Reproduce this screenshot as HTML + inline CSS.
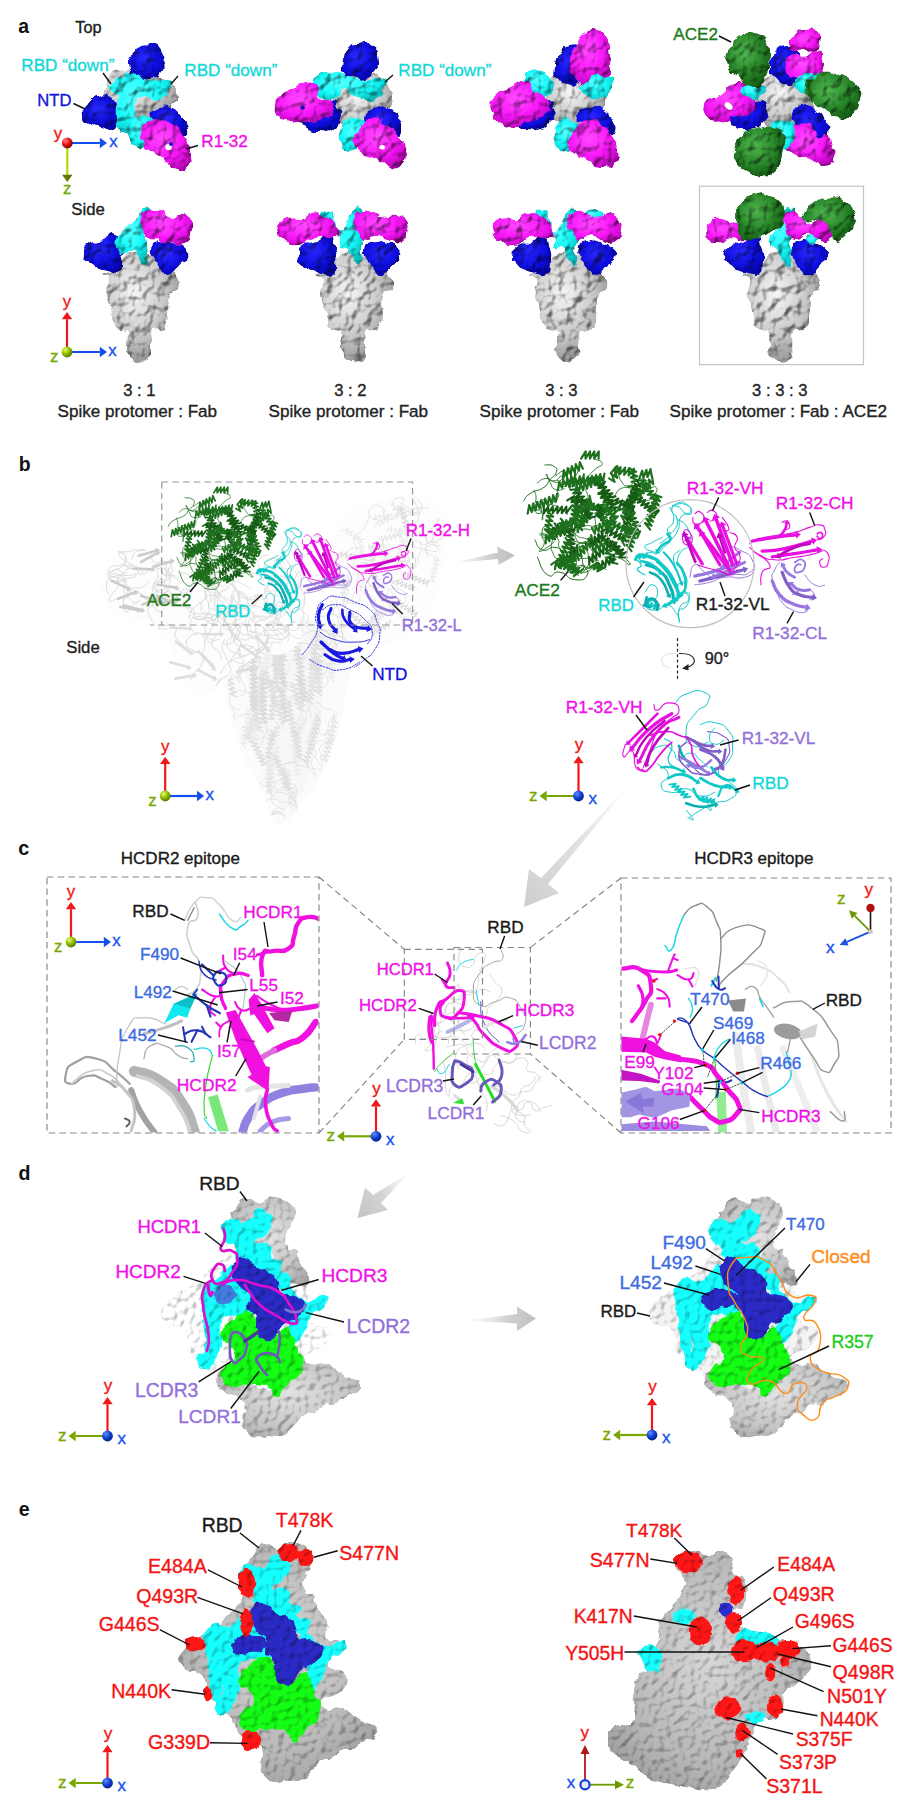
<!DOCTYPE html>
<html><head><meta charset="utf-8"><title>Figure</title>
<style>html,body{margin:0;padding:0;background:#fff}svg{display:block}text{font-family:"Liberation Sans",Arial,sans-serif}</style>
</head><body>
<svg width="922" height="1811" viewBox="0 0 922 1811">
<defs><radialGradient id="gB" cx="0.42" cy="0.38" r="0.75"><stop offset="0" stop-color="#2626f0"/><stop offset="0.55" stop-color="#0c0cd0"/><stop offset="1" stop-color="#02028a"/></radialGradient><radialGradient id="gC" cx="0.42" cy="0.38" r="0.75"><stop offset="0" stop-color="#4dffff"/><stop offset="0.55" stop-color="#12e6e6"/><stop offset="1" stop-color="#08a6a6"/></radialGradient><radialGradient id="gM" cx="0.42" cy="0.38" r="0.75"><stop offset="0" stop-color="#ff44ff"/><stop offset="0.55" stop-color="#e614e6"/><stop offset="1" stop-color="#a004a0"/></radialGradient><radialGradient id="gG" cx="0.42" cy="0.38" r="0.75"><stop offset="0" stop-color="#4aac4a"/><stop offset="0.55" stop-color="#237a23"/><stop offset="1" stop-color="#0e480e"/></radialGradient><radialGradient id="gS" cx="0.42" cy="0.38" r="0.75"><stop offset="0" stop-color="#e6e6e6"/><stop offset="0.5" stop-color="#bebebe"/><stop offset="1" stop-color="#767676"/></radialGradient><radialGradient id="sp_g" cx="0.35" cy="0.3" r="0.8"><stop offset="0" stop-color="#e8ff60"/><stop offset="0.5" stop-color="#8cb800"/><stop offset="1" stop-color="#4a6a00"/></radialGradient><radialGradient id="sp_b" cx="0.35" cy="0.3" r="0.8"><stop offset="0" stop-color="#6090ff"/><stop offset="0.5" stop-color="#1040d0"/><stop offset="1" stop-color="#001878"/></radialGradient><radialGradient id="sp_r" cx="0.35" cy="0.3" r="0.8"><stop offset="0" stop-color="#ff8080"/><stop offset="0.5" stop-color="#e01010"/><stop offset="1" stop-color="#600000"/></radialGradient><filter id="bump" x="-2%" y="-3%" width="104%" height="106%" color-interpolation-filters="sRGB">
<feTurbulence type="fractalNoise" baseFrequency="0.1" numOctaves="2" seed="7" result="n"/>
<feDisplacementMap in="SourceGraphic" in2="n" scale="7" xChannelSelector="R" yChannelSelector="G" result="d"/>
<feDiffuseLighting in="n" surfaceScale="4" diffuseConstant="1.2" lighting-color="#ffffff" result="l"><feDistantLight azimuth="225" elevation="55"/></feDiffuseLighting>
<feComposite in="l" in2="d" operator="arithmetic" k1="0.85" k2="0" k3="0.22" k4="0" result="m"/>
<feComposite in="m" in2="d" operator="in"/>
</filter><radialGradient id="gS2" cx="0.5" cy="0.45" r="0.7"><stop offset="0" stop-color="#cecece"/><stop offset="0.6" stop-color="#b4b4b4"/><stop offset="1" stop-color="#909090"/></radialGradient><radialGradient id="gS3" cx="0.5" cy="0.45" r="0.7"><stop offset="0" stop-color="#c4c4c4"/><stop offset="0.6" stop-color="#a8a8a8"/><stop offset="1" stop-color="#888888"/></radialGradient><filter id="bump2" x="-5%" y="-5%" width="110%" height="110%" color-interpolation-filters="sRGB">
<feTurbulence type="fractalNoise" baseFrequency="0.16" numOctaves="1" seed="11" result="n"/>
<feDisplacementMap in="SourceGraphic" in2="n" scale="6" xChannelSelector="R" yChannelSelector="G" result="d"/>
<feDiffuseLighting in="n" surfaceScale="3" diffuseConstant="1.2" lighting-color="#ffffff" result="l"><feDistantLight azimuth="225" elevation="58"/></feDiffuseLighting>
<feComposite in="l" in2="d" operator="arithmetic" k1="0.66" k2="0" k3="0.44" k4="0" result="m"/>
<feComposite in="m" in2="d" operator="in"/>
</filter><linearGradient id="arA" x1="0" x2="1" y1="0" y2="0"><stop offset="0" stop-color="#d8d8d8" stop-opacity="0"/><stop offset="0.6" stop-color="#cfcfcf"/><stop offset="1" stop-color="#bdbdbd"/></linearGradient><linearGradient id="arB" gradientUnits="userSpaceOnUse" x1="632" y1="782" x2="524" y2="907"><stop offset="0" stop-color="#e4e4e4" stop-opacity="0"/><stop offset="0.45" stop-color="#e2e2e2"/><stop offset="1" stop-color="#cecece"/></linearGradient><linearGradient id="arC" gradientUnits="userSpaceOnUse" x1="410" y1="1172" x2="358" y2="1219"><stop offset="0" stop-color="#e0e0e0" stop-opacity="0"/><stop offset="0.5" stop-color="#d4d4d4"/><stop offset="1" stop-color="#c4c4c4"/></linearGradient><linearGradient id="arD" gradientUnits="userSpaceOnUse" x1="466" y1="0" x2="536" y2="0"><stop offset="0" stop-color="#e0e0e0" stop-opacity="0"/><stop offset="0.6" stop-color="#d0d0d0"/><stop offset="1" stop-color="#c0c0c0"/></linearGradient></defs>
<rect width="922" height="1811" fill="#fff"/>
<g filter="url(#bump)">
<path d="M177.6,95 C178.4,102.7 179.1,100.4 173,106.9 C167,113.3 168.7,109.8 159.5,114.3 C150.3,118.8 155.7,118.4 145.4,120.3 C135.1,122.2 139.6,121.6 128.6,120.1 C117.7,118.6 121.9,120.3 112.6,115.9 C103.3,111.6 104.3,113.9 100.8,106.9 C97.3,100 100.4,102.4 102.1,95 C103.8,87.6 102.8,92 106,84.8 C109.2,77.6 104.2,78.2 111.7,73.3 C119.3,68.4 117.3,71.7 128.7,70 C140.1,68.3 136,66.1 145.9,68.3 C155.8,70.6 150,71.5 158.3,76.7 C166.7,81.9 164.4,77.7 170.9,83.8 C177.3,89.9 176.9,87.3 177.6,95Z" fill="url(#gS)" />
<path d="M134.8,51.7 C141.7,44.1 140.9,44.4 150,44 C159.1,43.6 157.4,44.4 162,50.6 C166.6,56.8 164.1,54.9 163.7,62.5 C163.3,70.1 165.1,68 160.9,73.4 C156.7,78.8 158.6,77.7 151,78.8 C143.4,79.9 145.2,80.6 138,76.6 C130.8,72.6 130.5,75.2 129.4,66.9 C128.3,58.6 127.9,59.3 134.8,51.7Z" fill="url(#gB)" />
<path d="M82.8,114.6 C82.4,108.1 81.7,109.9 87.1,103.8 C92.5,97.7 90.7,97.7 99,96.2 C107.3,94.7 105.7,94.7 112.1,99.4 C118.5,104.1 116.3,102.3 118.1,110.3 C119.9,118.3 119.5,116.8 117.5,123.3 C115.5,129.8 118.3,128.7 112.1,129.8 C105.9,130.9 107,128.7 99,126.5 C91,124.3 93.6,127.3 88.2,123.3 C82.8,119.3 83.2,121.1 82.8,114.6Z" fill="url(#gB)" />
<path d="M151.1,116.8 C149.6,111.4 151.1,112.1 157.6,109.2 C164.1,106.3 162.6,105.6 170.6,108.1 C178.6,110.6 176.1,110.3 181.5,116.8 C186.9,123.3 186.2,121.1 186.9,127.6 C187.6,134.1 188.3,134.1 183.6,136.3 C178.9,138.5 180,137.7 172.8,134.1 C165.6,130.5 169.2,131.2 162,125.4 C154.8,119.6 152.6,122.2 151.1,116.8Z" fill="url(#gB)" />
<path d="M106.6,83.8 C106.2,81.3 106.9,88 112,85.3 C117.1,82.6 115.3,79.9 121.8,75.6 C128.3,71.3 124.7,71.2 131.6,72.3 C138.5,73.4 134.5,76.1 142.4,78.8 C150.3,81.5 146.7,79.8 155.4,80.3 C164.1,80.8 162.6,79.7 168.5,80.3 C174.4,80.9 172.9,79.2 173.2,82 C173.5,84.8 172.6,83.5 169.5,88.6 C166.4,93.7 168.7,93.6 164,97.2 C159.3,100.8 161.9,99.4 155.4,99.4 C148.9,99.4 151.1,96.5 144.6,97.2 C138.1,97.9 139.2,95.1 135.9,101.6 C132.6,108.1 136.2,108.1 134.8,116.8 C133.4,125.5 134.9,122.2 131.6,127.6 C128.3,133 129.3,133 125,133 C120.7,133 121.3,134.5 118.6,127.6 C115.9,120.7 117,121.8 116.8,112.4 C116.6,103 119.3,105.9 118.1,99.4 C116.9,92.9 116.9,98.1 113.1,92.9 C109.3,87.7 107,86.3 106.6,83.8Z" fill="url(#gC)" />
<path d="M129.4,125.4 C131.6,118.5 130.1,120.8 135.9,117.9 C141.7,115 140.3,115 146.8,116.8 C153.3,118.6 153.2,117.5 155.4,123.3 C157.6,129.1 156.2,129 153.3,134.1 C150.4,139.2 150.4,134.2 146.8,138.5 C143.2,142.8 146.4,144.2 142.4,147.1 C138.4,150 139.1,150 134.8,147.1 C130.5,144.2 131.2,145.7 129.4,138.5 C127.6,131.3 127.2,132.3 129.4,125.4Z" fill="url(#gC)" />
<path d="M141.3,136.3 C143.1,128.7 142,126.5 148.9,121.1 C155.8,115.7 153.3,118.6 162,120 C170.7,121.4 167.1,119.2 175,125.4 C182.9,131.6 180.4,128.4 185.8,138.5 C191.2,148.6 190.5,146.4 191.2,155.8 C191.9,165.2 192.7,162 188,166.7 C183.3,171.4 185.1,172.1 177.1,169.9 C169.1,167.7 172.8,166.3 164.1,160.2 C155.4,154.1 158,156.9 151.1,151.5 C144.2,146.1 146.8,149 143.5,143.9 C140.2,138.8 139.5,143.9 141.3,136.3Z" fill="url(#gM)" />
<path d="M392.6,101 C391.4,109.8 389.8,105.8 384.8,113.3 C379.8,120.7 383.2,116.6 377.6,123.2 C371.9,129.9 375.7,130.1 367.9,133.3 C360.1,136.4 362.8,135 354.2,132.6 C345.7,130.3 348.4,132.3 342.3,126.1 C336.2,119.8 339.5,122.3 335.9,113.9 C332.2,105.6 331.9,109.9 331.4,101 C330.9,92.1 330.6,95.5 334.3,87.3 C338.1,79.1 335.7,81.2 342.6,76.4 C349.5,71.6 346.7,74.6 355,72.8 C363.2,71.1 359.5,69.7 367.4,71.2 C375.3,72.7 371.7,72 378.7,77.3 C385.7,82.5 383.7,79 388.3,86.9 C392.9,94.9 393.8,92.2 392.6,101Z" fill="url(#gS)" />
<path d="M341.1,66.1 C341.9,58.2 341.1,57.4 347.3,49.9 C353.5,42.4 351.1,44.9 359.8,43.7 C368.5,42.5 367.3,41.6 373.5,46.2 C379.7,50.8 377.7,49.5 378.5,57.4 C379.3,65.3 379.7,62.8 376,69.9 C372.3,77 374.4,76.1 367.3,78.6 C360.2,81.1 362.3,79.1 354.8,77.4 C347.3,75.7 349.4,77.4 344.8,73.6 C340.2,69.8 340.3,74 341.1,66.1Z" fill="url(#gB)" />
<path d="M301.2,122.3 C302.9,117.7 300.4,121.5 309.9,114.8 C319.4,108.1 320.2,104.8 329.8,102.3 C339.4,99.8 335.3,101.5 338.6,107.3 C341.9,113.1 341.9,112.3 339.8,119.8 C337.7,127.3 339.8,126.1 332.3,129.8 C324.8,133.5 326.5,131.4 317.4,131 C308.3,130.6 310.3,131.4 304.9,128.5 C299.5,125.6 299.5,126.9 301.2,122.3Z" fill="url(#gB)" />
<path d="M364.8,116 C366.4,110.6 366.4,111.1 374.7,108.6 C383,106.1 381.4,104.9 389.7,108.6 C398,112.3 396,111.9 399.7,119.8 C403.4,127.7 402.6,127.2 400.9,132.2 C399.2,137.2 400.9,136.3 394.7,134.7 C388.5,133.1 390.5,130.6 382.2,127.3 C373.9,124 375.6,128.6 369.8,124.8 C364,121 363.2,121.4 364.8,116Z" fill="url(#gB)" />
<path d="M313.6,79.9 C315.3,74.1 313.7,74.5 319.9,72.4 C326.1,70.3 324.8,73.2 332.3,73.6 C339.8,74 334.8,71.9 342.3,73.6 C349.8,75.3 345.6,76.5 354.8,78.6 C364,80.7 360.7,79.9 369.8,79.9 C378.9,79.9 376.2,78.2 382.2,78.6 C388.2,79 387.3,77.8 387.7,81.1 C388.1,84.4 387,83.2 383.5,88.6 C380,94 382.6,93.1 377.2,97.3 C371.8,101.5 374.4,101.5 367.3,101.1 C360.2,100.7 363.5,99.9 356,96.1 C348.5,92.3 350.6,90.2 344.8,89.8 C339,89.4 342.8,91.5 338.6,94.8 C334.4,98.1 338.5,99 332.3,99.8 C326.1,100.6 325.7,100.6 319.9,97.3 C314.1,94 317,95.6 314.9,89.8 C312.8,84 311.9,85.7 313.6,79.9Z" fill="url(#gC)" />
<path d="M275,104.8 C275.8,97.7 274.6,100.6 281.2,94.8 C287.8,89 285.3,91.4 294.9,87.3 C304.5,83.2 302,82.4 309.9,82.4 C317.8,82.4 316.1,82.3 318.6,87.3 C321.1,92.3 312.8,92.3 317.4,97.3 C322,102.3 327.7,96.9 332.3,102.3 C336.9,107.7 335.2,107.7 331.1,113.5 C327,119.3 328.6,116.5 319.9,119.8 C311.2,123.1 314.9,123.1 304.9,123.5 C294.9,123.9 298.6,123.5 289.9,121 C281.2,118.5 283.7,121.4 278.7,116 C273.7,110.6 274.2,111.9 275,104.8Z" fill="url(#gM)" />
<path d="M339.8,132.2 C341.7,125.1 339.9,125.6 346.1,121 C352.3,116.4 351.4,117.2 358.5,118.5 C365.6,119.8 364.8,118.5 367.3,124.8 C369.8,131.1 368.9,131.1 366,137.3 C363.1,143.5 362.2,138.9 358.5,143.5 C354.8,148.1 358.9,148.9 354.8,151 C350.7,153.1 350.9,152.6 346.1,149.7 C341.3,146.8 342.4,148 340.3,142.2 C338.2,136.4 337.9,139.3 339.8,132.2Z" fill="url(#gC)" />
<path d="M353.5,142.2 C353.5,133.5 356.1,133.9 362.3,126 C368.5,118.1 363.9,118.9 372.2,118.5 C380.5,118.1 378.5,118.5 387.2,124.8 C395.9,131.1 392.2,129 398.4,137.3 C404.6,145.6 404.2,141.4 405.9,149.7 C407.6,158 408,156.4 403.4,162.2 C398.8,168 400.9,168 392.2,167.2 C383.5,166.4 387.2,164.7 377.2,159.7 C367.2,154.7 370.2,158 362.3,152.2 C354.4,146.4 353.5,150.9 353.5,142.2Z" fill="url(#gM)" />
<path d="M605.3,100 C604.8,108.7 605.1,104.7 601.3,112.7 C597.6,120.7 600.6,118.2 594.1,123.9 C587.6,129.7 590.2,129.1 581.8,130 C573.4,130.9 576.8,129.6 568.9,126.7 C561,123.8 565.7,125.4 558.1,121.2 C550.5,116.9 550,121 546.1,113.9 C542.3,106.8 545.4,108.7 546.4,100 C547.5,91.3 546.7,96.3 549.4,87.7 C552.1,79.1 548.1,79.8 554.4,74.2 C560.8,68.6 559.1,72.7 568.4,70.9 C577.6,69.1 573.7,66.9 582.1,68.8 C590.5,70.7 586.7,70.7 593.6,76.7 C600.5,82.6 598.9,78.8 602.8,86.6 C606.7,94.4 605.8,91.3 605.3,100Z" fill="url(#gS)" />
<path d="M554.8,67.4 C555.6,59.5 554.8,61.2 559.8,53.7 C564.8,46.2 563.1,46.2 569.8,44.9 C576.5,43.6 575.7,43.2 579.8,49.9 C583.9,56.6 583,54.1 582.2,64.9 C581.4,75.7 582.3,75.7 577.3,82.3 C572.3,88.9 574,86.5 567.3,84.8 C560.6,83.1 561.5,83.1 557.3,77.3 C553.1,71.5 554,75.3 554.8,67.4Z" fill="url(#gB)" />
<path d="M516.1,123.5 C519,120.2 517.8,124.8 527.4,117.3 C537,109.8 536.1,103.9 544.8,101 C553.5,98.1 551.5,102.2 553.6,108.5 C555.7,114.8 554.9,113.1 551.1,119.8 C547.3,126.5 550.2,125.4 542.3,128.5 C534.4,131.6 535.3,129.6 527.4,129.2 C519.5,128.8 522.4,129.1 518.6,127.2 C514.8,125.3 513.2,126.8 516.1,123.5Z" fill="url(#gB)" />
<path d="M577.3,114.8 C579,109.6 578.9,109.9 587.2,107.8 C595.5,105.7 593.9,104.5 602.2,108.5 C610.5,112.5 608,111.9 612.2,119.8 C616.4,127.7 616.4,127.2 614.7,132.2 C613,137.2 613.9,136.8 607.2,134.7 C600.5,132.6 603,129.7 594.7,126 C586.4,122.3 588,127.2 582.2,123.5 C576.4,119.8 575.6,120 577.3,114.8Z" fill="url(#gB)" />
<path d="M579.8,84.8 C581.5,80.2 581,81 586,77.3 C591,73.6 587.6,74 594.7,73.6 C601.8,73.2 601.2,73.2 607.2,76.1 C613.2,79 611.9,76.9 612.7,82.3 C613.5,87.7 614,87.3 609.7,92.3 C605.4,97.3 607.2,96 599.7,97.3 C592.2,98.6 593.4,98.2 587.2,96.1 C581,94 583.5,94.9 581,91.1 C578.5,87.3 578.1,89.4 579.8,84.8Z" fill="url(#gC)" />
<path d="M569.8,64.9 C570.2,54.1 570.2,55.7 576,44.9 C581.8,34.1 580.1,37.4 587.2,32.4 C594.3,27.4 591,28.3 597.2,30 C603.4,31.7 601.7,29.9 605.9,37.4 C610.1,44.9 608,42.4 609.7,52.4 C611.4,62.4 612.2,59.1 610.9,67.4 C609.6,75.7 611.3,74.8 605.9,77.3 C600.5,79.8 601.8,72.8 594.7,74.9 C587.6,77 591.3,82.8 584.7,83.6 C578.1,84.4 579.8,83.5 574.8,77.3 C569.8,71.1 569.4,75.7 569.8,64.9Z" fill="url(#gM)" />
<path d="M523.6,78.6 C524,72.4 524.1,73.6 529.9,71.1 C535.7,68.6 534,68.6 541.1,71.1 C548.2,73.6 546.9,73.2 551.1,78.6 C555.3,84 554.9,81.5 553.6,87.3 C552.3,93.1 552.7,92.8 547.3,96.1 C541.9,99.4 543.5,99.4 537.3,97.3 C531.1,95.2 533.2,96 528.6,89.8 C524,83.6 523.2,84.8 523.6,78.6Z" fill="url(#gC)" />
<path d="M491.2,104.8 C492.2,99.4 488.7,101.9 494.9,96.1 C501.1,90.3 499.5,92.3 509.9,87.3 C520.3,82.3 518.6,80.3 526.1,81.1 C533.6,81.9 527,84.8 532.4,89.8 C537.8,94.8 536.5,91.1 542.3,96.1 C548.1,101.1 549,98.6 549.8,104.8 C550.6,111 551.4,109.4 544.8,114.8 C538.2,120.2 540.7,116.9 529.9,121 C519.1,125.1 523.2,127.2 512.4,127.2 C501.6,127.2 504.2,126 497.4,121 C490.6,116 494.1,117.7 492,112.3 C489.9,106.9 490.2,110.2 491.2,104.8Z" fill="url(#gM)" />
<path d="M553.6,134.7 C554,126.4 553.2,127.3 558.6,122.3 C564,117.3 562.7,118.6 569.8,119.8 C576.9,121 576.1,120.2 579.8,126 C583.5,131.8 582.7,130.5 581,137.2 C579.3,143.9 579.4,141 574.8,146 C570.2,151 573.1,151.8 567.3,152.2 C561.5,152.6 561.9,153 557.3,147.2 C552.7,141.4 553.2,143 553.6,134.7Z" fill="url(#gC)" />
<path d="M568.5,144.7 C568.5,136.8 568.6,137.6 574.8,129.7 C581,121.8 578.1,122.6 587.2,121 C596.3,119.4 593.9,119.4 602.2,124.8 C610.5,130.2 606.8,128.1 612.2,137.2 C617.6,146.3 617.6,143.5 618.4,152.2 C619.2,160.9 620.1,158.4 614.7,163.4 C609.3,168.4 611.4,168.4 602.2,167.2 C593,166 596.3,164.3 587.2,159.7 C578.1,155.1 581,158.4 574.8,153.4 C568.6,148.4 568.5,152.6 568.5,144.7Z" fill="url(#gM)" />
<path d="M812.7,100 C813,108.3 814.9,105.5 811.6,112.7 C808.3,120 809.4,117.2 802.8,121.8 C796.3,126.5 799.6,124.4 791.9,126.7 C784.2,129 788.2,129.1 779.7,128.7 C771.2,128.2 773.5,130.4 766.4,125.4 C759.3,120.5 762,122.3 758.3,113.8 C754.7,105.3 754.5,108.7 755.5,100 C756.5,91.3 757.2,95.6 761.3,87.7 C765.4,79.8 761.6,81.6 767.8,76.4 C774,71.2 771.8,73.3 779.8,72.1 C787.9,70.8 784.4,70.6 792,72.7 C799.6,74.8 796.5,73.4 802.7,78.4 C808.9,83.4 807.3,80.5 810.6,87.7 C814,94.9 812.4,91.7 812.7,100Z" fill="url(#gS)" />
<path d="M769.8,67.4 C769.8,59.1 769.8,59.5 774.8,52.4 C779.8,45.3 777.2,46.6 784.7,46.2 C792.2,45.8 792.2,44.1 797.2,51.2 C802.2,58.3 800.5,57 799.7,67.4 C798.9,77.8 799.7,76.5 794.7,82.3 C789.7,88.1 791.3,86.5 784.7,84.8 C778.1,83.1 779.8,83.1 774.8,77.3 C769.8,71.5 769.8,75.7 769.8,67.4Z" fill="url(#gB)" />
<path d="M726.1,109.8 C728.2,104.4 725.3,106.8 734.9,103.5 C744.5,100.2 744.4,98.1 754.8,99.8 C765.2,101.5 763.1,101 766,108.5 C768.9,116 768.1,115.4 763.5,122.3 C758.9,129.2 761,127.6 752.3,129.2 C743.6,130.8 745.2,130.3 737.3,127.2 C729.4,124.1 732.3,125.6 728.6,119.8 C724.9,114 724,115.2 726.1,109.8Z" fill="url(#gB)" />
<path d="M792.2,114.8 C793.9,107.7 794.3,107.7 802.2,106 C810.1,104.3 808,104.4 815.9,109.8 C823.8,115.2 821.7,113.2 825.9,122.3 C830.1,131.4 830.5,129.3 828.4,137.2 C826.3,145.1 825.9,145.2 819.7,146 C813.5,146.8 817.2,146 809.7,139.7 C802.2,133.4 803,135.5 797.2,127.2 C791.4,118.9 790.5,121.9 792.2,114.8Z" fill="url(#gB)" />
<path d="M789.7,44.9 C790.1,39.1 789.3,39.1 794.7,33.7 C800.1,28.3 798.4,29.1 805.9,28.7 C813.4,28.3 812.6,27 817.2,32.4 C821.8,37.8 821,38.2 819.7,44.9 C818.4,51.6 819.2,50.7 813.4,52.4 C807.6,54.1 808.8,50.3 802.2,49.9 C795.6,49.5 797.7,52.9 793.5,51.2 C789.3,49.5 789.3,50.7 789.7,44.9Z" fill="url(#gM)" />
<path d="M786,63.6 C787.2,57.4 786,57 792.2,54.9 C798.4,52.8 796.4,58.6 804.7,57.4 C813,56.2 811.2,50.8 817.2,51.2 C823.2,51.6 821,51.5 822.7,58.6 C824.4,65.7 824.9,64.5 822.2,72.4 C819.5,80.3 820.5,78.6 814.7,82.3 C808.9,86 810.5,85.3 804.7,83.6 C798.9,81.9 802.6,80.6 797.2,77.3 C791.8,74 792.2,78.2 788.5,73.6 C784.8,69 784.8,69.8 786,63.6Z" fill="url(#gM)" />
<path d="M703.7,107.3 C704.5,101.5 703.3,102.7 708.7,98.5 C714.1,94.3 712,99.4 719.9,94.8 C727.8,90.2 724.1,89 732.4,84.8 C740.7,80.6 738.2,79.8 744.8,82.3 C751.4,84.8 748.5,85.6 752.3,92.3 C756.1,99 756.1,95.6 756.1,102.3 C756.1,109 756.9,107.3 752.3,112.3 C747.7,117.3 748.9,116.5 742.3,117.3 C735.7,118.1 737,113.1 732.4,114.8 C727.8,116.5 734,120.2 728.6,122.3 C723.2,124.4 723.6,123.1 716.1,121 C708.6,118.9 710.3,120.6 706.2,116 C702.1,111.4 702.9,113.1 703.7,107.3Z" fill="url(#gM)" />
<path d="M783.5,142.2 C783.9,134.7 783.5,135.9 789.7,129.7 C795.9,123.5 794.3,123.9 802.2,123.5 C810.1,123.1 808.4,123.9 813.4,128.5 C818.4,133.1 813,135.1 817.2,137.2 C821.4,139.3 820.9,132.2 825.9,134.7 C830.9,137.2 829.6,137.2 832.1,144.7 C834.6,152.2 835.9,150.1 833.4,157.2 C830.9,164.3 831.8,165.1 824.7,165.9 C817.6,166.7 820.5,162.6 812.2,159.7 C803.9,156.8 807.6,159.7 799.7,157.2 C791.8,154.7 793.9,157.2 788.5,152.2 C783.1,147.2 783.1,149.7 783.5,142.2Z" fill="url(#gM)" />
<path d="M794.7,82.3 C795.5,76.5 795.5,76.5 802.2,73.6 C808.9,70.7 807.2,71.9 814.7,73.6 C822.2,75.3 823,73.2 824.7,78.6 C826.4,84 824.7,84.8 819.7,89.8 C814.7,94.8 816.4,93.2 809.7,93.6 C803,94 804.7,94.9 799.7,91.1 C794.7,87.3 793.9,88.1 794.7,82.3Z" fill="url(#gC)" />
<path d="M741.1,89.8 C741.1,85.2 741.9,86.1 747.3,83.6 C752.7,81.1 751.5,80.2 757.3,82.3 C763.1,84.4 764,84.8 764.8,89.8 C765.6,94.8 765.6,94.8 759.8,97.3 C754,99.8 753.5,99.8 747.3,97.3 C741.1,94.8 741.1,94.4 741.1,89.8Z" fill="url(#gC)" />
<path d="M771,127.2 C772.7,120.1 772.7,122.2 779.8,121 C786.9,119.8 787.2,118.9 792.2,123.5 C797.2,128.1 795.5,127.2 794.7,134.7 C793.9,142.2 793.9,141 789.7,146 C785.5,151 787.2,151 782.2,149.7 C777.2,148.4 778.5,149.7 774.8,142.2 C771.1,134.7 769.3,134.3 771,127.2Z" fill="url(#gC)" />
<path d="M727.4,67.4 C724.9,57.8 724.9,58.2 729.9,47.4 C734.9,36.6 733.2,39.5 742.3,34.9 C751.4,30.3 749,31.2 757.3,33.7 C765.6,36.2 763.1,33.7 767.3,42.4 C771.5,51.1 770.2,49.1 769.8,59.9 C769.4,70.7 768.5,66.6 766,74.9 C763.5,83.2 767.7,81.5 762.3,84.8 C756.9,88.1 758.1,87.7 749.8,84.8 C741.5,81.9 744.8,81.9 737.3,76.1 C729.8,70.3 729.9,77 727.4,67.4Z" fill="url(#gG)" />
<path d="M804.7,87.3 C805.5,79.4 806.4,82.3 814.7,77.3 C823,72.3 819.6,72.4 829.6,72.4 C839.6,72.4 835,72.3 844.6,77.3 C854.2,82.3 853.3,79 858.3,87.3 C863.3,95.6 861.7,93.1 859.6,102.3 C857.5,111.5 858.8,109.4 852.1,114.8 C845.4,120.2 848.7,120.2 839.6,118.5 C830.5,116.8 833.8,115.6 824.7,109.8 C815.6,104 818.9,108.5 812.2,101 C805.5,93.5 803.9,95.2 804.7,87.3Z" fill="url(#gG)" />
<path d="M734.9,149.7 C736.6,140.5 734.8,141.8 742.3,134.7 C749.8,127.6 746.5,131 757.3,128.5 C768.1,126 766.1,124.3 774.8,127.2 C783.5,130.1 781,128 783.5,137.2 C786,146.4 784.3,143.9 782.2,154.7 C780.1,165.5 783.9,162.5 777.3,169.6 C770.7,176.7 772.3,175.1 762.3,175.9 C752.3,176.7 755.6,176.7 747.3,172.1 C739,167.5 741.4,169.7 737.3,162.2 C733.2,154.7 733.2,158.9 734.9,149.7Z" fill="url(#gG)" />
<path d="M122.4,259.9 C127.4,254.8 125.7,253.2 132.3,251.9 C138.9,250.6 138.6,253.4 147.3,254.9 C156,256.4 157.5,252.8 164.8,257.4 C172.1,262 171,264.3 174.7,272.3 C178.4,280.3 179.8,281.3 178.5,287.3 C177.2,293.3 172.5,288.2 169.8,294.8 C167.1,301.4 169.4,303.8 168.3,312.2 C167.2,320.6 168.2,321.3 165.5,326.2 C162.8,331.1 161.7,329.1 158,330.5 C154.3,331.9 153.4,327.7 151.5,331.5 C149.6,335.3 151.5,337.7 151,344.7 C150.5,351.7 152.5,353.1 149.5,357.6 C146.5,362.1 145.4,362 139.8,361.5 C134.2,361 131.9,360.9 128.6,355.6 C125.3,350.3 127.2,348.1 127.3,341.7 C127.4,335.3 130.2,334.5 128.8,331.5 C127.4,328.5 125.8,332.2 122,330.5 C118.2,328.8 117.4,331.2 114.4,325 C111.4,318.8 112.8,315.4 110.6,307.3 C108.4,299.2 106.6,302.1 106.1,294.8 C105.6,287.5 109.9,285.1 108.6,279.8 C107.3,274.5 99.9,277.1 101.2,274.8 C102.5,272.5 107.9,275.1 113.6,271.1 C119.3,267.1 117.4,265 122.4,259.9Z" fill="url(#gS)" />
<path d="M83.7,254.9 C84.5,249.1 82.5,248.6 88.7,243.6 C94.9,238.6 93.7,243.6 102.4,239.9 C111.1,236.2 108.7,230.7 114.9,232.4 C121.1,234.1 118.6,235.7 121.1,244.9 C123.6,254.1 123.2,250.8 122.4,259.9 C121.6,269 123.6,268.6 118.6,272.3 C113.6,276 115.3,272.8 107.4,271.1 C99.5,269.4 102,270.6 94.9,267.3 C87.8,264 89.9,265.2 86.2,261.1 C82.5,257 82.9,260.7 83.7,254.9Z" fill="url(#gB)" />
<path d="M151,248.6 C152.2,242.3 151.4,243.2 158.5,241.1 C165.6,239 163.5,239.9 172.2,242.4 C180.9,244.9 179.7,243.6 184.7,248.6 C189.7,253.6 188.9,252 187.2,257.4 C185.5,262.8 185.5,259.2 179.7,264.8 C173.9,270.4 176,272.6 169.8,274.3 C163.6,276 166,274.6 161,269.8 C156,265 158.1,267 154.8,259.9 C151.5,252.8 149.8,254.9 151,248.6Z" fill="url(#gB)" />
<path d="M336.4,259.9 C341.4,254.8 339.7,253.2 346.3,251.9 C352.9,250.6 352.6,253.4 361.3,254.9 C370,256.4 371.5,252.8 378.8,257.4 C386.1,262 385,264.3 388.7,272.3 C392.4,280.3 393.8,281.3 392.5,287.3 C391.2,293.3 386.5,288.2 383.8,294.8 C381.1,301.4 383.4,303.8 382.3,312.2 C381.2,320.6 382.2,321.3 379.5,326.2 C376.8,331.1 375.7,329.1 372,330.5 C368.3,331.9 367.4,327.7 365.5,331.5 C363.6,335.3 365.5,337.7 365,344.7 C364.5,351.7 366.5,353.1 363.5,357.6 C360.5,362.1 359.4,362 353.8,361.5 C348.2,361 345.9,360.9 342.6,355.6 C339.3,350.3 341.2,348.1 341.3,341.7 C341.4,335.3 344.2,334.5 342.8,331.5 C341.4,328.5 339.8,332.2 336,330.5 C332.2,328.8 331.4,331.2 328.4,325 C325.4,318.8 326.8,315.4 324.6,307.3 C322.4,299.2 320.6,302.1 320.1,294.8 C319.6,287.5 323.9,285.1 322.6,279.8 C321.3,274.5 313.9,277.1 315.2,274.8 C316.5,272.5 321.9,275.1 327.6,271.1 C333.3,267.1 331.4,265 336.4,259.9Z" fill="url(#gS)" />
<path d="M297.7,256.9 C298.5,251.1 296.5,250.6 302.7,245.6 C308.9,240.6 307.7,245.6 316.4,241.9 C325.1,238.2 322.7,232.7 328.9,234.4 C335.1,236.1 332.6,237.7 335.1,246.9 C337.6,256.1 337.2,252.8 336.4,261.9 C335.6,271 337.6,270.6 332.6,274.3 C327.6,278 329.3,274.8 321.4,273.1 C313.5,271.4 316,272.6 308.9,269.3 C301.8,266 303.9,267.2 300.2,263.1 C296.5,259 296.9,262.7 297.7,256.9Z" fill="url(#gB)" />
<path d="M364,248.6 C365.2,242.3 364.4,243.2 371.5,241.1 C378.6,239 376.5,239.9 385.2,242.4 C393.9,244.9 392.7,243.6 397.7,248.6 C402.7,253.6 401.9,252 400.2,257.4 C398.5,262.8 398.5,259.2 392.7,264.8 C386.9,270.4 389,272.6 382.8,274.3 C376.6,276 379,274.6 374,269.8 C369,265 371.1,267 367.8,259.9 C364.5,252.8 362.8,254.9 364,248.6Z" fill="url(#gB)" />
<path d="M550.9,259.9 C555.9,254.8 554.2,253.2 560.8,251.9 C567.4,250.6 567.1,253.4 575.8,254.9 C584.5,256.4 586,252.8 593.3,257.4 C600.6,262 599.5,264.3 603.2,272.3 C606.9,280.3 608.3,281.3 607,287.3 C605.7,293.3 601,288.2 598.3,294.8 C595.6,301.4 597.9,303.8 596.8,312.2 C595.7,320.6 596.7,321.3 594,326.2 C591.3,331.1 590.2,329.1 586.5,330.5 C582.8,331.9 581.9,327.7 580,331.5 C578.1,335.3 580,337.7 579.5,344.7 C579,351.7 581,353.1 578,357.6 C575,362.1 573.9,362 568.3,361.5 C562.7,361 560.4,360.9 557.1,355.6 C553.8,350.3 555.7,348.1 555.8,341.7 C555.9,335.3 558.7,334.5 557.3,331.5 C555.9,328.5 554.3,332.2 550.5,330.5 C546.7,328.8 545.9,331.2 542.9,325 C539.9,318.8 541.3,315.4 539.1,307.3 C536.9,299.2 535.1,302.1 534.6,294.8 C534.1,287.5 538.4,285.1 537.1,279.8 C535.8,274.5 528.4,277.1 529.7,274.8 C531,272.5 536.4,275.1 542.1,271.1 C547.8,267.1 545.9,265 550.9,259.9Z" fill="url(#gS)" />
<path d="M512.2,256.9 C513,251.1 511,250.6 517.2,245.6 C523.4,240.6 522.2,245.6 530.9,241.9 C539.6,238.2 537.2,232.7 543.4,234.4 C549.6,236.1 547.1,237.7 549.6,246.9 C552.1,256.1 551.7,252.8 550.9,261.9 C550.1,271 552.1,270.6 547.1,274.3 C542.1,278 543.8,274.8 535.9,273.1 C528,271.4 530.5,272.6 523.4,269.3 C516.3,266 518.4,267.2 514.7,263.1 C511,259 511.4,262.7 512.2,256.9Z" fill="url(#gB)" />
<path d="M578.5,248.6 C579.7,242.3 578.9,243.2 586,241.1 C593.1,239 591,239.9 599.7,242.4 C608.4,244.9 607.2,243.6 612.2,248.6 C617.2,253.6 616.4,252 614.7,257.4 C613,262.8 613,259.2 607.2,264.8 C601.4,270.4 603.5,272.6 597.3,274.3 C591.1,276 593.5,274.6 588.5,269.8 C583.5,265 585.6,267 582.3,259.9 C579,252.8 577.3,254.9 578.5,248.6Z" fill="url(#gB)" />
<path d="M763.9,259.9 C768.9,254.8 767.2,253.2 773.8,251.9 C780.4,250.6 780.1,253.4 788.8,254.9 C797.5,256.4 799,252.8 806.3,257.4 C813.6,262 812.5,264.3 816.2,272.3 C819.9,280.3 821.3,281.3 820,287.3 C818.7,293.3 814,288.2 811.3,294.8 C808.6,301.4 810.9,303.8 809.8,312.2 C808.7,320.6 809.7,321.3 807,326.2 C804.3,331.1 803.2,329.1 799.5,330.5 C795.8,331.9 794.9,327.7 793,331.5 C791.1,335.3 793,337.7 792.5,344.7 C792,351.7 794,353.1 791,357.6 C788,362.1 786.9,362 781.3,361.5 C775.7,361 773.4,360.9 770.1,355.6 C766.8,350.3 768.7,348.1 768.8,341.7 C768.9,335.3 771.7,334.5 770.3,331.5 C768.9,328.5 767.3,332.2 763.5,330.5 C759.7,328.8 758.9,331.2 755.9,325 C752.9,318.8 754.3,315.4 752.1,307.3 C749.9,299.2 748.1,302.1 747.6,294.8 C747.1,287.5 751.4,285.1 750.1,279.8 C748.8,274.5 741.4,277.1 742.7,274.8 C744,272.5 749.4,275.1 755.1,271.1 C760.8,267.1 758.9,265 763.9,259.9Z" fill="url(#gS)" />
<path d="M724.2,256.9 C725,251.1 723,250.6 729.2,245.6 C735.4,240.6 734.2,245.6 742.9,241.9 C751.6,238.2 749.2,232.7 755.4,234.4 C761.6,236.1 759.1,237.7 761.6,246.9 C764.1,256.1 763.7,252.8 762.9,261.9 C762.1,271 764.1,270.6 759.1,274.3 C754.1,278 755.8,274.8 747.9,273.1 C740,271.4 742.5,272.6 735.4,269.3 C728.3,266 730.4,267.2 726.7,263.1 C723,259 723.4,262.7 724.2,256.9Z" fill="url(#gB)" />
<path d="M791.5,248.6 C792.7,242.3 791.9,243.2 799,241.1 C806.1,239 804,239.9 812.7,242.4 C821.4,244.9 820.2,243.6 825.2,248.6 C830.2,253.6 829.4,252 827.7,257.4 C826,262.8 826,259.2 820.2,264.8 C814.4,270.4 816.5,272.6 810.3,274.3 C804.1,276 806.5,274.6 801.5,269.8 C796.5,265 798.6,267 795.3,259.9 C792,252.8 790.3,254.9 791.5,248.6Z" fill="url(#gB)" />
<path d="M144.8,208 C148.1,207.2 149.8,204.4 149.8,210 C149.8,215.6 146,213.3 144.8,224.9 C143.6,236.5 145.3,232.8 146.1,244.9 C146.9,257 148.6,255.3 147.3,261.1 C146,266.9 145.2,263.5 142.3,262.3 C139.4,261.1 141.1,262 138.6,257.4 C136.1,252.8 139.4,249.4 134.8,248.6 C130.2,247.8 130.3,254.5 124.9,254.9 C119.5,255.3 121.3,254.9 118.6,249.9 C115.9,244.9 115.6,246.6 116.9,239.9 C118.2,233.2 117.3,235.7 122.4,229.9 C127.5,224.1 126.5,228.2 132.3,222.4 C138.1,216.6 135.6,217.3 139.8,212.5 C144,207.7 141.5,208.8 144.8,208Z" fill="url(#gC)" />
<path d="M141.1,217.4 C142.8,211.8 141.1,212.6 147.3,210.5 C153.5,208.4 152.3,208.9 159.8,211.2 C167.3,213.5 162.3,216.1 169.8,217.4 C177.3,218.7 175.1,214.2 182.2,215 C189.3,215.8 187.8,214.1 191,219.9 C194.2,225.7 193.8,224.5 191.7,232.4 C189.6,240.3 191.2,240.3 184.7,243.6 C178.2,246.9 180.5,243.6 172.2,242.4 C163.9,241.2 168.1,241.6 159.8,239.9 C151.5,238.2 153.1,241.6 147.3,237.4 C141.5,233.2 144.4,234.1 142.3,227.4 C140.2,220.7 139.4,223 141.1,217.4Z" fill="url(#gM)" />
<path d="M321.9,212 C323.2,208.3 326.8,208.6 331.1,211.2 C335.4,213.8 331.7,213.7 334.8,219.9 C337.9,226.1 336.5,229.1 340.3,229.9 C344.1,230.7 341.7,228.6 346.1,222.4 C350.5,216.2 348.5,215.8 353.5,211.2 C358.5,206.6 358.1,206.6 361,208.7 C363.9,210.8 363.1,211.2 362.3,217.4 C361.5,223.6 358.5,220.7 358.5,227.4 C358.5,234.1 361.5,230.3 362.3,237.4 C363.1,244.5 361.4,240.7 361,248.6 C360.6,256.5 362.7,256.7 361,261.1 C359.3,265.5 359.3,263.9 356,261.8 C352.7,259.7 353.9,259.3 351,254.9 C348.1,250.5 350.6,251.1 347.3,248.6 C344,246.1 343.8,251.1 341.1,247.4 C338.4,243.7 341.4,243.2 339.3,237.4 C337.2,231.6 338.8,234.9 334.8,229.9 C330.8,224.9 331.6,228.4 327.3,222.4 C323,216.4 320.6,215.7 321.9,212Z" fill="url(#gC)" />
<path d="M277.5,232.4 C275,225.3 275.4,226.2 280,221.2 C284.6,216.2 284.1,217.8 291.2,217.4 C298.3,217 294.1,221.1 301.2,219.9 C308.3,218.7 304.1,214.9 312.4,213.7 C320.7,212.5 318.6,212.5 326.1,216.2 C333.6,219.9 330.4,218.7 334.8,224.9 C339.2,231.1 340.1,230.7 339.3,234.9 C338.5,239.1 338.8,237 332.3,237.4 C325.8,237.8 327.4,235.4 319.9,236.2 C312.4,237 316.6,237 309.9,239.9 C303.2,242.8 307.4,244.1 299.9,244.9 C292.4,245.7 294.9,246.6 287.4,242.4 C279.9,238.2 280,239.5 277.5,232.4Z" fill="url(#gM)" />
<path d="M353.5,219.9 C354.3,212 355.6,213.3 362.3,211.2 C369,209.1 366,211.6 373.5,213.7 C381,215.8 377.2,217.4 384.7,217.4 C392.2,217.4 389.2,212.9 395.9,213.7 C402.6,214.5 401.1,214.1 404.7,219.9 C408.3,225.7 408.4,223.7 406.7,231.2 C405,238.7 405.4,239.1 399.7,242.4 C394,245.7 397.2,243.2 389.7,241.1 C382.2,239 384.7,236.6 377.2,236.2 C369.7,235.8 373.1,240.3 367.3,239.9 C361.5,239.5 364.4,241.6 359.8,234.9 C355.2,228.2 352.7,227.8 353.5,219.9Z" fill="url(#gM)" />
<path d="M536.4,212 C537.7,208.3 541.3,208.6 545.6,211.2 C549.9,213.8 546.2,213.7 549.3,219.9 C552.4,226.1 551,229.1 554.8,229.9 C558.6,230.7 556.2,228.6 560.6,222.4 C565,216.2 563,215.8 568,211.2 C573,206.6 572.6,206.6 575.5,208.7 C578.4,210.8 577.6,211.2 576.8,217.4 C576,223.6 573,220.7 573,227.4 C573,234.1 576,230.3 576.8,237.4 C577.6,244.5 575.9,240.7 575.5,248.6 C575.1,256.5 577.2,256.7 575.5,261.1 C573.8,265.5 573.8,263.9 570.5,261.8 C567.2,259.7 568.4,259.3 565.5,254.9 C562.6,250.5 565.1,251.1 561.8,248.6 C558.5,246.1 558.3,251.1 555.6,247.4 C552.9,243.7 555.9,243.2 553.8,237.4 C551.7,231.6 553.3,234.9 549.3,229.9 C545.3,224.9 546.1,228.4 541.8,222.4 C537.5,216.4 535.1,215.7 536.4,212Z" fill="url(#gC)" />
<path d="M586,212 C588.7,208.3 593,208.7 598,211 C603,213.3 603.7,215.3 601,219 C598.3,222.7 595,224.3 590,222 C585,219.7 583.3,215.7 586,212Z" fill="url(#gC)" />
<path d="M492.5,232.4 C490,225.3 490.4,226.2 495,221.2 C499.6,216.2 499.1,217.8 506.2,217.4 C513.3,217 509.1,221.1 516.2,219.9 C523.3,218.7 519.1,214.9 527.4,213.7 C535.7,212.5 533.6,212.5 541.1,216.2 C548.6,219.9 545.4,218.7 549.8,224.9 C554.2,231.1 555.1,230.7 554.3,234.9 C553.5,239.1 553.8,237 547.3,237.4 C540.8,237.8 542.4,235.4 534.9,236.2 C527.4,237 531.6,237 524.9,239.9 C518.2,242.8 522.4,244.1 514.9,244.9 C507.4,245.7 509.9,246.6 502.4,242.4 C494.9,238.2 495,239.5 492.5,232.4Z" fill="url(#gM)" />
<path d="M567.5,219.9 C568.3,212 569.6,213.3 576.3,211.2 C583,209.1 580,211.6 587.5,213.7 C595,215.8 591.2,217.4 598.7,217.4 C606.2,217.4 603.2,212.9 609.9,213.7 C616.6,214.5 615.1,214.1 618.7,219.9 C622.3,225.7 622.4,223.7 620.7,231.2 C619,238.7 619.4,239.1 613.7,242.4 C608,245.7 611.2,243.2 603.7,241.1 C596.2,239 598.7,236.6 591.2,236.2 C583.7,235.8 587.1,240.3 581.3,239.9 C575.5,239.5 578.4,241.6 573.8,234.9 C569.2,228.2 566.7,227.8 567.5,219.9Z" fill="url(#gM)" />
<path d="M769.3,236.1 C771.4,231.9 771.6,238.2 776.1,229.9 C780.6,221.6 777.8,218 782.8,211.2 C787.8,204.4 786.6,208.6 791,209.4 C795.4,210.2 796.4,207.7 796,213.7 C795.6,219.7 791.5,217.8 789.8,227.4 C788.1,237 791,230.8 791,242.4 C791,254 792,255.2 789.8,262.3 C787.6,269.4 787.6,266.5 784.3,263.6 C781,260.7 783.4,259 779.8,253.6 C776.2,248.2 776.9,251.1 773.6,247.4 C770.3,243.7 771.2,246.2 769.8,242.4 C768.4,238.6 767.2,240.3 769.3,236.1Z" fill="url(#gC)" />
<path d="M808,236 C810.7,233 813.3,231.7 816,234 C818.7,236.3 818.7,240 816,243 C813.3,246 810.7,245.3 808,243 C805.3,240.7 805.3,239 808,236Z" fill="url(#gC)" />
<path d="M706.2,233.6 C706.2,227.4 705.4,227.4 710,222.4 C714.6,217.4 713.3,218.7 719.9,218.7 C726.5,218.7 723.2,219.9 729.9,222.4 C736.6,224.9 734.9,221.5 739.9,226.1 C744.9,230.7 744.9,231.1 744.9,236.1 C744.9,241.1 744.9,240.3 739.9,241.1 C734.9,241.9 736.6,237.8 729.9,238.6 C723.2,239.4 726.5,242.8 719.9,243.6 C713.3,244.4 714.6,244.4 710,241.1 C705.4,237.8 706.2,239.8 706.2,233.6Z" fill="url(#gM)" />
<path d="M782.3,217.4 C784.8,212.2 785.7,211.9 792.3,211.9 C798.9,211.9 796.4,213.9 802.2,217.4 C808,220.9 803.9,222.4 809.7,222.4 C815.5,222.4 813,218.2 819.7,217.4 C826.4,216.6 825.1,215.7 829.7,219.9 C834.3,224.1 833.8,223.2 833.4,229.9 C833,236.6 833.8,237 828.4,239.9 C823,242.8 824.3,240.3 817.2,238.6 C810.1,236.9 813.8,234.5 807.2,234.9 C800.6,235.3 803.5,239.5 797.3,239.9 C791.1,240.3 792.7,240.3 788.5,236.1 C784.3,231.9 786.9,233.6 784.8,227.4 C782.7,221.2 779.8,222.6 782.3,217.4Z" fill="url(#gM)" />
<path d="M803.5,213.7 C806,207.4 806,207.8 814.7,202.4 C823.4,197 819.7,197.9 829.7,197.5 C839.7,197.1 836.4,196.2 844.7,201.2 C853,206.2 851.7,204.1 854.6,212.4 C857.5,220.7 856.7,218.2 853.4,226.1 C850.1,234 850.9,231.1 844.7,236.1 C838.5,241.1 839.7,243.2 834.7,241.1 C829.7,239 834.7,237 829.7,229.9 C824.7,222.8 827.2,222.8 819.7,219.9 C812.2,217 812.6,223.3 807.2,221.2 C801.8,219.1 801,220 803.5,213.7Z" fill="url(#gG)" />
<path d="M736.1,217.4 C736.5,208.7 733.6,211.6 739.9,203.7 C746.2,195.8 744.9,196.6 754.9,193.7 C764.9,190.8 762.3,192.9 769.8,195 C777.3,197.1 772.7,195 777.3,200 C781.9,205 781.8,202.4 783.5,209.9 C785.2,217.4 785.2,215.7 782.3,222.4 C779.4,229.1 781.5,225.3 774.8,229.9 C768.1,234.5 771.4,232.8 762.3,236.1 C753.2,239.4 755.3,242 747.4,239.9 C739.5,237.8 742.4,237.4 738.6,229.9 C734.8,222.4 735.7,226.1 736.1,217.4Z" fill="url(#gG)" />
</g>
<circle cx="168.5" cy="147.1" r="3.2" fill="#fff"/><circle cx="171" cy="144" r="2" fill="#1010c0"/>
<circle cx="302.9" cy="107.8" r="2" fill="#1010c0"/>
<ellipse cx="382.2" cy="147.2" rx="2.8" ry="2.2" fill="#fff"/>
<ellipse cx="728.6" cy="106" rx="4.5" ry="3" fill="#fff" transform="rotate(40 728.6 106)"/>
<rect x="699.5" y="186.2" width="164" height="178.4" fill="none" stroke="#c4c4c4" stroke-width="1.2"/>
<text x="18.3" y="32.7" fill="#111" font-size="19.4" text-anchor="start" font-weight="bold" >a</text>
<text x="75.3" y="33.2" fill="#222" font-size="16.3" text-anchor="start" font-weight="normal"  stroke="#222" stroke-width="0.35">Top</text>
<text x="71.3" y="214.7" fill="#222" font-size="16.8" text-anchor="start" font-weight="normal"  stroke="#222" stroke-width="0.35">Side</text>
<text x="21.3" y="71.2" fill="#12d8d8" font-size="17.1" text-anchor="start" font-weight="normal"  stroke="#12d8d8" stroke-width="0.35">RBD “down”</text>
<text x="184.3" y="76.2" fill="#12d8d8" font-size="17.1" text-anchor="start" font-weight="normal"  stroke="#12d8d8" stroke-width="0.35">RBD “down”</text>
<text x="398.3" y="76.2" fill="#12d8d8" font-size="17.1" text-anchor="start" font-weight="normal"  stroke="#12d8d8" stroke-width="0.35">RBD “down”</text>
<text x="37.3" y="106.2" fill="#1414d8" font-size="16.6" text-anchor="start" font-weight="normal"  stroke="#1414d8" stroke-width="0.35">NTD</text>
<text x="201.3" y="147.2" fill="#f010e8" font-size="17.1" text-anchor="start" font-weight="normal"  stroke="#f010e8" stroke-width="0.35">R1-32</text>
<text x="673.3" y="40.2" fill="#1c7c1c" font-size="17.1" text-anchor="start" font-weight="normal"  stroke="#1c7c1c" stroke-width="0.35">ACE2</text>
<line x1="103" y1="73" x2="111" y2="84" stroke="#111" stroke-width="1.4" />
<line x1="171" y1="84" x2="178" y2="76" stroke="#111" stroke-width="1.4" />
<line x1="73.5" y1="103.5" x2="85" y2="109" stroke="#111" stroke-width="1.4" />
<line x1="186" y1="149" x2="198" y2="145.5" stroke="#111" stroke-width="1.4" />
<line x1="385" y1="82" x2="393" y2="75" stroke="#111" stroke-width="1.4" />
<line x1="719" y1="36" x2="731" y2="42" stroke="#111" stroke-width="1.4" />
<line x1="67.3" y1="143" x2="99.8" y2="143" stroke="#1450f0" stroke-width="2.2" />
<polygon points="107,143 99.8,148.2 99.8,137.8" fill="#1450f0" />
<line x1="67.3" y1="143" x2="67.3" y2="175" stroke="#b4dc00" stroke-width="2.2" />
<polygon points="67.3,182 62.1,174.8 72.5,174.8" fill="#5c7800" />
<circle cx="67.3" cy="143" r="5.4" fill="url(#sp_r)"/>
<text x="57.9" y="138.9" fill="#f01818" font-size="16.8" text-anchor="middle" font-weight="normal"  stroke="#f01818" stroke-width="0.35">y</text>
<text x="109.3" y="147" fill="#1450f0" font-size="16.8" text-anchor="start" font-weight="normal"  stroke="#1450f0" stroke-width="0.35">x</text>
<text x="67.3" y="194.2" fill="#78a800" font-size="16.8" text-anchor="middle" font-weight="normal"  stroke="#78a800" stroke-width="0.35">z</text>
<line x1="67" y1="352" x2="67" y2="319.2" stroke="#f01818" stroke-width="2.2" />
<polygon points="67,312 72.2,319.2 61.8,319.2" fill="#f01818" />
<line x1="67" y1="352" x2="99.8" y2="352" stroke="#1450f0" stroke-width="2.2" />
<polygon points="107,352 99.8,357.2 99.8,346.8" fill="#1450f0" />
<circle cx="67" cy="352" r="5.4" fill="url(#sp_g)"/>
<text x="67" y="307.2" fill="#f01818" font-size="16.8" text-anchor="middle" font-weight="normal"  stroke="#f01818" stroke-width="0.35">y</text>
<text x="108.3" y="355.9" fill="#1450f0" font-size="16.8" text-anchor="start" font-weight="normal"  stroke="#1450f0" stroke-width="0.35">x</text>
<text x="50.1" y="361.7" fill="#78a800" font-size="16.8" text-anchor="start" font-weight="normal"  stroke="#78a800" stroke-width="0.35">z</text>
<text x="139.3" y="396.2" fill="#222" font-size="16.6" text-anchor="middle" font-weight="normal"  stroke="#222" stroke-width="0.35">3 : 1</text>
<text x="137.3" y="416.7" fill="#222" font-size="17.1" text-anchor="middle" font-weight="normal"  stroke="#222" stroke-width="0.35">Spike protomer : Fab</text>
<text x="350.3" y="396.2" fill="#222" font-size="16.6" text-anchor="middle" font-weight="normal"  stroke="#222" stroke-width="0.35">3 : 2</text>
<text x="348.3" y="416.7" fill="#222" font-size="17.1" text-anchor="middle" font-weight="normal"  stroke="#222" stroke-width="0.35">Spike protomer : Fab</text>
<text x="561.3" y="396.2" fill="#222" font-size="16.6" text-anchor="middle" font-weight="normal"  stroke="#222" stroke-width="0.35">3 : 3</text>
<text x="559.3" y="416.7" fill="#222" font-size="17.1" text-anchor="middle" font-weight="normal"  stroke="#222" stroke-width="0.35">Spike protomer : Fab</text>
<text x="779.8" y="396.2" fill="#222" font-size="16.6" text-anchor="middle" font-weight="normal"  stroke="#222" stroke-width="0.35">3 : 3 : 3</text>
<text x="778.3" y="416.7" fill="#222" font-size="17.1" text-anchor="middle" font-weight="normal"  stroke="#222" stroke-width="0.35">Spike protomer : Fab : ACE2</text>
<path d="M228,628 C240.7,618.7 236,624.7 260,622 C284,619.3 271.7,618 300,620 C328.3,622 328.3,614.7 345,628 C361.7,641.3 350,636 350,660 C350,684 350,673.3 345,700 C340,726.7 342.7,715 335,740 C327.3,765 333.7,753.3 322,775 C310.3,796.7 312.3,789.3 300,805 C287.7,820.7 294.3,817.7 285,822 C275.7,826.3 279.7,828.7 272,818 C264.3,807.3 271,809.3 262,790 C253,770.7 255,783.3 245,760 C235,736.7 239,746.7 232,720 C225,693.3 227.3,703.3 224,680 C220.7,656.7 220.7,667.3 222,650 C223.3,632.7 215.3,637.3 228,628Z" fill="#fbfbfb" />
<path d="M252,630 C275.3,606.7 296.7,606.7 320,630 C343.3,653.3 324.7,656.7 322,700 C319.3,743.3 321,726.7 312,760 C303,793.3 307.3,786.7 295,800 C282.7,813.3 286.7,813.3 275,800 C263.3,786.7 268.3,793.3 260,760 C251.7,726.7 252.7,743.3 250,700 C247.3,656.7 228.7,653.3 252,630Z" fill="#f7f7f7" />
<path d="M300.6,714.9 L305.5,720.8 L299.6,719.2 L304.5,725.1 L298.7,723.5 L303.5,729.3 L297.7,727.8 L302.5,733.6 L296.7,732.1 L301.6,737.9 L295.8,736.4 L300.6,742.2 L294.8,740.7 L299.6,746.5 L293.8,745" fill="none" stroke="#ededed" stroke-width="1.6" stroke-linejoin="round" stroke-linecap="round" />
<path d="M242.3,726.8 L249.7,728.2 L244.2,730.7 L251.6,732.1 L246.1,734.6 L253.5,736 L248,738.4 L255.4,739.8 L250,742.3 L257.4,743.7 L251.9,746.2 L259.3,747.6 L253.8,750 L261.2,751.4 L255.7,753.9 L263.1,755.3 L257.6,757.8 L265,759.2 L259.6,761.6 L267,763 L261.5,765.5" fill="none" stroke="#e0e0e0" stroke-width="1.6" stroke-linejoin="round" stroke-linecap="round" />
<path d="M248.6,666.3 L255.2,669.8 L249.3,670.5 L255.9,674 L250,674.7 L256.6,678.2 L250.7,679 L257.3,682.5 L251.4,683.2 L258,686.7 L252.1,687.4 L258.7,690.9 L252.8,691.6 L259.4,695.1 L253.5,695.8 L260.1,699.3 L254.2,700 L260.9,703.5 L254.9,704.3 L261.6,707.7 L255.6,708.5 L262.3,712" fill="none" stroke="#e0e0e0" stroke-width="1.6" stroke-linejoin="round" stroke-linecap="round" />
<path d="M298.1,625.2 L303.3,630.7 L297.4,629.5 L302.6,634.9 L296.7,633.8 L301.9,639.2 L296,638 L301.2,643.5 L295.4,642.3 L300.6,647.7 L294.7,646.6 L299.9,652 L294,650.8 L299.2,656.3 L293.3,655.1 L298.5,660.6 L292.6,659.4 L297.9,664.8" fill="none" stroke="#ededed" stroke-width="1.6" stroke-linejoin="round" stroke-linecap="round" />
<path d="M270.1,650.3 L277.3,652.8 L271.5,654.5 L278.7,656.9 L272.9,658.6 L280.1,661 L274.3,662.7 L281.5,665.1 L275.7,666.9 L282.9,669.3 L277.1,671 L284.2,673.4 L278.5,675.1 L285.6,677.5 L279.9,679.2 L287,681.7 L281.3,683.4 L288.4,685.8 L282.7,687.5 L289.8,689.9" fill="none" stroke="#e6e6e6" stroke-width="1.6" stroke-linejoin="round" stroke-linecap="round" />
<path d="M290.6,732 L297,736 L291,736.2 L297.3,740.3 L291.3,740.5 L297.6,744.6 L291.6,744.8 L298,748.8 L292,749.1 L298.3,753.1 L292.3,753.3 L298.7,757.4 L292.7,757.6 L299,761.7 L293,761.9 L299.4,766 L293.4,766.2 L299.7,770.2 L293.7,770.5 L300,774.5 L294,774.7" fill="none" stroke="#ededed" stroke-width="1.6" stroke-linejoin="round" stroke-linecap="round" />
<path d="M271.6,692.2 L277,697.6 L271,696.6 L276.4,701.9 L270.5,701 L275.8,706.3 L269.9,705.4 L275.2,710.7 L269.3,709.8 L274.7,715.1 L268.7,714.2 L274.1,719.5 L268.2,718.6" fill="none" stroke="#e0e0e0" stroke-width="1.6" stroke-linejoin="round" stroke-linecap="round" />
<path d="M268.3,625.4 L275.5,627.5 L269.8,629.5 L277,631.7 L271.3,633.6 L278.6,635.8 L272.9,637.7 L280.1,639.9 L274.4,641.8 L281.7,644 L276,645.9 L283.2,648.1 L277.5,650 L284.8,652.2 L279.1,654.1 L286.3,656.3 L280.6,658.2 L287.8,660.4" fill="none" stroke="#e0e0e0" stroke-width="1.6" stroke-linejoin="round" stroke-linecap="round" />
<path d="M295.8,724.1 L301.5,729.1 L295.5,728.4 L301.1,733.5 L295.2,732.8 L300.8,737.9 L294.8,737.2 L300.5,742.3 L294.5,741.6 L300.1,746.7 L294.2,746 L299.8,751.1 L293.8,750.4 L299.5,755.4 L293.5,754.8 L299.1,759.8" fill="none" stroke="#ededed" stroke-width="1.6" stroke-linejoin="round" stroke-linecap="round" />
<path d="M258.5,639.2 L263.6,644.8 L257.7,643.6 L262.8,649.3 L256.9,648.1 L262,653.7 L256.1,652.6 L261.2,658.2 L255.3,657 L260.4,662.7 L254.5,661.5" fill="none" stroke="#e0e0e0" stroke-width="1.6" stroke-linejoin="round" stroke-linecap="round" />
<path d="M267,756.8 L272.9,761.4 L266.9,761 L272.9,765.6 L266.9,765.2 L272.8,769.8 L266.8,769.4 L272.8,774 L266.8,773.6 L272.7,778.2 L266.7,777.8 L272.7,782.4 L266.7,782 L272.6,786.6 L266.6,786.2 L272.6,790.8 L266.6,790.5 L272.5,795" fill="none" stroke="#e6e6e6" stroke-width="1.6" stroke-linejoin="round" stroke-linecap="round" />
<path d="M332.4,717.3 L337.1,723.2 L331.4,721.5 L336.1,727.4 L330.3,725.7 L335,731.6 L329.3,729.9 L334,735.8 L328.2,734.1 L332.9,739.9 L327.2,738.3 L331.9,744.1 L326.1,742.5 L330.8,748.3 L325,746.7 L329.8,752.5 L324,750.9 L328.7,756.7 L322.9,755 L327.6,760.9 L321.9,759.2" fill="none" stroke="#e6e6e6" stroke-width="1.6" stroke-linejoin="round" stroke-linecap="round" />
<path d="M240.3,631.9 L244.5,638.2 L238.9,636.1 L243.1,642.4 L237.5,640.3 L241.7,646.6 L236.1,644.5 L240.3,650.8 L234.7,648.8 L238.9,655 L233.3,653 L237.5,659.2 L231.9,657.2 L236.1,663.4 L230.5,661.4" fill="none" stroke="#e0e0e0" stroke-width="1.6" stroke-linejoin="round" stroke-linecap="round" />
<path d="M225.5,671.5 L232.3,674.9 L226.4,675.9 L233.2,679.3 L227.3,680.3 L234,683.7 L228.1,684.7 L234.9,688.1 L229,689.1 L235.8,692.5 L229.9,693.6 L236.7,696.9" fill="none" stroke="#e0e0e0" stroke-width="1.6" stroke-linejoin="round" stroke-linecap="round" />
<path d="M280.3,669.7 L286.2,674.4 L280.3,674.1 L286.2,678.8 L280.2,678.6 L286.1,683.3 L280.1,683 L286,687.7 L280,687.4 L285.9,692.1 L279.9,691.9 L285.9,696.6 L279.9,696.3 L285.8,701 L279.8,700.7 L285.7,705.4 L279.7,705.1 L285.6,709.9" fill="none" stroke="#e6e6e6" stroke-width="1.6" stroke-linejoin="round" stroke-linecap="round" />
<path d="M266.1,649.3 L271.1,654.9 L265.3,653.4 L270.3,659 L264.4,657.6 L269.4,663.2 L263.6,661.7 L268.6,667.3 L262.8,665.8 L267.7,671.4 L261.9,670 L266.9,675.6 L261.1,674.1 L266.1,679.7 L260.2,678.2" fill="none" stroke="#ededed" stroke-width="1.6" stroke-linejoin="round" stroke-linecap="round" />
<path d="M236.6,648 L243.2,651.7 L237.3,652.6 L244,656.3 L238,657.2 L244.7,660.9 L238.7,661.8 L245.4,665.6 L239.5,666.4" fill="none" stroke="#e0e0e0" stroke-width="1.6" stroke-linejoin="round" stroke-linecap="round" />
<path d="M319.6,633.4 L325.7,637.8 L319.7,637.6 L325.7,642.1 L319.7,641.9 L325.8,646.4 L319.8,646.2 L325.8,650.7 L319.8,650.5 L325.9,655 L319.9,654.8" fill="none" stroke="#ededed" stroke-width="1.6" stroke-linejoin="round" stroke-linecap="round" />
<path d="M328.8,659.4 L334.6,664.2 L328.7,663.7 L334.5,668.4 L328.5,668 L334.4,672.7 L328.4,672.2 L334.2,677 L328.2,676.5 L334.1,681.3" fill="none" stroke="#ededed" stroke-width="1.6" stroke-linejoin="round" stroke-linecap="round" />
<path d="M283.7,769.2 L289.3,774.3 L283.4,773.7 L289,778.9 L283,778.2 L288.6,783.4 L282.6,782.8 L288.2,787.9 L282.2,787.3" fill="none" stroke="#e0e0e0" stroke-width="1.6" stroke-linejoin="round" stroke-linecap="round" />
<path d="M283.9,767.6 L290.5,771.3 L284.5,771.9 L291.1,775.6 L285.1,776.2 L291.6,779.9 L285.7,780.5 L292.2,784.2 L286.2,784.8 L292.8,788.5 L286.8,789.1 L293.4,792.8 L287.4,793.4 L293.9,797.1 L288,797.7 L294.5,801.4 L288.5,802 L295.1,805.7" fill="none" stroke="#ededed" stroke-width="1.6" stroke-linejoin="round" stroke-linecap="round" />
<path d="M316.3,656.5 L321.2,662.2 L315.4,660.6 L320.3,666.3 L314.5,664.7 L319.4,670.4 L313.6,668.8 L318.4,674.6 L312.7,673 L317.5,678.7 L311.7,677.1 L316.6,682.8 L310.8,681.2 L315.7,686.9 L309.9,685.3 L314.8,691 L309,689.5 L313.8,695.2 L308.1,693.6 L312.9,699.3 L307.1,697.7 L312,703.4" fill="none" stroke="#e0e0e0" stroke-width="1.6" stroke-linejoin="round" stroke-linecap="round" />
<path d="M316.8,708.4 L321.1,714.6 L315.5,712.5 L319.8,718.7 L314.2,716.6 L318.5,722.7 L312.8,720.7 L317.2,726.8 L311.5,724.7 L315.8,730.9 L310.2,728.8 L314.5,735 L308.9,732.9 L313.2,739 L307.6,736.9 L311.9,743.1 L306.3,741 L310.6,747.2" fill="none" stroke="#ededed" stroke-width="1.6" stroke-linejoin="round" stroke-linecap="round" />
<path d="M276.3,722.3 L280.1,728.8 L274.7,726.4 L278.4,732.9 L273,730.4 L276.7,737 L271.3,734.5 L275.1,741.1 L269.6,738.6 L273.4,745.2" fill="none" stroke="#e6e6e6" stroke-width="1.6" stroke-linejoin="round" stroke-linecap="round" />
<path d="M249.2,696.8 L255.5,701 L249.5,701.1 L255.7,705.3 L249.7,705.4 L256,709.5 L250,709.6 L256.2,713.8 L250.2,713.9 L256.5,718 L250.5,718.1 L256.8,722.3 L250.8,722.4 L257,726.6 L251,726.7 L257.3,730.8 L251.3,730.9 L257.6,735.1 L251.6,735.2 L257.8,739.4 L251.8,739.5" fill="none" stroke="#ededed" stroke-width="1.6" stroke-linejoin="round" stroke-linecap="round" />
<path d="M246.9,709.1 L252,714.7 L246.1,713.3 L251.2,718.8 L245.4,717.5 L250.5,723 L244.6,721.6 L249.7,727.2 L243.9,725.8 L249,731.3 L243.1,730 L248.2,735.5 L242.3,734.2 L247.4,739.7 L241.6,738.3 L246.7,743.8 L240.8,742.5 L245.9,748" fill="none" stroke="#ededed" stroke-width="1.6" stroke-linejoin="round" stroke-linecap="round" />
<path d="M258.7,695 L262.9,701.2 L257.3,699.1 L261.6,705.3 L256,703.1 L260.2,709.3 L254.6,707.2 L258.9,713.4 L253.3,711.2 L257.5,717.4 L251.9,715.2 L256.2,721.4 L250.6,719.3 L254.8,725.5 L249.2,723.3 L253.5,729.5 L247.9,727.3 L252.1,733.5 L246.5,731.4 L250.8,737.6 L245.2,735.4 L249.4,741.6" fill="none" stroke="#e6e6e6" stroke-width="1.6" stroke-linejoin="round" stroke-linecap="round" />
<path d="M240.2,658.8 L244.6,665 L238.9,663.2 L243.4,669.3 L237.7,667.6 L242.1,673.7 L236.4,671.9 L240.9,678.1 L235.1,676.3 L239.6,682.4" fill="none" stroke="#e6e6e6" stroke-width="1.6" stroke-linejoin="round" stroke-linecap="round" />
<path d="M309.2,660.3 L315,665 L309,664.5 L314.8,669.2 L308.8,668.7 L314.6,673.4 L308.7,672.9 L314.5,677.6 L308.5,677.1 L314.3,681.8 L308.3,681.3 L314.1,686 L308.2,685.5 L314,690.3 L308,689.7 L313.8,694.5 L307.8,693.9" fill="none" stroke="#e6e6e6" stroke-width="1.6" stroke-linejoin="round" stroke-linecap="round" />
<path d="M260.5,669.7 L265.7,675.1 L259.8,673.9 L265,679.3 L259.1,678 L264.3,683.4 L258.5,682.2 L263.7,687.6 L257.8,686.4 L263,691.8 L257.1,690.6 L262.3,696 L256.4,694.7 L261.7,700.1 L255.8,698.9 L261,704.3" fill="none" stroke="#e6e6e6" stroke-width="1.6" stroke-linejoin="round" stroke-linecap="round" />
<path d="M295.4,675.2 L301.9,679.1 L295.9,679.5 L302.4,683.5 L296.4,683.9 L302.9,687.8 L296.9,688.3 L303.4,692.2 L297.4,692.7 L303.8,696.6 L297.9,697 L304.3,701 L298.3,701.4 L304.8,705.3" fill="none" stroke="#e0e0e0" stroke-width="1.6" stroke-linejoin="round" stroke-linecap="round" />
<path d="M275.3,742.8 L280,748.6 L274.3,746.9 L279,752.7 L273.2,751 L277.9,756.8 L272.2,755.1 L276.9,760.9 L271.1,759.2 L275.9,765 L270.1,763.3 L274.8,769.2 L269.1,767.4 L273.8,773.3 L268,771.5 L272.7,777.4 L267,775.6 L271.7,781.5" fill="none" stroke="#ededed" stroke-width="1.6" stroke-linejoin="round" stroke-linecap="round" />
<path d="M253.6,658.3 L261,659.9 L255.6,662.3 L263,663.8 L257.5,666.3 L264.9,667.8 L259.4,670.3 L266.8,671.8 L261.3,674.3 L268.7,675.8 L263.2,678.3 L270.6,679.8 L265.1,682.3 L272.5,683.8 L267,686.3 L274.4,687.8 L269,690.3 L276.4,691.8 L270.9,694.2" fill="none" stroke="#ededed" stroke-width="1.6" stroke-linejoin="round" stroke-linecap="round" />
<path d="M265.8,634.9 L273,637.3 L267.2,639 L274.3,641.4 L268.6,643.1 L275.7,645.5 L269.9,647.2 L277.1,649.6 L271.3,651.3 L278.4,653.7 L272.7,655.3 L279.8,657.7 L274,659.4 L281.2,661.8 L275.4,663.5 L282.5,665.9 L276.8,667.6" fill="none" stroke="#ededed" stroke-width="1.6" stroke-linejoin="round" stroke-linecap="round" />
<path d="M316,652.6 L322,657.2 L316,656.9 L321.9,661.5 L315.9,661.2 L321.9,665.8 L315.9,665.5 L321.9,670.1 L315.9,669.8 L321.8,674.3 L315.8,674 L321.8,678.6 L315.8,678.3 L321.7,682.9 L315.8,682.6 L321.7,687.2 L315.7,686.9 L321.7,691.5 L315.7,691.1 L321.6,695.7" fill="none" stroke="#e0e0e0" stroke-width="1.6" stroke-linejoin="round" stroke-linecap="round" />
<path d="M270.3,730.4 L275.3,736.1 L269.4,734.8 L274.4,740.5 L268.6,739.2 L273.6,744.9 L267.7,743.5 L272.7,749.2 L266.8,747.9 L271.8,753.6 L266,752.3 L271,758 L265.1,756.6" fill="none" stroke="#e0e0e0" stroke-width="1.6" stroke-linejoin="round" stroke-linecap="round" />
<path d="M289.2,682.5 L296.3,685.2 L290.5,686.8 L297.6,689.5 L291.8,691 L298.9,693.7 L293.1,695.3 L300.2,698 L294.4,699.6 L301.5,702.2 L295.7,703.8 L302.8,706.5 L297,708.1 L304.1,710.8" fill="none" stroke="#e0e0e0" stroke-width="1.6" stroke-linejoin="round" stroke-linecap="round" />
<path d="M316.3,715.6 L320.8,721.6 L315.1,719.7 L319.7,725.6 L314,723.7 L318.5,729.7 L312.8,727.8 L317.4,733.7 L311.7,731.8 L316.2,737.8 L310.5,735.9 L315.1,741.8 L309.4,739.9 L313.9,745.9 L308.2,743.9 L312.8,749.9 L307.1,748 L311.6,754 L305.9,752 L310.5,758 L304.8,756.1 L309.3,762 L303.6,760.1 L308.2,766.1" fill="none" stroke="#e0e0e0" stroke-width="1.6" stroke-linejoin="round" stroke-linecap="round" />
<path d="M278,687.4 L284.5,691.1 L278.5,691.6 L285,695.3 L279,695.8 L285.6,699.5 L279.6,700 L286.1,703.7 L280.1,704.2 L286.6,707.9 L280.7,708.4 L287.2,712.1 L281.2,712.6 L287.7,716.3 L281.7,716.7 L288.2,720.5 L282.3,720.9" fill="none" stroke="#dadada" stroke-width="1.6" stroke-linejoin="round" stroke-linecap="round" />
<path d="M284.1,699 L290.9,702.2 L284.9,703.2 L291.7,706.4 L285.8,707.3 L292.6,710.5 L286.7,711.5 L293.5,714.7 L287.5,715.6 L294.3,718.8 L288.4,719.8 L295.2,722.9 L289.2,723.9 L296,727.1 L290.1,728 L296.9,731.2 L291,732.2 L297.8,735.4 L291.8,736.3" fill="none" stroke="#e0e0e0" stroke-width="1.6" stroke-linejoin="round" stroke-linecap="round" />
<path d="M277.7,644.4 L283.9,648.5 L277.9,648.6 L284.2,652.8 L278.1,652.8 L284.4,657 L278.4,657 L284.6,661.2 L278.6,661.2 L284.8,665.4 L278.8,665.4 L285,669.6 L279,669.7 L285.2,673.8 L279.2,673.9 L285.5,678.1 L279.5,678.1 L285.7,682.3 L279.7,682.3 L285.9,686.5" fill="none" stroke="#dadada" stroke-width="1.6" stroke-linejoin="round" stroke-linecap="round" />
<path d="M261,670.5 L268.2,672.7 L262.4,674.6 L269.7,676.8 L263.9,678.6 L271.2,680.8 L265.4,682.7 L272.7,684.9 L266.9,686.8 L274.2,689 L268.4,690.8 L275.7,693 L269.9,694.9 L277.2,697.1 L271.4,699 L278.7,701.2 L272.9,703 L280.2,705.2 L274.4,707.1 L281.7,709.3 L275.9,711.2 L283.2,713.4 L277.4,715.2 L284.7,717.4 L278.9,719.3 L286.1,721.5 L280.4,723.4" fill="none" stroke="#e0e0e0" stroke-width="1.6" stroke-linejoin="round" stroke-linecap="round" />
<path d="M249,693.4 L255.8,696.7 L249.8,697.7 L256.6,701.1 L250.7,702 L257.4,705.4 L251.5,706.4 L258.3,709.7 L252.3,710.7 L259.1,714.1 L253.2,715 L260,718.4 L254,719.3 L260.8,722.7 L254.9,723.7 L261.6,727.1 L255.7,728 L262.5,731.4" fill="none" stroke="#e0e0e0" stroke-width="1.6" stroke-linejoin="round" stroke-linecap="round" />
<path d="M279.1,639.1 L284.5,644.4 L278.5,643.4 L283.9,648.7 L278,647.7 L283.3,653 L277.4,652 L282.7,657.3 L276.8,656.2 L282.1,661.6 L276.2,660.5 L281.5,665.9 L275.6,664.8 L280.9,670.2 L275,669.1 L280.3,674.5 L274.4,673.4 L279.7,678.8 L273.8,677.7 L279.2,683 L273.2,682 L278.6,687.3 L272.7,686.3" fill="none" stroke="#e0e0e0" stroke-width="1.6" stroke-linejoin="round" stroke-linecap="round" />
<path d="M294.1,646.4 L300.6,650.1 L294.6,650.7 L301.2,654.4 L295.2,654.9 L301.8,658.7 L295.8,659.2 L302.3,662.9 L296.4,663.5 L302.9,667.2 L296.9,667.8 L303.5,671.5 L297.5,672.1 L304.1,675.8 L298.1,676.3 L304.6,680.1 L298.7,680.6 L305.2,684.3 L299.2,684.9 L305.8,688.6 L299.8,689.2 L306.4,692.9 L300.4,693.5 L306.9,697.2 L301,697.7 L307.5,701.5" fill="none" stroke="#dadada" stroke-width="1.6" stroke-linejoin="round" stroke-linecap="round" />
<path d="M250.1,649.2 L256.2,653.7 L250.1,653.5 L256.2,658 L250.2,657.8 L256.2,662.2 L250.2,662 L256.3,666.5 L250.3,666.3 L256.3,670.8 L250.3,670.6 L256.4,675 L250.4,674.8 L256.4,679.3 L250.4,679.1 L256.5,683.6 L250.5,683.4 L256.5,687.8 L250.5,687.6 L256.6,692.1 L250.6,691.9 L256.6,696.3 L250.6,696.1 L256.7,700.6 L250.7,700.4 L256.7,704.9 L250.7,704.7 L256.8,709.1 L250.8,708.9" fill="none" stroke="#dadada" stroke-width="1.6" stroke-linejoin="round" stroke-linecap="round" />
<path d="M281.9,639 L285.9,645.5 L280.3,643.1 L284.3,649.6 L278.7,647.3 L282.7,653.8 L277.1,651.4 L281.1,657.9 L275.5,655.6 L279.5,662.1 L273.9,659.7 L277.9,666.2 L272.3,663.9 L276.3,670.3" fill="none" stroke="#dadada" stroke-width="1.6" stroke-linejoin="round" stroke-linecap="round" />
<path d="M315.1,631.5 L320.4,636.9 L314.5,635.8 L319.7,641.2 L313.8,640.1 L319.1,645.5 L313.2,644.4 L318.5,649.8 L312.6,648.7 L317.9,654.1 L312,653 L317.3,658.4 L311.4,657.3 L316.6,662.7 L310.7,661.6 L316,667 L310.1,665.9 L315.4,671.2" fill="none" stroke="#e0e0e0" stroke-width="1.6" stroke-linejoin="round" stroke-linecap="round" />
<path d="M292.1,730.8 L298.8,734.2 L292.9,735 L299.6,738.4 L293.6,739.2 L300.3,742.6 L294.4,743.4 L301.1,746.8 L295.1,747.6 L301.8,751 L295.9,751.8 L302.6,755.2 L296.6,756 L303.3,759.4" fill="none" stroke="#e0e0e0" stroke-width="1.6" stroke-linejoin="round" stroke-linecap="round" />
<path d="M272.3,649 L278.5,653.2 L272.5,653.2 L278.7,657.4 L272.7,657.4 L278.9,661.6 L272.9,661.6 L279.1,665.8 L273.1,665.8 L279.3,670 L273.3,670 L279.5,674.2 L273.5,674.2 L279.7,678.4 L273.7,678.4 L279.9,682.6 L273.9,682.6 L280.1,686.8 L274.1,686.8 L280.3,691 L274.3,691" fill="none" stroke="#e0e0e0" stroke-width="1.6" stroke-linejoin="round" stroke-linecap="round" />
<path d="M260,675.8 L266.1,680.3 L260.1,680.1 L266.1,684.5 L260.1,684.3 L266.2,688.7 L260.2,688.5 L266.2,693 L260.2,692.8 L266.3,697.2 L260.3,697 L266.4,701.5 L260.4,701.3 L266.4,705.7 L260.4,705.5 L266.5,709.9 L260.5,709.7 L266.5,714.2 L260.5,714 L266.6,718.4 L260.6,718.2 L266.7,722.7 L260.7,722.5" fill="none" stroke="#dadada" stroke-width="1.6" stroke-linejoin="round" stroke-linecap="round" />
<path d="M271.5,755 L278.8,756.9 L273.2,758.9 L280.5,760.8 L274.8,762.8 L282.1,764.7 L276.4,766.7 L283.7,768.6 L278.1,770.7 L285.3,772.5 L279.7,774.6 L287,776.5 L281.3,778.5 L288.6,780.4 L283,782.4 L290.2,784.3 L284.6,786.3 L291.9,788.2 L286.2,790.3" fill="none" stroke="#e0e0e0" stroke-width="1.6" stroke-linejoin="round" stroke-linecap="round" />
<path d="M336.2,636.9 C333.8,635.9 333.7,636.1 328.8,633.9 C323.9,631.8 326.3,630.3 321.6,630.4 C316.9,630.5 317.6,630.4 314.6,634.3 C311.6,638.1 313.5,636.8 312.5,642 C311.5,647.2 310.4,645.1 311.6,649.9 C312.7,654.8 312.8,652.3 316.1,656.5 C319.4,660.7 319.6,660.5 321.4,662.5" fill="none" stroke="#e0e0e0" stroke-width="0.8" stroke-linecap="round" stroke-linejoin="round" />
<path d="M312.9,705.1 C310.8,703.4 311.3,702.5 306.7,700 C302.1,697.5 303.4,696.4 299.1,697.5 C294.8,698.6 298.2,701.2 293.7,703.4 C289.2,705.6 291,704.3 285.7,704.2 C280.4,704 282.7,704.8 277.8,703.1 C272.9,701.3 275,702.3 271,698.9 C267,695.5 267.5,694.8 265.8,692.8" fill="none" stroke="#e0e0e0" stroke-width="0.8" stroke-linecap="round" stroke-linejoin="round" />
<path d="M319.3,694.5 C317.5,692.4 318.3,691.4 314.1,688.4 C309.9,685.3 311.2,684.7 306.7,685.4 C302.1,686.1 304.5,686.9 300.5,690.5 C296.5,694 299.3,693.6 294.7,696 C290.2,698.3 292.1,697.1 286.9,697.5 C281.6,697.9 284.2,697 278.9,697.1 C273.5,697.3 273.5,697.6 270.9,697.9" fill="none" stroke="#e0e0e0" stroke-width="0.8" stroke-linecap="round" stroke-linejoin="round" />
<path d="M304.2,656.8 C306.3,658.4 308.2,657.4 310.5,661.7 C312.9,666 308.9,665.3 311.2,669.7 C313.5,674 312.8,673.9 317.4,674.8 C322,675.6 321.9,675.7 325,672.3 C328.1,668.9 328.4,668.6 326.7,664.5 C325.1,660.4 325,661.6 320.1,660.1 C315.2,658.6 314.7,660 312.1,660" fill="none" stroke="#e0e0e0" stroke-width="0.8" stroke-linecap="round" stroke-linejoin="round" />
<path d="M295.3,785.8 C294.9,788.4 293.4,788.6 294,793.7 C294.5,798.8 298,800.3 297,801.1 C295.9,801.9 293.3,800.4 290.8,796 C288.2,791.7 290,793.5 289.4,788.2 C288.9,782.9 290.9,784.9 289.1,780.2 C287.3,775.4 288.4,775.7 284.1,773.9 C279.8,772.1 278.8,774.5 276.2,774.8" fill="none" stroke="#e0e0e0" stroke-width="0.8" stroke-linecap="round" stroke-linejoin="round" />
<path d="M322.3,762.8 C321.8,760.2 321.5,760.3 320.8,755 C320.1,749.7 318.2,751.1 320.2,747 C322.3,742.9 322.2,745 327,742.8 C331.8,740.6 333.9,743.2 334.7,740.3 C335.4,737.5 333.8,736.3 329.3,734.4 C324.9,732.4 324.9,737 321.3,734.5 C317.8,732.1 319.5,729.5 318.6,727" fill="none" stroke="#e0e0e0" stroke-width="0.8" stroke-linecap="round" stroke-linejoin="round" />
<path d="M229.2,704.1 C230.7,706.2 231.9,705.8 233.8,710.6 C235.7,715.4 232.1,717.1 234.9,718.5 C237.6,720 237.1,715.3 242,714.9 C246.9,714.5 246.8,713.9 249.6,717.4 C252.3,720.9 250.1,720.1 250.2,725.4 C250.4,730.7 252.7,730 250.1,733.4 C247.5,736.8 245,734.9 242.4,735.6" fill="none" stroke="#e0e0e0" stroke-width="0.8" stroke-linecap="round" stroke-linejoin="round" />
<path d="M317.9,689.9 C320.2,688.7 321.8,690 325,686.2 C328.1,682.4 328.4,682.9 327.2,678.5 C326.1,674.1 325.5,676.5 321.4,673 C317.4,669.5 319.9,669.4 315.2,668.1 C310.4,666.7 311.3,671 307.2,669 C303.1,667.1 302.8,666.7 302.9,662.3 C303,657.8 306,657.9 307.5,655.7" fill="none" stroke="#e0e0e0" stroke-width="0.8" stroke-linecap="round" stroke-linejoin="round" />
<path d="M249.6,640.9 C247.6,642.6 247.7,642.8 243.4,645.9 C239.1,649 241.5,649.4 236.7,650.2 C231.8,651 229,649.9 228.9,648.2 C228.8,646.6 231.6,647.7 236.3,645.2 C241,642.7 238.3,641 242.9,640.7 C247.5,640.3 245.2,642.2 250.1,644.1 C255.1,646.1 255.2,645.7 257.8,646.5" fill="none" stroke="#e0e0e0" stroke-width="0.8" stroke-linecap="round" stroke-linejoin="round" />
<path d="M265.9,800.3 C268.5,799.9 268.6,798.6 273.8,799.1 C278.9,799.6 276.2,800.6 281.3,801.8 C286.5,803 284.4,800.9 289.3,802.7 C294.1,804.6 293.9,808.4 295.8,807.3 C297.7,806.2 294.6,804.6 295,799.4 C295.5,794.1 297.5,796.7 297.1,791.7 C296.8,786.6 295,786.8 293.9,784.3" fill="none" stroke="#e0e0e0" stroke-width="0.8" stroke-linecap="round" stroke-linejoin="round" />
<path d="M259.8,702.7 C260.5,700.2 260.2,700.1 262,695.1 C263.8,690.1 261.6,691 265.2,687.7 C268.8,684.5 269.7,688.7 272.8,685.3 C276,681.9 272.7,682.3 274.8,677.5 C276.9,672.7 277.3,675.7 279.2,670.9 C281,666 279.2,668.1 280.4,662.9 C281.6,657.8 282,657.8 282.7,655.3" fill="none" stroke="#e0e0e0" stroke-width="0.8" stroke-linecap="round" stroke-linejoin="round" />
<path d="M328.9,670.2 C329.4,667.5 329,667.4 330.3,662.3 C331.6,657.1 330.9,659.6 332.8,654.7 C334.8,649.8 335.8,652.5 336.2,647.5 C336.7,642.5 335.2,644.9 334.2,639.7 C333.3,634.5 333.3,631.8 333.5,631.7 C333.7,631.7 333.6,634.5 334.8,639.6 C336.1,644.8 336.4,644.7 337.2,647.3" fill="none" stroke="#e0e0e0" stroke-width="0.8" stroke-linecap="round" stroke-linejoin="round" />
<path d="M270.3,778.7 C269.6,781.3 267.6,781.5 268.1,786.4 C268.6,791.3 270.6,788.4 271.9,793.4 C273.2,798.4 270,797 272.1,801.4 C274.2,805.8 273.9,803.4 278.2,806.6 C282.5,809.7 285.2,810.4 285,810.8 C284.8,811.3 282,807.2 277.5,808 C273,808.8 273.5,811.5 271.5,813.3" fill="none" stroke="#e0e0e0" stroke-width="0.8" stroke-linecap="round" stroke-linejoin="round" />
<path d="M311.5,717 C310.8,714.4 310.4,714.5 309.3,709.3 C308.2,704.1 308.8,706.7 308.2,701.4 C307.7,696.1 309.3,698.3 307.6,693.4 C306,688.5 303.5,691.4 303.2,686.8 C302.8,682.2 307,684.1 306.6,679.6 C306.1,675 302.5,677.8 301.8,673.1 C301.1,668.5 303.6,668.1 304.5,665.6" fill="none" stroke="#e0e0e0" stroke-width="0.8" stroke-linecap="round" stroke-linejoin="round" />
<path d="M332.5,720.6 C334.1,718.4 337.7,714.5 337.2,714 C336.6,713.5 333.9,714.9 330.9,719.1 C328,723.2 328.8,721.4 328.2,726.6 C327.6,731.7 327.5,729.6 329.2,734.5 C330.8,739.5 334,740.6 333.1,741.5 C332.1,742.4 328.1,741.4 326.2,737.4 C324.4,733.3 327.1,732.1 327.6,729.5" fill="none" stroke="#e0e0e0" stroke-width="0.8" stroke-linecap="round" stroke-linejoin="round" />
<path d="M265.7,698.3 C263.1,697.5 263.2,697.3 258.1,695.8 C253,694.3 255.4,695.5 250.3,693.8 C245.3,692 248,691.1 243,690.7 C237.9,690.2 239.6,690 235.2,692.5 C230.8,695.1 230.7,693.9 229.7,698.4 C228.7,702.8 229,702.1 232.2,706 C235.3,709.8 236.8,708.6 239.1,710" fill="none" stroke="#e0e0e0" stroke-width="0.8" stroke-linecap="round" stroke-linejoin="round" />
<path d="M286.3,642.3 C285.4,644.8 285.8,645 283.6,649.8 C281.3,654.6 281.9,652 279.6,656.8 C277.3,661.6 280.2,661 276.7,664.2 C273.2,667.4 273.2,663.5 269,666.3 C264.7,669.1 268.3,670.5 264,672.6 C259.6,674.6 260.8,670.9 256,672.4 C251.2,674 251.7,675.6 249.6,677.2" fill="none" stroke="#e0e0e0" stroke-width="0.8" stroke-linecap="round" stroke-linejoin="round" />
<path d="M257.3,693.2 C256.7,695.8 254.1,696.6 255.5,701 C256.9,705.4 258.9,701.9 261.4,706.3 C264,710.7 261.3,709.2 263.2,714.1 C265,719.1 265.6,716.2 266.9,721.2 C268.2,726.2 265.6,724.3 267.1,729.2 C268.6,734.1 267.3,733.9 271.4,736 C275.4,738 276.7,735.5 279.3,735.3" fill="none" stroke="#e0e0e0" stroke-width="0.8" stroke-linecap="round" stroke-linejoin="round" />
<path d="M338.7,656.9 C341.2,657.9 345.9,657.7 346.1,660.1 C346.2,662.5 344.1,663 339.2,664.1 C334.2,665.3 336.5,663.7 331.2,663.5 C325.8,663.3 328.1,664.9 323.2,663.6 C318.2,662.2 320.6,662.6 316.3,659.5 C312,656.4 312.7,658.6 310.3,654.2 C307.9,649.8 309.5,649 309.1,646.3" fill="none" stroke="#e0e0e0" stroke-width="0.8" stroke-linecap="round" stroke-linejoin="round" />
<path d="M327.2,741.8 C324.5,741.5 323.7,739.2 319.2,740.8 C314.8,742.5 314.8,742.2 313.8,746.7 C312.9,751.2 317,749.6 316.3,754.3 C315.6,759 312.9,756 311.7,760.9 C310.6,765.7 311.7,763.6 313,768.8 C314.3,773.9 316.7,775.6 315.7,776.3 C314.6,777 311.8,772.7 309.8,770.9" fill="none" stroke="#e0e0e0" stroke-width="0.8" stroke-linecap="round" stroke-linejoin="round" />
<path d="M301.3,727.7 C302.6,725.4 303.5,725.7 305.3,720.8 C307,715.8 304.7,717.8 306.5,712.9 C308.3,708 306.8,709.3 310.7,706.1 C314.6,702.8 313.6,702.3 318.1,703.1 C322.6,703.8 319.5,706 324.1,708.3 C328.7,710.7 328.4,707.1 331.9,710.2 C335.4,713.3 333.6,715.2 334.5,717.8" fill="none" stroke="#e0e0e0" stroke-width="0.8" stroke-linecap="round" stroke-linejoin="round" />
<path d="M238.5,696.8 C240.8,695.4 243.5,696.6 245.3,692.5 C247.1,688.5 245.5,689.7 243.8,684.7 C242.1,679.7 241.1,682.5 240.2,677.5 C239.4,672.5 239,674.1 241.2,669.6 C243.4,665 243,667.5 246.9,663.9 C250.9,660.4 250.7,663.2 253.1,658.9 C255.5,654.5 253.8,653.6 254.2,650.9" fill="none" stroke="#e0e0e0" stroke-width="0.8" stroke-linecap="round" stroke-linejoin="round" />
<path d="M274.1,631.8 C273.5,634.4 275.2,635.7 272.3,639.6 C269.4,643.5 270.2,641.5 265.3,643.5 C260.4,645.5 262.5,643.7 257.6,645.7 C252.7,647.7 254,645.8 250.6,649.5 C247.2,653.2 248.3,651.8 247.4,656.9 C246.5,662 248.7,659.7 247.9,664.8 C247.1,670 246,669.8 245,672.3" fill="none" stroke="#e0e0e0" stroke-width="0.8" stroke-linecap="round" stroke-linejoin="round" />
<path d="M279,655 C280.6,652.8 279.7,649.9 283.8,648.6 C288,647.2 286.5,649.1 291.5,650.9 C296.5,652.6 294.4,651.1 298.9,653.9 C303.4,656.6 300.7,656 305,659 C309.4,662.1 307.8,659.8 312,663 C316.1,666.2 316.5,664.3 317.6,668.7 C318.6,673.2 315.9,673.8 315.1,676.3" fill="none" stroke="#e0e0e0" stroke-width="0.8" stroke-linecap="round" stroke-linejoin="round" />
<path d="M277.1,632.7 C277.8,630.1 278.5,624.9 279.3,625 C280.1,625.1 277,629.3 279.5,633 C282,636.7 282.6,637 286.9,636.1 C291.2,635.1 289.3,634.5 292.4,630.2 C295.4,625.9 292.1,625.1 296,623.1 C299.8,621.1 299.3,622 303.9,624.2 C308.5,626.4 307.8,627.8 309.7,629.7" fill="none" stroke="#e0e0e0" stroke-width="0.8" stroke-linecap="round" stroke-linejoin="round" />
<path d="M312.7,755 C314.5,757 315.1,756.6 318,761 C320.9,765.5 323,765.8 321.5,768.2 C320,770.7 318.8,768.9 313.5,768.4 C308.2,767.9 310.9,767.9 305.7,766.7 C300.5,765.5 303,766.3 297.9,764.7 C292.8,763.1 295.1,761.3 290.4,761.9 C285.8,762.5 286.1,765 283.9,766.6" fill="none" stroke="#e0e0e0" stroke-width="0.8" stroke-linecap="round" stroke-linejoin="round" />
<path d="M261.6,745.4 C262.3,742.8 262.1,742.7 263.8,737.7 C265.5,732.6 266.8,735.1 266.6,730.2 C266.4,725.3 266.3,727.1 263.3,722.9 C260.2,718.7 258.3,721.7 257.4,717.5 C256.5,713.2 260,715.2 260.6,710.2 C261.2,705.1 261.4,706.9 259.1,702.3 C256.8,697.7 255.5,698.4 253.7,696.4" fill="none" stroke="#e0e0e0" stroke-width="0.8" stroke-linecap="round" stroke-linejoin="round" />
<path d="M285.1,730.3 C284.4,727.7 281.5,726.8 282.9,722.6 C284.3,718.4 288,721.9 289.3,717.8 C290.6,713.6 286.5,715.1 286.8,710.2 C287.1,705.2 287.5,707.5 290.2,702.9 C292.9,698.3 290.6,698.3 294.9,696.4 C299.1,694.5 298.3,698.8 302.8,697.1 C307.3,695.4 306.5,693.3 308.3,691.3" fill="none" stroke="#e0e0e0" stroke-width="0.8" stroke-linecap="round" stroke-linejoin="round" />
<path d="M307.4,642.7 C309.4,644.5 308.8,647 313.4,648 C317.9,649 316.2,645 321.1,645.7 C325.9,646.3 323.3,649.9 327.8,649.9 C332.4,650 332.6,649.9 334.7,645.9 C336.9,641.9 332.7,642.6 334.3,637.9 C335.9,633.2 340.4,633.1 339.6,631.9 C338.8,630.6 334.4,633.3 331.9,634.1" fill="none" stroke="#e0e0e0" stroke-width="0.8" stroke-linecap="round" stroke-linejoin="round" />
<path d="M287.5,675 C287.9,672.3 287,672 288.8,667.1 C290.6,662.2 288.9,662.6 293,660.2 C297,657.8 296.5,662 301,659.9 C305.4,657.8 301.9,656.5 306.3,653.9 C310.7,651.4 309.1,651.8 314.1,652.2 C319.2,652.6 317.1,655.9 321.6,655.1 C326,654.3 325.5,651.5 327.5,649.7" fill="none" stroke="#e0e0e0" stroke-width="0.8" stroke-linecap="round" stroke-linejoin="round" />
<path d="M327,655.6 C329.6,656.2 330.1,655.1 334.8,657.3 C339.5,659.5 336.5,661.3 341.2,662.2 C345.9,663 347.8,662.9 348.9,659.9 C349.9,657 348.3,654.7 344.2,653.4 C340.2,652.1 341.6,656.4 336.7,656.1 C331.8,655.8 333,656.2 329.5,652.6 C326,649 327.3,647.8 326.1,645.3" fill="none" stroke="#e0e0e0" stroke-width="0.8" stroke-linecap="round" stroke-linejoin="round" />
<path d="M294.9,735.5 C296.5,733.4 298.9,733.9 299.7,729.2 C300.6,724.5 297,726.4 297.5,721.5 C298,716.6 299.7,719.4 301.2,714.4 C302.8,709.4 301,711.7 302.1,706.5 C303.2,701.3 302.9,703.9 304.7,698.9 C306.4,693.9 303.9,694.3 307.5,691.4 C311,688.5 312.7,690.6 315.4,690.1" fill="none" stroke="#e0e0e0" stroke-width="0.8" stroke-linecap="round" stroke-linejoin="round" />
<path d="M275,792.4 C277.7,792.6 278,791.4 283,792.9 C288,794.3 285.8,793.6 290,796.8 C294.2,800 294,797.9 295.6,802.5 C297.2,807 296.8,809.9 294.9,810.4 C293,811 291.3,808.9 289.9,804.2 C288.6,799.4 288.5,800.6 290.9,796.2 C293.3,791.9 295,792.9 297.1,791.2" fill="none" stroke="#e0e0e0" stroke-width="0.8" stroke-linecap="round" stroke-linejoin="round" />
<path d="M240.3,648.2 C240.8,645.6 240,645.4 241.8,640.4 C243.5,635.4 243.5,638.2 245.5,633.3 C247.5,628.4 247.9,625.7 247.8,625.6 C247.8,625.6 248.6,629.6 245.4,633.3 C242.1,637 243,634.6 238.2,636.8 C233.3,638.9 230.7,639.6 230.8,639.8 C230.9,640.1 235.9,638.3 238.4,637.5" fill="none" stroke="#e0e0e0" stroke-width="0.8" stroke-linecap="round" stroke-linejoin="round" />
<path d="M256.1,741.2 C258.4,739.8 258.5,736.9 262.9,737.1 C267.3,737.2 267.6,737.6 269.4,741.8 C271.2,746 266.7,745.3 268.3,749.7 C269.9,754.1 270.3,751.4 274.2,755.1 C278.1,758.7 275.6,757.7 280,760.6 C284.4,763.4 282.5,763.6 287.4,763.6 C292.3,763.7 292.4,761.7 294.8,760.7" fill="none" stroke="#e0e0e0" stroke-width="0.8" stroke-linecap="round" stroke-linejoin="round" />
<path d="M286.1,818.7 C284,817.1 284.5,815.5 279.7,813.9 C274.9,812.3 271.9,814.9 271.7,814 C271.5,813.1 274.6,810.6 279.2,811.3 C283.8,811.9 285.7,815.8 285.6,816.1 C285.4,816.3 283.5,812.4 278.7,811.9 C273.9,811.5 271.1,814.3 271.2,814.6 C271.3,815 276.4,813.5 279,813" fill="none" stroke="#e0e0e0" stroke-width="0.8" stroke-linecap="round" stroke-linejoin="round" />
<path d="M253.6,627.7 C252.9,630.3 254.4,631.4 251.4,635.4 C248.4,639.4 249.6,638.4 244.6,639.7 C239.7,641 241.1,637.5 236.7,639.3 C232.2,641.2 235.2,641.7 231.4,645.4 C227.6,649.1 224.8,649.7 225.3,650.5 C225.7,651.3 227.8,647.9 232.8,647.9 C237.8,647.8 237.9,649.6 240.4,650.5" fill="none" stroke="#e0e0e0" stroke-width="0.8" stroke-linecap="round" stroke-linejoin="round" />
<path d="M279.2,630.8 C280.5,628.4 284.2,624.9 283,623.8 C281.9,622.6 280.5,624.7 275.8,627.2 C271.1,629.7 273.9,630.5 269,631.3 C264.1,632.2 266.3,629.7 261.1,629.9 C255.9,630 256.6,628.5 253.3,631.7 C250,634.9 252.1,634.2 251.2,639.4 C250.2,644.6 250.7,644.7 250.4,647.4" fill="none" stroke="#e0e0e0" stroke-width="0.8" stroke-linecap="round" stroke-linejoin="round" />
<path d="M283.4,780.1 C280.8,780.6 280.5,779.8 275.6,781.5 C270.6,783.2 273.5,784.3 268.5,785.3 C263.5,786.3 261.2,786.5 260.6,784.4 C259.9,782.3 261.9,780.2 266.5,779 C271.1,777.9 271.2,777.7 274.2,781 C277.3,784.3 272.5,785.8 275.6,788.9 C278.6,792 280.8,789.8 283.4,790.2" fill="none" stroke="#e0e0e0" stroke-width="0.8" stroke-linecap="round" stroke-linejoin="round" />
<path d="M310.7,641.4 C312.2,639.2 311.6,638.6 315.2,634.8 C318.8,631 317.2,630.1 321.6,630 C326,629.8 326.5,630.1 328.4,634.2 C330.2,638.3 328.8,637.1 327.2,642.1 C325.5,647.1 327.3,646.9 323.3,649.1 C319.4,651.4 319.7,646.9 315.3,648.9 C311,650.9 312,653 310.3,655.1" fill="none" stroke="#e0e0e0" stroke-width="0.8" stroke-linecap="round" stroke-linejoin="round" />
<path d="M104,575 C107.3,559 103,561 115,552 C127,543 123.3,545.3 140,548 C156.7,550.7 145,551 165,560 C185,569 175,565 200,575 C225,585 213.3,581.7 240,590 C266.7,598.3 260,588.3 280,600 C300,611.7 296.7,608.3 300,625 C303.3,641.7 306.7,638.3 290,650 C273.3,661.7 275,646.7 250,660 C225,673.3 235,680 215,690 C195,700 203.3,698.3 190,690 C176.7,681.7 183.3,683.3 175,665 C166.7,646.7 173.3,649.3 165,635 C156.7,620.7 165,628.7 150,622 C135,615.3 135,622.3 120,615 C105,607.7 110.3,613.3 105,600 C99.7,586.7 100.7,591 104,575Z" fill="#fdfdfd" />
<path d="M246,656.8 C243.5,655.1 240.2,656.4 238.5,651.8 C236.8,647.3 242.1,648.3 240.9,643.2 C239.8,638 238.9,641 235,636.4 C231.2,631.8 229.8,634.3 229.4,629.4 C229,624.4 229.6,625.4 233.8,621.6 C238,617.7 236.7,620.7 242,617.8 C247.2,614.9 247,614.5 249.5,612.8" fill="none" stroke="#d6d6d6" stroke-width="0.9" stroke-linecap="round" stroke-linejoin="round" />
<path d="M168.1,591.4 C165.1,591.6 163.9,594.3 159.1,592.1 C154.3,589.9 154.2,589.9 153.8,584.8 C153.4,579.7 156.5,582.5 157.9,576.8 C159.3,571.2 155.3,572.4 157.9,567.8 C160.4,563.3 162.7,561.7 165.5,563.1 C168.4,564.6 163.4,567.9 166.4,572.1 C169.4,576.3 171.9,574.6 174.6,575.8" fill="none" stroke="#d6d6d6" stroke-width="0.9" stroke-linecap="round" stroke-linejoin="round" />
<path d="M234.4,661.5 C237.3,661.9 241.7,664.9 243.3,662.7 C244.8,660.5 243.1,658.8 239,654.8 C234.9,650.8 235,654.8 231,650.7 C226.9,646.7 226.5,647.8 226.9,642.7 C227.3,637.6 231.7,640.6 232.2,635.5 C232.7,630.3 231,632.7 228.5,627.3 C226,621.8 226,621.8 224.7,619.1" fill="none" stroke="#d6d6d6" stroke-width="0.9" stroke-linecap="round" stroke-linejoin="round" />
<path d="M134.2,568.3 C131.4,567.4 128.6,569.5 125.7,565.5 C122.7,561.6 128,561.2 125.4,556.6 C122.9,551.9 118,551.5 117.9,551.6 C117.9,551.6 123.8,552.1 125.4,556.7 C126.9,561.2 126,560.8 122.5,565.2 C119,569.6 120.1,567 114.9,570 C109.7,572.9 109.6,572.7 106.9,574.1" fill="none" stroke="#d6d6d6" stroke-width="0.9" stroke-linecap="round" stroke-linejoin="round" />
<path d="M231.1,603.6 C231.2,600.6 231.2,594.6 231.4,594.6 C231.6,594.6 233.9,598.5 231.9,603.6 C229.9,608.6 228,604.7 225.4,609.8 C222.7,614.8 222.6,613.3 223.9,618.6 C225.3,624 226.2,620.7 229.4,625.8 C232.6,630.8 230.3,628.7 233.4,633.8 C236.6,638.9 237,638.7 238.8,641.1" fill="none" stroke="#d6d6d6" stroke-width="0.9" stroke-linecap="round" stroke-linejoin="round" />
<path d="M192.4,592.4 C189.6,591.3 188.8,588 184,589.2 C179.1,590.4 182.7,594.9 177.9,595.9 C173.2,596.9 174.2,595.9 169.8,592.1 C165.4,588.4 165.8,590.1 164.8,584.6 C163.8,579.2 165.1,581.6 166.7,575.9 C168.4,570.1 170.1,567.6 169.6,567.3 C169,567.1 166.6,572.5 165.1,575.1" fill="none" stroke="#d6d6d6" stroke-width="0.9" stroke-linecap="round" stroke-linejoin="round" />
<path d="M184.3,604.3 C186.2,606.6 185.3,607.9 190,611.2 C194.8,614.5 192.7,613.4 198.5,614.1 C204.4,614.9 202.8,611.1 207.5,613.4 C212.2,615.6 211.4,615.4 212.6,620.8 C213.8,626.2 213.1,624.1 211,629.6 C208.9,635.2 205.9,632.5 206.4,637.4 C206.8,642.2 210.3,641.9 212.2,644.2" fill="none" stroke="#d6d6d6" stroke-width="0.9" stroke-linecap="round" stroke-linejoin="round" />
<path d="M155.4,625.1 C153.8,622.6 152.8,623 150.5,617.6 C148.2,612.2 146.9,613.8 148.5,608.8 C150,603.9 152.2,607.7 155.1,602.7 C157.9,597.7 156.6,599.8 157,593.9 C157.4,588 154.8,590.4 156.2,585 C157.6,579.5 159.2,582.9 161.2,577.5 C163.2,572 161.9,571.5 162.2,568.5" fill="none" stroke="#d6d6d6" stroke-width="0.9" stroke-linecap="round" stroke-linejoin="round" />
<path d="M245.4,604.4 C248.4,604.5 250,607.2 254.4,604.6 C258.7,602 259.9,598.2 258.5,596.6 C257,595 255.4,600.2 250,599.8 C244.7,599.3 247.3,598.4 242.3,595.1 C237.3,591.9 237.7,588.7 235,589.9 C232.3,591.2 232.6,593.6 234.2,598.9 C235.8,604.3 237.9,603.6 239.8,606" fill="none" stroke="#d6d6d6" stroke-width="0.9" stroke-linecap="round" stroke-linejoin="round" />
<path d="M191.4,572.9 C192.6,575.7 190.8,578.5 195,581.2 C199.3,583.8 199.7,578.4 204,581 C208.4,583.7 205.8,583.5 208,589.1 C210.2,594.6 210.5,591.9 210.7,597.7 C211,603.5 207,601.8 208.8,606.5 C210.7,611.1 214,606.9 216.2,611.6 C218.4,616.4 215.6,617.6 215.3,620.6" fill="none" stroke="#d6d6d6" stroke-width="0.9" stroke-linecap="round" stroke-linejoin="round" />
<path d="M139.8,568 C138.4,570.6 139.8,572.4 135.5,575.9 C131.2,579.4 132.6,576.7 126.9,578.5 C121.2,580.3 124.1,581 118.3,581.2 C112.5,581.4 109.7,581.1 109.6,579.2 C109.4,577.3 112.1,576.8 117.8,575.6 C123.6,574.4 120.8,575.9 126.8,575.5 C132.8,575.1 132.8,574.7 135.7,574.3" fill="none" stroke="#d6d6d6" stroke-width="0.9" stroke-linecap="round" stroke-linejoin="round" />
<path d="M231.1,606.3 C233.1,608.5 235.5,607.8 237.1,613 C238.8,618.2 235.5,616.1 236,621.9 C236.5,627.8 235,626.3 238.5,630.5 C242,634.8 241.1,634.5 246.5,634.7 C251.9,634.9 251.4,635.2 254.7,631.1 C258,626.9 252.9,625.6 256.5,622.2 C260,618.8 262.4,621.3 265.3,620.8" fill="none" stroke="#d6d6d6" stroke-width="0.9" stroke-linecap="round" stroke-linejoin="round" />
<path d="M152.8,591.6 C153.6,588.7 151.4,586.3 155.2,582.9 C158.9,579.6 159.1,584.3 164.1,581.6 C169.1,579 167.7,580.1 170.2,575 C172.6,569.8 173.5,570.7 171.5,566.1 C169.4,561.5 169.4,562.3 163.9,561.1 C158.5,560 159.4,564.8 155,562.6 C150.7,560.5 152.2,557.3 150.8,554.7" fill="none" stroke="#d6d6d6" stroke-width="0.9" stroke-linecap="round" stroke-linejoin="round" />
<path d="M214.5,615.5 C211.7,616.5 211.8,617.9 206,618.4 C200.2,618.9 202.3,615.4 197.1,616.9 C191.9,618.4 191.6,618.1 190.4,622.9 C189.2,627.7 189.6,627.5 193.4,631.4 C197.2,635.4 197.9,630.8 201.7,634.8 C205.6,638.7 204.6,637.5 204.9,643.2 C205.3,648.9 203.5,649 202.8,651.9" fill="none" stroke="#d6d6d6" stroke-width="0.9" stroke-linecap="round" stroke-linejoin="round" />
<path d="M148.4,581.3 C146.2,583.3 147,585 141.8,587.4 C136.6,589.7 137.9,585.9 132.8,588.3 C127.7,590.7 129.6,589.7 126.4,594.6 C123.3,599.5 123.4,597.4 123.4,603.1 C123.3,608.7 123.2,610.8 126.3,611.6 C129.5,612.3 128.3,609.2 132.9,605.4 C137.6,601.6 137.8,602 140.3,600.2" fill="none" stroke="#d6d6d6" stroke-width="0.9" stroke-linecap="round" stroke-linejoin="round" />
<path d="M228,628.8 C230.1,626.7 232,627.5 234.4,622.4 C236.7,617.3 232.5,618.3 235.1,613.5 C237.7,608.6 237.2,608.3 242.2,607.9 C247.2,607.6 244.9,609.3 250,612.4 C255.2,615.4 252.2,615.1 257.8,617 C263.3,618.8 262.1,620.1 266.7,617.9 C271.4,615.7 270.1,612.9 271.8,610.4" fill="none" stroke="#d6d6d6" stroke-width="0.9" stroke-linecap="round" stroke-linejoin="round" />
<path d="M191.1,679.4 C192.6,676.8 192.2,676.5 195.7,671.6 C199.2,666.8 199.5,670.1 201.5,664.8 C203.6,659.5 204.2,660.4 201.8,655.8 C199.3,651.2 199.2,654.3 194.2,650.9 C189.3,647.5 188.6,650.3 186.9,645.6 C185.3,641 185.7,640.8 189.4,636.9 C193,633.1 195,635 197.9,634" fill="none" stroke="#d6d6d6" stroke-width="0.9" stroke-linecap="round" stroke-linejoin="round" />
<path d="M267.1,630.8 C267.4,633.8 268.9,634.1 268,639.8 C267.1,645.5 267.9,643.4 264.3,648 C260.7,652.5 259,654.6 257.2,653.5 C255.3,652.4 260.2,649.7 258.7,644.6 C257.1,639.5 257.4,639.7 252.4,638.1 C247.4,636.6 248.9,641.1 243.6,639.9 C238.3,638.7 238.8,636.3 236.4,634.4" fill="none" stroke="#d6d6d6" stroke-width="0.9" stroke-linecap="round" stroke-linejoin="round" />
<path d="M277.6,621.4 C276.6,618.6 278.4,616.7 274.6,612.9 C270.8,609.1 271.7,612 266.1,609.9 C260.5,607.7 263.5,608.3 257.8,606.4 C252.1,604.5 253,607.7 249.1,604.1 C245.2,600.6 249.8,599.5 246,595.7 C242.1,591.9 239.4,590.8 237.5,592.6 C235.6,594.5 239.4,598.3 240.4,601.2" fill="none" stroke="#d6d6d6" stroke-width="0.9" stroke-linecap="round" stroke-linejoin="round" />
<path d="M203.8,617 C206.7,616.1 207.4,613.1 212.4,614.4 C217.4,615.6 216.1,615.6 218.9,620.7 C221.6,625.7 222,624.2 220.7,629.5 C219.4,634.7 217.7,631.2 215,636.4 C212.2,641.6 211.2,640 212.3,645 C213.5,650.1 215.3,646.6 218.5,651.6 C221.7,656.5 220.8,657.1 222,659.9" fill="none" stroke="#d6d6d6" stroke-width="0.9" stroke-linecap="round" stroke-linejoin="round" />
<path d="M143.4,572.8 C141.2,570.8 142,569.1 136.8,566.8 C131.5,564.5 133.8,566.3 127.8,565.9 C121.8,565.5 124.7,564.9 118.8,565.6 C112.9,566.4 113.5,564.3 110.1,568.1 C106.8,571.9 110,571.1 108.8,577 C107.5,582.9 106.5,579.9 106.5,585.7 C106.4,591.5 107.9,591.5 108.6,594.4" fill="none" stroke="#d6d6d6" stroke-width="0.9" stroke-linecap="round" stroke-linejoin="round" />
<path d="M196.1,653 C193.4,651.9 192.7,652.8 187.8,649.6 C182.9,646.4 185.4,647.7 181.3,643.3 C177.2,639 177.5,641.8 175.5,636.5 C173.5,631.2 178.3,631.3 175.3,627.5 C172.4,623.7 172.4,625 166.6,625.2 C160.9,625.3 157.9,626.6 158,627.9 C158.2,629.2 164,628.7 167,629.2" fill="none" stroke="#d6d6d6" stroke-width="0.9" stroke-linecap="round" stroke-linejoin="round" />
<path d="M213.2,619.6 C210.6,618.2 209.3,619.5 205.3,615.4 C201.3,611.3 201.4,612.8 201.2,607.4 C201,601.9 200.9,603.2 204.7,599.1 C208.6,595 207.7,594.8 212.8,595.2 C218,595.6 215.7,596.5 220.2,600.4 C224.8,604.3 221.4,604.8 226.4,606.9 C231.5,608.9 232.4,606.6 235.4,606.4" fill="none" stroke="#d6d6d6" stroke-width="0.9" stroke-linecap="round" stroke-linejoin="round" />
<path d="M255.3,636 C258.3,635.8 258.5,634.6 264.3,635.3 C270.1,636 267,636.8 272.8,638.1 C278.7,639.4 276.5,640.8 281.8,639.2 C287.1,637.7 289,636.9 288.7,633.5 C288.4,630.1 286.5,629.9 281,628.9 C275.4,627.9 276.8,632.3 272.1,630.4 C267.4,628.5 268.6,625.5 266.8,623.1" fill="none" stroke="#d6d6d6" stroke-width="0.9" stroke-linecap="round" stroke-linejoin="round" />
<path d="M189.1,619.5 C189.8,616.6 188.4,615.7 191.3,610.8 C194.2,605.8 193.4,608.6 197.9,604.6 C202.4,600.7 201.6,603.7 204.8,598.9 C208,594.1 204.2,595.1 207.4,590.2 C210.5,585.4 211.6,583.4 214.2,584.4 C216.8,585.5 216.2,587.7 215.2,593.4 C214.1,599 212.4,598.7 211,601.4" fill="none" stroke="#d6d6d6" stroke-width="0.9" stroke-linecap="round" stroke-linejoin="round" />
<path d="M160.8,567.5 C163.4,568.9 165.6,567.4 168.7,571.9 C171.8,576.3 171.2,575.2 170.1,580.8 C169,586.3 169.9,585 165.4,588.5 C161,591.9 160.8,587.4 156.8,591 C152.9,594.7 154.4,593.7 153.6,599.5 C152.9,605.3 151.5,604.2 154.5,608.4 C157.5,612.7 160,610.9 162.7,612.2" fill="none" stroke="#d6d6d6" stroke-width="0.9" stroke-linecap="round" stroke-linejoin="round" />
<path d="M224.2,618.7 C226.8,617.2 226.5,616.4 232.1,614.4 C237.7,612.4 236.4,610.7 240.9,612.7 C245.5,614.7 246,615.5 245.7,620.4 C245.3,625.2 243.2,622.3 239.9,627.3 C236.6,632.2 238.7,630 235.8,635.3 C232.8,640.5 235.7,640.3 231.2,643 C226.6,645.7 225.2,643.2 222.2,643.4" fill="none" stroke="#d6d6d6" stroke-width="0.9" stroke-linecap="round" stroke-linejoin="round" />
<path d="M221.6,609.6 C221.6,612.6 219.2,613.8 221.7,618.6 C224.1,623.4 223.5,621.9 228.9,624 C234.3,626.1 234.3,621.7 237.9,625 C241.4,628.3 240.8,628.5 239.5,633.8 C238.3,639.2 234.2,636.2 234.2,641 C234.1,645.9 237.8,642.9 239.5,648.3 C241.2,653.7 239.3,654.3 239.2,657.3" fill="none" stroke="#d6d6d6" stroke-width="0.9" stroke-linecap="round" stroke-linejoin="round" />
<path d="M220.8,677.5 C219.3,680.2 215.9,685.1 216.4,685.4 C216.9,685.7 217.9,682.6 222.3,678.6 C226.6,674.5 227.2,678.1 229.6,673.3 C231.9,668.6 230.5,670.1 229.2,664.3 C227.9,658.6 227.9,661.6 225.6,656.1 C223.3,650.5 222.6,653.4 222.3,647.7 C222.1,642 224,641.9 224.8,639.1" fill="none" stroke="#d6d6d6" stroke-width="0.9" stroke-linecap="round" stroke-linejoin="round" />
<path d="M237.3,639 C235.5,636.6 236.4,635.7 232,631.8 C227.6,627.9 226.2,631.8 224.1,627.4 C222,623 223.4,623.9 225.7,618.5 C228,613.2 227.1,615.8 231,611.3 C234.9,606.7 232.5,605.8 237.3,604.9 C242.2,604 242.2,604.4 245.6,608.5 C248.9,612.7 246.7,614.4 247.3,617.4" fill="none" stroke="#d6d6d6" stroke-width="0.9" stroke-linecap="round" stroke-linejoin="round" />
<path d="M217.1,608.5 C217.7,611.4 220.5,612.2 219,617.3 C217.5,622.3 217.5,622.8 212.6,623.6 C207.8,624.4 210.2,621.4 204.5,619.7 C198.8,618 199.4,621.8 195.6,618.5 C191.8,615.3 196.8,613.8 193.1,609.9 C189.5,606 190.4,608.6 184.6,606.9 C178.9,605.3 178.8,605.6 175.9,604.9" fill="none" stroke="#d6d6d6" stroke-width="0.9" stroke-linecap="round" stroke-linejoin="round" />
<path d="M219.1,639.5 C216.1,639.4 214.7,641.8 210.2,639.1 C205.7,636.3 206.7,636.8 205.6,631.3 C204.6,625.7 203.8,626.5 207.1,622.4 C210.3,618.3 211.2,622.8 215.4,619 C219.6,615.2 218.9,616.6 219.6,611 C220.3,605.4 217.2,608 217.6,602.2 C218,596.5 219.7,596.6 220.7,593.8" fill="none" stroke="#d6d6d6" stroke-width="0.9" stroke-linecap="round" stroke-linejoin="round" />
<path d="M284.8,628.8 C285.3,631.7 288.2,636.6 286.5,637.6 C284.8,638.6 284.3,635.6 279.6,631.8 C275,628.1 274,631 272.5,626.3 C271,621.6 272.1,622.8 275,617.7 C277.8,612.6 279.1,616.3 281.1,611.1 C283,605.8 283.5,603.6 280.8,602.1 C278.1,600.5 275.6,605 273,606.5" fill="none" stroke="#d6d6d6" stroke-width="0.9" stroke-linecap="round" stroke-linejoin="round" />
<path d="M275.9,605.3 C278.6,606.6 284.3,607.8 284.1,609.1 C283.8,610.4 279.7,606.7 275.1,609.3 C270.4,611.8 274.7,614.5 270.1,616.8 C265.4,619 267.1,615.8 261.1,616.1 C255.2,616.4 256.7,614.5 252.3,617.7 C247.8,620.8 249.2,619.9 247.8,625.5 C246.5,631.1 248.1,631.5 248.2,634.5" fill="none" stroke="#d6d6d6" stroke-width="0.9" stroke-linecap="round" stroke-linejoin="round" />
<path d="M196.5,583.7 C199.2,582.4 201.8,578.1 204.6,579.8 C207.4,581.5 204.3,582.9 204.8,588.8 C205.3,594.8 204.7,591.9 206,597.8 C207.4,603.6 208.5,600.5 208.8,606.3 C209.1,612.1 210.2,610.8 206.9,615.1 C203.6,619.4 204.3,619.3 199,619.3 C193.7,619.4 193.7,616.6 191,615.2" fill="none" stroke="#d6d6d6" stroke-width="0.9" stroke-linecap="round" stroke-linejoin="round" />
<path d="M132,590.1 C130.4,592.6 131.7,594.8 127.1,597.6 C122.5,600.4 124,597.3 118.1,598.5 C112.3,599.6 111.2,603 109.5,601.1 C107.8,599.2 110,597.9 113,592.8 C115.9,587.6 116.5,591 118.4,585.6 C120.4,580.3 116,581 118.7,576.6 C121.5,572.2 124,573.8 126.7,572.4" fill="none" stroke="#d6d6d6" stroke-width="0.9" stroke-linecap="round" stroke-linejoin="round" />
<path d="M125.2,570 C128.1,569.7 128.7,567.6 134.1,569 C139.5,570.4 136.3,573.8 141.4,574.2 C146.6,574.5 143.8,572 149.4,570.1 C155.1,568.1 153.3,566.7 158.3,568.3 C163.2,570 159.3,572.4 164.3,575 C169.3,577.7 168.1,573.8 173.2,576.3 C178.3,578.8 177.5,580.5 179.6,582.6" fill="none" stroke="#d6d6d6" stroke-width="0.9" stroke-linecap="round" stroke-linejoin="round" />
<path d="M271,637.3 C269,639.4 266.2,638.7 264.8,643.8 C263.4,648.9 269.1,650.2 266.8,652.6 C264.6,654.9 263.5,653.1 258,650.9 C252.5,648.8 255.9,647.7 250.4,646.2 C244.8,644.6 246.2,643.8 241.4,646.2 C236.5,648.6 239.4,648.4 235.8,653.2 C232.2,658 232.3,658.1 230.6,660.6" fill="none" stroke="#d6d6d6" stroke-width="0.9" stroke-linecap="round" stroke-linejoin="round" />
<path d="M110.5,571.7 C113.4,571.2 114.7,568.2 119.3,570.2 C123.9,572.2 121.7,572.4 124.3,577.7 C126.8,583.1 124.5,580.9 127,586.3 C129.5,591.7 127.3,591.5 131.9,593.9 C136.5,596.2 135.9,591.3 140.9,593.4 C145.9,595.4 142.2,599 147,600 C151.8,601 152.5,597.5 155.2,596.3" fill="none" stroke="#d6d6d6" stroke-width="0.9" stroke-linecap="round" stroke-linejoin="round" />
<path d="M258.2,631.8 C255.2,631.5 254.3,633.4 249.3,630.9 C244.2,628.4 248,625.4 243.2,624.3 C238.4,623.2 238.5,623.7 234.8,627.7 C231.2,631.7 230.6,631.7 232.3,636.3 C233.9,640.8 235.4,637.2 239.8,641.3 C244.1,645.3 240.5,646.7 245.2,648.4 C250,650.2 251.1,647.2 254,646.5" fill="none" stroke="#d6d6d6" stroke-width="0.9" stroke-linecap="round" stroke-linejoin="round" />
<path d="M165.7,599.7 C166.2,596.7 164.1,595.2 167.2,590.8 C170.3,586.3 170.2,585.8 175,586.3 C179.8,586.9 176.5,591.2 181.5,592.5 C186.6,593.8 185.6,593.4 190.2,590.1 C194.9,586.9 195.5,587.6 195.4,582.8 C195.4,578 194.7,578.9 190,575.6 C185.3,572.4 184.2,573.8 181.4,572.9" fill="none" stroke="#d6d6d6" stroke-width="0.9" stroke-linecap="round" stroke-linejoin="round" />
<path d="M259.9,650.3 C258.5,653 256.3,658.5 255.9,658.3 C255.4,658.1 255,654.2 258.4,649.7 C261.8,645.2 262.8,649.4 266,644.9 C269.2,640.3 264.3,639.4 267.9,636.1 C271.5,632.8 271.1,636.5 276.8,634.9 C282.5,633.3 280.6,634.9 285,631.3 C289.5,627.6 288.5,626.3 290.2,623.9" fill="none" stroke="#d6d6d6" stroke-width="0.9" stroke-linecap="round" stroke-linejoin="round" />
<path d="M273.1,642.6 C270.9,644.6 271.7,646.3 266.5,648.7 C261.3,651.2 263.3,648.2 257.6,649.9 C251.9,651.6 255,651.4 249.5,653.8 C243.9,656.1 246.6,654.8 241.1,657 C235.5,659.2 237.9,657.4 232.7,660.3 C227.5,663.2 229.4,661.3 225.5,665.7 C221.5,670.1 222.4,670.8 220.8,673.4" fill="none" stroke="#d6d6d6" stroke-width="0.9" stroke-linecap="round" stroke-linejoin="round" />
<path d="M136.6,603.8 C134.1,602.1 133.3,602.9 129.2,598.7 C125,594.5 126,596.7 124.2,591.2 C122.4,585.7 125.5,587.7 123.6,582.2 C121.8,576.7 123.2,576.8 118.6,574.7 C114,572.7 109.8,574.9 109.7,576.1 C109.6,577.3 112.7,576.6 118.4,578.4 C124.1,580.3 124,580.6 126.8,581.6" fill="none" stroke="#d6d6d6" stroke-width="0.9" stroke-linecap="round" stroke-linejoin="round" />
<path d="M132.4,564.5 C129.8,563.1 129,564 124.5,560.2 C120.1,556.4 117.9,555.9 119,553.1 C120.1,550.3 121.9,552.7 127.8,551.7 C133.7,550.6 130.7,550.2 136.7,549.9 C142.6,549.6 145.6,550.2 145.6,550.7 C145.6,551.3 141.3,548.7 136.6,551.4 C132,554.2 133.4,556.5 131.8,559" fill="none" stroke="#d6d6d6" stroke-width="0.9" stroke-linecap="round" stroke-linejoin="round" />
<path d="M141.1,595.8 L158.4,601" fill="none" stroke="#cccccc" stroke-width="2.6" stroke-linecap="round" stroke-linejoin="round"  stroke-linecap="butt"/>
<polygon points="162.2,602.2 157.5,603.9 159.2,598.2" fill="#cccccc" />
<path d="M157.1,595.7 L173.5,603.1" fill="none" stroke="#cccccc" stroke-width="2.6" stroke-linecap="round" stroke-linejoin="round"  stroke-linecap="butt"/>
<polygon points="177.2,604.7 172.3,605.8 174.8,600.3" fill="#cccccc" />
<path d="M111.5,580.6 L127.7,588.3" fill="none" stroke="#cccccc" stroke-width="2.6" stroke-linecap="round" stroke-linejoin="round"  stroke-linecap="butt"/>
<polygon points="131.3,590 126.4,591 129,585.6" fill="#cccccc" />
<path d="M142.4,604.5 L159.1,597.8" fill="none" stroke="#cccccc" stroke-width="2.6" stroke-linecap="round" stroke-linejoin="round"  stroke-linecap="butt"/>
<polygon points="162.8,596.3 160.3,600.5 158,595" fill="#cccccc" />
<path d="M133.5,568.6 L151.4,569.3" fill="none" stroke="#cccccc" stroke-width="2.6" stroke-linecap="round" stroke-linejoin="round"  stroke-linecap="butt"/>
<polygon points="155.4,569.5 151.3,572.3 151.6,566.4" fill="#cccccc" />
<path d="M138.7,555.7 L156,550.7" fill="none" stroke="#cccccc" stroke-width="2.6" stroke-linecap="round" stroke-linejoin="round"  stroke-linecap="butt"/>
<polygon points="159.8,549.6 156.8,553.6 155.1,547.8" fill="#cccccc" />
<path d="M124,605.4 L141.3,610.1" fill="none" stroke="#cccccc" stroke-width="2.6" stroke-linecap="round" stroke-linejoin="round"  stroke-linecap="butt"/>
<polygon points="145.2,611.2 140.6,613 142.1,607.2" fill="#cccccc" />
<path d="M118,598.8 L134.8,592.5" fill="none" stroke="#cccccc" stroke-width="2.6" stroke-linecap="round" stroke-linejoin="round"  stroke-linecap="butt"/>
<polygon points="138.6,591.1 135.9,595.3 133.8,589.7" fill="#cccccc" />
<path d="M140.9,562 L156.7,553.4" fill="none" stroke="#cccccc" stroke-width="2.6" stroke-linecap="round" stroke-linejoin="round"  stroke-linecap="butt"/>
<polygon points="160.2,551.5 158.1,556 155.3,550.7" fill="#cccccc" />
<path d="M153.6,566.5 L170.8,561.5" fill="none" stroke="#cccccc" stroke-width="2.6" stroke-linecap="round" stroke-linejoin="round"  stroke-linecap="butt"/>
<polygon points="174.7,560.3 171.7,564.3 170,558.6" fill="#cccccc" />
<path d="M159.1,603 L176.7,599.2" fill="none" stroke="#cccccc" stroke-width="2.6" stroke-linecap="round" stroke-linejoin="round"  stroke-linecap="butt"/>
<polygon points="180.6,598.4 177.4,602.2 176.1,596.3" fill="#cccccc" />
<path d="M158.1,584.7 L175.8,587.8" fill="none" stroke="#cccccc" stroke-width="2.6" stroke-linecap="round" stroke-linejoin="round"  stroke-linecap="butt"/>
<polygon points="179.7,588.5 175.3,590.8 176.3,584.9" fill="#cccccc" />
<path d="M120.2,606.8 L137.9,610.2" fill="none" stroke="#cccccc" stroke-width="2.6" stroke-linecap="round" stroke-linejoin="round"  stroke-linecap="butt"/>
<polygon points="141.8,610.9 137.3,613.1 138.5,607.2" fill="#cccccc" />
<path d="M158.3,604.2 L176,600.6" fill="none" stroke="#cccccc" stroke-width="2.6" stroke-linecap="round" stroke-linejoin="round"  stroke-linecap="butt"/>
<polygon points="179.9,599.8 176.6,603.5 175.4,597.6" fill="#cccccc" />
<path d="M202.5,634.1 L220.5,634.2" fill="none" stroke="#dedede" stroke-width="2.6" stroke-linecap="round" stroke-linejoin="round"  stroke-linecap="butt"/>
<polygon points="224.5,634.2 220.5,637.2 220.5,631.2" fill="#dedede" />
<path d="M175.9,641.6 L190.3,652.4" fill="none" stroke="#dedede" stroke-width="2.6" stroke-linecap="round" stroke-linejoin="round"  stroke-linecap="butt"/>
<polygon points="193.5,654.8 188.5,654.8 192.1,650" fill="#dedede" />
<path d="M170.3,662.3 L187.6,667.1" fill="none" stroke="#dedede" stroke-width="2.6" stroke-linecap="round" stroke-linejoin="round"  stroke-linecap="butt"/>
<polygon points="191.5,668.2 186.8,670 188.4,664.3" fill="#dedede" />
<path d="M197.9,670 L213.9,678.2" fill="none" stroke="#dedede" stroke-width="2.6" stroke-linecap="round" stroke-linejoin="round"  stroke-linecap="butt"/>
<polygon points="217.5,680 212.6,680.9 215.3,675.5" fill="#dedede" />
<path d="M198.4,651.5 L211.1,664.2" fill="none" stroke="#dedede" stroke-width="2.6" stroke-linecap="round" stroke-linejoin="round"  stroke-linecap="butt"/>
<polygon points="214,667 209,666.3 213.3,662.1" fill="#dedede" />
<path d="M175.1,678.6 L192.9,675.6" fill="none" stroke="#dedede" stroke-width="2.6" stroke-linecap="round" stroke-linejoin="round"  stroke-linecap="butt"/>
<polygon points="196.8,675 193.4,678.6 192.4,672.7" fill="#dedede" />
<path d="M237.5,671.5 L255.2,668.3" fill="none" stroke="#dedede" stroke-width="2.6" stroke-linecap="round" stroke-linejoin="round"  stroke-linecap="butt"/>
<polygon points="259.1,667.6 255.7,671.3 254.7,665.4" fill="#dedede" />
<path d="M240.9,645.1 L255.7,655.5" fill="none" stroke="#dedede" stroke-width="2.6" stroke-linecap="round" stroke-linejoin="round"  stroke-linecap="butt"/>
<polygon points="258.9,657.7 253.9,657.9 257.4,653" fill="#dedede" />
<path d="M170.8,627.6 L188.8,628.5" fill="none" stroke="#dedede" stroke-width="2.6" stroke-linecap="round" stroke-linejoin="round"  stroke-linecap="butt"/>
<polygon points="192.8,628.7 188.6,631.5 189,625.5" fill="#dedede" />
<path d="M256,635.8 L267.7,649.4" fill="none" stroke="#dedede" stroke-width="2.6" stroke-linecap="round" stroke-linejoin="round"  stroke-linecap="butt"/>
<polygon points="270.4,652.5 265.5,651.4 270,647.5" fill="#dedede" />
<path d="M253.7,676.8 L271,681.8" fill="none" stroke="#dedede" stroke-width="2.6" stroke-linecap="round" stroke-linejoin="round"  stroke-linecap="butt"/>
<polygon points="274.8,682.9 270.1,684.7 271.8,678.9" fill="#dedede" />
<path d="M201.9,653.9 L213.3,667.8" fill="none" stroke="#dedede" stroke-width="2.6" stroke-linecap="round" stroke-linejoin="round"  stroke-linecap="butt"/>
<polygon points="215.8,670.9 211,669.7 215.6,665.9" fill="#dedede" />
<path d="M330,560 C333.3,533.3 328.3,540 345,520 C361.7,500 358.3,508.3 380,500 C401.7,491.7 391.7,493.3 410,495 C428.3,496.7 423.3,490 435,505 C446.7,520 443.3,515 445,540 C446.7,565 446.7,555 440,580 C433.3,605 438.3,595 425,615 C411.7,635 418.3,631.7 400,640 C381.7,648.3 386.7,646.7 370,640 C353.3,633.3 361.7,633.3 350,620 C338.3,606.7 341.7,620 335,600 C328.3,580 326.7,586.7 330,560Z" fill="#fdfdfd" />
<path d="M356.6,538.8 L362.7,542.1 L357.7,543.2 L363.8,546.5 L358.7,547.5 L364.9,550.8 L359.8,551.9 L365.9,555.2 L360.8,556.3 L367,559.6" fill="none" stroke="#ededed" stroke-width="1.4" stroke-linejoin="round" stroke-linecap="round" />
<path d="M393.7,602.1 L400.4,600.5 L397.2,604.6 L403.9,603 L400.7,607.1 L407.4,605.4 L404.1,609.5 L410.8,607.9 L407.6,612 L414.3,610.4 L411,614.5 L417.7,612.8 L414.5,616.9" fill="none" stroke="#dedede" stroke-width="1.4" stroke-linejoin="round" stroke-linecap="round" />
<path d="M390.1,620.2 L388.7,627 L386.4,622.4 L385,629.2 L382.6,624.5 L381.3,631.3 L378.9,626.7 L377.6,633.4 L375.2,628.8 L373.8,635.6 L371.5,631" fill="none" stroke="#dedede" stroke-width="1.4" stroke-linejoin="round" stroke-linecap="round" />
<path d="M394.6,556.6 L401.4,554.9 L398.5,559.2 L405.4,557.6 L402.4,561.9 L409.3,560.3 L406.4,564.6" fill="none" stroke="#e6e6e6" stroke-width="1.4" stroke-linejoin="round" stroke-linecap="round" />
<path d="M336.6,555.8 L342.3,551.7 L341.1,556.8 L346.9,552.7 L345.7,557.8 L351.4,553.7 L350.2,558.8 L355.9,554.7 L354.7,559.8 L360.5,555.7" fill="none" stroke="#dedede" stroke-width="1.4" stroke-linejoin="round" stroke-linecap="round" />
<path d="M347.2,614.7 L354.1,613.7 L350.7,617.6 L357.5,616.6 L354.1,620.5 L361,619.4 L357.5,623.3 L364.4,622.3 L361,626.2" fill="none" stroke="#dedede" stroke-width="1.4" stroke-linejoin="round" stroke-linecap="round" />
<path d="M379.4,609.7 L382.7,615.7 L377.9,613.6 L381.3,619.7 L376.5,617.6 L379.8,623.6 L375,621.6 L378.4,627.6 L373.6,625.6 L376.9,631.6 L372.1,629.5" fill="none" stroke="#e6e6e6" stroke-width="1.4" stroke-linejoin="round" stroke-linecap="round" />
<path d="M375,611 L378,617.3 L373.2,615.2 L376.2,621.6 L371.4,619.4 L374.3,625.8 L369.6,623.7 L372.5,630 L367.8,627.9" fill="none" stroke="#e6e6e6" stroke-width="1.4" stroke-linejoin="round" stroke-linecap="round" />
<path d="M435.6,555.5 L439.6,561.1 L434.6,559.5 L438.6,565.2 L433.6,563.6 L437.6,569.2 L432.6,567.7 L436.6,573.3 L431.6,571.8 L435.6,577.4 L430.6,575.9 L434.6,581.5 L429.6,580" fill="none" stroke="#ededed" stroke-width="1.4" stroke-linejoin="round" stroke-linecap="round" />
<path d="M341.9,530.4 L348.7,528.7 L345.8,533 L352.6,531.3 L349.6,535.6 L356.4,533.9 L353.5,538.2 L360.3,536.5 L357.4,540.7 L364.2,539" fill="none" stroke="#ededed" stroke-width="1.4" stroke-linejoin="round" stroke-linecap="round" />
<path d="M347.2,575.8 L350.4,581.9 L345.7,579.8 L348.8,586 L344.1,583.9 L347.3,590 L342.5,587.9 L345.7,594.1 L340.9,592 L344.1,598.1" fill="none" stroke="#e6e6e6" stroke-width="1.4" stroke-linejoin="round" stroke-linecap="round" />
<path d="M369.9,546.4 L375.1,551.1 L369.9,551.1 L375.2,555.7 L370,555.7 L375.2,560.3 L370,560.3 L375.3,565 L370.1,565" fill="none" stroke="#e6e6e6" stroke-width="1.4" stroke-linejoin="round" stroke-linecap="round" />
<path d="M382.6,543.8 L378.2,549.2 L378.1,544 L373.7,549.4 L373.6,544.2 L369.2,549.6 L369.1,544.4" fill="none" stroke="#e6e6e6" stroke-width="1.4" stroke-linejoin="round" stroke-linecap="round" />
<path d="M376.7,609.2 L378,616.1 L374,612.8 L375.3,619.6 L371.3,616.3 L372.6,623.1 L368.6,619.8 L369.9,626.6 L365.9,623.3 L367.2,630.1" fill="none" stroke="#dedede" stroke-width="1.4" stroke-linejoin="round" stroke-linecap="round" />
<path d="M386.6,603.4 L393.6,603.3 L389.7,606.8 L396.7,606.6 L392.9,610.1 L399.9,610 L396,613.5 L403,613.4 L399.2,616.9 L406.2,616.7 L402.3,620.2" fill="none" stroke="#ededed" stroke-width="1.4" stroke-linejoin="round" stroke-linecap="round" />
<path d="M389.8,515.9 L387.7,522.5 L385.7,517.7 L383.5,524.4 L381.5,519.6 L379.4,526.2 L377.4,521.4 L375.3,528.1" fill="none" stroke="#ededed" stroke-width="1.4" stroke-linejoin="round" stroke-linecap="round" />
<path d="M397.6,505.9 L403.9,508.8 L398.8,510 L405.1,512.9 L400,514.1 L406.3,517 L401.2,518.2 L407.5,521.1 L402.4,522.3 L408.7,525.1 L403.6,526.4 L409.9,529.2 L404.8,530.4" fill="none" stroke="#dedede" stroke-width="1.4" stroke-linejoin="round" stroke-linecap="round" />
<path d="M402.9,575.8 L409.1,572.7 L406.9,577.4 L413,574.4 L410.8,579.1 L417,576 L414.7,580.7 L420.9,577.7 L418.6,582.4 L424.8,579.3 L422.5,584 L428.7,581 L426.4,585.7" fill="none" stroke="#dedede" stroke-width="1.4" stroke-linejoin="round" stroke-linecap="round" />
<path d="M386.2,530.6 L391.9,526.6 L390.5,531.7 L396.2,527.7 L394.8,532.7 L400.5,528.7 L399.1,533.7" fill="none" stroke="#ededed" stroke-width="1.4" stroke-linejoin="round" stroke-linecap="round" />
<path d="M360.9,562.5 L367.7,562.9 L363.5,565.8 L370.3,566.2 L366.1,569.2 L372.9,569.6 L368.7,572.5 L375.5,572.9 L371.3,575.9 L378.1,576.2 L373.9,579.2 L380.8,579.6" fill="none" stroke="#e6e6e6" stroke-width="1.4" stroke-linejoin="round" stroke-linecap="round" />
<path d="M400.3,513.1 L396.1,518.6 L396.1,513.4 L391.9,518.8 L391.9,513.6 L387.7,519.1 L387.7,513.9 L383.5,519.3 L383.5,514.1 L379.3,519.6 L379.3,514.4 L375.1,519.8 L375.1,514.6" fill="none" stroke="#ededed" stroke-width="1.4" stroke-linejoin="round" stroke-linecap="round" />
<path d="M383.5,545.9 L388.7,550.7 L383.5,550.6 L388.7,555.3 L383.5,555.2 L388.6,559.9 L383.4,559.8 L388.6,564.6" fill="none" stroke="#e6e6e6" stroke-width="1.4" stroke-linejoin="round" stroke-linecap="round" />
<path d="M400,535.7 L404.5,540.9 L399.4,540 L403.9,545.3 L398.8,544.4 L403.3,549.6 L398.2,548.7 L402.8,553.9 L397.6,553 L402.2,558.2 L397.1,557.3 L401.6,562.6" fill="none" stroke="#ededed" stroke-width="1.4" stroke-linejoin="round" stroke-linecap="round" />
<path d="M392.6,583.4 L398.7,580.2 L396.6,584.9 L402.7,581.7 L400.7,586.5 L406.8,583.2 L404.7,588 L410.8,584.7 L408.7,589.5 L414.8,586.3 L412.7,591" fill="none" stroke="#dedede" stroke-width="1.4" stroke-linejoin="round" stroke-linecap="round" />
<path d="M387,608.7 L386.3,615.5 L383.5,611.1 L382.8,617.9 L380,613.5 L379.3,620.4 L376.6,616 L375.9,622.8 L373.1,618.4 L372.4,625.2 L369.7,620.8 L369,627.7" fill="none" stroke="#ededed" stroke-width="1.4" stroke-linejoin="round" stroke-linecap="round" />
<path d="M402.2,531.1 L399.2,537.3 L398,532.2 L395,538.4 L393.9,533.4 L390.9,539.6 L389.8,534.5 L386.8,540.7 L385.6,535.6 L382.6,541.9 L381.5,536.8" fill="none" stroke="#e6e6e6" stroke-width="1.4" stroke-linejoin="round" stroke-linecap="round" />
<path d="M415.9,524.4 C416,527.1 413.6,528.7 416.1,532.4 C418.6,536.1 419.8,532.1 423.5,535.5 C427.1,538.9 426.4,537.7 427,542.7 C427.5,547.7 423.6,546.3 425.1,550.5 C426.7,554.6 428.3,551.2 431.7,555.1 C435.1,559 434.2,559.8 435.4,562.2" fill="none" stroke="#dcdcdc" stroke-width="0.8" stroke-linecap="round" stroke-linejoin="round" />
<path d="M387.8,587.1 C389.3,589.3 388.8,589.8 392.3,593.7 C395.8,597.7 396.4,594.7 398.3,599.1 C400.1,603.6 399.9,602.6 397.8,607.1 C395.7,611.6 396.3,612 392,612.7 C387.7,613.3 389.2,608.4 384.9,609.1 C380.5,609.8 381,612.8 379.1,614.6" fill="none" stroke="#dcdcdc" stroke-width="0.8" stroke-linecap="round" stroke-linejoin="round" />
<path d="M437.9,527.2 C439.1,529.6 441.4,529.4 441.7,534.2 C442,539 442.4,539.2 438.8,541.7 C435.1,544.2 435.9,540.8 430.8,541.7 C425.6,542.7 428.1,544.9 423.3,544.5 C418.5,544.2 420.6,540.3 416.2,540.8 C411.9,541.3 412.3,544.3 410.3,546.1" fill="none" stroke="#dcdcdc" stroke-width="0.8" stroke-linecap="round" stroke-linejoin="round" />
<path d="M441.4,537.6 C439.3,539.3 436.5,538.5 435.3,542.7 C434.1,547 439.6,547.7 437.8,550.3 C436,552.9 435.1,551.1 429.8,550.6 C424.5,550 427.1,550.4 422,548.7 C417,547.1 418,549.2 414.6,545.7 C411.2,542.2 412.7,540.7 411.8,538.2" fill="none" stroke="#dcdcdc" stroke-width="0.8" stroke-linecap="round" stroke-linejoin="round" />
<path d="M427.9,556.4 C427.4,553.8 425,553 426.5,548.5 C428,544.1 430,547.5 432.4,543.1 C434.8,538.6 430.7,538.5 433.8,535.2 C436.8,531.9 441.2,532.4 441.5,533.2 C441.8,533.9 438.9,534.2 434.7,537.4 C430.5,540.6 430.8,541 428.8,542.8" fill="none" stroke="#dcdcdc" stroke-width="0.8" stroke-linecap="round" stroke-linejoin="round" />
<path d="M389.6,503.5 C391.8,505 392.9,504.1 396.3,508 C399.6,511.9 395.8,512.9 399.6,515.3 C403.3,517.6 402.3,515.8 407.6,514.9 C412.8,514.1 410.5,515 415.3,512.7 C420,510.4 416.9,509.3 421.8,508.1 C426.6,506.8 427.1,508.6 429.7,508.9" fill="none" stroke="#dcdcdc" stroke-width="0.8" stroke-linecap="round" stroke-linejoin="round" />
<path d="M392.5,510.1 C395.1,509.5 395.2,508.1 400.3,508.4 C405.5,508.7 403.1,508.8 407.9,511 C412.7,513.2 410.4,515.3 414.8,515.1 C419.2,514.8 419.4,514.5 421.1,510.2 C422.9,505.9 422.3,506.7 420,502.3 C417.7,497.8 416.2,498.6 414.2,496.8" fill="none" stroke="#dcdcdc" stroke-width="0.8" stroke-linecap="round" stroke-linejoin="round" />
<path d="M440.3,545.4 C437.7,545.2 436.9,546.9 432.4,544.7 C427.9,542.6 427.9,543.4 426.8,539 C425.8,534.5 426.5,535.7 429.2,531.3 C432,527 432.1,530.1 435.1,525.9 C438.2,521.7 438.2,518.5 438.4,518.6 C438.6,518.7 436.6,523.6 435.7,526.1" fill="none" stroke="#dcdcdc" stroke-width="0.8" stroke-linecap="round" stroke-linejoin="round" />
<path d="M335.1,577.3 C334.5,574.7 333.7,574.7 333.5,569.5 C333.2,564.2 331.9,565.7 334.4,561.5 C336.8,557.3 336.6,560.1 340.8,556.8 C345,553.5 342.6,554.6 347,551.7 C351.4,548.8 349.2,548.4 354.1,548 C359,547.7 359.1,549.8 361.6,550.7" fill="none" stroke="#dcdcdc" stroke-width="0.8" stroke-linecap="round" stroke-linejoin="round" />
<path d="M379.4,537.4 C379.4,540 377.4,541 379.5,545.4 C381.6,549.7 381.1,549.7 385.7,550.5 C390.2,551.3 388,548.8 393.2,547.7 C398.4,546.6 397.8,549.9 401.2,547.2 C404.6,544.5 404.9,543.6 403.5,539.5 C402,535.4 399.1,536.5 396.9,534.9" fill="none" stroke="#dcdcdc" stroke-width="0.8" stroke-linecap="round" stroke-linejoin="round" />
<path d="M408.3,556.4 C409,558.9 409,559 410.5,564.1 C412.1,569.2 414.1,567.3 412.9,571.7 C411.8,576 411.5,574.4 407,577.1 C402.6,579.8 404.6,578.3 399.5,579.9 C394.4,581.4 396.7,579.8 391.7,581.7 C386.8,583.6 387.1,584.3 384.8,585.6" fill="none" stroke="#dcdcdc" stroke-width="0.8" stroke-linecap="round" stroke-linejoin="round" />
<path d="M380.6,539.4 C381.6,541.8 384.7,542.5 383.7,546.7 C382.8,550.9 381.2,548 377.7,552 C374.2,556 377.4,556 373.3,558.7 C369.1,561.3 370.5,560.5 365.4,560.1 C360.3,559.7 362.8,559.3 357.8,557.4 C352.9,555.5 352.9,555.4 350.4,554.4" fill="none" stroke="#dcdcdc" stroke-width="0.8" stroke-linecap="round" stroke-linejoin="round" />
<path d="M405.1,601.2 C405,598.5 407,597.3 404.6,593.2 C402.2,589.1 402.8,590.1 397.9,588.8 C393,587.6 393.5,586.8 389.9,589.6 C386.3,592.3 387.5,592 387.2,597.1 C386.8,602.2 387.3,599.8 388.9,604.9 C390.4,610 390.9,609.9 391.9,612.3" fill="none" stroke="#dcdcdc" stroke-width="0.8" stroke-linecap="round" stroke-linejoin="round" />
<path d="M355.1,567.4 C356.3,569.8 357.7,569.6 358.6,574.6 C359.5,579.7 355.9,578.3 357.8,582.6 C359.6,586.8 359.4,586 364.2,587.4 C368.9,588.7 367.2,585.4 372.1,586.6 C377,587.8 374.1,590.4 378.9,590.9 C383.6,591.4 383.8,589 386.3,588.1" fill="none" stroke="#dcdcdc" stroke-width="0.8" stroke-linecap="round" stroke-linejoin="round" />
<path d="M414.4,500.5 C415.3,503 415.6,502.9 417.1,508 C418.6,513.1 419.7,510.9 418.9,515.8 C418.1,520.7 418.8,520.7 414.8,522.7 C410.8,524.7 410,524.7 406.9,521.8 C403.7,518.9 408.4,517.2 405.3,514 C402.1,510.8 400,512.9 397.4,512.3" fill="none" stroke="#dcdcdc" stroke-width="0.8" stroke-linecap="round" stroke-linejoin="round" />
<path d="M385.7,511.8 C383.8,510 384.5,507.9 380,506.3 C375.4,504.7 375.5,504.3 372,507 C368.5,509.8 368.1,510.5 369.4,514.6 C370.7,518.7 371,517.8 375.8,519.4 C380.6,521 379.3,521.4 383.8,519.5 C388.4,517.7 387.7,515.8 389.6,514" fill="none" stroke="#dcdcdc" stroke-width="0.8" stroke-linecap="round" stroke-linejoin="round" />
<path d="M390.2,613.8 C388.6,611.7 389.6,610.3 385.4,607.4 C381.3,604.5 381.7,608.1 377.8,605.1 C373.8,602 377.4,601.7 373.6,598.3 C369.8,594.9 370.6,598 366.4,594.9 C362.1,591.8 361.5,593.4 360.9,589 C360.3,584.7 363.3,584.3 364.6,581.9" fill="none" stroke="#dcdcdc" stroke-width="0.8" stroke-linecap="round" stroke-linejoin="round" />
<path d="M396.7,563.6 C399.3,562.7 400.1,559.9 404.4,561.1 C408.6,562.3 405.3,565.9 409.6,567.2 C413.9,568.4 414.4,568.3 417.2,564.8 C420.1,561.4 416.9,562 418.2,556.9 C419.5,551.8 420.5,554.6 421.2,549.5 C421.9,544.3 420.5,544.2 420.2,541.5" fill="none" stroke="#dcdcdc" stroke-width="0.8" stroke-linecap="round" stroke-linejoin="round" />
<path d="M398.9,528.7 C400.8,530.5 402.1,529.7 404.8,534.1 C407.5,538.4 406.9,536.6 407,541.8 C407.1,546.9 403.5,545.5 405.2,549.6 C406.8,553.6 408.5,550 411.9,553.9 C415.4,557.7 414.9,556.1 415.5,561 C416,566 414.3,566.2 413.7,568.8" fill="none" stroke="#dcdcdc" stroke-width="0.8" stroke-linecap="round" stroke-linejoin="round" />
<path d="M383.8,508.7 C384.5,511.3 382.5,513.1 385.7,516.5 C388.9,519.8 389.4,520.3 393.4,518.8 C397.4,517.3 397.7,516.5 397.7,512 C397.6,507.5 393.5,509.9 393.3,505.3 C393,500.7 393.1,500 397,498.2 C400.8,496.4 402.2,499.3 404.8,499.9" fill="none" stroke="#dcdcdc" stroke-width="0.8" stroke-linecap="round" stroke-linejoin="round" />
<path d="M423,505.5 C420.6,506.5 420.8,507.8 415.7,508.5 C410.5,509.3 412.2,509.9 407.7,507.8 C403.1,505.7 403.1,501.5 402,502.2 C400.9,502.8 401,506.5 404.3,509.8 C407.6,513.1 406.7,511.3 412,512.1 C417.2,512.9 417.3,512.2 420,512.2" fill="none" stroke="#dcdcdc" stroke-width="0.8" stroke-linecap="round" stroke-linejoin="round" />
<path d="M351.9,555.5 C353.5,553.4 356.1,553.8 356.8,549.3 C357.5,544.7 353.7,546.7 353.9,541.8 C354.1,536.9 354.2,538.8 357.3,534.6 C360.4,530.3 360,533.3 363.2,529.1 C366.4,525 364.6,526.9 366.9,522.1 C369.2,517.3 369,517.2 370,514.7" fill="none" stroke="#dcdcdc" stroke-width="0.8" stroke-linecap="round" stroke-linejoin="round" />
<path d="M360.6,595.2 C359.5,597.6 361,599.9 357.1,602.4 C353.3,604.8 354.3,603.5 349.1,602.5 C344,601.6 341.5,600.5 341.7,599.5 C341.9,598.5 345.5,601.7 349.7,599.5 C354,597.4 351.3,597.4 354.4,593 C357.6,588.7 357.5,588.7 359.1,586.5" fill="none" stroke="#dcdcdc" stroke-width="0.8" stroke-linecap="round" stroke-linejoin="round" />
<path d="M383.7,559.8 C381.8,561.6 381.5,561.4 377.9,565.2 C374.2,569.1 375.9,567.1 372.8,571.5 C369.8,575.8 369.5,573.5 368.8,578.4 C368,583.2 367.4,582.9 370.6,586.1 C373.8,589.4 374,589.4 378.4,588.1 C382.7,586.7 381.9,584 383.6,582" fill="none" stroke="#dcdcdc" stroke-width="0.8" stroke-linecap="round" stroke-linejoin="round" />
<path d="M356.8,602.2 C354.2,601.6 353,598.8 349,600.4 C344.9,602.1 346.1,607.6 344.6,607.1 C343.1,606.7 343.3,604.2 344.4,599.1 C345.6,594.1 347.3,597 348,591.9 C348.6,586.9 347.7,589.3 346.4,584.1 C345,579 344.7,579 343.9,576.5" fill="none" stroke="#dcdcdc" stroke-width="0.8" stroke-linecap="round" stroke-linejoin="round" />
<path d="M303.8,625.7 C305.2,623 308.4,622.9 308.1,617.8 C307.9,612.7 304,615.8 302.9,610.5 C301.8,605.1 304.9,607.6 304.9,601.7 C304.9,595.8 305.2,598.4 303,592.9 C300.8,587.4 299.1,590.7 298.3,585.2 C297.6,579.7 301.5,582 300.8,576.5 C300,571.1 297.6,571.4 296.1,568.9" fill="none" stroke="#dadada" stroke-width="0.8" stroke-linecap="round" stroke-linejoin="round" />
<path d="M334.2,634.1 C335.2,631.3 333.2,628.3 337.2,625.6 C341.2,623 342.2,628.8 346.2,626.1 C350.3,623.5 351.3,620.6 349.4,617.7 C347.4,614.8 346.1,618.7 340.4,617.5 C334.6,616.3 337.7,614.5 332,614.1 C326.4,613.7 329.2,615.7 323.3,616.3 C317.4,616.9 317.3,616.1 314.3,615.9" fill="none" stroke="#dadada" stroke-width="0.8" stroke-linecap="round" stroke-linejoin="round" />
<path d="M254.1,619.8 C253.4,616.9 255.6,614.8 252,611 C248.5,607.2 249.3,609.3 243.4,608.3 C237.6,607.4 240.1,606.8 234.4,608.2 C228.8,609.5 232.1,611.5 226.5,612.4 C220.9,613.4 221.5,614.4 217.6,611.1 C213.8,607.7 214.6,608.1 215,602.5 C215.3,596.9 217.4,597 218.7,594.2" fill="none" stroke="#dadada" stroke-width="0.8" stroke-linecap="round" stroke-linejoin="round" />
<path d="M284.9,564.6 C282.6,562.7 281.5,558 277.9,558.8 C274.4,559.7 274.3,561.6 274.3,567.1 C274.4,572.5 279,570.4 278.1,575.2 C277.3,580.1 272.5,576.8 271.8,581.6 C271.1,586.4 275.3,584 276,589.6 C276.6,595.2 274.1,592.5 273.8,598.3 C273.5,604.2 274.7,604.3 275.1,607.2" fill="none" stroke="#dadada" stroke-width="0.8" stroke-linecap="round" stroke-linejoin="round" />
<path d="M291.9,592.8 C291.3,595.8 293.2,597.1 290.1,601.6 C286.9,606.1 286.7,602.4 282.4,606.3 C278,610.3 279.6,608.3 277,613.6 C274.4,618.8 277.9,617.7 274.5,622.2 C271.2,626.7 270,622.5 266.9,627 C263.9,631.6 266.5,635.9 265.4,635.9 C264.3,635.9 264.2,630 263.6,627.1" fill="none" stroke="#dadada" stroke-width="0.8" stroke-linecap="round" stroke-linejoin="round" />
<path d="M282.6,604.5 C282.1,607.4 282,607.4 281,613.3 C280,619.3 277.7,617.4 279.6,622.2 C281.5,627 281.4,625.2 286.7,627.8 C291.9,630.4 290.6,631.6 295.4,630 C300.2,628.3 298.3,628.1 301,622.9 C303.6,617.6 304.5,619.3 303.2,614.2 C302,609.1 299.2,609.8 297.1,607.6" fill="none" stroke="#dadada" stroke-width="0.8" stroke-linecap="round" stroke-linejoin="round" />
<path d="M240.7,608.9 C238.3,607.1 238.5,606.8 233.6,603.4 C228.8,599.9 231.1,601.8 226.1,598.5 C221.1,595.1 223.2,597.3 218.7,593.3 C214.2,589.4 213.7,591.8 212.6,586.7 C211.5,581.6 215.7,583.7 215.4,578.1 C215.1,572.5 212.1,575.5 211.8,569.9 C211.4,564.3 213.5,564.2 214.4,561.3" fill="none" stroke="#dadada" stroke-width="0.8" stroke-linecap="round" stroke-linejoin="round" />
<path d="M247.4,615.6 C249.5,617.7 249.1,618.3 253.8,621.9 C258.6,625.5 256.3,623.7 261.6,626.5 C266.9,629.3 265,631.3 269.7,630.3 C274.4,629.3 270.7,625.3 275.6,623.5 C280.6,621.8 280.1,622 284.5,625.1 C288.9,628.3 287.8,627.4 288.8,633 C289.9,638.6 288.1,638.9 287.7,641.9" fill="none" stroke="#dadada" stroke-width="0.8" stroke-linecap="round" stroke-linejoin="round" />
<path d="M299.4,571.1 C297.9,573.7 296.6,573.3 294.9,578.9 C293.3,584.5 293.8,582 294.3,587.9 C294.8,593.8 297.8,591.6 296.4,596.7 C295.1,601.8 293.3,598.2 290.2,603.2 C287.2,608.2 291.2,609 287.2,611.7 C283.1,614.3 283.3,609.2 278.2,611.1 C273,613 273.8,615.3 271.7,617.3" fill="none" stroke="#dadada" stroke-width="0.8" stroke-linecap="round" stroke-linejoin="round" />
<path d="M222,598.2 C220.3,595.6 219.7,596 217.1,590.6 C214.5,585.2 213.5,587.4 214.3,582 C215,576.7 219.4,579.6 219.4,574.6 C219.3,569.7 217.7,572.2 214.2,567.3 C210.6,562.5 207.9,561.2 208.8,560.1 C209.7,559 211.4,561.6 216.9,563.9 C222.4,566.3 222.5,566 225.3,567.1" fill="none" stroke="#dadada" stroke-width="0.8" stroke-linecap="round" stroke-linejoin="round" />
<path d="M333,595.3 C334.2,598 336.6,597.9 336.8,603.4 C336.9,608.9 333,606.4 333.3,611.8 C333.7,617.1 336.4,614 337.8,619.6 C339.1,625.2 340.5,624.9 337.4,628.6 C334.4,632.3 334.5,630.8 328.7,630.7 C322.9,630.7 323.7,632.1 320,628.4 C316.3,624.8 318.4,622.6 317.6,619.7" fill="none" stroke="#dadada" stroke-width="0.8" stroke-linecap="round" stroke-linejoin="round" />
<path d="M220,614.9 C222.7,613.7 223,614.2 228.2,611.3 C233.5,608.4 231.8,610.6 235.7,606.3 C239.6,602 239.9,603.6 239.8,598.3 C239.8,593 239.1,595.2 235.6,590.4 C232.1,585.5 234.4,585.2 229.4,583.8 C224.5,582.4 225.6,587.5 220.7,586.1 C215.8,584.6 216.7,581.6 214.7,579.4" fill="none" stroke="#dadada" stroke-width="0.8" stroke-linecap="round" stroke-linejoin="round" />
<path d="M226.5,607.8 C223.6,607.6 221.6,610.2 217.6,607.2 C213.5,604.1 213.5,603.8 214.4,598.7 C215.4,593.7 216,596 220.5,592 C224.9,588.1 222.8,590.2 227.8,586.8 C232.7,583.4 230,582.5 235.3,581.9 C240.7,581.3 238.5,582.2 243.8,584.9 C249.1,587.6 248.8,588.3 251.2,590" fill="none" stroke="#dadada" stroke-width="0.8" stroke-linecap="round" stroke-linejoin="round" />
<path d="M232.4,609.2 C230.8,606.7 231.5,606 227.4,601.7 C223.3,597.5 224.2,600.7 220.2,596.4 C216.1,592.2 219.8,592.1 215.2,588.9 C210.6,585.8 207.1,585.6 206.4,586.9 C205.7,588.3 207.9,591.4 213.1,593 C218.3,594.5 216.4,593.6 222,591.7 C227.5,589.7 227.1,588.6 229.7,587.1" fill="none" stroke="#dadada" stroke-width="0.8" stroke-linecap="round" stroke-linejoin="round" />
<path d="M283.4,628.5 C285.8,630.3 285.7,630.5 290.7,633.8 C295.7,637.1 293.3,638.6 298.4,638.5 C303.4,638.4 300.5,636.2 305.9,633.6 C311.2,630.9 308.6,632 314.4,630.6 C320.2,629.3 317.7,628.5 323.3,629.6 C329,630.6 326.3,634.3 331.3,633.8 C336.3,633.3 335.9,630 338.2,628.1" fill="none" stroke="#dadada" stroke-width="0.8" stroke-linecap="round" stroke-linejoin="round" />
<path d="M287.1,596.5 C284.1,596.4 283.8,597.5 278.1,596.1 C272.4,594.6 273.4,596.4 270,592.1 C266.7,587.9 266.4,588.1 268.2,583.3 C270,578.6 270,580.1 275.4,577.9 C280.8,575.7 278.6,575.9 284.3,576.8 C290,577.7 290,576.4 292.4,580.7 C294.9,585 292,586.7 291.7,589.6" fill="none" stroke="#dadada" stroke-width="0.8" stroke-linecap="round" stroke-linejoin="round" />
<path d="M261.2,583.6 C262.3,580.9 263.5,581.1 264.5,575.3 C265.6,569.5 262.7,571.7 264.3,566.3 C266,560.8 264.8,560.8 269.5,558.9 C274.1,557 273.7,557.6 278.3,560.6 C283,563.7 278.8,565.1 283.4,568 C288.1,570.9 287.6,566.5 292.3,569.4 C297.1,572.3 295.9,574.2 297.7,576.6" fill="none" stroke="#dadada" stroke-width="0.8" stroke-linecap="round" stroke-linejoin="round" />
<path d="M235.4,605.8 C236.6,603 238.7,603.1 238.9,597.5 C239.2,591.9 239,594 236.1,588.9 C233.2,583.8 235,585.4 230.2,582.1 C225.5,578.8 227.6,579.5 221.8,578.9 C216,578.4 217.4,577.3 212.9,580.4 C208.5,583.6 209.1,588.5 208.4,588.2 C207.7,587.9 210,582.4 210.9,579.6" fill="none" stroke="#dadada" stroke-width="0.8" stroke-linecap="round" stroke-linejoin="round" />
<path d="M242.6,575.1 C241.2,572.5 241.5,572.3 238.3,567.2 C235.2,562.1 237.9,561.6 233.3,559.8 C228.7,557.9 228,558.1 224.5,561.7 C221,565.3 226,566.2 222.7,570.5 C219.4,574.8 220.2,574 214.7,574.6 C209.1,575.1 209.4,575.9 206,572.1 C202.6,568.4 204.9,566.2 204.4,563.3" fill="none" stroke="#dadada" stroke-width="0.8" stroke-linecap="round" stroke-linejoin="round" />
<path d="M247.7,635.8 C250.6,636.5 250.9,635.6 256.4,637.9 C261.9,640.2 258.5,641.3 264.1,642.7 C269.6,644 267,642.2 273,642 C279,641.8 280.9,644.4 282,642.1 C283.2,639.8 279.2,640.3 276.5,635.1 C273.8,629.8 273.7,632.1 273.9,626.4 C274.1,620.8 276.1,620.8 277.2,618" fill="none" stroke="#dadada" stroke-width="0.8" stroke-linecap="round" stroke-linejoin="round" />
<path d="M286.4,583.7 C283.4,584.1 283,586.1 277.5,585 C271.9,583.9 273.5,584.8 269.7,580.5 C265.9,576.3 270.2,574.8 266,572.3 C261.8,569.8 263,572.8 257,573 C251.1,573.3 254,573 248,573 C242,573.1 244.5,574.8 239,573.2 C233.6,571.6 234.1,569.8 231.6,568.2" fill="none" stroke="#dadada" stroke-width="0.8" stroke-linecap="round" stroke-linejoin="round" />
<path d="M268.1,554.8 C265.4,556 262.9,554.3 259.9,558.5 C256.9,562.8 257.3,562.3 259.1,567.5 C260.9,572.7 261.9,569.2 265.2,574.1 C268.6,579 269.4,576.9 269.2,582.2 C268.9,587.5 265.2,584.5 264.5,589.9 C263.8,595.3 265.8,592.7 267.1,598.5 C268.4,604.3 268,604.4 268.4,607.4" fill="none" stroke="#dadada" stroke-width="0.8" stroke-linecap="round" stroke-linejoin="round" />
<path d="M277.8,619.2 C280.3,617.5 280,616.9 285.3,614.2 C290.6,611.4 288.1,613.1 293.7,610.9 C299.2,608.7 298.4,611.5 302,607.5 C305.6,603.4 303.1,604.6 304.4,598.8 C305.8,593 302.5,593.4 306,589.9 C309.5,586.5 309.2,587.6 314.9,588.4 C320.6,589.2 320.3,591 323,592.3" fill="none" stroke="#dadada" stroke-width="0.8" stroke-linecap="round" stroke-linejoin="round" />
<path d="M232,583.3 C233.7,585.8 233.5,586 237.1,590.8 C240.7,595.6 237.9,595.6 242.8,597.7 C247.7,599.8 245.9,598 251.8,597.1 C257.7,596.1 256,593 260.5,594.8 C265,596.6 261.5,597.9 265.3,602.4 C269.1,607 268.4,603.8 272,608.4 C275.7,613.1 274.8,613.8 276.2,616.4" fill="none" stroke="#dadada" stroke-width="0.8" stroke-linecap="round" stroke-linejoin="round" />
<path d="M254.6,595.1 C257.6,594.8 259,597 263.5,594.1 C268,591.2 264,590.5 268,586.3 C272,582.1 270.1,582.6 275.6,581.5 C281.1,580.4 279.6,580.2 284.5,583 C289.4,585.8 285.3,587.8 290.3,589.9 C295.2,592 293.8,591.3 299.3,589.4 C304.7,587.5 304.1,585.9 306.6,584.2" fill="none" stroke="#dadada" stroke-width="0.8" stroke-linecap="round" stroke-linejoin="round" />
<path d="M345.6,628 C342.6,628.2 342,626.5 336.6,628.5 C331.3,630.5 331.4,629.2 329.5,634 C327.6,638.8 332.8,638.1 330.8,642.9 C328.9,647.7 329,647.4 323.7,648.4 C318.4,649.4 320.8,647.6 315.1,645.9 C309.3,644.3 312.3,644.5 306.4,643.5 C300.5,642.5 300.4,643.2 297.4,643" fill="none" stroke="#dadada" stroke-width="0.8" stroke-linecap="round" stroke-linejoin="round" />
<path d="M346.4,609.1 C346.1,612.1 347.2,612.4 345.5,618 C343.8,623.7 342.3,620.4 341.3,626 C340.4,631.6 343.4,629.2 342.7,634.9 C342,640.6 343.4,640.2 339.2,643.2 C335,646.2 334,640.7 330.2,643.9 C326.5,647 326.8,652 328,652.6 C329.2,653.2 331.8,648 333.8,645.7" fill="none" stroke="#dadada" stroke-width="0.8" stroke-linecap="round" stroke-linejoin="round" />
<path d="M330.5,600.6 C332.6,602.7 333.9,601.9 337,606.8 C340.1,611.7 338.2,609.6 339.7,615.4 C341.2,621.2 340.8,618.3 341.6,624.2 C342.3,630.1 340.4,627.6 341.9,633.2 C343.5,638.8 347.2,640.2 346.2,641.1 C345.2,642 344.3,637.5 338.9,635.9 C333.5,634.2 332.9,636.1 329.9,636.3" fill="none" stroke="#dadada" stroke-width="0.8" stroke-linecap="round" stroke-linejoin="round" />
<path d="M295.5,621.4 C292.9,622.9 293.3,625 287.8,625.9 C282.2,626.9 284.8,625.4 278.9,624.2 C273,623.1 274.8,620.6 270.1,622.5 C265.4,624.3 269.4,626.2 264.9,629.8 C260.4,633.3 261.3,634.3 256.5,633.1 C251.8,632 251,631.2 250.6,626.4 C250.1,621.5 253.6,621.2 255.1,618.6" fill="none" stroke="#dadada" stroke-width="0.8" stroke-linecap="round" stroke-linejoin="round" />
<path d="M289.9,566.6 C288.5,564 285.6,558.7 285.6,558.7 C285.6,558.7 290,561.4 289.9,566.6 C289.8,571.8 286.1,568.9 285.3,574.4 C284.6,579.9 288.1,577.4 287.7,583.1 C287.3,588.7 288.4,588.8 284.2,591.3 C280,593.9 281.2,590.7 275.2,590.7 C269.2,590.8 269.2,591.3 266.3,591.6" fill="none" stroke="#dadada" stroke-width="0.8" stroke-linecap="round" stroke-linejoin="round" />
<g id="cplx">
<path d="M583.8,523.1 C586.4,521.5 586.3,521.5 591.4,518.3 C596.5,515.1 593.7,516.1 599.1,513.6 C604.5,511.1 603.5,514.4 607.6,510.8 C611.7,507.1 608.8,508 611.4,502.6 C614,497.2 611.9,499.3 615.4,494.5 C618.9,489.7 616.7,490.4 621.8,488.2 C627,486.1 627.8,488.2 630.8,488.1" fill="none" stroke="#1e701e" stroke-width="0.9" stroke-linecap="round" stroke-linejoin="round" />
<path d="M534.2,490.2 C534.8,493.1 536.3,493.2 536,499 C535.7,504.8 531.9,502.8 533.3,507.6 C534.7,512.4 536.8,514.2 540.2,513.3 C543.6,512.4 539.4,507.7 543.5,504.9 C547.6,502.1 546.7,503.8 552.5,505 C558.2,506.2 555.7,505.4 560.7,508.5 C565.8,511.7 565.3,512.4 567.6,514.4" fill="none" stroke="#1e701e" stroke-width="0.9" stroke-linecap="round" stroke-linejoin="round" />
<path d="M594.4,458.9 C596.9,460.4 601.8,459.9 602.1,463.4 C602.4,466.8 599.7,465.1 595.3,469.2 C590.8,473.2 592.8,471 588.9,475.6 C585.1,480.1 588.4,480.3 583.7,482.9 C578.9,485.5 580.7,483.2 574.7,483.4 C568.7,483.6 571.5,484.5 565.7,483.4 C559.9,482.4 560.1,481.3 557.3,480.3" fill="none" stroke="#1e701e" stroke-width="0.9" stroke-linecap="round" stroke-linejoin="round" />
<path d="M590.4,536.3 C588.4,538.6 589.1,542.1 584.4,543.1 C579.7,544 578.5,543.4 576.3,539.2 C574.1,534.9 574.7,534.7 577.8,530.3 C580.9,525.8 580,527.2 585.6,525.8 C591.2,524.4 588.9,527.3 594.6,526 C600.3,524.7 598.8,526.1 602.7,522 C606.5,517.9 605,516.5 606.2,513.7" fill="none" stroke="#1e701e" stroke-width="0.9" stroke-linecap="round" stroke-linejoin="round" />
<path d="M627.3,502.7 C628.2,499.8 626.1,497.2 630,494.1 C633.9,491 634,491.4 639,493.5 C644,495.5 640.4,499.2 645.1,500.1 C649.8,501 649.4,500.2 653.1,496.1 C656.8,491.9 658.1,490 656.2,487.6 C654.2,485.2 653.2,487.8 647.3,489 C641.4,490.1 641.5,490.4 638.5,491.1" fill="none" stroke="#1e701e" stroke-width="0.9" stroke-linecap="round" stroke-linejoin="round" />
<path d="M656.9,502.3 C654.8,500.1 652.9,501 650.6,495.9 C648.4,490.7 652.1,492.2 650.2,486.9 C648.2,481.5 649.5,481.6 644.7,479.7 C639.9,477.8 641.3,478.9 635.8,481.1 C630.4,483.2 633.3,486.1 628.3,486.1 C623.4,486 624.3,485.5 621,480.8 C617.7,476.2 619.3,475.1 618.5,472.2" fill="none" stroke="#1e701e" stroke-width="0.9" stroke-linecap="round" stroke-linejoin="round" />
<path d="M537.5,482.9 C540.2,481.4 539.9,479.2 545.4,478.5 C550.9,477.8 548.7,481.7 554.1,480.8 C559.5,480 556.4,478.8 561.6,475.9 C566.9,473.1 564.6,475.1 569.8,472.2 C575.1,469.4 575.6,466.1 577.5,467.5 C579.4,468.8 578.4,471.3 575.6,476.3 C572.8,481.3 571.3,480.4 569.1,482.5" fill="none" stroke="#1e701e" stroke-width="0.9" stroke-linecap="round" stroke-linejoin="round" />
<path d="M539.3,533.9 C541.9,535.4 541.6,537.6 547.1,538.4 C552.6,539.3 550.9,539.3 555.9,536.5 C560.9,533.6 557.2,530.9 562,529.9 C566.8,528.9 566.5,529.5 570.3,533.4 C574.2,537.4 570.2,537.1 573.6,541.8 C577.1,546.5 578.6,542.6 580.6,547.5 C582.6,552.4 579.9,553.4 579.6,556.4" fill="none" stroke="#1e701e" stroke-width="0.9" stroke-linecap="round" stroke-linejoin="round" />
<path d="M550.4,501.9 C552.9,500.3 555.5,501.7 558.1,497.2 C560.6,492.6 555.1,492.1 557.9,488.2 C560.7,484.2 562.1,488.9 566.4,485.4 C570.8,481.8 569.7,483.1 570.8,477.5 C571.9,471.9 571.8,469.1 569.8,468.6 C567.7,468.1 566.9,470.6 564.8,476.1 C562.7,481.5 563.9,482 563.5,485" fill="none" stroke="#1e701e" stroke-width="0.9" stroke-linecap="round" stroke-linejoin="round" />
<path d="M554.8,528.5 C553,530.9 554.1,534.1 549.5,535.7 C544.8,537.3 540.7,533.4 540.8,533.3 C540.8,533.2 543.9,533.4 549.5,535.3 C555.2,537.2 554.4,534.8 557.8,538.9 C561.1,543.1 556.4,543.3 559.6,547.8 C562.7,552.3 561.9,551.9 567.3,552.4 C572.7,552.9 572.9,550.3 575.7,549.3" fill="none" stroke="#1e701e" stroke-width="0.9" stroke-linecap="round" stroke-linejoin="round" />
<path d="M555.7,475.6 C558.4,474.2 561.9,469.9 563.7,471.3 C565.5,472.8 564.9,476.8 561.1,480 C557.3,483.2 557.1,483 552.2,481 C547.3,479 547.1,473.6 546.4,474 C545.8,474.5 547.1,477.1 550.1,482.3 C553.1,487.4 550.6,487.4 555.4,489.6 C560.1,491.7 561.4,489 564.4,488.8" fill="none" stroke="#1e701e" stroke-width="0.9" stroke-linecap="round" stroke-linejoin="round" />
<path d="M554.2,541.7 C551.9,543.6 552.3,544.3 547.2,547.4 C542.2,550.6 540.1,552.4 539.1,551.2 C538.1,550 543.2,549.2 544.2,543.8 C545.1,538.4 541.7,540.8 542,535.1 C542.2,529.3 541.8,527.3 544.9,526.5 C548,525.8 546.1,530.5 551.3,532.9 C556.4,535.2 557.3,533.3 560.3,533.5" fill="none" stroke="#1e701e" stroke-width="0.9" stroke-linecap="round" stroke-linejoin="round" />
<path d="M598.6,560.7 C595.7,560.3 593.7,562.7 589.7,559.4 C585.8,556.2 590.4,555.1 586.7,550.9 C583,546.8 583.4,546.1 578.7,546.9 C573.9,547.8 575,548.3 572.4,553.4 C569.8,558.5 571.4,556.3 570.8,562.2 C570.2,568.2 567.9,566.9 570.5,571.2 C573.1,575.6 575.9,573.9 578.6,575.2" fill="none" stroke="#1e701e" stroke-width="0.9" stroke-linecap="round" stroke-linejoin="round" />
<path d="M545.6,498.6 C543,500.1 542.3,499.2 537.7,503 C533.2,506.7 530.9,507.1 531.9,509.8 C532.9,512.5 537.3,507.8 540.8,511.2 C544.3,514.6 541.1,520 542.3,520 C543.5,520.1 541.7,516.4 544.4,511.3 C547.2,506.2 546,508.6 550.5,504.6 C554.9,500.7 555.4,501.2 557.8,499.4" fill="none" stroke="#1e701e" stroke-width="0.9" stroke-linecap="round" stroke-linejoin="round" />
<path d="M588,545.1 C585,544.6 583.8,541.7 579.1,543.6 C574.4,545.6 577.6,546.3 573.8,550.9 C570,555.6 572.7,554.7 567.7,557.5 C562.7,560.4 563.8,561 558.9,559.4 C553.9,557.8 555.2,557.9 552.8,552.8 C550.4,547.6 550.9,549.6 551.7,543.8 C552.5,538.1 554.1,538.3 555.3,535.6" fill="none" stroke="#1e701e" stroke-width="0.9" stroke-linecap="round" stroke-linejoin="round" />
<path d="M569.9,539.2 C572.7,540.2 572.6,540.9 578.4,542.2 C584.2,543.6 582.4,540.7 587.3,543.3 C592.2,546 591.9,545.1 593.1,550.3 C594.2,555.5 592.9,553.4 590.8,559 C588.8,564.6 590.3,562.2 587,567.1 C583.6,572 581.5,574.1 580.7,573.6 C580,573.1 583.4,568.2 584.7,565.5" fill="none" stroke="#1e701e" stroke-width="0.9" stroke-linecap="round" stroke-linejoin="round" />
<path d="M601.9,529.4 C603.8,531.7 607.4,531.5 607.7,536.3 C608,541.1 607.4,541.3 602.8,543.8 C598.1,546.4 599.3,545.5 593.8,543.9 C588.3,542.2 591.7,541.4 586.3,538.9 C580.9,536.3 582.4,539.5 577.7,536.2 C573,533 575.3,534.2 572.2,529.1 C569,524.1 569.5,523.8 568.2,521.1" fill="none" stroke="#1e701e" stroke-width="0.9" stroke-linecap="round" stroke-linejoin="round" />
<path d="M582.2,558.9 C583.3,561.7 581.5,564.6 585.6,567.2 C589.8,569.9 588.7,566.3 594.6,566.8 C600.6,567.3 603.5,568.6 603.4,568.8 C603.4,568.9 600.1,566.2 594.5,567.3 C589,568.3 592.4,570.3 586.8,571.8 C581.2,573.4 583.8,571.9 577.8,572 C571.8,572.1 571.8,572.1 568.8,572.2" fill="none" stroke="#1e701e" stroke-width="0.9" stroke-linecap="round" stroke-linejoin="round" />
<path d="M606.3,569.5 C603.4,568.5 603.6,566.9 597.8,566.5 C592,566.1 594.8,568.4 588.9,568.1 C583.1,567.8 585.8,565 580.3,565.6 C574.8,566.2 574.3,571.4 572.3,569.9 C570.4,568.4 570.8,564.9 574.3,561.1 C577.8,557.3 577.1,559 582.9,558.5 C588.8,557.9 588.9,559.2 591.9,559.5" fill="none" stroke="#1e701e" stroke-width="0.9" stroke-linecap="round" stroke-linejoin="round" />
<path d="M582.4,565.8 C580,567.6 577.2,572.4 575.3,571.3 C573.3,570.1 576.2,568.3 576.4,562.3 C576.7,556.4 574.1,558.6 576,553.4 C577.9,548.2 577.1,548.2 582.1,546.7 C587,545.3 586.9,545.4 590.8,549 C594.7,552.6 591,552.2 593.7,557.5 C596.5,562.8 597.3,562.4 599,564.8" fill="none" stroke="#1e701e" stroke-width="0.9" stroke-linecap="round" stroke-linejoin="round" />
<path d="M601.9,491.9 C603.9,494.1 606.4,493.4 607.9,498.6 C609.4,503.8 609.6,503.1 606.5,507.5 C603.5,512 604.3,510.6 598.7,511.9 C593.1,513.3 593.8,514.5 589.7,511.6 C585.6,508.7 590,507.8 586.5,503.2 C583,498.6 584.5,499 579.2,497.9 C573.9,496.8 573.4,499.3 570.4,500" fill="none" stroke="#1e701e" stroke-width="0.9" stroke-linecap="round" stroke-linejoin="round" />
<path d="M583.6,486.6 C584.9,489.3 585.8,489 587.5,494.7 C589.2,500.4 587.8,497.7 588.6,503.6 C589.4,509.6 587.7,507.1 589.9,512.5 C592,517.9 594.1,514.5 595.1,519.9 C596,525.2 596.5,525.5 592.7,528.5 C589,531.6 589.7,528.3 583.8,529 C577.8,529.7 577.9,530.1 574.9,530.6" fill="none" stroke="#1e701e" stroke-width="0.9" stroke-linecap="round" stroke-linejoin="round" />
<path d="M610.3,540.7 L610.6,548.8 L606.8,543.4 L607,551.5 L603.2,546.1 L603.5,554.1 L599.7,548.7 L599.9,556.8 L596.1,551.4 L596.4,559.5 L592.5,554.1 L592.8,562.1 L589,556.8 L589.3,564.8" fill="none" stroke="#155a15" stroke-width="2.1" stroke-linejoin="round" stroke-linecap="round" />
<path d="M614.5,515.5 L613.7,523.5 L610.8,517.6 L609.9,525.6 L607,519.7 L606.2,527.6 L603.2,521.7 L602.4,529.7 L599.5,523.8 L598.7,531.8 L595.7,525.9 L594.9,533.8 L591.9,527.9" fill="none" stroke="#1e701e" stroke-width="2.1" stroke-linejoin="round" stroke-linecap="round" />
<path d="M560.7,518.7 L566.1,524.8 L559.7,523.1 L565.1,529.1 L558.7,527.5 L564,533.5" fill="none" stroke="#1e701e" stroke-width="2.1" stroke-linejoin="round" stroke-linecap="round" />
<path d="M583.9,474.3 L582.3,482.2 L579.7,476.1 L578.1,484.1 L575.5,478 L573.9,485.9 L571.3,479.9 L569.7,487.8 L567.1,481.7" fill="none" stroke="#1e701e" stroke-width="2.1" stroke-linejoin="round" stroke-linecap="round" />
<path d="M547.6,531.9 L554.4,527.6 L551.7,533.7 L558.5,529.4 L555.8,535.4 L562.6,531.1" fill="none" stroke="#1e701e" stroke-width="2.1" stroke-linejoin="round" stroke-linecap="round" />
<path d="M597.8,538.4 L605.5,535.9 L601.4,541.1 L609,538.6 L604.9,543.8 L612.6,541.3 L608.5,546.4 L616.1,543.9 L612,549.1 L619.7,546.6 L615.6,551.8 L623.2,549.3 L619.1,554.4 L626.8,551.9" fill="none" stroke="#155a15" stroke-width="2.1" stroke-linejoin="round" stroke-linecap="round" />
<path d="M633.2,523.5 L638.1,529.9 L631.9,527.8 L636.8,534.2 L630.6,532 L635.5,538.4 L629.2,536.3 L634.2,542.6 L627.9,540.5 L632.9,546.9 L626.6,544.8 L631.5,551.1" fill="none" stroke="#1e701e" stroke-width="2.1" stroke-linejoin="round" stroke-linecap="round" />
<path d="M568.3,552.2 L575.2,556.3 L568.6,556.4 L575.5,560.6 L568.9,560.7 L575.7,564.8 L569.1,564.9 L576,569 L569.4,569.2" fill="none" stroke="#1e701e" stroke-width="2.1" stroke-linejoin="round" stroke-linecap="round" />
<path d="M589.1,478.5 L597.1,477.3 L592.2,481.7 L600.1,480.5 L595.2,484.9 L603.2,483.7 L598.3,488.1 L606.3,486.9 L601.4,491.3 L609.4,490 L604.5,494.5 L612.4,493.2 L607.6,497.7 L615.5,496.4" fill="none" stroke="#155a15" stroke-width="2.1" stroke-linejoin="round" stroke-linecap="round" />
<path d="M574.7,502.4 L580.5,507.9 L574,506.6 L579.9,512.1 L573.4,510.7 L579.2,516.2 L572.7,514.9 L578.6,520.4 L572.1,519.1 L577.9,524.5" fill="none" stroke="#1e701e" stroke-width="2.1" stroke-linejoin="round" stroke-linecap="round" />
<path d="M652,476.3 L653.3,484.2 L648.9,479.4 L650.1,487.3 L645.7,482.4 L647,490.4 L642.5,485.5 L643.8,493.4 L639.3,488.5 L640.6,496.5 L636.2,491.6 L637.4,499.5 L633,494.7 L634.3,502.6" fill="none" stroke="#1e701e" stroke-width="2.1" stroke-linejoin="round" stroke-linecap="round" />
<path d="M572.9,496.8 L579.1,501.8 L572.5,501.1 L578.8,506.1 L572.2,505.4 L578.4,510.4 L571.9,509.6 L578.1,514.7 L571.5,513.9 L577.8,518.9 L571.2,518.2 L577.4,523.2 L570.9,522.5" fill="none" stroke="#1e701e" stroke-width="2.1" stroke-linejoin="round" stroke-linecap="round" />
<path d="M603.7,549 L611.6,550.7 L605.6,553.3 L613.5,555 L607.5,557.7 L615.5,559.4 L609.4,562 L617.4,563.7" fill="none" stroke="#1e701e" stroke-width="2.1" stroke-linejoin="round" stroke-linecap="round" />
<path d="M575.9,525.1 L573.2,532.6 L571.7,526.2 L569,533.7 L567.5,527.3 L564.7,534.9 L563.3,528.4 L560.5,536 L559,529.5" fill="none" stroke="#155a15" stroke-width="2.1" stroke-linejoin="round" stroke-linecap="round" />
<path d="M598.1,494 L606.2,494.5 L600.7,498 L608.8,498.5 L603.3,502.1 L611.4,502.5 L605.9,506.1" fill="none" stroke="#1e701e" stroke-width="2.1" stroke-linejoin="round" stroke-linecap="round" />
<path d="M608.5,542.5 L616.5,542.6 L611,546.2 L619.1,546.3 L613.5,549.9 L621.6,550.1 L616,553.6 L624.1,553.8 L618.6,557.3 L626.6,557.5" fill="none" stroke="#155a15" stroke-width="2.1" stroke-linejoin="round" stroke-linecap="round" />
<path d="M596.9,505.9 L604.8,504.2 L600.2,508.9 L608.1,507.2 L603.5,512 L611.3,510.3 L606.7,515 L614.6,513.3 L610,518 L617.9,516.3 L613.3,521" fill="none" stroke="#1e701e" stroke-width="2.1" stroke-linejoin="round" stroke-linecap="round" />
<path d="M588.4,509.2 L594.1,503.5 L592.7,510 L598.4,504.3 L597,510.7 L602.7,505 L601.3,511.5 L607,505.8 L605.6,512.3 L611.3,506.6 L609.9,513 L615.6,507.3 L614.2,513.8 L619.9,508.1" fill="none" stroke="#1e701e" stroke-width="2.1" stroke-linejoin="round" stroke-linecap="round" />
<path d="M631.1,497.7 L638.6,495.2 L634.4,500.3 L642,497.8 L637.8,502.8 L645.4,500.3 L641.2,505.4 L648.8,502.9 L644.5,508 L652.1,505.5 L647.9,510.5 L655.5,508 L651.3,513.1 L658.9,510.6 L654.6,515.7" fill="none" stroke="#155a15" stroke-width="2.1" stroke-linejoin="round" stroke-linecap="round" />
<path d="M628.8,468.3 L636.2,471.6 L629.7,472.9 L637.2,476.1 L630.7,477.4 L638.1,480.6 L631.6,481.9" fill="none" stroke="#1e701e" stroke-width="2.1" stroke-linejoin="round" stroke-linecap="round" />
<path d="M571,506.6 L566.3,513.2 L566.4,506.6 L561.8,513.2 L561.9,506.6 L557.3,513.2 L557.4,506.6 L552.7,513.2 L552.8,506.6 L548.2,513.3 L548.3,506.7 L543.7,513.3 L543.8,506.7" fill="none" stroke="#155a15" stroke-width="2.1" stroke-linejoin="round" stroke-linecap="round" />
<path d="M588.2,511 L590.1,518.8 L585.3,514.3 L587.2,522.2 L582.3,517.7 L584.2,525.5 L579.4,521 L581.3,528.9 L576.4,524.4 L578.3,532.2" fill="none" stroke="#1e701e" stroke-width="2.1" stroke-linejoin="round" stroke-linecap="round" />
<path d="M600.3,474 L597.2,481.4 L596.2,474.8 L593.1,482.2 L592,475.7 L588.9,483 L587.9,476.5 L584.8,483.8 L583.8,477.3 L580.6,484.7 L579.6,478.1 L576.5,485.5 L575.5,479 L572.3,486.3" fill="none" stroke="#1e701e" stroke-width="2.1" stroke-linejoin="round" stroke-linecap="round" />
<path d="M577,546.1 L577.8,554.1 L573.6,548.9 L574.4,556.9 L570.3,551.8 L571.1,559.8 L566.9,554.6 L567.7,562.6 L563.6,557.5 L564.4,565.5 L560.3,560.3 L561,568.4" fill="none" stroke="#155a15" stroke-width="2.1" stroke-linejoin="round" stroke-linecap="round" />
<path d="M602.7,531.9 L601.9,540 L598.7,534.2 L597.9,542.3 L594.7,536.5 L593.9,544.5 L590.8,538.7 L590,546.8" fill="none" stroke="#155a15" stroke-width="2.1" stroke-linejoin="round" stroke-linecap="round" />
<path d="M575.1,473.9 L573.9,481.9 L571.1,475.9 L570,483.9 L567.2,477.9 L566,485.9 L563.2,479.9 L562,487.9 L559.2,481.9 L558,489.9" fill="none" stroke="#1e701e" stroke-width="2.1" stroke-linejoin="round" stroke-linecap="round" />
<path d="M570.4,489.7 L578.5,489.3 L573.2,493.3 L581.3,492.9 L576,496.9 L584.1,496.5 L578.8,500.5 L586.9,500.1 L581.6,504.1 L589.7,503.7" fill="none" stroke="#155a15" stroke-width="2.1" stroke-linejoin="round" stroke-linecap="round" />
<path d="M631.1,494.9 L634.9,502 L629.1,499 L633,506.1 L627.1,503.1 L631,510.2 L625.1,507.2 L629,514.3 L623.1,511.3 L627,518.4 L621.1,515.4 L625,522.5" fill="none" stroke="#1e701e" stroke-width="2.1" stroke-linejoin="round" stroke-linecap="round" />
<path d="M576.6,552.6 L575,560.5 L572.6,554.3 L571,562.2 L568.5,556.1 L566.9,563.9 L564.5,557.8 L562.9,565.7 L560.5,559.5 L558.9,567.4 L556.5,561.3 L554.9,569.2" fill="none" stroke="#1e701e" stroke-width="2.1" stroke-linejoin="round" stroke-linecap="round" />
<path d="M591.1,535.1 L593.2,542.9 L588.2,538.6 L590.4,546.4 L585.4,542.1 L587.5,549.9 L582.5,545.6 L584.6,553.4 L579.6,549.1 L581.7,556.9 L576.7,552.5 L578.8,560.3" fill="none" stroke="#1e701e" stroke-width="2.1" stroke-linejoin="round" stroke-linecap="round" />
<path d="M570.5,518.3 L568.9,526.2 L566.3,520.1 L564.7,528.1 L562.1,522 L560.5,529.9 L557.9,523.9 L556.3,531.8" fill="none" stroke="#1e701e" stroke-width="2.1" stroke-linejoin="round" stroke-linecap="round" />
<path d="M554.6,523.3 L558.9,530.3 L552.8,527.8 L557.1,534.7 L551,532.2 L555.2,539.2 L549.1,536.7" fill="none" stroke="#155a15" stroke-width="2.1" stroke-linejoin="round" stroke-linecap="round" />
<path d="M551.2,564.6 L557.8,560 L555.4,566.1 L562.1,561.5 L559.7,567.7 L566.3,563 L563.9,569.2 L570.6,564.6 L568.2,570.7 L574.8,566.1 L572.4,572.3 L579.1,567.7 L576.7,573.8 L583.3,569.2" fill="none" stroke="#1e701e" stroke-width="2.1" stroke-linejoin="round" stroke-linecap="round" />
<path d="M588.7,499 L593.3,505.6 L587.2,503.2 L591.8,509.8 L585.6,507.4 L590.3,514 L584.1,511.5 L588.7,518.1 L582.6,515.7 L587.2,522.3 L581.1,519.9" fill="none" stroke="#1e701e" stroke-width="2.1" stroke-linejoin="round" stroke-linecap="round" />
<path d="M619.9,501 L627.9,502.1 L621.9,504.9 L629.9,506.1 L624,508.9 L632,510.1 L626,512.9 L634,514.1 L628,516.9 L636,518.1 L630.1,520.9 L638,522.1 L632.1,524.9 L640.1,526" fill="none" stroke="#1e701e" stroke-width="2.1" stroke-linejoin="round" stroke-linecap="round" />
<path d="M598.8,492.9 L606.9,492.7 L601.5,496.6 L609.6,496.4 L604.3,500.3 L612.4,500.1 L607,504 L615.1,503.8 L609.8,507.7 L617.9,507.5" fill="none" stroke="#155a15" stroke-width="2.1" stroke-linejoin="round" stroke-linecap="round" />
<path d="M567.2,500.4 L574.1,496.2 L571.5,502.3 L578.5,498.1 L575.8,504.1 L582.8,499.9 L580.1,506 L587.1,501.8 L584.4,507.8" fill="none" stroke="#155a15" stroke-width="2.1" stroke-linejoin="round" stroke-linecap="round" />
<path d="M611.3,502.4 L618.3,498.5 L615.3,504.4 L622.4,500.4 L619.4,506.3 L626.4,502.3 L623.4,508.2 L630.4,504.3 L627.4,510.2 L634.4,506.2 L631.4,512.1" fill="none" stroke="#155a15" stroke-width="2.1" stroke-linejoin="round" stroke-linecap="round" />
<path d="M590.4,482.3 L597.2,478.1 L594.3,484.1 L601.1,479.9 L598.2,485.8 L605,481.6 L602.1,487.5" fill="none" stroke="#155a15" stroke-width="2.1" stroke-linejoin="round" stroke-linecap="round" />
<path d="M601.6,531.6 L608.7,527.6 L605.8,533.5 L612.8,529.6 L609.9,535.5 L617,531.5 L614.1,537.5 L621.1,533.5 L618.2,539.4 L625.3,535.5 L622.4,541.4" fill="none" stroke="#155a15" stroke-width="2.1" stroke-linejoin="round" stroke-linecap="round" />
<path d="M577,509.1 L584.9,507.2 L580.6,512.2 L588.5,510.3 L584.2,515.2 L592.1,513.4 L587.7,518.3 L595.6,516.4" fill="none" stroke="#155a15" stroke-width="2.1" stroke-linejoin="round" stroke-linecap="round" />
<path d="M591.9,506.2 L599.9,506.5 L594.2,509.8 L602.2,510 L596.5,513.4 L604.5,513.6 L598.7,516.9 L606.7,517.2 L601,520.5 L609,520.8 L603.3,524.1 L611.3,524.3 L605.6,527.7 L613.6,527.9 L607.9,531.2" fill="none" stroke="#1e701e" stroke-width="2.1" stroke-linejoin="round" stroke-linecap="round" />
<path d="M579.1,511.3 L584.7,517.1 L578.3,515.7 L583.9,521.5 L577.5,520.1 L583.1,525.9 L576.6,524.5 L582.2,530.3" fill="none" stroke="#1e701e" stroke-width="2.1" stroke-linejoin="round" stroke-linecap="round" />
<path d="M628.2,486.6 L636.3,485.7 L631.3,490.1 L639.4,489.2 L634.4,493.6 L642.5,492.7 L637.5,497" fill="none" stroke="#1e701e" stroke-width="2.1" stroke-linejoin="round" stroke-linecap="round" />
<path d="M566.2,527.3 L573.1,531.3 L566.5,531.5 L573.5,535.5 L566.9,535.8 L573.8,539.7 L567.2,540 L574.1,543.9 L567.5,544.2 L574.5,548.2 L567.9,548.4 L574.8,552.4" fill="none" stroke="#155a15" stroke-width="2.1" stroke-linejoin="round" stroke-linecap="round" />
<path d="M565.5,537.8 L570.1,544.5 L564,542.1 L568.5,548.7 L562.4,546.3 L566.9,553 L560.8,550.5 L565.3,557.2 L559.2,554.8 L563.8,561.5 L557.6,559 L562.2,565.7" fill="none" stroke="#1e701e" stroke-width="2.1" stroke-linejoin="round" stroke-linecap="round" />
<path d="M589.7,495.8 L591.3,503.7 L586.6,499 L588.2,506.9 L583.5,502.2 L585.1,510.1 L580.5,505.4 L582,513.3 L577.4,508.6 L578.9,516.5 L574.3,511.8" fill="none" stroke="#1e701e" stroke-width="2.1" stroke-linejoin="round" stroke-linecap="round" />
<path d="M617.2,466.1 L620,473.8 L614.5,470.2 L617.3,477.9 L611.8,474.2 L614.6,481.9 L609.1,478.3" fill="none" stroke="#1e701e" stroke-width="2.1" stroke-linejoin="round" stroke-linecap="round" />
<path d="M628.1,504.9 L633.5,511 L627.1,509.3 L632.4,515.3 L626,513.6 L631.4,519.6 L625,517.9 L630.3,524 L623.9,522.2 L629.3,528.3 L622.9,526.6 L628.2,532.6" fill="none" stroke="#155a15" stroke-width="2.1" stroke-linejoin="round" stroke-linecap="round" />
<path d="M614.1,554.5 L613.2,562.5 L610.2,556.6 L609.3,564.6 L606.3,558.7 L605.4,566.8 L602.4,560.9 L601.5,568.9 L598.5,563 L597.6,571" fill="none" stroke="#155a15" stroke-width="2.1" stroke-linejoin="round" stroke-linecap="round" />
<path d="M637,480.5 L645.1,480.3 L639.7,484.1 L647.7,483.9 L642.3,487.7 L650.4,487.4 L645,491.2 L653.1,491 L647.7,494.8 L655.7,494.6 L650.3,498.4 L658.4,498.2 L653,502" fill="none" stroke="#1e701e" stroke-width="2.1" stroke-linejoin="round" stroke-linecap="round" />
<path d="M628.7,522.6 L632.5,529.7 L626.7,526.6 L630.6,533.7 L624.7,530.6 L628.6,537.7 L622.7,534.5 L626.6,541.6 L620.7,538.5 L624.6,545.6" fill="none" stroke="#1e701e" stroke-width="2.1" stroke-linejoin="round" stroke-linecap="round" />
<path d="M547.4,511.2 L553.2,516.8 L546.7,515.7 L552.5,521.3 L546,520.2 L551.8,525.8 L545.3,524.7 L551.1,530.3 L544.6,529.2 L550.4,534.8" fill="none" stroke="#1e701e" stroke-width="2.1" stroke-linejoin="round" stroke-linecap="round" />
<path d="M597.5,505 L603.4,510.6 L596.9,509.7 L602.8,515.3 L596.2,514.5 L602.2,520.1" fill="none" stroke="#155a15" stroke-width="2.1" stroke-linejoin="round" stroke-linecap="round" />
<path d="M636.7,479.7 L640.6,486.7 L634.7,483.7 L638.6,490.7 L632.7,487.7 L636.6,494.8 L630.8,491.7 L634.6,498.8 L628.8,495.7 L632.7,502.8 L626.8,499.7 L630.7,506.8 L624.8,503.7 L628.7,510.8" fill="none" stroke="#155a15" stroke-width="2.1" stroke-linejoin="round" stroke-linecap="round" />
<path d="M619.1,510.2 L626.7,507.3 L623.1,512.9 L630.8,509.9 L627.2,515.5 L634.8,512.6 L631.2,518.1" fill="none" stroke="#1e701e" stroke-width="2.1" stroke-linejoin="round" stroke-linecap="round" />
<path d="M601.3,531.3 L602.7,539.3 L598,534.6 L599.5,542.6 L594.8,538 L596.2,546 L591.5,541.3 L593,549.3" fill="none" stroke="#155a15" stroke-width="2.1" stroke-linejoin="round" stroke-linecap="round" />
<path d="M605.2,540.7 L603.3,548.5 L601,542.3 L599.1,550.2 L596.8,544 L595,551.9 L592.6,545.7" fill="none" stroke="#1e701e" stroke-width="2.1" stroke-linejoin="round" stroke-linecap="round" />
<path d="M527.7,513.6 L529.2,505.2 L531.7,512 L533.1,503.6 L535.7,510.3 L537.1,501.9 L539.7,508.6 L541.1,500.2 L543.7,507 L545.1,498.6 L547.7,505.3 L549.1,496.9 L551.7,503.6 L553.1,495.2 L555.7,502 L557.1,493.6" fill="none" stroke="#1e701e" stroke-width="2.2" stroke-linejoin="round" stroke-linecap="round" />
<path d="M545.7,543.5 L546,535 L549.4,541.3 L549.7,532.8 L553.2,539.1 L553.5,530.6 L556.9,536.9 L557.2,528.4 L560.6,534.8 L561,526.2 L564.4,532.6 L564.7,524.1 L568.1,530.4 L568.4,521.9 L571.9,528.2 L572.2,519.7 L575.6,526" fill="none" stroke="#1e701e" stroke-width="2.2" stroke-linejoin="round" stroke-linecap="round" />
<path d="M575.1,493.7 L576.6,485.3 L579.1,492 L580.5,483.6 L583.1,490.3 L584.5,481.9 L587.1,488.7 L588.5,480.3 L591.1,487 L592.5,478.6 L595.1,485.4 L596.5,477 L599.1,483.7 L600.5,475.3 L603,482 L604.5,473.6" fill="none" stroke="#1e701e" stroke-width="2.2" stroke-linejoin="round" stroke-linecap="round" />
<path d="M604.8,525.2 L611.7,520.2 L608.9,526.8 L615.8,521.7 L613,528.4 L619.8,523.3 L617,529.9 L623.9,524.8 L621.1,531.5 L627.9,526.4 L625.1,533 L632,528 L629.2,534.6 L636,529.5 L633.2,536.2 L640.1,531.1 L637.3,537.7" fill="none" stroke="#1e701e" stroke-width="2.2" stroke-linejoin="round" stroke-linecap="round" />
<path d="M650.2,529.6 L644.9,523 L651.6,525.6 L646.3,518.9 L653,521.5 L647.7,514.9 L654.4,517.5 L649.1,510.8 L655.8,513.4 L650.5,506.8 L657.2,509.3 L651.9,502.7 L658.6,505.3 L653.3,498.6 L660,501.2 L654.7,494.6 L661.4,497.2" fill="none" stroke="#1e701e" stroke-width="2.2" stroke-linejoin="round" stroke-linecap="round" />
<path d="M610.7,473.4 L616.1,466.7 L615.1,473.9 L620.6,467.2 L619.6,474.4 L625.1,467.7 L624.1,474.9 L629.6,468.2 L628.6,475.4 L634,468.7 L633.1,475.9" fill="none" stroke="#1e701e" stroke-width="2.2" stroke-linejoin="round" stroke-linecap="round" />
<path d="M558.8,558.7 L567.4,557.6 L561.8,562.2 L570.4,561 L564.8,565.7 L573.4,564.5 L567.8,569.1 L576.4,568 L570.8,572.6 L579.3,571.5 L573.8,576.1" fill="none" stroke="#1e701e" stroke-width="2.2" stroke-linejoin="round" stroke-linecap="round" />
<path d="M589.6,567.4 L597,563 L593.6,569.4 L601,565 L597.6,571.4 L605,567" fill="none" stroke="#1e701e" stroke-width="2.2" stroke-linejoin="round" stroke-linecap="round" />
<path d="M581.1,458.6 L585.7,451.4 L585.5,458.6 L590.1,451.4 L589.8,458.6 L594.4,451.4 L594.2,458.6 L598.8,451.4 L598.6,458.6" fill="none" stroke="#1e701e" stroke-width="2.2" stroke-linejoin="round" stroke-linecap="round" />
<path d="M562.9,478.7 L563.8,470.2 L566.9,476.7 L567.8,468.2 L570.9,474.7 L571.8,466.2 L574.9,472.7 L575.8,464.2 L578.9,470.7 L579.8,462.2 L582.9,468.7" fill="none" stroke="#1e701e" stroke-width="2.2" stroke-linejoin="round" stroke-linecap="round" />
<path d="M639.2,478.7 L642.2,470.7 L643.4,477.9 L646.4,469.9 L647.5,477 L650.5,469.1 L651.7,476.2" fill="none" stroke="#1e701e" stroke-width="2.2" stroke-linejoin="round" stroke-linecap="round" />
<path d="M544.9,464.9 C547.8,465.4 549.9,463.7 553.6,466.2 C557.4,468.7 557.4,467.9 556.1,472.4 C554.9,477 554,474.9 549.9,479.9 C545.7,484.9 550.3,482.8 543.7,487.4 C537,492 536.6,489.1 529.9,493.6 C523.3,498.2 525.8,498.6 523.7,501.1" fill="none" stroke="#1e701e" stroke-width="1" stroke-linecap="round" stroke-linejoin="round" />
<path d="M537.4,557.2 C540.7,563.1 539.9,569.7 547.4,574.7 C554.9,579.7 550.7,570.5 559.9,572.2 C569,573.9 565.7,578.9 574.8,579.7 C584,580.5 584.8,579.7 587.3,574.7 C589.8,569.7 584,568 582.3,564.7" fill="none" stroke="#1e701e" stroke-width="1" stroke-linecap="round" stroke-linejoin="round" />
<path d="M534.9,539.8 C537.4,543.1 535.8,547.3 542.4,549.8 C549.1,552.2 548.2,546.4 554.9,547.3 C561.5,548.1 559.9,550.6 562.4,552.2" fill="none" stroke="#1e701e" stroke-width="1" stroke-linecap="round" stroke-linejoin="round" />
<path d="M604.8,557.2 C608.9,557.2 608.9,554.7 617.2,557.2 C625.6,559.7 627.2,564.7 629.7,564.7 C632.2,564.7 626.4,559.7 624.7,557.2" fill="none" stroke="#1e701e" stroke-width="1" stroke-linecap="round" stroke-linejoin="round" />
<path d="M672.4,505.5 C676.7,505.1 679.4,502.1 685.4,504.5 C691.3,506.8 691.8,508.3 690.3,512.4 C688.9,516.6 685.3,511.1 681.1,516.9 C677,522.8 681.2,522.3 677.9,529.9 C674.5,537.6 675.9,534.1 671.1,539.9 C666.4,545.7 668.2,542.8 663.7,547.4 C659.1,551.9 662,551.9 657.4,553.6 C652.8,555.3 654.5,551.3 649.9,552.4 C645.4,553.4 645.8,555.4 643.7,556.8" fill="none" stroke="#10c8c8" stroke-width="1" stroke-linecap="round" stroke-linejoin="round" />
<path d="M669.9,507.5 C671.1,511.6 674.5,512.4 673.6,519.9 C672.8,527.4 668.6,524.9 667.4,529.9 C666.1,534.9 672.4,530.3 669.9,534.9 C667.4,539.5 663.2,540.7 659.9,543.6" fill="none" stroke="#10c8c8" stroke-width="1" stroke-linecap="round" stroke-linejoin="round" />
<path d="M679.9,549.9 C677.8,553.2 672.8,552.4 673.6,559.8 C674.5,567.3 678.5,562.3 682.4,572.3 C686.3,582.3 683.3,580.6 685.4,589.8 C687.4,598.9 690.4,593.9 688.6,599.8 C686.8,605.6 682.9,599.8 679.9,607.2 C676.8,614.7 679.5,617.2 679.4,622.2" fill="none" stroke="#10c8c8" stroke-width="1" stroke-linecap="round" stroke-linejoin="round" />
<path d="M644.9,592.3 C647.4,589.8 648.3,584 652.4,584.8 C656.6,585.6 658.2,588.9 657.4,594.8 C656.6,600.6 653.7,598.1 649.9,602.2 C646.2,606.4 643.7,604.7 646.2,607.2 C648.7,609.7 650.3,610.6 657.4,609.7 C664.5,608.9 660.7,603.1 667.4,604.7 C674,606.4 674,611.4 677.4,614.7" fill="none" stroke="#10c8c8" stroke-width="1" stroke-linecap="round" stroke-linejoin="round" />
<path d="M654.9,552.4 C651.6,550.7 645.8,550.7 644.9,547.4 C644.1,544 646.6,545.7 652.4,542.4 C658.2,539.1 659.1,539.1 662.4,537.4" fill="none" stroke="#10c8c8" stroke-width="1" stroke-linecap="round" stroke-linejoin="round" />
<path d="M637,556.8 C641.3,556.8 641,553.4 649.9,556.8 C658.8,560.3 655.8,558.8 663.7,567.3 C671.6,575.8 668.6,573.6 673.6,582.3 C678.6,591 677,589.8 678.6,593.5" fill="none" stroke="#10c8c8" stroke-width="3.4" stroke-linecap="round" stroke-linejoin="round"  stroke-linecap="butt"/>
<polygon points="680.6,598.1 675.3,595 681.9,592.1" fill="#10c8c8" />
<path d="M646.2,564.8 C650.8,566.9 652,564 659.9,571.1 C667.8,578.1 665.3,576.5 669.9,586 C674.5,595.6 672.4,595.2 673.6,599.8" fill="none" stroke="#0cb0b0" stroke-width="3.2" stroke-linecap="round" stroke-linejoin="round"  stroke-linecap="butt"/>
<polygon points="674.9,604.6 670.3,600.6 676.9,598.9" fill="#0cb0b0" />
<path d="M657.4,562.3 C660.7,564.8 661.2,562.3 667.4,569.8 C673.6,577.3 673.2,579.8 676.1,584.8" fill="none" stroke="#10c8c8" stroke-width="2.6" stroke-linecap="round" stroke-linejoin="round"  stroke-linecap="butt"/>
<polygon points="678.1,588.2 673.5,586.3 678.7,583.3" fill="#10c8c8" />
<path d="M677.4,599.8 C674.9,601 673.6,601.7 669.9,603.5 C666.1,605.3 667.4,604.7 666.1,605.2" fill="none" stroke="#10c8c8" stroke-width="2.6" stroke-linecap="round" stroke-linejoin="round"  stroke-linecap="butt"/>
<polygon points="662.5,606.9 664.9,602.5 667.4,608" fill="#10c8c8" />
<path d="M643,605.6 L648.6,601.9 L646.6,606.7 L652.2,603 L650.2,607.8 L655.7,604 L653.7,608.8 L659.3,605.1" fill="none" stroke="#10c8c8" stroke-width="1.8" stroke-linejoin="round" stroke-linecap="round" />
<path d="M635.5,559.9 L638.9,554.4 L639.5,559.1 L642.9,553.6 L643.5,558.3 L646.9,552.8" fill="none" stroke="#10c8c8" stroke-width="1.6" stroke-linejoin="round" stroke-linecap="round" />
<path d="M649.9,572.3 C653.7,574.8 654.9,572.3 661.2,579.8 C667.4,587.3 666.1,589.8 668.6,594.8" fill="none" stroke="#0cb0b0" stroke-width="2.6" stroke-linecap="round" stroke-linejoin="round"  stroke-linecap="butt"/>
<polygon points="670.4,598.3 666,596.1 671.3,593.4" fill="#0cb0b0" />
<path d="M641.2,561.1 C644.9,562.3 646.2,561.1 652.4,564.8 C658.7,568.6 657.4,569.8 659.9,572.3" fill="none" stroke="#10c8c8" stroke-width="2.4" stroke-linecap="round" stroke-linejoin="round"  stroke-linecap="butt"/>
<polygon points="662.7,575.1 657.9,574.3 661.9,570.3" fill="#10c8c8" />
<path d="M663.7,552.4 C667,556.5 667.8,554.9 673.6,564.8 C679.4,574.8 678.6,576.5 681.1,582.3" fill="none" stroke="#10c8c8" stroke-width="2.2" stroke-linecap="round" stroke-linejoin="round"  stroke-linecap="butt"/>
<polygon points="682.7,586 678.5,583.4 683.7,581.2" fill="#10c8c8" />
<path d="M635,558.6 C637,560.7 640.4,561.1 641.2,564.8 C642,568.6 636.2,566.5 637.5,569.8 C638.7,573.1 642.4,573.1 644.9,574.8" fill="none" stroke="#10c8c8" stroke-width="1.2" stroke-linecap="round" stroke-linejoin="round" />
<path d="M667.5,534 C668.4,536.1 671.6,536.6 670.1,540.1 C668.7,543.6 667.2,541 663.2,544.5 C659.1,547.9 659.7,548.5 658,550.5" fill="none" stroke="#10c8c8" stroke-width="2.8" stroke-linecap="round" stroke-linejoin="round"  stroke-linecap="butt"/>
<polygon points="655.4,553.6 655.7,548.6 660.2,552.5" fill="#10c8c8" />
<path d="M677.1,562.7 C679.4,566.1 681.1,565.3 684,573.1 C686.9,580.9 686.6,579.2 685.7,586.1 C684.9,593 682.8,591.3 681.4,593.9" fill="none" stroke="#10c8c8" stroke-width="2.4" stroke-linecap="round" stroke-linejoin="round"  stroke-linecap="butt"/>
<polygon points="679.5,597.4 678.8,592.5 684,595.4" fill="#10c8c8" />
<path d="M681.4,593.9 C680,595.4 679.7,596.5 677.1,598.3 C674.5,600 674.7,598.8 673.6,599.1" fill="none" stroke="#10c8c8" stroke-width="3.2" stroke-linecap="round" stroke-linejoin="round" />
<path d="M645,605.2 C646.7,603.2 646.1,599.7 650.2,599.1 C654.2,598.5 654.8,600 657.1,603.5 C659.4,606.9 657.1,607.5 657.1,609.5" fill="none" stroke="#0cb0b0" stroke-width="3.4" stroke-linecap="round" stroke-linejoin="round" />
<path d="M646.7,597.4 C646.4,599.7 645,601.1 645.8,604.3 C646.7,607.5 648.1,606.1 649.3,606.9" fill="none" stroke="#0cb0b0" stroke-width="2.6" stroke-linecap="round" stroke-linejoin="round" />
<path d="M635.4,559.6 C636.7,558.1 636.1,555.7 639.3,554.9 C642.5,554 643.1,556.3 645,557" fill="none" stroke="#10c8c8" stroke-width="2.8" stroke-linecap="round" stroke-linejoin="round" />
<path d="M671.9,507.1 C674.2,505.7 674.2,504 678.8,502.8 C683.4,501.7 681.4,500.8 685.7,503.7 C690.1,506.6 691.8,508.3 691.8,511.5 C691.8,514.7 690.7,515 685.7,513.2 C680.8,511.5 681.7,507.1 677.1,506.3 C672.4,505.4 671.9,506.3 671.9,510.6 C671.9,515 676.2,512.9 677.1,519.3 C677.9,525.7 677.6,524.8 674.5,529.7 C671.3,534.6 669.8,532.6 667.5,534" fill="none" stroke="#10c8c8" stroke-width="1" stroke-linecap="round" stroke-linejoin="round" />
<path d="M677.1,519.3 C680.5,522.2 683.4,519.9 687.5,528 C691.5,536.1 691.5,535.5 689.2,543.6 C686.9,551.7 684.6,545.9 680.5,552.3 C676.5,558.6 678.2,559.2 677.1,562.7" fill="none" stroke="#10c8c8" stroke-width="1" stroke-linecap="round" stroke-linejoin="round" />
<path d="M663.2,606.9 C666.6,604.3 666.1,603.7 673.6,599.1 C681.1,594.5 680.5,593.6 685.7,593 C690.9,592.5 689.2,592.8 689.2,597.4 C689.2,602 689.2,602.3 685.7,606.9 C682.3,611.6 680.8,606.4 678.8,611.3 C676.8,616.2 679.4,618.2 679.7,621.7" fill="none" stroke="#10c8c8" stroke-width="1" stroke-linecap="round" stroke-linejoin="round" />
<path d="M689.8,577.3 C691.5,573.1 689.8,566.5 694.8,564.8 C699.8,563.2 698.2,568.2 704.8,572.3 C711.5,576.5 705.6,576.5 714.8,577.3 C723.9,578.1 720.6,576.5 732.2,574.8 C743.9,573.1 743.1,577.3 749.7,572.3 C756.4,567.3 755.5,567.3 752.2,559.8 C748.9,552.4 747.2,554.4 739.7,549.9 C732.2,545.3 733.1,547.4 729.8,546.1" fill="none" stroke="#9878e0" stroke-width="1" stroke-linecap="round" stroke-linejoin="round" />
<path d="M694.8,584.8 C699.8,584 699.8,584.8 709.8,582.3 C719.8,579.8 713.1,579 724.8,577.3 C736.4,575.6 734.7,579.8 744.7,577.3 C754.7,574.8 751.4,572.3 754.7,569.8" fill="none" stroke="#9878e0" stroke-width="1" stroke-linecap="round" stroke-linejoin="round" />
<path d="M694.8,576.1 C701.5,574.4 700.7,575.2 714.8,571.1 C728.9,566.9 729.8,566.1 737.2,563.6" fill="none" stroke="#9878e0" stroke-width="3.2" stroke-linecap="round" stroke-linejoin="round"  stroke-linecap="butt"/>
<polygon points="742,562 738.3,566.8 736.2,560.4" fill="#9878e0" />
<path d="M699.8,581 C706.5,579.4 705.2,579.8 719.8,576.1 C734.3,572.3 735.6,571.9 743.5,569.8" fill="none" stroke="#8060c8" stroke-width="3.2" stroke-linecap="round" stroke-linejoin="round"  stroke-linecap="butt"/>
<polygon points="748.3,568.5 744.3,573.1 742.6,566.5" fill="#8060c8" />
<path d="M739.7,552.4 C736.4,554.9 736.4,554 729.8,559.8 C723.1,565.7 723.1,566.5 719.8,569.8" fill="none" stroke="#9878e0" stroke-width="3" stroke-linecap="round" stroke-linejoin="round"  stroke-linecap="butt"/>
<polygon points="716.2,573.4 717.5,567.6 722,572.1" fill="#9878e0" />
<path d="M744.7,562.3 C739.7,564.8 739.7,565.2 729.8,569.8 C719.8,574.4 719.8,574 714.8,576.1" fill="none" stroke="#9878e0" stroke-width="2.8" stroke-linecap="round" stroke-linejoin="round"  stroke-linecap="butt"/>
<polygon points="710.2,578 713.6,573.1 716,579" fill="#9878e0" />
<path d="M694.8,513.7 C696.7,513.1 697.4,509.9 700.3,512 C703.2,514 705.4,516 703.6,519.9 C701.7,523.8 698.4,524.5 694.8,523.7 C691.3,522.8 693.5,519.5 692.8,517.4" fill="none" stroke="#e810e0" stroke-width="1.1" stroke-linecap="round" stroke-linejoin="round" />
<path d="M707.3,512.4 C709.1,511.8 709.6,508.8 712.8,510.5 C716,512.1 717.8,513.9 716.8,517.4 C715.8,521 712.1,519.9 709.8,521.2" fill="none" stroke="#e810e0" stroke-width="1.1" stroke-linecap="round" stroke-linejoin="round" />
<path d="M684.9,529.9 C684,532.4 681.7,532.4 682.4,537.4 C683,542.4 683.5,544 686.8,544.9 C690.2,545.7 691.8,544.5 692.3,539.9 C692.9,535.3 691.1,534.5 688.6,531.2 C686.1,527.8 686.1,530.3 684.9,529.9" fill="none" stroke="#e810e0" stroke-width="1.1" stroke-linecap="round" stroke-linejoin="round" />
<path d="M722.3,517.4 C724.3,520.8 727.3,522.8 728.5,527.4 C729.8,532 726.8,529.9 726,531.2" fill="none" stroke="#e810e0" stroke-width="1.1" stroke-linecap="round" stroke-linejoin="round" />
<path d="M729.8,532.4 C732.2,534.1 735.6,532.4 737.2,537.4 C738.9,542.4 733.9,541.6 734.7,547.4 C735.6,553.2 738.9,549 739.7,554.9 C740.6,560.7 740.6,558.6 737.2,564.8 C733.9,571.1 732.2,570.7 729.8,573.6" fill="none" stroke="#e810e0" stroke-width="1.1" stroke-linecap="round" stroke-linejoin="round" />
<path d="M697.3,564.8 C699.8,565.7 697.3,565.2 704.8,567.3 C712.3,569.4 711.5,568.6 719.8,571.1 C728.1,573.6 723.9,575.2 729.8,574.8 C735.6,574.4 734.7,571.5 737.2,569.8" fill="none" stroke="#e810e0" stroke-width="1.1" stroke-linecap="round" stroke-linejoin="round" />
<path d="M729.8,570.3 L697.3,527.4" fill="none" stroke="#e810e0" stroke-width="3.6" stroke-linecap="round" stroke-linejoin="round"  stroke-linecap="butt"/>
<polygon points="694.3,523.4 700.8,524.8 693.8,530.1" fill="#e810e0" />
<path d="M727.8,564.8 L706.1,521.2" fill="none" stroke="#e810e0" stroke-width="3.6" stroke-linecap="round" stroke-linejoin="round"  stroke-linecap="butt"/>
<polygon points="703.8,516.7 710,519.2 702.1,523.1" fill="#e810e0" />
<path d="M732.7,564.8 L716,518.7" fill="none" stroke="#e810e0" stroke-width="3.6" stroke-linecap="round" stroke-linejoin="round"  stroke-linecap="butt"/>
<polygon points="714.3,514 720.2,517.2 711.9,520.2" fill="#e810e0" />
<path d="M736.7,563.8 L722.8,526.2" fill="none" stroke="#e810e0" stroke-width="3.2" stroke-linecap="round" stroke-linejoin="round"  stroke-linecap="butt"/>
<polygon points="721,521.5 726.5,524.8 719,527.6" fill="#e810e0" />
<path d="M702.3,563.8 L687.8,539.9" fill="none" stroke="#e810e0" stroke-width="3.2" stroke-linecap="round" stroke-linejoin="round"  stroke-linecap="butt"/>
<polygon points="685.3,535.6 691.3,537.8 684.4,542" fill="#e810e0" />
<path d="M695.3,561.8 L685.4,536.1" fill="none" stroke="#c008c0" stroke-width="2.8" stroke-linecap="round" stroke-linejoin="round"  stroke-linecap="butt"/>
<polygon points="683.5,531.5 688.7,534.8 682,537.4" fill="#c008c0" />
<path d="M719.8,564.8 L702.3,534.9" fill="none" stroke="#e810e0" stroke-width="3.2" stroke-linecap="round" stroke-linejoin="round"  stroke-linecap="butt"/>
<polygon points="699.8,530.6 705.8,532.9 698.9,536.9" fill="#e810e0" />
<path d="M724.8,552.4 L719.8,537.4" fill="none" stroke="#c008c0" stroke-width="2.6" stroke-linecap="round" stroke-linejoin="round"  stroke-linecap="butt"/>
<polygon points="718.2,532.6 723,536.3 716.5,538.5" fill="#c008c0" />
<path d="M749.7,543.6 C751.4,542.4 749.7,542 754.7,539.9 C759.7,537.8 756.4,539.1 764.7,537.4 C773,535.7 769.7,536.6 779.6,534.9 C789.6,533.2 784.6,534.9 794.6,532.4 C804.6,529.9 801.3,529.9 809.6,527.4 C817.9,524.9 814.4,524.1 819.6,524.9 C824.7,525.8 823.8,525.8 825,529.9 C826.3,534.1 826,534.1 823.3,537.4 C820.6,540.7 819.1,539.1 817.1,539.9" fill="none" stroke="#e810e0" stroke-width="1.1" stroke-linecap="round" stroke-linejoin="round" />
<path d="M817.1,533.7 C818.3,533.2 819,531.6 820.8,532.4 C822.6,533.2 823,534.1 822.5,536.1 C822.1,538.2 821.4,538.6 819.6,538.6 C817.7,538.6 817.9,537 817.1,536.1" fill="none" stroke="#e810e0" stroke-width="1.6" stroke-linecap="round" stroke-linejoin="round" />
<path d="M819.6,549.9 C822,550.7 824.1,548.2 827,552.4 C829.9,556.5 829.5,557.3 828.3,562.3 C827,567.3 826.2,567.3 823.3,567.3 C820.4,567.3 819.8,565.2 819.6,562.3 C819.3,559.4 821.5,559.8 822.5,558.6" fill="none" stroke="#e810e0" stroke-width="1.1" stroke-linecap="round" stroke-linejoin="round" />
<path d="M754.7,552.4 C759.7,556.5 767.2,558.2 769.7,564.8 C772.2,571.5 765.1,565.7 762.2,572.3 C759.3,579 761.3,580.6 760.9,584.8" fill="none" stroke="#e810e0" stroke-width="1.1" stroke-linecap="round" stroke-linejoin="round" />
<path d="M782.1,522.4 C783.8,522 784.6,519.5 787.1,521.2 C789.6,522.8 790.4,524.5 789.6,527.4 C788.8,530.3 786.3,529.1 784.6,529.9" fill="none" stroke="#e810e0" stroke-width="1.1" stroke-linecap="round" stroke-linejoin="round" />
<path d="M749.7,547.4 C753,549.9 751.4,550.7 759.7,554.9 C768,559 763,559 774.7,559.8 C786.3,560.7 783,559 794.6,557.3 C806.2,555.7 800.4,556.9 809.6,554.9 C818.7,552.8 817.9,552.4 822,551.1" fill="none" stroke="#e810e0" stroke-width="1.1" stroke-linecap="round" stroke-linejoin="round" />
<path d="M752.2,541.1 C759.7,539.9 760.1,539.5 774.7,537.4 C789.2,535.3 788.8,535.7 795.9,534.9" fill="none" stroke="#e810e0" stroke-width="3.2" stroke-linecap="round" stroke-linejoin="round"  stroke-linecap="butt"/>
<polygon points="800.8,534.3 796.3,538.5 795.4,531.3" fill="#e810e0" />
<path d="M762.2,551.1 C769.7,550.3 768,551.9 784.6,548.6 C801.3,545.3 802.9,543.6 812.1,541.1" fill="none" stroke="#e810e0" stroke-width="3.4" stroke-linecap="round" stroke-linejoin="round"  stroke-linecap="butt"/>
<polygon points="816.9,539.8 813.1,544.8 811.1,537.5" fill="#e810e0" />
<path d="M772.2,556.8 C779.6,555.8 779.6,555.9 794.6,553.6 C809.6,551.3 809.6,551.1 817.1,549.9" fill="none" stroke="#e810e0" stroke-width="3.2" stroke-linecap="round" stroke-linejoin="round"  stroke-linecap="butt"/>
<polygon points="822,549 817.6,553.4 816.5,546.3" fill="#e810e0" />
<path d="M809.6,543.6 C804.6,544.9 804.6,543.5 794.6,547.4 C784.6,551.3 784.6,552.7 779.6,555.4" fill="none" stroke="#c008c0" stroke-width="3" stroke-linecap="round" stroke-linejoin="round"  stroke-linecap="butt"/>
<polygon points="775.2,557.7 778,552.4 781.2,558.4" fill="#c008c0" />
<path d="M779.6,536.1 C781.3,534.1 782.3,534.1 784.6,529.9 C787,525.8 786,525.8 786.6,523.7" fill="none" stroke="#e810e0" stroke-width="2.6" stroke-linecap="round" stroke-linejoin="round"  stroke-linecap="butt"/>
<polygon points="787.8,519.9 789.5,524.6 783.8,522.8" fill="#e810e0" />
<path d="M779.6,562.3 C778,564.8 777.1,564 774.7,569.8 C772.2,575.6 771.3,572.3 772.2,579.8 C773,587.3 773.8,584.8 777.1,592.3 C780.5,599.8 777.1,596.4 782.1,602.2 C787.1,608.1 784.6,606.4 792.1,609.7 C799.6,613.1 799.6,613.1 804.6,612.2 C809.6,611.4 806.2,608.9 807.1,607.2" fill="none" stroke="#9878e0" stroke-width="1" stroke-linecap="round" stroke-linejoin="round" />
<path d="M794.6,562.3 C797.1,561.5 798.8,558.2 802.1,559.8 C805.4,561.5 805.8,563.2 804.6,567.3 C803.3,571.5 801.7,571.5 798.3,572.3 C795,573.1 795,572.3 794.6,569.8 C794.2,567.3 795,566.5 797.1,564.8 C799.2,563.2 799.6,564.8 800.8,564.8" fill="none" stroke="#9878e0" stroke-width="1.8" stroke-linecap="round" stroke-linejoin="round" />
<path d="M804.6,574.8 C807.9,578.1 807.9,581.3 814.6,584.8 C821.2,588.3 821.2,585.1 824.5,585.3" fill="none" stroke="#9878e0" stroke-width="1" stroke-linecap="round" stroke-linejoin="round" />
<path d="M792.1,594.8 C796.3,593.1 797.1,589.8 804.6,589.8 C812.1,589.8 812.9,591.4 814.6,594.8 C816.2,598.1 811.2,598.1 809.6,599.8" fill="none" stroke="#9878e0" stroke-width="1" stroke-linecap="round" stroke-linejoin="round" />
<path d="M772.2,581 C774.7,585.6 773,587.3 779.6,594.8 C786.3,602.2 783.4,599.3 792.1,603.5 C800.8,607.7 801.3,606 805.8,607.2" fill="none" stroke="#9878e0" stroke-width="3.4" stroke-linecap="round" stroke-linejoin="round"  stroke-linecap="butt"/>
<polygon points="810.7,608.6 804.8,610.9 806.8,603.6" fill="#9878e0" />
<path d="M782.1,572.3 C784.6,577.3 783.8,579.8 789.6,587.3 C795.4,594.8 792.1,591.4 799.6,594.8 C807.1,598.1 807.9,596.4 812.1,597.3" fill="none" stroke="#8060c8" stroke-width="3.2" stroke-linecap="round" stroke-linejoin="round"  stroke-linecap="butt"/>
<polygon points="817,598.2 811.4,600.8 812.8,593.7" fill="#8060c8" />
<path d="M809.6,589.8 C806.2,589.8 805.4,591.4 799.6,589.8 C793.8,588.1 794.6,586.4 792.1,584.8" fill="none" stroke="#9878e0" stroke-width="3" stroke-linecap="round" stroke-linejoin="round"  stroke-linecap="butt"/>
<polygon points="788,582 794,582 790.2,587.6" fill="#9878e0" />
<path d="M794.6,577.3 C792.1,575.6 790.9,576.1 787.1,572.3 C783.4,568.6 784.6,568.2 783.4,566.1" fill="none" stroke="#9878e0" stroke-width="2.8" stroke-linecap="round" stroke-linejoin="round"  stroke-linecap="butt"/>
<polygon points="781.3,562.6 786.1,564.4 780.6,567.7" fill="#9878e0" />
</g>
<use href="#cplx" transform="translate(222,538.5) scale(0.795) translate(-591.5,-516)"/>
<path d="M302.4,654.6 C304.9,651.3 304.9,652.9 309.9,644.6 C314.9,636.3 315.3,639.6 317.4,629.6 C319.4,619.7 313.6,624.7 316.1,614.7 C318.6,604.7 317,605.5 324.9,599.7 C332.8,593.9 329.8,596.4 339.8,597.2 C349.8,598 344.8,598 354.8,602.2 C364.8,606.4 362.3,603 369.8,609.7 C377.2,616.3 373.9,613.8 377.2,622.2 C380.6,630.5 380.6,625.5 379.7,634.6 C378.9,643.8 379.7,641.3 374.7,649.6 C369.8,657.9 371.4,653.8 364.8,659.6 C358.1,665.4 358.1,664.6 354.8,667.1" fill="none" stroke="#1818e0" stroke-width="0.9" stroke-linecap="round" stroke-linejoin="round" stroke-dasharray="1.5 1.5"/>
<path d="M322.4,609.7 C326.5,608 325.7,604.7 334.8,604.7 C344,604.7 339.8,604.7 349.8,609.7 C359.8,614.7 357.3,612.2 364.8,619.7 C372.2,627.1 371.4,623.8 372.2,632.1 C373.1,640.4 368.9,640.4 367.3,644.6" fill="none" stroke="#1818e0" stroke-width="0.9" stroke-linecap="round" stroke-linejoin="round" stroke-dasharray="1.5 1.5"/>
<path d="M309.9,659.6 C314.9,662.1 314,663.7 324.9,667.1 C335.7,670.4 330.7,671.2 342.3,669.6 C354,667.9 354,664.6 359.8,662.1" fill="none" stroke="#1818e0" stroke-width="0.9" stroke-linecap="round" stroke-linejoin="round" stroke-dasharray="1.5 1.5"/>
<path d="M319.9,632.1 C324.9,634.6 323.2,636.3 334.8,639.6 C346.5,642.9 343.1,642.1 354.8,642.1 C366.4,642.1 364.8,640.4 369.8,639.6" fill="none" stroke="#1818e0" stroke-width="0.9" stroke-linecap="round" stroke-linejoin="round" />
<path d="M322.4,604.7 C321.1,608 319.4,608 318.6,614.7 C317.8,621.3 319.4,621.3 319.9,624.7" fill="none" stroke="#1818e0" stroke-width="3.2" stroke-linecap="round" stroke-linejoin="round"  stroke-linecap="butt"/>
<polygon points="320.5,629.6 316.3,625.1 323.4,624.2" fill="#1818e0" />
<path d="M331.1,608.4 C330.3,612.2 327.3,612.6 328.6,619.7 C329.8,626.7 332.8,626.3 334.8,629.6" fill="none" stroke="#1818e0" stroke-width="3" stroke-linecap="round" stroke-linejoin="round"  stroke-linecap="butt"/>
<polygon points="337.5,633.9 331.9,631.4 337.7,627.8" fill="#1818e0" />
<path d="M349.8,612.2 C350.6,616.3 346.5,619.2 352.3,624.7 C358.1,630.1 362.3,627.1 367.3,628.4" fill="none" stroke="#1818e0" stroke-width="3.2" stroke-linecap="round" stroke-linejoin="round"  stroke-linecap="butt"/>
<polygon points="372.1,629.6 366.4,631.9 368.1,624.9" fill="#1818e0" />
<path d="M342.3,609.7 C343.1,613 340.7,613 344.8,619.7 C349,626.3 351.5,626.3 354.8,629.6" fill="none" stroke="#1818e0" stroke-width="2.6" stroke-linecap="round" stroke-linejoin="round"  stroke-linecap="butt"/>
<polygon points="357.6,632.5 352.7,631.8 356.9,627.5" fill="#1818e0" />
<path d="M321.1,642.1 C324.9,645.4 325.3,646.7 332.3,652.1 C339.4,657.5 339,656.2 342.3,658.3" fill="none" stroke="#1818e0" stroke-width="3.4" stroke-linecap="round" stroke-linejoin="round"  stroke-linecap="butt"/>
<polygon points="346.6,661 340.3,661.5 344.3,655.1" fill="#1818e0" />
<path d="M329.8,649.6 C334,650.8 332.8,653.3 342.3,653.3 C351.9,653.3 353.1,650.8 358.5,649.6" fill="none" stroke="#1818e0" stroke-width="3.2" stroke-linecap="round" stroke-linejoin="round"  stroke-linecap="butt"/>
<polygon points="363.4,648.5 359.3,653.1 357.7,646.1" fill="#1818e0" />
<path d="M324.9,654.6 C329,656.7 329,659.2 337.3,660.8 C345.6,662.5 345.6,660 349.8,659.6" fill="none" stroke="#1818e0" stroke-width="3" stroke-linecap="round" stroke-linejoin="round"  stroke-linecap="butt"/>
<polygon points="354.8,659.1 350.1,663 349.5,656.2" fill="#1818e0" />
<path d="M161.7,482 H412.6 V625 H150" fill="none" stroke="#969696" stroke-width="1.15" stroke-dasharray="6.5 4.2"/>
<path d="M161.7,482 V625" fill="none" stroke="#969696" stroke-width="1.15" stroke-dasharray="6.5 4.2"/>
<polygon points="452,563 498,552.5 497,546.5 515,555.5 498.5,565 498,559" fill="url(#arA)"/>
<circle cx="690" cy="563.7" r="64" fill="none" stroke="#c0c0c0" stroke-width="1.2"/>
<line x1="677.5" y1="638" x2="677.5" y2="681" stroke="#222" stroke-width="1.2" stroke-dasharray="3 2.4"/>
<path d="M676,653.5 C660,652 656,664 670,668" fill="none" stroke="#e4e4e4" stroke-width="1.1"/>
<path d="M679,653.5 C697,653 699,665 686,667.5" fill="none" stroke="#222" stroke-width="1.2"/>
<polygon points="682,668.5 688.5,664 688.5,670.5" fill="#222"/>
<text x="704.7" y="664.3" fill="#222" font-size="16.3" text-anchor="start" font-weight="normal"  stroke="#222" stroke-width="0.35">90°</text>
<path d="M675.4,702.9 C679,700 676.6,697.6 686.1,694 C695.7,690.4 696.9,689.2 704,692.2 C711.2,695.2 710.6,695.8 707.6,702.9 C704.6,710.1 702.2,704.1 695.1,713.7 C687.9,723.2 686.7,720.8 686.1,731.6 C685.5,742.3 686.1,742.3 693.3,745.9 C700.4,749.5 702.8,743.5 707.6,742.3" fill="none" stroke="#10c8c8" stroke-width="1" stroke-linecap="round" stroke-linejoin="round" />
<path d="M700.4,724.4 C705.2,723.8 705.2,720.2 714.7,722.6 C724.3,725 723.1,723.8 729.1,731.6 C735,739.3 732.6,736.4 732.6,745.9 C732.6,755.4 733.8,751.9 729.1,760.2 C724.3,768.6 718.3,763.8 718.3,771 C718.3,778.1 723.1,775.1 729.1,781.7 C735,788.3 736.2,784.7 736.2,790.6 C736.2,796.6 736.2,795.4 729.1,799.6 C721.9,803.8 724.3,799.6 714.7,803.2 C705.2,806.7 708.8,805.5 700.4,810.3 C692.1,815.1 693.3,815.1 689.7,817.5" fill="none" stroke="#10c8c8" stroke-width="1" stroke-linecap="round" stroke-linejoin="round" />
<path d="M657.5,763.8 C661.1,767.4 667,767.4 668.2,774.5 C669.4,781.7 659.9,779.3 661.1,785.3 C662.3,791.2 663.4,791.2 671.8,792.4 C680.1,793.6 676.6,787.7 686.1,788.8 C695.7,790 690.9,794.8 700.4,796 C710,797.2 710,793.6 714.7,792.4" fill="none" stroke="#10c8c8" stroke-width="1" stroke-linecap="round" stroke-linejoin="round" />
<path d="M650.3,753.1 C653.9,750.7 653.9,747.1 661.1,745.9 C668.2,744.7 665.8,744.7 671.8,749.5 C677.8,754.2 673,759 679,760.2 C684.9,761.4 682.5,753.1 689.7,753.1 C696.9,753.1 694.5,755.4 700.4,760.2 C706.4,765 705.2,765 707.6,767.4" fill="none" stroke="#10c8c8" stroke-width="1" stroke-linecap="round" stroke-linejoin="round" />
<path d="M707.6,803.2 C708.8,805.5 711.8,809.1 711.2,810.3 C710.6,811.5 707.6,807.9 705.8,806.7" fill="none" stroke="#10c8c8" stroke-width="1" stroke-linecap="round" stroke-linejoin="round" />
<path d="M700.4,778.1 C705.2,780.5 705.2,782.3 714.7,785.3 C724.3,788.3 724.3,786.5 729.1,787.1" fill="none" stroke="#10c8c8" stroke-width="2.8" stroke-linecap="round" stroke-linejoin="round"  stroke-linecap="butt"/>
<polygon points="733,787.6 728.7,790.2 729.5,783.9" fill="#10c8c8" />
<path d="M668.2,778.1 C673,776.9 673,773.3 682.5,774.5 C692.1,775.7 692.1,779.3 696.9,781.7" fill="none" stroke="#10c8c8" stroke-width="2.8" stroke-linecap="round" stroke-linejoin="round"  stroke-linecap="butt"/>
<polygon points="700.4,783.5 695.4,784.6 698.3,778.8" fill="#10c8c8" />
<path d="M679,745.9 C681.3,750.7 679,753.1 686.1,760.2 C693.3,767.4 695.7,765 700.4,767.4" fill="none" stroke="#0cb0b0" stroke-width="2.6" stroke-linecap="round" stroke-linejoin="round"  stroke-linecap="butt"/>
<polygon points="704,769.2 699.1,770.1 701.8,764.7" fill="#0cb0b0" />
<path d="M693.3,788.8 C695.7,792.4 694.5,795.4 700.4,799.6 C706.4,803.8 707.6,800.8 711.2,801.4" fill="none" stroke="#10c8c8" stroke-width="2.6" stroke-linecap="round" stroke-linejoin="round"  stroke-linecap="butt"/>
<polygon points="715.1,802 710.7,804.3 711.7,798.4" fill="#10c8c8" />
<path d="M669.2,784.6 L675.9,783.6 L672.1,787.2 L678.8,786.2 L675,789.8 L681.7,788.8 L678,792.4 L684.7,791.4 L680.9,795 L687.6,794 L683.8,797.6 L690.5,796.6" fill="none" stroke="#10c8c8" stroke-width="1.8" stroke-linejoin="round" stroke-linecap="round" />
<path d="M698.7,799.6 L703.9,796.4 L702.3,800.5 L707.5,797.3 L705.9,801.4 L711.1,798.2 L709.5,802.3 L714.7,799.1 L713,803.2" fill="none" stroke="#10c8c8" stroke-width="1.6" stroke-linejoin="round" stroke-linecap="round" />
<path d="M707.6,731.6 C712.4,732.8 714.7,730.4 721.9,735.2 C729.1,739.9 727.9,737.5 729.1,745.9 C730.3,754.2 730.3,751.9 725.5,760.2 C720.7,768.6 721.9,766.2 714.7,771 C707.6,775.7 711.2,775.7 704,774.5 C696.9,773.3 696.9,769.8 693.3,767.4" fill="none" stroke="#8060c8" stroke-width="1.1" stroke-linecap="round" stroke-linejoin="round" />
<path d="M686.1,737 C690.9,739.3 692.1,741.1 700.4,744.1 C708.8,747.1 707.6,745.3 711.2,745.9" fill="none" stroke="#8060c8" stroke-width="2.8" stroke-linecap="round" stroke-linejoin="round"  stroke-linecap="butt"/>
<polygon points="715.1,746.6 710.6,749.1 711.7,742.7" fill="#8060c8" />
<path d="M700.4,749.5 C705.2,751.9 707.6,750.7 714.7,756.6 C721.9,762.6 719.5,763.8 721.9,767.4" fill="none" stroke="#8060c8" stroke-width="2.8" stroke-linecap="round" stroke-linejoin="round"  stroke-linecap="butt"/>
<polygon points="724.1,770.7 719.2,769.1 724.6,765.6" fill="#8060c8" />
<path d="M679,756.6 C683.7,759 683.7,758.4 693.3,763.8 C702.8,769.2 702.8,769.8 707.6,772.7" fill="none" stroke="#9878e0" stroke-width="2.6" stroke-linecap="round" stroke-linejoin="round"  stroke-linecap="butt"/>
<polygon points="711,774.9 706,775.3 709.2,770.2" fill="#9878e0" />
<path d="M725.5,749.5 C724.3,754.2 725.5,757.2 721.9,763.8 C718.3,770.4 717.1,767.4 714.7,769.2" fill="none" stroke="#8060c8" stroke-width="2.6" stroke-linecap="round" stroke-linejoin="round"  stroke-linecap="butt"/>
<polygon points="711.5,771.6 712.9,766.8 716.5,771.6" fill="#8060c8" />
<path d="M653.9,704.7 C655.1,706.5 652.7,710.7 657.5,710.1 C662.3,709.5 661.1,702.9 668.2,702.9 C675.4,702.9 679,704.1 679,710.1 C679,716.1 675.4,713.7 668.2,720.8 C661.1,728 663.4,722 657.5,731.6 C651.5,741.1 655.1,737.5 650.3,749.5 C645.5,761.4 645.5,761.4 643.2,767.4" fill="none" stroke="#e810e0" stroke-width="1.1" stroke-linecap="round" stroke-linejoin="round" />
<path d="M625.3,744.1 C624.7,748.3 621.1,754.2 623.5,756.6 C625.9,759 628.3,747.7 632.4,751.3 C636.6,754.8 632.4,761.4 636,767.4 C639.6,773.3 640.8,768.6 643.2,769.2" fill="none" stroke="#e810e0" stroke-width="1.1" stroke-linecap="round" stroke-linejoin="round" />
<path d="M650.3,735.2 C655.1,734 655.1,731.6 664.6,731.6 C674.2,731.6 670.6,731.6 679,735.2 C687.3,738.7 684.9,735.2 689.7,742.3 C694.5,749.5 689.7,748.3 693.3,756.6 C696.9,765 698,763.8 700.4,767.4" fill="none" stroke="#e810e0" stroke-width="1.6" stroke-linecap="round" stroke-linejoin="round" />
<path d="M671.8,713.7 C664.6,718.5 663.4,716.7 650.3,728 C637.2,739.3 638.4,741.1 632.4,747.7" fill="none" stroke="#e810e0" stroke-width="3.2" stroke-linecap="round" stroke-linejoin="round"  stroke-linecap="butt"/>
<polygon points="629.1,751.4 629.8,745.3 635.1,750.1" fill="#e810e0" />
<path d="M679,717.3 C671.8,722 670.6,717.3 657.5,731.6 C644.4,745.9 645.5,750.7 639.6,760.2" fill="none" stroke="#e810e0" stroke-width="3" stroke-linecap="round" stroke-linejoin="round"  stroke-linecap="butt"/>
<polygon points="636.9,764.5 636.7,758.4 642.5,762" fill="#e810e0" />
<path d="M668.2,728 C663.4,734 661.1,734 653.9,745.9 C646.7,757.8 649.1,757.8 646.7,763.8" fill="none" stroke="#c008c0" stroke-width="2.8" stroke-linecap="round" stroke-linejoin="round"  stroke-linecap="butt"/>
<polygon points="645.3,767.5 643.8,762.6 649.7,765" fill="#c008c0" />
<path d="M657.5,713.7 C652.7,718.5 652.7,718.5 643.2,728 C633.6,737.5 633.6,737.5 628.8,742.3" fill="none" stroke="#e810e0" stroke-width="2.6" stroke-linecap="round" stroke-linejoin="round"  stroke-linecap="butt"/>
<polygon points="626,745.1 626.7,740.2 631,744.4" fill="#e810e0" />
<path d="M711.2,767.4 C714.7,771 714.7,773.9 721.9,778.1 C729.1,782.3 729.1,779.3 732.6,779.9" fill="none" stroke="#10c8c8" stroke-width="2.6" stroke-linecap="round" stroke-linejoin="round"  stroke-linecap="butt"/>
<polygon points="736.6,780.6 732.1,782.9 733.1,776.9" fill="#10c8c8" />
<path d="M661.1,767.4 C664.6,767.4 664.6,766.2 671.8,767.4 C679,768.6 679,769.8 682.5,771" fill="none" stroke="#10c8c8" stroke-width="2.4" stroke-linecap="round" stroke-linejoin="round"  stroke-linecap="butt"/>
<polygon points="686.3,772.2 681.6,773.8 683.5,768.1" fill="#10c8c8" />
<path d="M686.1,803.2 C690.9,804.4 690.9,806.1 700.4,806.7 C710,807.3 710,805.5 714.7,805" fill="none" stroke="#0cb0b0" stroke-width="2.6" stroke-linecap="round" stroke-linejoin="round"  stroke-linecap="butt"/>
<polygon points="718.7,804.5 715.1,807.9 714.4,802" fill="#0cb0b0" />
<path d="M718.3,796 C720.7,792.4 719.5,787.1 725.5,785.3 C731.4,783.5 732.6,788.8 736.2,790.6" fill="none" stroke="#10c8c8" stroke-width="2.2" stroke-linecap="round" stroke-linejoin="round"  stroke-linecap="butt"/>
<polygon points="739.8,792.4 735,793.1 737.5,788.1" fill="#10c8c8" />
<path d="M686.1,810.3 C688.5,813.3 692.7,816.9 693.3,819.3 C693.9,821.7 689.7,818.1 687.9,817.5" fill="none" stroke="#10c8c8" stroke-width="1" stroke-linecap="round" stroke-linejoin="round" />
<path d="M664.6,738.7 C667,741.1 670.6,738.7 671.8,745.9 C673,753.1 667,753.1 668.2,760.2 C669.4,767.4 673,765 675.4,767.4" fill="none" stroke="#10c8c8" stroke-width="1.2" stroke-linecap="round" stroke-linejoin="round" />
<path d="M714.7,728 C713,731 709.4,731.6 709.4,737 C709.4,742.3 710,742.9 714.7,744.1 C719.5,745.3 720.7,741.7 723.7,740.5" fill="none" stroke="#10c8c8" stroke-width="1" stroke-linecap="round" stroke-linejoin="round" />
<path d="M693.3,740.5 C697.4,743.5 697.4,745.9 705.8,749.5 C714.1,753.1 714.1,750.7 718.3,751.3" fill="none" stroke="#8060c8" stroke-width="2.6" stroke-linecap="round" stroke-linejoin="round"  stroke-linecap="butt"/>
<polygon points="722.3,751.8 717.9,754.2 718.7,748.3" fill="#8060c8" />
<path d="M711.2,760.2 C707.6,762.6 707.6,765.6 700.4,767.4 C693.3,769.2 693.3,766.2 689.7,765.6" fill="none" stroke="#9878e0" stroke-width="2.4" stroke-linecap="round" stroke-linejoin="round"  stroke-linecap="butt"/>
<polygon points="685.7,764.9 690.2,762.8 689.2,768.3" fill="#9878e0" />
<path d="M686.1,742.3 C683.7,745.9 679,744.7 679,753.1 C679,761.4 679,760.2 686.1,767.4 C693.3,774.5 690.9,772.7 700.4,774.5 C710,776.3 710,773.3 714.7,772.7" fill="none" stroke="#8060c8" stroke-width="1.6" stroke-linecap="round" stroke-linejoin="round" />
<path d="M664.6,720.8 C658.7,726.2 656.3,725.6 646.7,737 C637.2,748.3 639.6,748.9 636,754.8" fill="none" stroke="#c008c0" stroke-width="2.4" stroke-linecap="round" stroke-linejoin="round"  stroke-linecap="butt"/>
<polygon points="633.9,758.3 633.6,753.4 638.4,756.3" fill="#c008c0" />
<path d="M637.8,767.4 C639.6,768.6 639,771 643.2,771 C647.3,771 644.4,773.3 650.3,767.4 C656.3,761.4 653.9,761.4 661.1,753.1 C668.2,744.7 668.2,745.9 671.8,742.3" fill="none" stroke="#e810e0" stroke-width="1.8" stroke-linecap="round" stroke-linejoin="round" />
<polygon points="631,783 548,884 559,893 524,907 529,869 541,878" fill="url(#arB)"/>
<text x="18.7" y="470.8" fill="#111" font-size="19.4" text-anchor="start" font-weight="bold" >b</text>
<text x="66.2" y="652.8" fill="#222" font-size="16.8" text-anchor="start" font-weight="normal"  stroke="#222" stroke-width="0.35">Side</text>
<text x="146.7" y="605.8" fill="#1c7c1c" font-size="17.1" text-anchor="start" font-weight="normal"  stroke="#1c7c1c" stroke-width="0.35">ACE2</text>
<line x1="190" y1="592" x2="198" y2="582" stroke="#111" stroke-width="1.4" />
<text x="215.2" y="617.3" fill="#12d8d8" font-size="16.7" text-anchor="start" font-weight="normal"  stroke="#12d8d8" stroke-width="0.35">RBD</text>
<line x1="251.6" y1="604" x2="262" y2="594.7" stroke="#111" stroke-width="1.4" />
<text x="405.7" y="536.1" fill="#f010e8" font-size="17" text-anchor="start" font-weight="normal"  stroke="#f010e8" stroke-width="0.35">R1-32-H</text>
<line x1="411" y1="538.6" x2="406" y2="551" stroke="#111" stroke-width="1.4" />
<text x="401.7" y="631.1" fill="#9470dc" font-size="16.6" text-anchor="start" font-weight="normal"  stroke="#9470dc" stroke-width="0.35">R1-32-L</text>
<line x1="392" y1="603.5" x2="402.7" y2="614" stroke="#111" stroke-width="1.4" />
<text x="372.2" y="680.3" fill="#1414e0" font-size="17.1" text-anchor="start" font-weight="normal"  stroke="#1414e0" stroke-width="0.35">NTD</text>
<line x1="361" y1="656" x2="372.5" y2="666" stroke="#111" stroke-width="1.4" />
<line x1="165.2" y1="796" x2="165.2" y2="763.9" stroke="#f01818" stroke-width="2.2" />
<polygon points="165.2,756.7 170.4,763.9 160,763.9" fill="#f01818" />
<line x1="165.2" y1="796" x2="197" y2="796" stroke="#1450f0" stroke-width="2.2" />
<polygon points="204.2,796 197,801.2 197,790.8" fill="#1450f0" />
<circle cx="165.2" cy="796" r="5.4" fill="url(#sp_g)"/>
<text x="165.2" y="751.9" fill="#f01818" font-size="16.8" text-anchor="middle" font-weight="normal"  stroke="#f01818" stroke-width="0.35">y</text>
<text x="205.5" y="799.9" fill="#1450f0" font-size="16.8" text-anchor="start" font-weight="normal"  stroke="#1450f0" stroke-width="0.35">x</text>
<text x="148.3" y="805.7" fill="#78a800" font-size="16.8" text-anchor="start" font-weight="normal"  stroke="#78a800" stroke-width="0.35">z</text>
<text x="514.7" y="596.3" fill="#1c7c1c" font-size="17.3" text-anchor="start" font-weight="normal"  stroke="#1c7c1c" stroke-width="0.35">ACE2</text>
<line x1="560.6" y1="580.4" x2="568" y2="571.5" stroke="#111" stroke-width="1.4" />
<text x="598.2" y="610.8" fill="#12d8d8" font-size="16.9" text-anchor="start" font-weight="normal"  stroke="#12d8d8" stroke-width="0.35">RBD</text>
<line x1="633.5" y1="597" x2="644" y2="582" stroke="#111" stroke-width="1.4" />
<text x="686.7" y="493.8" fill="#f010e8" font-size="17.3" text-anchor="start" font-weight="normal"  stroke="#f010e8" stroke-width="0.35">R1-32-VH</text>
<line x1="718.7" y1="497.4" x2="712.4" y2="511" stroke="#111" stroke-width="1.4" />
<text x="775.7" y="508.8" fill="#f010e8" font-size="17.3" text-anchor="start" font-weight="normal"  stroke="#f010e8" stroke-width="0.35">R1-32-CH</text>
<line x1="809.7" y1="512.4" x2="814.7" y2="525.4" stroke="#111" stroke-width="1.4" />
<text x="695.7" y="610.3" fill="#1a1a1a" font-size="17.3" text-anchor="start" font-weight="normal"  stroke="#1a1a1a" stroke-width="0.35">R1-32-VL</text>
<line x1="720" y1="582" x2="725" y2="596" stroke="#111" stroke-width="1.4" />
<text x="752.2" y="638.8" fill="#9470dc" font-size="17.3" text-anchor="start" font-weight="normal"  stroke="#9470dc" stroke-width="0.35">R1-32-CL</text>
<line x1="793.5" y1="611.7" x2="787" y2="623.4" stroke="#111" stroke-width="1.4" />
<text x="565.7" y="712.8" fill="#f010e8" font-size="17.3" text-anchor="start" font-weight="normal"  stroke="#f010e8" stroke-width="0.35">R1-32-VH</text>
<line x1="636" y1="715" x2="647" y2="730" stroke="#111" stroke-width="1.4" />
<text x="741.7" y="743.8" fill="#9470dc" font-size="17.2" text-anchor="start" font-weight="normal"  stroke="#9470dc" stroke-width="0.35">R1-32-VL</text>
<line x1="720" y1="745" x2="738.5" y2="740" stroke="#111" stroke-width="1.4" />
<text x="752.2" y="788.8" fill="#12d8d8" font-size="17.3" text-anchor="start" font-weight="normal"  stroke="#12d8d8" stroke-width="0.35">RBD</text>
<line x1="735" y1="790" x2="750" y2="785" stroke="#111" stroke-width="1.4" />
<line x1="578.5" y1="796" x2="578.5" y2="763.2" stroke="#f01818" stroke-width="2.2" />
<polygon points="578.5,756 583.7,763.2 573.3,763.2" fill="#f01818" />
<line x1="578.5" y1="796" x2="546.7" y2="796" stroke="#78a800" stroke-width="2.2" />
<polygon points="539.5,796 546.7,790.8 546.7,801.2" fill="#78a800" />
<circle cx="578.5" cy="796" r="5.4" fill="url(#sp_b)"/>
<text x="578.9" y="750.4" fill="#f01818" font-size="17" text-anchor="middle" font-weight="normal"  stroke="#f01818" stroke-width="0.35">y</text>
<text x="588.4" y="804.4" fill="#1450f0" font-size="17" text-anchor="start" font-weight="normal"  stroke="#1450f0" stroke-width="0.35">x</text>
<text x="528.9" y="800.6" fill="#78a800" font-size="17" text-anchor="start" font-weight="normal"  stroke="#78a800" stroke-width="0.35">z</text>
<path d="M319,877 L404.3,949.3 M319,1133 L404.3,1039.3 M621,878 L530.4,947.5 M621,1133 L530.4,1054" stroke="#868686" stroke-width="1.15" stroke-dasharray="6.5 4.2" fill="none"/>
<clipPath id="cl1"><rect x="47.5" y="877.5" width="271" height="255"/></clipPath><g clip-path="url(#cl1)">
<path d="M134.4,1071.3 C142.8,1074.5 143.8,1070.3 159.5,1080.8 C175.3,1091.2 170,1086 181.6,1102.8 C193.1,1119.6 189.9,1121.7 194.1,1131.1" fill="none" stroke="#b4b4b4" stroke-width="11" stroke-linecap="round" stroke-linejoin="round" stroke-linecap="butt" />
<path d="M137.5,1076 C145.4,1079.7 147,1076 161.1,1087 C175.3,1098.1 170.2,1093.9 180,1109.1 C189.7,1124.3 186.9,1124.8 190.4,1132.7" fill="none" stroke="#d2d2d2" stroke-width="4" stroke-linecap="round" stroke-linejoin="round" stroke-linecap="butt" />
<path d="M131.2,1090.2 C134.4,1097.5 132.8,1098.1 140.7,1112.2 C148.5,1126.4 150.1,1125.8 154.8,1132.7" fill="none" stroke="#a2a2a2" stroke-width="6" stroke-linecap="round" stroke-linejoin="round" stroke-linecap="butt" />
<path d="M112.3,1080.8 C116.5,1083.9 117.6,1080.8 124.9,1090.2 C132.3,1099.6 132.3,1095.4 134.4,1109.1 C136.5,1122.7 132.3,1123.7 131.2,1131.1" fill="none" stroke="#c4c4c4" stroke-width="3" stroke-linecap="round" stroke-linejoin="round" stroke-linecap="butt" />
<path d="M129.7,1083.9 C124.9,1079.7 126.5,1079.7 115.5,1071.3 C104.5,1062.9 109.7,1061.9 96.6,1058.7 C83.5,1055.6 86.5,1056.6 76.2,1061.9 C65.9,1067.1 67.4,1067.1 65.8,1074.5 C64.2,1081.8 64.3,1083.4 71.5,1083.9 C78.6,1084.4 76.7,1077.6 87.2,1076 C97.7,1074.5 93.5,1075.5 102.9,1079.2 C112.3,1082.9 111.3,1084.4 115.5,1087" fill="none" stroke="#a0a0a0" stroke-width="2.2" stroke-linecap="round" stroke-linejoin="round" />
<path d="M71.5,1083.9 C77.7,1079.7 77.7,1074.5 90.3,1071.3 C102.9,1068.2 98.7,1069.2 109.2,1074.5 C119.7,1079.7 117.6,1082.9 121.8,1087" fill="none" stroke="#c8c8c8" stroke-width="1.6" stroke-linecap="round" stroke-linejoin="round" />
<path d="M124.9,1118.5 C126.5,1119.6 129.1,1119 129.7,1121.7 C130.2,1124.3 127.6,1124.8 126.5,1126.4" fill="none" stroke="#606060" stroke-width="2" stroke-linecap="round" stroke-linejoin="round" />
<path d="M117.1,1087 C117.6,1077.6 115,1078.7 118.6,1058.7 C122.3,1038.8 119.7,1040.9 128.1,1027.3 C136.5,1013.7 131.2,1018.9 143.8,1017.8 C156.4,1016.8 158.5,1022 165.8,1024.1" fill="none" stroke="#c2c2c2" stroke-width="1.2" stroke-linecap="round" stroke-linejoin="round" />
<path d="M143.8,1058.7 C145.9,1054.5 142.8,1050.4 150.1,1046.2 C157.4,1042 156.4,1043 165.8,1046.2 C175.3,1049.3 171.1,1051.4 178.4,1055.6 C185.7,1059.8 184.7,1057.7 187.8,1058.7" fill="none" stroke="#b0b0b0" stroke-width="1.4" stroke-linecap="round" stroke-linejoin="round" />
<path d="M143.8,1033.6 C151.1,1031.5 153.2,1031.5 165.8,1027.3 C178.4,1023.1 176.3,1023.1 181.6,1021" fill="none" stroke="#c0c0c0" stroke-width="3" stroke-linecap="round" stroke-linejoin="round" stroke-linecap="butt" />
<path d="M187.8,989.5 C185.7,988.5 185.7,986.4 181.6,986.4 C177.4,986.4 177.4,988.5 175.3,989.5" fill="none" stroke="#d0d0d0" stroke-width="1.5" stroke-linecap="round" stroke-linejoin="round" />
<path d="M184.7,920.3 C187.8,914.6 186.8,910.6 194.1,903 C201.5,895.5 198.3,897.2 206.7,897.7 C215.1,898.2 210.9,897.1 219.3,904.6 C227.7,912.2 224.5,916.1 231.9,920.3 C239.2,924.5 238.2,918.2 241.3,917.2" fill="none" stroke="#d4d4d4" stroke-width="1.6" stroke-linecap="round" stroke-linejoin="round" />
<path d="M195.7,903 C196.2,907.7 199.9,909.3 197.3,917.2 C194.7,925 189.9,916.1 187.8,926.6 C185.7,937.1 187.3,937.1 191,948.6 C194.7,960.2 195.7,951.8 198.9,961.2 C202,970.7 201.5,967.5 200.4,977 C199.4,986.4 199.9,983.8 195.7,989.5 C191.5,995.3 190.5,992.7 187.8,994.3" fill="none" stroke="#cfcfcf" stroke-width="1.6" stroke-linecap="round" stroke-linejoin="round" />
<path d="M194.1,907.7 L187.8,920.3" fill="none" stroke="#888" stroke-width="1.4" stroke-linecap="round" stroke-linejoin="round" />
<path d="M219.3,914 C223.5,918.8 224.5,924.2 231.9,928.2 C239.2,932.2 235.9,928.6 241.3,926 C246.8,923.4 245.9,922.2 248.2,920.3" fill="none" stroke="#18d8e0" stroke-width="1.4" stroke-linecap="round" stroke-linejoin="round" />
<path d="M225.6,961.2 C230.8,966.5 235,965.4 241.3,977 C247.6,988.5 245.5,982.2 244.5,995.8 C243.4,1009.5 243.4,1007.4 238.2,1017.8 C232.9,1028.3 231.9,1024.1 228.7,1027.3" fill="none" stroke="#b8c0e0" stroke-width="1.2" stroke-linecap="round" stroke-linejoin="round" />
<path d="M198.9,961.2 C200.4,965.4 197.8,967.5 203.6,973.8 C209.3,980.1 212,978 216.2,980.1" fill="none" stroke="#2434b8" stroke-width="1.3" stroke-linecap="round" stroke-linejoin="round" />
<path d="M175.3,1046.2 C179.5,1046.7 181.6,1043.5 187.8,1047.7 C194.1,1051.9 193.3,1054 194.1,1058.7 C195,1063.5 191.6,1060.8 190.4,1061.9" fill="none" stroke="#2aa" stroke-width="1.2" stroke-linecap="round" stroke-linejoin="round" />
<path d="M194.1,1049.3 C198.3,1049.1 200.6,1046.6 206.7,1048.7 C212.8,1050.8 210.5,1053.3 212.4,1055.6" fill="none" stroke="#18d8e0" stroke-width="1.3" stroke-linecap="round" stroke-linejoin="round" />
<polygon points="164.3,1023.2 173.7,1003.7 197.3,993.3 190.4,1008.4 187.2,1017.8 178.4,1015.3" fill="#10e8f0" />
<polygon points="173.7,1003.7 197.3,993.3 190.4,1008.4" fill="#0cc0c8" />
<path d="M212.4,1055.6 C210.3,1065 208.8,1066.1 206.1,1083.9 C203.4,1101.7 204,1097.5 204.2,1109.1 C204.4,1120.6 205.9,1115.4 206.7,1118.5" fill="none" stroke="#30d830" stroke-width="1.2" stroke-linecap="round" stroke-linejoin="round" />
<polygon points="208,1097.2 217.6,1094.5 228.9,1131.2 218.2,1131.2" fill="#78e878" />
<path d="M204.2,1118.5 C206.1,1121.1 205.9,1122.2 209.9,1126.4 C213.8,1130.6 214.1,1129.5 216.2,1131.1" fill="none" stroke="#18d8e0" stroke-width="1.2" stroke-linecap="round" stroke-linejoin="round" />
<path d="M242.7,1131.2 C244.9,1126.1 243,1125.3 249.5,1116 C255.9,1106.8 251.3,1111.1 262,1103.5 C272.7,1095.8 268,1098 281.7,1093.1 C295.4,1088.2 291.8,1090.7 303.2,1088.8 C314.5,1086.9 311.5,1087.9 315.7,1087.4" fill="none" stroke="#9080e0" stroke-width="8.5" stroke-linecap="round" stroke-linejoin="round" stroke-linecap="butt" />
<path d="M260.2,1131.1 C264.4,1127.9 263.3,1125.8 272.8,1121.7 C282.2,1117.5 283.3,1119.6 288.5,1118.5" fill="none" stroke="#a898e8" stroke-width="5" stroke-linecap="round" stroke-linejoin="round" stroke-linecap="butt" />
<path d="M247.6,1090.2 C251.8,1089.1 246.6,1088.6 260.2,1087 C273.8,1085.5 279.1,1086 288.5,1085.5" fill="none" stroke="#e4e4e4" stroke-width="5" stroke-linecap="round" stroke-linejoin="round" stroke-linecap="butt" />
<path d="M253.9,1118.5 L260.2,1096.5" fill="none" stroke="#e0e0e8" stroke-width="4" stroke-linecap="round" stroke-linejoin="round" stroke-linecap="butt" />
<path d="M315.7,1022.1 C311.5,1027.1 312.1,1030.1 303.2,1037.3 C294.2,1044.4 298.4,1039.2 288.8,1043.5 C279.3,1047.8 279.3,1047.9 274.5,1050.2" fill="none" stroke="#f010e0" stroke-width="6.5" stroke-linecap="round" stroke-linejoin="round" stroke-linecap="butt" />
<path d="M274.5,1050.2 C271.5,1051.8 270.4,1052.2 265.6,1055.2 C260.8,1058.1 262,1057.8 260.2,1059.1" fill="none" stroke="#e070d8" stroke-width="5.5" stroke-linecap="round" stroke-linejoin="round" stroke-linecap="butt" />
<path d="M257,1005.9 C264.4,1007.3 264.4,1009.1 279.1,1010 C293.7,1010.8 287.5,1010 301.1,1008.4 C314.7,1006.8 313.7,1006.3 320,1005.3" fill="none" stroke="#f010e0" stroke-width="5" stroke-linecap="round" stroke-linejoin="round" stroke-linecap="butt" />
<polygon points="269.2,1013.1 292.4,1010.4 288.8,1022.1 274.5,1020.3" fill="#b428a4" />
<polygon points="248.6,1000 254.5,992.9 260.6,1002.4 274.5,1028.3 267.4,1033.3 254,1014 250.4,1015.8" fill="#f010e0" />
<path d="M257,995.8 C260.2,997.9 259.1,997.9 266.5,1002.1 C273.8,1006.3 274.9,1006.3 279.1,1008.4" fill="none" stroke="#f010e0" stroke-width="2" stroke-linecap="round" stroke-linejoin="round" />
<path d="M262.1,975.4 C262.3,968.6 259.1,963 262.7,954.9 C266.3,946.9 264.2,953.3 272.8,951.2 C281.4,949.1 281.4,953.7 288.5,948.6 C295.6,943.6 291,944.4 294.2,936.1 C297.3,927.7 293.5,929.8 297.9,923.5 C302.3,917.2 300,918.7 307.4,917.2 C314.7,915.7 315.8,918.4 320,919.1" fill="none" stroke="#f010e0" stroke-width="4.4" stroke-linecap="round" stroke-linejoin="round" />
<path d="M257,954.9 L266.5,952.4" fill="none" stroke="#f010e0" stroke-width="3" stroke-linecap="round" stroke-linejoin="round" />
<path d="M248.2,975.4 C243.8,974.9 243.1,971.7 235,973.8 C227,975.9 228.7,974.9 224,981.7 C219.3,988.5 220.4,985.3 220.9,994.3 C221.4,1003.2 224,1003.7 225.6,1008.4" fill="none" stroke="#f010e0" stroke-width="3.4" stroke-linecap="round" stroke-linejoin="round" />
<polygon points="225.9,1012.6 235.5,1010.1 258.1,1050.7 265.9,1066.3 269.9,1067 268.4,1091.3 247.3,1077 251.6,1074.8 244.1,1058.7 235.2,1039.1" fill="#f010e0" />
<path d="M267.4,1089.2 C266.8,1094.5 264.4,1093.9 265.6,1105.3 C266.8,1116.6 267.1,1114.5 271,1123.2 C274.8,1131.8 275.1,1128.5 277.2,1131.2" fill="none" stroke="#f010e0" stroke-width="3.6" stroke-linecap="round" stroke-linejoin="round" />
<path d="M241.3,1039.2 L253.9,1041.4" fill="none" stroke="#c808c0" stroke-width="2" stroke-linecap="round" stroke-linejoin="round" />
<path d="M223.1,955.6 C223.9,959.5 221.4,961.2 225.6,967.5 C229.8,973.8 232.3,972.1 235.7,974.4" fill="none" stroke="#f010e0" stroke-width="2.1" stroke-linecap="round" stroke-linejoin="round" />
<path d="M225.6,967.5 L219.3,970.7" fill="none" stroke="#f010e0" stroke-width="2.1" stroke-linecap="round" stroke-linejoin="round" />
<path d="M202,989.5 C206.5,991.8 208.9,995.9 215.5,996.5 C222.1,997 219.7,992.9 221.8,991.1" fill="none" stroke="#f010e0" stroke-width="2.1" stroke-linecap="round" stroke-linejoin="round" />
<path d="M215.5,996.5 C213.6,1000.4 210.1,1002.1 209.9,1008.4 C209.7,1014.7 213.2,1013 214.9,1015.3" fill="none" stroke="#f010e0" stroke-width="2.1" stroke-linecap="round" stroke-linejoin="round" />
<path d="M235,1002.1 C237.1,1004.7 236.1,1007.9 241.3,1010 C246.6,1012.1 247.6,1008.9 250.8,1008.4" fill="none" stroke="#f010e0" stroke-width="2.1" stroke-linecap="round" stroke-linejoin="round" />
<path d="M241.3,1010 L238.2,1017.8" fill="none" stroke="#f010e0" stroke-width="2.1" stroke-linecap="round" stroke-linejoin="round" />
<path d="M228.7,1021 C226.1,1023.1 224,1022 220.9,1027.3 C217.7,1032.5 219.8,1033.6 219.3,1036.7" fill="none" stroke="#f010e0" stroke-width="1.8" stroke-linecap="round" stroke-linejoin="round" />
<path d="M220.9,1027.3 L216.2,1022.6" fill="none" stroke="#f010e0" stroke-width="2.1" stroke-linecap="round" stroke-linejoin="round" />
<path d="M202,964.4 L213.6,975.4" fill="none" stroke="#2434b8" stroke-width="2.1" stroke-linecap="round" stroke-linejoin="round" />
<path d="M214.6,974.4 C216.7,971.2 217.3,970.9 221.2,972.2 C225.1,973.6 226.1,974.2 226.2,978.5 C226.3,982.8 225.3,984 221.5,985.1 C217.7,986.3 217.2,985.5 214.9,982 C212.6,978.4 212.5,977.7 214.6,974.4Z" fill="none" stroke="#2434b8" stroke-width="2.1" stroke-linecap="round" stroke-linejoin="round" />
<path d="M193.5,994.3 C197.9,997.9 197.9,999 206.7,1005.3 C215.5,1011.6 215.5,1010.5 219.9,1013.1" fill="none" stroke="#2434b8" stroke-width="2.1" stroke-linecap="round" stroke-linejoin="round" />
<path d="M206.7,1005.3 L210.5,1016.6" fill="none" stroke="#2434b8" stroke-width="2.1" stroke-linecap="round" stroke-linejoin="round" />
<path d="M193.5,994.3 L197.3,989.5" fill="none" stroke="#2434b8" stroke-width="1.9" stroke-linecap="round" stroke-linejoin="round" />
<path d="M184.1,1034.2 C188.5,1032.9 188.5,1029.4 197.3,1030.4 C206.1,1031.5 206.1,1035 210.5,1037.3" fill="none" stroke="#2434b8" stroke-width="2.1" stroke-linecap="round" stroke-linejoin="round" />
<path d="M197.3,1030.4 L191.6,1041.8" fill="none" stroke="#2434b8" stroke-width="2.1" stroke-linecap="round" stroke-linejoin="round" />
<path d="M202,1026.7 L205.8,1034.2" fill="none" stroke="#2434b8" stroke-width="2" stroke-linecap="round" stroke-linejoin="round" />
<path d="M183.1,1027.3 L185.3,1041.4" fill="none" stroke="#2434b8" stroke-width="2" stroke-linecap="round" stroke-linejoin="round" />
</g>
<rect x="47" y="877" width="272" height="256" stroke="#868686" stroke-width="1.15" stroke-dasharray="6.5 4.2" fill="none"/>
<path d="M467.1,1083.1 C470.1,1082.7 471,1084.5 476,1081.9 C481,1079.3 477.1,1077.9 482.1,1075.2 C487.1,1072.5 486.6,1076.9 491,1073.8 C495.3,1070.6 491.1,1069.8 495.2,1065.8 C499.3,1061.9 497.6,1063.3 503.3,1061.9 C509,1060.4 507.6,1064.1 512.3,1061.6 C516.9,1059 515.6,1056.6 517.3,1054.1" fill="none" stroke="#cbcbcb" stroke-width="0.8" stroke-linecap="round" stroke-linejoin="round" />
<path d="M487.7,1036.5 C485.4,1034.5 486.1,1031.6 481,1030.5 C475.9,1029.4 475.3,1029.4 472.5,1033.3 C469.6,1037.2 475.2,1038.1 472.4,1042.3 C469.6,1046.5 469.3,1042.9 464.2,1046 C459.1,1049.1 459.8,1046.7 457.2,1051.6 C454.5,1056.4 455.5,1054.7 456.1,1060.5 C456.8,1066.4 458.1,1066.2 459,1069.1" fill="none" stroke="#cbcbcb" stroke-width="0.8" stroke-linecap="round" stroke-linejoin="round" />
<path d="M494.7,1056.2 C497.2,1057.9 496.8,1058.9 502.2,1061.2 C507.7,1063.5 505.5,1064 511,1063.1 C516.5,1062.1 513.3,1059 518.7,1058.3 C524.1,1057.6 524.4,1057.2 527.2,1061.1 C530,1065 524.3,1066 527.1,1070.1 C529.8,1074.2 531,1069.8 535.5,1073.3 C539.9,1076.9 538.8,1078.3 540.5,1080.8" fill="none" stroke="#cbcbcb" stroke-width="0.8" stroke-linecap="round" stroke-linejoin="round" />
<path d="M535.5,1076.7 C533.9,1079.2 535,1080.5 530.6,1084.2 C526.2,1087.9 526.2,1083.8 522.3,1087.8 C518.5,1091.7 522.2,1091.1 519.1,1096.1 C515.9,1101.1 515,1097.6 513,1102.8 C510.9,1108 510.2,1107.7 512.9,1111.8 C515.7,1115.9 515.5,1114.2 521.2,1115.2 C527,1116.2 527.2,1115 530.2,1114.8" fill="none" stroke="#cbcbcb" stroke-width="0.8" stroke-linecap="round" stroke-linejoin="round" />
<path d="M458.7,1026.4 C459.4,1023.4 457.1,1021 460.7,1017.6 C464.3,1014.2 465.2,1014 469.6,1016.3 C473.9,1018.5 474.5,1019.5 473.8,1024.2 C473,1029 472.4,1028.4 467.3,1030.5 C462.1,1032.6 463.9,1029.1 458.3,1030.6 C452.7,1032.2 453.7,1030.7 450.5,1035.1 C447.2,1039.5 449.2,1040.9 448.6,1043.9" fill="none" stroke="#cbcbcb" stroke-width="0.8" stroke-linecap="round" stroke-linejoin="round" />
<path d="M500.3,1055.9 C497.3,1055.8 496.5,1053.6 491.3,1055.6 C486.2,1057.5 489.8,1060.7 484.8,1061.8 C479.8,1062.8 481.6,1061.5 476.3,1058.8 C471,1056.1 472.7,1058.1 468.9,1053.8 C465,1049.4 469.2,1048.6 464.8,1045.7 C460.5,1042.9 461.8,1044.8 455.8,1045.2 C449.9,1045.7 450,1046.5 447,1047.1" fill="none" stroke="#cbcbcb" stroke-width="0.8" stroke-linecap="round" stroke-linejoin="round" />
<path d="M541.5,1076.3 C539.5,1078.6 539.2,1078.3 535.5,1083 C531.8,1087.7 535,1087.4 530.4,1090.4 C525.7,1093.4 527.3,1090.5 521.5,1092 C515.7,1093.5 518.5,1095.2 513,1094.9 C507.4,1094.6 510,1094.1 504.8,1091.2 C499.6,1088.2 502.5,1086.6 497.3,1086.2 C492,1085.7 491.8,1088.5 489,1089.7" fill="none" stroke="#cbcbcb" stroke-width="0.8" stroke-linecap="round" stroke-linejoin="round" />
<path d="M458.8,1089 C460.5,1086.5 460.5,1086.5 463.8,1081.5 C467.1,1076.5 464.2,1077.2 468.8,1074 C473.3,1070.8 472.5,1074.7 477.5,1071.8 C482.5,1069 480.4,1070.2 483.7,1065.3 C487,1060.4 484.2,1062.1 487.4,1057.1 C490.6,1052.1 488.7,1054 493.3,1050.3 C497.9,1046.6 498.6,1047.4 501.2,1046" fill="none" stroke="#cbcbcb" stroke-width="0.8" stroke-linecap="round" stroke-linejoin="round" />
<path d="M460.8,950.4 C460.1,953.3 457.7,953.8 458.8,959.2 C459.9,964.6 459.4,964.8 464,966.5 C468.7,968.3 468.8,967.9 472.8,964.4 C476.8,960.9 472,959.6 476,956 C479.9,952.4 482.2,951.5 484.7,953.7 C487.2,955.9 485.1,956.9 483.4,962.6 C481.7,968.3 480.9,968 479.6,970.8" fill="none" stroke="#cbcbcb" stroke-width="0.8" stroke-linecap="round" stroke-linejoin="round" />
<path d="M437.1,1037.9 C436.2,1035.1 433.6,1034.6 434.5,1029.3 C435.5,1024 437,1027.3 440,1022.1 C442.9,1017 441,1019.3 443.4,1013.8 C445.9,1008.4 443.5,1010 447.4,1005.8 C451.3,1001.5 450.1,1004.4 455.1,1001.1 C460,997.7 456.9,997.7 462.2,995.6 C467.6,993.5 468.2,995.1 471.2,994.8" fill="none" stroke="#cbcbcb" stroke-width="0.8" stroke-linecap="round" stroke-linejoin="round" />
<path d="M477.8,974.6 C477.9,977.6 479.8,978.1 478.3,983.6 C476.8,989.1 478,989.1 473.4,991.1 C468.8,993.1 469.8,992 464.5,989.7 C459.1,987.4 457.8,983.8 457.3,984.2 C456.9,984.7 458.3,988.8 463.2,991 C468.2,993.3 467.4,988.6 472.2,991 C477.1,993.3 475.9,995.7 477.7,998.1" fill="none" stroke="#cbcbcb" stroke-width="0.8" stroke-linecap="round" stroke-linejoin="round" />
<path d="M427.7,1032 C430.2,1033.7 429.8,1035.1 435.3,1036.9 C440.8,1038.8 438.3,1037.7 444.2,1037.6 C450.2,1037.4 447.5,1035.6 453.2,1036.5 C458.9,1037.3 456.1,1037.4 461.4,1040.2 C466.7,1043 463.6,1043.6 469.1,1044.8 C474.7,1045.9 472.6,1042.3 478,1043.6 C483.5,1044.8 483,1046.9 485.5,1048.6" fill="none" stroke="#cbcbcb" stroke-width="0.8" stroke-linecap="round" stroke-linejoin="round" />
<path d="M516.3,1111.4 C519,1112.9 521.5,1111.3 524.2,1115.8 C526.9,1120.2 522.6,1119.4 524.5,1124.8 C526.5,1130.1 531.2,1129.9 530.1,1131.8 C529,1133.8 525.9,1133.5 521.2,1130.7 C516.4,1127.8 520.2,1127.5 515.9,1123.3 C511.7,1119.2 513.8,1121 508.5,1118.3 C503.1,1115.6 502.8,1116.3 500,1115.3" fill="none" stroke="#cbcbcb" stroke-width="0.8" stroke-linecap="round" stroke-linejoin="round" />
<path d="M460.3,1085.9 C457.3,1086.3 455.3,1083.8 451.4,1087 C447.5,1090.2 450.5,1095.5 448.6,1095.5 C446.7,1095.6 446.6,1092.9 445.6,1087 C444.6,1081.2 445.8,1084 445.5,1078 C445.3,1072.1 445.3,1075.1 445,1069.1 C444.6,1063.1 442,1064.5 444.4,1060.1 C446.8,1055.6 449.7,1057.2 452.3,1055.8" fill="none" stroke="#cbcbcb" stroke-width="0.8" stroke-linecap="round" stroke-linejoin="round" />
<path d="M415.5,1043.4 C416.1,1040.5 414.2,1036.1 417.5,1034.6 C420.8,1033.2 420.6,1039.7 425.3,1039 C430.1,1038.4 428.2,1037.5 431.7,1032.7 C435.2,1027.9 431.7,1028.6 435.8,1024.6 C439.9,1020.7 439.5,1024.6 444,1020.9 C448.4,1017.2 444.5,1015.6 449.2,1013.6 C453.9,1011.5 455.2,1014.3 458.1,1014.7" fill="none" stroke="#cbcbcb" stroke-width="0.8" stroke-linecap="round" stroke-linejoin="round" />
<path d="M493.9,1027.8 C492.4,1025.2 491.7,1025.5 489.4,1020 C487.2,1014.5 486.1,1016.6 487.2,1011.3 C488.2,1006 488.7,1008.7 492.6,1004.1 C496.5,999.6 495.9,1002.6 498.8,997.6 C501.7,992.5 502.6,994 501.3,988.9 C500.1,983.9 498.8,987.1 495.1,982.4 C491.4,977.8 491.9,977.4 490.2,974.9" fill="none" stroke="#cbcbcb" stroke-width="0.8" stroke-linecap="round" stroke-linejoin="round" />
<path d="M437.6,1021.8 C438.1,1024.8 439.4,1024.9 439,1030.7 C438.6,1036.6 438.3,1033.6 436.4,1039.3 C434.6,1045 437.3,1044.1 433.4,1047.8 C429.5,1051.5 425.6,1051.7 424.8,1050.5 C424,1049.2 427.6,1048.8 431.1,1044 C434.6,1039.2 431.5,1040.5 435.3,1036.1 C439.1,1031.7 440.2,1032.6 442.6,1030.8" fill="none" stroke="#cbcbcb" stroke-width="0.8" stroke-linecap="round" stroke-linejoin="round" />
<path d="M490.3,991.9 C487.4,991.1 487.3,989.1 481.7,989.5 C476,989.8 479.1,992.2 473.3,992.9 C467.6,993.6 469,989.5 464.4,991.6 C459.9,993.7 464.3,997.2 459.8,999.3 C455.3,1001.4 451.5,996.7 450.9,998 C450.4,999.3 452.8,1001 458.2,1003.3 C463.6,1005.5 464.1,1004.3 467.1,1004.8" fill="none" stroke="#cbcbcb" stroke-width="0.8" stroke-linecap="round" stroke-linejoin="round" />
<path d="M552,1105.3 C549.1,1106.1 549.1,1106.1 543.3,1107.7 C537.6,1109.4 539.2,1112 534.7,1110.3 C530.2,1108.6 534.5,1105.4 529.9,1102.7 C525.3,1099.9 525.3,1099.6 520.9,1102 C516.6,1104.5 518.2,1104.4 516.9,1110.1 C515.6,1115.7 514.2,1115 517,1119.1 C519.9,1123.1 522.6,1121.2 525.4,1122.3" fill="none" stroke="#cbcbcb" stroke-width="0.8" stroke-linecap="round" stroke-linejoin="round" />
<path d="M469.4,1054.4 C468.6,1057.3 465.4,1058.6 467.1,1063.1 C468.8,1067.7 471.5,1063.5 474.5,1068.2 C477.6,1072.8 474.7,1071.2 476.2,1077 C477.8,1082.8 477.1,1079.9 479.3,1085.5 C481.5,1091.1 480.3,1088.3 482.8,1093.8 C485.3,1099.2 485.5,1096.2 486.7,1101.9 C488,1107.6 486.6,1107.9 486.5,1110.9" fill="none" stroke="#cbcbcb" stroke-width="0.8" stroke-linecap="round" stroke-linejoin="round" />
<path d="M540.2,1111.4 C538.5,1108.8 539.9,1106.7 535.3,1103.8 C530.8,1100.8 531.2,1100.5 526.4,1102.5 C521.6,1104.4 525.8,1107.3 521,1109.6 C516.2,1112 516.2,1106.8 512,1109.5 C507.7,1112.2 511.2,1112.5 508.2,1117.7 C505.3,1122.9 507.8,1122.9 503.1,1125.1 C498.4,1127.2 497.1,1124.5 494.1,1124.1" fill="none" stroke="#cbcbcb" stroke-width="0.8" stroke-linecap="round" stroke-linejoin="round" />
<path d="M457,1025 C454.6,1023.2 453.5,1024.1 449.7,1019.6 C446,1015.1 445.9,1016.9 445.8,1011.5 C445.7,1006.1 446.2,1003.9 449.5,1003.3 C452.9,1002.8 453.2,1004.7 455.8,1009.8 C458.4,1014.9 455.9,1012.8 457.3,1018.7 C458.7,1024.5 457.5,1021.8 460,1027.3 C462.5,1032.7 463.2,1032.4 464.7,1034.9" fill="none" stroke="#cbcbcb" stroke-width="0.8" stroke-linecap="round" stroke-linejoin="round" />
<path d="M501,950.1 C501.3,953.1 505.1,955 502.1,959.3 C499,963.6 498.9,958.7 491.7,963 C484.6,967.3 486.8,963 480.7,972.2 C474.5,981.4 473.3,979.6 473.3,990.6 C473.3,1001.7 473.3,1001.7 480.7,1005.4 C488.1,1009.1 485.6,1004.1 495.4,1001.7 C505.3,999.2 501.6,995.5 510.2,998 C518.8,1000.5 516.3,1000.5 521.2,1009.1 C526.2,1017.7 526.8,1015.2 524.9,1023.8 C523.1,1032.4 518.8,1031.2 515.7,1034.9" fill="none" stroke="#9a9a9a" stroke-width="0.9" stroke-linecap="round" stroke-linejoin="round" />
<path d="M456.7,970.3 C458.6,967.9 456.7,966.7 462.2,963 C467.8,959.3 469.6,960.5 473.3,959.3" fill="none" stroke="#18d8e0" stroke-width="1" stroke-linecap="round" stroke-linejoin="round" />
<path d="M476.3,990.6 L478.8,1005.4" fill="none" stroke="#18d8e0" stroke-width="1" stroke-linecap="round" stroke-linejoin="round" />
<path d="M513.9,1028.2 L522.3,1025.6" fill="none" stroke="#18d8e0" stroke-width="1" stroke-linecap="round" stroke-linejoin="round" />
<path d="M436.4,1068.1 C438.3,1069.9 437.7,1074.8 442,1073.6 C446.3,1072.4 446.9,1067.4 449.3,1064.4" fill="none" stroke="#18d8e0" stroke-width="1" stroke-linecap="round" stroke-linejoin="round" />
<path d="M480.7,1001.7 C481.9,1009.1 478.2,1010.3 484.4,1023.8 C490.5,1037.3 494.2,1036.1 499.1,1042.2" fill="none" stroke="#2434b8" stroke-width="0.8" stroke-linecap="round" stroke-linejoin="round" />
<path d="M447.5,1031.9 C451.8,1029.8 452.8,1029.6 460.4,1025.6 C468,1021.7 467,1022 470.4,1020.1" fill="none" stroke="#b4b4e8" stroke-width="4" stroke-linecap="round" stroke-linejoin="round" stroke-linecap="butt" />
<path d="M491.7,1086.5 C496.7,1090.2 497.9,1089.6 506.5,1097.6 C515.1,1105.5 513.9,1106.2 517.6,1110.5" fill="none" stroke="#d8d8d8" stroke-width="3.2" stroke-linecap="round" stroke-linejoin="round" stroke-linecap="butt" />
<path d="M484.4,1027.5 C488.1,1025.6 488.1,1024.4 495.4,1022 C502.8,1019.5 502.8,1020.7 506.5,1020.1" fill="none" stroke="#e4e4e4" stroke-width="3" stroke-linecap="round" stroke-linejoin="round" stroke-linecap="butt" />
<path d="M454.9,1095.7 L462.2,1101.2" fill="none" stroke="#ddd" stroke-width="3" stroke-linecap="round" stroke-linejoin="round" stroke-linecap="butt" />
<polygon points="453,1103.1 462.2,1098.3 464.1,1104.2" fill="#30e030" />
<path d="M475.5,1064.4 C479.1,1071.1 479.8,1072.4 486.2,1084.6 C492.6,1096.9 491.9,1095.7 494.7,1101.2" fill="none" stroke="#20e020" stroke-width="3" stroke-linecap="round" stroke-linejoin="round" stroke-linecap="butt" />
<path d="M473.3,1038.6 C473.5,1043.5 473.1,1044.7 474,1053.3 C475,1061.9 475.5,1060.7 476.3,1064.4" fill="none" stroke="#30d030" stroke-width="0.9" stroke-linecap="round" stroke-linejoin="round" />
<path d="M453,1053.3 C448.7,1057 446.3,1058.2 440.1,1064.4 C434,1070.5 436.4,1069.3 434.6,1071.7" fill="none" stroke="#30d030" stroke-width="0.9" stroke-linecap="round" stroke-linejoin="round" />
<path d="M447.5,963 C448.4,966.7 450.7,966.7 450.1,974 C449.5,981.4 444.3,980.5 445.6,985.1 C447,989.6 451.3,986.8 454.1,987.7" fill="none" stroke="#f010e0" stroke-width="3" stroke-linecap="round" stroke-linejoin="round" />
<path d="M445.6,985.1 L442,979.6" fill="none" stroke="#f010e0" stroke-width="2.4" stroke-linecap="round" stroke-linejoin="round" />
<path d="M434.6,1025.6 C435.4,1019.5 433.1,1016.2 437.2,1007.2 C441.2,998.2 439.4,1004.3 446.8,998.7 C454.1,993.2 453.5,990.3 459.3,990.6 C465.1,991 464.9,991.8 464.1,999.8 C463.2,1007.8 462.9,1008.8 456.7,1014.6 C450.6,1020.4 451.2,1018.8 445.6,1017.2 C440.1,1015.6 440.7,1015 440.1,1009.8 C439.5,1004.6 442.6,1004.4 443.8,1001.7" fill="none" stroke="#f010e0" stroke-width="3" stroke-linecap="round" stroke-linejoin="round" />
<path d="M434.6,1025.6 C433.4,1022.6 431.5,1012.1 430.9,1016.4 C430.3,1020.7 431.9,1026.3 432.7,1038.6 C433.6,1050.8 433.1,1043.2 433.5,1053.3 C433.8,1063.4 433.7,1063.6 433.8,1068.8" fill="none" stroke="#f010e0" stroke-width="2.4" stroke-linecap="round" stroke-linejoin="round" />
<path d="M429.8,1017.2 C429.5,1021.8 428.4,1022.8 429.1,1031.2 C429.7,1039.5 430.8,1038.6 431.6,1042.2" fill="none" stroke="#f010e0" stroke-width="3.2" stroke-linecap="round" stroke-linejoin="round" />
<path d="M458.6,1012.7 C464.7,1013.7 463.5,1012.3 477,1015.7 C490.5,1019.1 486.6,1016.1 499.1,1023.1 C511.7,1030.1 509.7,1028.1 514.6,1036.7 C519.5,1045.3 518.4,1045.2 513.9,1048.9 C509.3,1052.6 510.8,1052.4 501,1047.8 C491.1,1043.1 493,1043.5 484.4,1034.9 C475.8,1026.3 480.7,1028.7 475.1,1022 C469.6,1015.2 470.2,1017 467.8,1014.6" fill="none" stroke="#f010e0" stroke-width="3" stroke-linecap="round" stroke-linejoin="round" />
<path d="M445.6,1017.2 C450,1017.5 449.3,1018.3 458.6,1018.3 C467.8,1018.3 468.4,1017.5 473.3,1017.2" fill="none" stroke="#f010e0" stroke-width="2.6" stroke-linecap="round" stroke-linejoin="round" />
<path d="M454.9,1060.7 C457.9,1061.9 458.2,1060.4 464.1,1064.4 C470,1068.3 472,1066.1 472.6,1072.5 C473.2,1078.9 471.8,1079.4 465.9,1083.5 C460,1087.7 459.4,1088.9 454.9,1085 C450.3,1081.1 452.3,1079.9 452.3,1071.7 C452.3,1063.6 454,1064.4 454.9,1060.7" fill="none" stroke="#6858b8" stroke-width="3" stroke-linecap="round" stroke-linejoin="round" />
<path d="M480.7,1090.9 C481.9,1088.2 479.4,1086.1 484.4,1082.8 C489.3,1079.5 489.9,1077.9 495.4,1081 C501,1084 501.9,1085 501,1092 C500,1099 495.3,1098.7 492.5,1102" fill="none" stroke="#6858b8" stroke-width="3" stroke-linecap="round" stroke-linejoin="round" />
<path d="M507.2,1042.2 C510.7,1042.5 511.4,1045.4 517.6,1043 C523.7,1040.5 523,1037.6 525.7,1034.9" fill="none" stroke="#9080e0" stroke-width="2.6" stroke-linecap="round" stroke-linejoin="round" />
<path d="M513.9,1042.2 L513.1,1037.8" fill="none" stroke="#9080e0" stroke-width="1.6" stroke-linecap="round" stroke-linejoin="round" />
<path d="M499.1,1059.9 C500,1065.1 503.5,1067.1 501.7,1075.4 C499.9,1083.8 496.3,1081.8 493.6,1085" fill="none" stroke="#6858b8" stroke-width="2.8" stroke-linecap="round" stroke-linejoin="round" />
<path d="M460.8,1064.4 L473.3,1071.7" fill="none" stroke="#4838a0" stroke-width="2.6" stroke-linecap="round" stroke-linejoin="round" />
<rect x="404.3" y="949.3" width="78.2" height="90" stroke="#868686" stroke-width="1.15" stroke-dasharray="6.5 4.2" fill="none"/>
<rect x="454" y="947.5" width="76.4" height="106.5" stroke="#868686" stroke-width="1.15" stroke-dasharray="6.5 4.2" fill="none"/>
<clipPath id="cl2"><rect x="621.5" y="878.5" width="269" height="254"/></clipPath><g clip-path="url(#cl2)">
<path d="M735.8,1036.2 C737.9,1050.8 736.9,1047.7 742.1,1080.2 C747.4,1112.7 748.4,1115.8 751.6,1133.7" fill="none" stroke="#ececec" stroke-width="8" stroke-linecap="round" stroke-linejoin="round" stroke-linecap="butt" />
<path d="M757.8,1048.7 C760.5,1061.3 759.4,1058.2 765.7,1086.5 C772,1114.8 773,1117.9 776.7,1133.7" fill="none" stroke="#ebebeb" stroke-width="7" stroke-linecap="round" stroke-linejoin="round" stroke-linecap="butt" />
<path d="M783,1048.7 C788.3,1061.3 787.2,1058.2 798.7,1086.5 C810.3,1114.8 811.3,1117.9 817.6,1133.7" fill="none" stroke="#eeeeee" stroke-width="7" stroke-linecap="round" stroke-linejoin="round" stroke-linecap="butt" />
<path d="M811.3,1055 C816.6,1067.6 815.5,1070.8 827,1092.8 C838.6,1114.8 839.6,1111.7 845.9,1121.1" fill="none" stroke="#e6e6e6" stroke-width="3" stroke-linecap="round" stroke-linejoin="round" stroke-linecap="butt" />
<path d="M830.2,1111.7 C834.4,1114.8 838.1,1121.1 842.8,1121.1 C847.5,1121.1 843.8,1114.8 844.4,1111.7" fill="none" stroke="#999" stroke-width="1.5" stroke-linecap="round" stroke-linejoin="round" stroke-linecap="butt" />
<path d="M742.1,963.8 C748.4,964.9 748.4,961.7 761,967 C773.6,972.2 770.4,971.1 779.9,979.5 C789.3,987.9 786.2,987.9 789.3,992.1" fill="none" stroke="#e2e2e2" stroke-width="2" stroke-linecap="round" stroke-linejoin="round" />
<path d="M685.5,968.5 C689.7,969 694.9,964.3 698.1,970.1 C701.2,975.9 696,980.6 694.9,985.8" fill="none" stroke="#e2e2e2" stroke-width="1.5" stroke-linecap="round" stroke-linejoin="round" />
<path d="M757.8,960.7 C761,963.8 766.2,961.7 767.3,970.1 C768.3,978.5 763.1,980.6 761,985.8" fill="none" stroke="#e8e8e8" stroke-width="1.5" stroke-linecap="round" stroke-linejoin="round" />
<path d="M683.9,915 C687.6,911.9 687.1,908.2 694.9,905.6 C702.8,903 700.2,901.4 707.5,907.2 C714.9,913 712.5,912.4 717,922.9 C721.4,933.4 719.9,925 720.7,938.6 C721.6,952.3 720.9,949.7 719.5,963.8 C718,978 717.4,975.3 716.3,981.1" fill="none" stroke="#8c8c8c" stroke-width="1.4" stroke-linecap="round" stroke-linejoin="round" />
<path d="M720.7,938.6 C725.8,935 723.5,931.3 735.8,927.6 C748.2,924 748.8,924 757.8,927.6 C766.9,931.3 766,928.7 762.9,938.6 C759.7,948.6 760.6,944.7 748.4,957.5 C736.2,970.3 736.2,967.4 726.4,977 C716.5,986.7 721.4,983.3 718.8,986.5" fill="none" stroke="#8c8c8c" stroke-width="1.4" stroke-linecap="round" stroke-linejoin="round" />
<path d="M745.3,989 C748.4,988.4 749.7,984.3 754.7,987.4 C759.7,990.5 756.2,991.6 760.4,998.4 C764.6,1005.2 762.9,1001.6 767.3,1007.8 C771.7,1014.1 771.5,1014.1 773.6,1017.3" fill="none" stroke="#a0a0a0" stroke-width="1.3" stroke-linecap="round" stroke-linejoin="round" />
<path d="M773.6,1007.8 C779.9,1005.7 779.9,1001.6 792.4,1001.6 C805,1001.6 798.7,998.4 811.3,1007.8 C823.9,1017.3 821.2,1016.2 830.2,1029.9 C839.2,1043.5 837.1,1037.2 838.4,1048.7 C839.6,1060.3 838.6,1056.9 834,1064.5 C829.4,1072 831.6,1074 824.5,1071.4 C817.5,1068.8 821,1067.8 812.9,1056.6 C804.8,1045.4 804.5,1044 800.3,1037.7" fill="none" stroke="#9a9a9a" stroke-width="1.5" stroke-linecap="round" stroke-linejoin="round" />
<path d="M790.9,1036.2 L787.7,1051.9" fill="none" stroke="#9a9a9a" stroke-width="1.3" stroke-linecap="round" stroke-linejoin="round" />
<ellipse cx="787.7" cy="1031.4" rx="14" ry="7.5" fill="#9c9c9c" transform="rotate(12 787.7 1031.4)"/>
<polygon points="798.7,1031.4 817.6,1023.6 815.1,1036.8 802.5,1039.3" fill="#d4d4d4" />
<polygon points="728,1000.6 745.9,998.4 744,1011.6 733.3,1011.6" fill="#8a8a8a" />
<path d="M665,945.6 C667.3,946.8 667.5,954.3 671.7,949.3 C675.8,944.4 673.5,942.2 677.6,930.8 C681.7,919.3 681.8,920.3 683.9,915" fill="none" stroke="#18d8e0" stroke-width="1.5" stroke-linecap="round" stroke-linejoin="round" />
<path d="M715.4,978 L711.3,985.8" fill="none" stroke="#18d8e0" stroke-width="2" stroke-linecap="round" stroke-linejoin="round" />
<path d="M759.4,998.4 L762.9,1006.6" fill="none" stroke="#18d8e0" stroke-width="1.5" stroke-linecap="round" stroke-linejoin="round" />
<path d="M688.6,998.4 C689.9,1001.6 691.9,1001.6 692.4,1007.8 C692.9,1014.1 690.9,1014.1 690.2,1017.3" fill="none" stroke="#18d8e0" stroke-width="1.3" stroke-linecap="round" stroke-linejoin="round" />
<path d="M767.3,1096.6 C771.5,1094.2 772.5,1095.1 779.9,1089.6 C787.2,1084.2 785.6,1086.7 789.3,1080.2 C793,1073.7 790.4,1073.5 790.9,1070.1" fill="none" stroke="#18d8e0" stroke-width="1.4" stroke-linecap="round" stroke-linejoin="round" />
<path d="M786.2,1051.9 L789.3,1064.5" fill="none" stroke="#18d8e0" stroke-width="1.4" stroke-linecap="round" stroke-linejoin="round" />
<path d="M713.8,1057.5 C715.9,1053.6 715.1,1051.7 720.1,1045.6 C725.1,1039.5 726,1041.4 728.9,1039.3" fill="none" stroke="#18d8e0" stroke-width="1.3" stroke-linecap="round" stroke-linejoin="round" />
<polygon points="716.3,1092.8 725.8,1091.2 727,1133.7 718.2,1133.7" fill="#90ec90" />
<path d="M714.4,1056.6 C715.1,1064.5 715.9,1066 716.3,1080.2 C716.7,1094.4 715.9,1092.8 715.7,1099.1" fill="none" stroke="#38d838" stroke-width="1.3" stroke-linecap="round" stroke-linejoin="round" />
<path d="M690.2,1023.6 C686,1022.1 678.7,1019.7 677.6,1019.2 C676.6,1018.6 681.3,1015.3 687.1,1022 C692.8,1028.7 689.7,1029.9 694.9,1039.3 C700.2,1048.7 696.5,1044 702.8,1050.3 C709.1,1056.6 705.9,1051.9 713.8,1058.2 C721.7,1064.5 717,1061.3 726.4,1069.2 C735.8,1077 732.7,1074.4 742.1,1081.8 C751.6,1089.1 746.3,1086.3 754.7,1091.2 C763.1,1096.1 763.1,1094.8 767.3,1096.6" fill="none" stroke="#2434b8" stroke-width="1.4" stroke-linecap="round" stroke-linejoin="round" />
<path d="M712.2,981.1 C714.3,983.7 714.2,986.6 718.5,989 C722.8,991.4 722.9,988.6 725.1,988.3" fill="none" stroke="#2434b8" stroke-width="2" stroke-linecap="round" stroke-linejoin="round" />
<path d="M718.5,976.4 L718.8,989" fill="none" stroke="#2434b8" stroke-width="2" stroke-linecap="round" stroke-linejoin="round" />
<path d="M718.5,1077 C720.6,1078.7 720.5,1081 724.8,1082.1 C729.1,1083.1 729.2,1080.8 731.4,1080.2" fill="none" stroke="#2434b8" stroke-width="2.1" stroke-linecap="round" stroke-linejoin="round" />
<path d="M718.8,1086.5 L717,1096.6" fill="none" stroke="#2434b8" stroke-width="2.1" stroke-linecap="round" stroke-linejoin="round" />
<path d="M718.5,1077 L718.8,1086.5" fill="none" stroke="#2434b8" stroke-width="2.1" stroke-linecap="round" stroke-linejoin="round" />
<path d="M650.9,1004.7 C648.8,1013.1 647.7,1016.8 644.6,1029.9 C641.5,1043 642.5,1039.3 641.5,1044" fill="none" stroke="#e488e0" stroke-width="6" stroke-linecap="round" stroke-linejoin="round" stroke-linecap="butt" />
<path d="M622.6,968.5 C628.9,969 632,964.3 641.5,970.1 C650.9,975.9 649.6,975.3 650.9,985.8 C652.2,996.3 649.8,992.1 645.2,1001.6 C640.6,1011 641.5,1007.6 637.1,1014.1 C632.6,1020.6 633.7,1018.8 632,1021.1" fill="none" stroke="#f010e0" stroke-width="4.2" stroke-linecap="round" stroke-linejoin="round" />
<path d="M641.5,970.1 C648.8,970.7 651.7,972 663.5,972 C675.2,972 672.3,970.7 676.7,970.1" fill="none" stroke="#f010e0" stroke-width="3" stroke-linecap="round" stroke-linejoin="round" />
<path d="M638.3,985.8 C639.9,990 642.5,990 643,998.4 C643.6,1006.8 640.9,1006.8 639.9,1011" fill="none" stroke="#f010e0" stroke-width="3.2" stroke-linecap="round" stroke-linejoin="round" />
<path d="M668.2,970.7 C669.8,966.5 670.7,963.6 672.9,958.1 C675.1,952.7 674.2,955.6 674.8,954.4" fill="none" stroke="#f010e0" stroke-width="2.1" stroke-linecap="round" stroke-linejoin="round" />
<path d="M672.9,958.1 L677.6,960" fill="none" stroke="#f010e0" stroke-width="2.1" stroke-linecap="round" stroke-linejoin="round" />
<path d="M677.6,975.1 C681.3,976.6 683.3,980.2 688.6,979.5 C694,978.9 692,975.3 693.7,973.2" fill="none" stroke="#f010e0" stroke-width="2.1" stroke-linecap="round" stroke-linejoin="round" />
<path d="M688.6,979.5 L692.4,986.5" fill="none" stroke="#f010e0" stroke-width="2.1" stroke-linecap="round" stroke-linejoin="round" />
<path d="M657.2,989 C660.3,991.1 662.4,989.4 666.6,995.3 C670.8,1001.1 668.7,1002.8 669.8,1006.6" fill="none" stroke="#f010e0" stroke-width="2.1" stroke-linecap="round" stroke-linejoin="round" />
<path d="M657.2,998.4 L665.4,998.4" fill="none" stroke="#f010e0" stroke-width="2.1" stroke-linecap="round" stroke-linejoin="round" />
<path d="M650.9,981.1 L657.2,978.9" fill="none" stroke="#f010e0" stroke-width="2.1" stroke-linecap="round" stroke-linejoin="round" />
<polygon points="620,1036.5 646,1038.8 654.7,1042.6 665.1,1051.2 680.8,1055.6 681.6,1062.5 665.1,1059.6 654.7,1056.8 646,1052.6 620,1051.6" fill="#f010e0" />
<path d="M680.8,1059.1 C688.9,1060.8 692.9,1058.8 705.1,1064.3 C717.2,1069.8 709.7,1067.2 717.2,1075.6 C724.7,1083.9 720.7,1080.2 727.6,1089.4 C734.6,1098.7 735,1095.2 738.1,1103.3 C741.1,1111.4 741.3,1107.7 736.7,1113.8 C732,1119.8 731.8,1119.7 724.2,1121.6 C716.5,1123.4 720.7,1123.1 713.8,1119.3 C706.8,1115.5 711.4,1117.9 703.3,1110.3 C695.2,1102.6 694.1,1101 689.4,1096.4" fill="none" stroke="#f010e0" stroke-width="5" stroke-linecap="round" stroke-linejoin="round" />
<path d="M646,1039.1 C648.4,1038.2 649.2,1035 653,1036.5 C656.7,1037.9 655.9,1041.1 657.3,1043.4" fill="none" stroke="#f010e0" stroke-width="2.1" stroke-linecap="round" stroke-linejoin="round" />
<path d="M657.3,1043.4 L660.8,1035.6" fill="none" stroke="#f010e0" stroke-width="1.8" stroke-linecap="round" stroke-linejoin="round" />
<polygon points="620,1069.5 640.8,1073.8 660.3,1080.8 659.2,1083.5 639.1,1081.1 620,1080.4" fill="#c414c4" />
<polygon points="620,1092.9 635.6,1089.4 646,1086.8 654.7,1091.2 677.3,1088.6 690.3,1093.8 689.4,1106.8 672.1,1110.3 654.7,1118.1 639.1,1114.6 630.4,1117.2 620,1117.2" fill="#a494e4" />
<polygon points="625.2,1101.6 640.8,1092.9 642.6,1099 654.7,1098.1 653,1106.8 642.6,1106.8 644.3,1113.8" fill="#8a78d8" />
<polygon points="620,1124.2 654.7,1121.6 706.8,1126.2 710.3,1131.1 620,1131.1" fill="#9c8ce0" />
<path d="M674.5,1022 L660.3,1034.6" fill="none" stroke="#222" stroke-width="0.8" stroke-linecap="round" stroke-linejoin="round" stroke-dasharray="1.6 1.6"/>
<path d="M704.4,1066 L702.8,1050.3" fill="none" stroke="#222" stroke-width="0.8" stroke-linecap="round" stroke-linejoin="round" stroke-dasharray="1.6 1.6"/>
<path d="M714.4,1058.8 L707.5,1077" fill="none" stroke="#222" stroke-width="0.8" stroke-linecap="round" stroke-linejoin="round" stroke-dasharray="1.6 1.6"/>
<path d="M737.4,1073.9 L720.1,1081.8" fill="none" stroke="#222" stroke-width="0.8" stroke-linecap="round" stroke-linejoin="round" stroke-dasharray="1.6 1.6"/>
<path d="M725.8,1089.6 L742.1,1082.7" fill="none" stroke="#222" stroke-width="0.8" stroke-linecap="round" stroke-linejoin="round" stroke-dasharray="1.6 1.6"/>
<path d="M704.4,1110.7 L718.5,1092.8" fill="none" stroke="#222" stroke-width="0.8" stroke-linecap="round" stroke-linejoin="round" stroke-dasharray="1.6 1.6"/>
<circle cx="674.5" cy="1021.1" r="1.7" fill="#f01010"/>
<circle cx="659.7" cy="1034.6" r="1.7" fill="#f01010"/>
<circle cx="705.9" cy="1065.1" r="1.7" fill="#f01010"/>
<circle cx="737.4" cy="1073.3" r="1.7" fill="#f01010"/>
<circle cx="725.8" cy="1089.6" r="1.7" fill="#f01010"/>
<circle cx="704.4" cy="1110.7" r="1.7" fill="#f01010"/>
<circle cx="654" cy="981.1" r="1.7" fill="#f01010"/>
<circle cx="702.2" cy="1049.7" r="1.7" fill="#10d8f0"/>
<circle cx="714.4" cy="1058.2" r="1.7" fill="#10d8f0"/>
<circle cx="720.1" cy="1081.8" r="1.7" fill="#10d8f0"/>
<circle cx="742.1" cy="1082.7" r="1.7" fill="#10d8f0"/>
</g>
<rect x="621" y="878" width="270" height="255" stroke="#868686" stroke-width="1.15" stroke-dasharray="6.5 4.2" fill="none"/>
<text x="18.3" y="854.7" fill="#111" font-size="19.8" text-anchor="start" font-weight="bold" >c</text>
<text x="120.8" y="864.2" fill="#1a1a1a" font-size="17" text-anchor="start" font-weight="normal"  stroke="#1a1a1a" stroke-width="0.35">HCDR2 epitope</text>
<text x="694.3" y="864.2" fill="#1a1a1a" font-size="17" text-anchor="start" font-weight="normal"  stroke="#1a1a1a" stroke-width="0.35">HCDR3 epitope</text>
<line x1="71" y1="942" x2="71" y2="909.2" stroke="#f01818" stroke-width="2.2" />
<polygon points="71,902 76.2,909.2 65.8,909.2" fill="#f01818" />
<line x1="71" y1="942" x2="103.8" y2="942" stroke="#1450f0" stroke-width="2.2" />
<polygon points="111,942 103.8,947.2 103.8,936.8" fill="#1450f0" />
<circle cx="71" cy="942" r="5.4" fill="url(#sp_g)"/>
<text x="71" y="897.2" fill="#f01818" font-size="16.8" text-anchor="middle" font-weight="normal"  stroke="#f01818" stroke-width="0.35">y</text>
<text x="112.3" y="945.9" fill="#1450f0" font-size="16.8" text-anchor="start" font-weight="normal"  stroke="#1450f0" stroke-width="0.35">x</text>
<text x="54.1" y="951.7" fill="#78a800" font-size="16.8" text-anchor="start" font-weight="normal"  stroke="#78a800" stroke-width="0.35">z</text>
<text x="132.3" y="917.2" fill="#1a1a1a" font-size="17.2" text-anchor="start" font-weight="normal"  stroke="#1a1a1a" stroke-width="0.35">RBD</text>
<line x1="170.5" y1="914" x2="184.7" y2="920.3" stroke="#111" stroke-width="1.4" />
<text x="243.3" y="918.2" fill="#f010e8" font-size="17.2" text-anchor="start" font-weight="normal"  stroke="#f010e8" stroke-width="0.35">HCDR1</text>
<line x1="264" y1="922" x2="268" y2="947" stroke="#111" stroke-width="1.4" />
<text x="140" y="959.7" fill="#3c6ce4" font-size="17.2" text-anchor="start" font-weight="normal"  stroke="#3c6ce4" stroke-width="0.35">F490</text>
<line x1="180.6" y1="958" x2="221" y2="973.8" stroke="#111" stroke-width="1.4" />
<text x="232.8" y="959.7" fill="#f010e8" font-size="17.2" text-anchor="start" font-weight="normal"  stroke="#f010e8" stroke-width="0.35">I54</text>
<line x1="239.7" y1="962.8" x2="233.5" y2="975.4" stroke="#111" stroke-width="1.4" />
<text x="133.7" y="998.2" fill="#3c6ce4" font-size="17.2" text-anchor="start" font-weight="normal"  stroke="#3c6ce4" stroke-width="0.35">L492</text>
<line x1="172.7" y1="991" x2="217.7" y2="1005" stroke="#111" stroke-width="1.4" />
<text x="249.3" y="990.7" fill="#f010e8" font-size="17.2" text-anchor="start" font-weight="normal"  stroke="#f010e8" stroke-width="0.35">L55</text>
<line x1="247.6" y1="989.5" x2="219" y2="992.7" stroke="#111" stroke-width="1.4" />
<text x="279.9" y="1003.7" fill="#f010e8" font-size="17.2" text-anchor="start" font-weight="normal"  stroke="#f010e8" stroke-width="0.35">I52</text>
<line x1="277.5" y1="1002" x2="257" y2="1006" stroke="#111" stroke-width="1.4" />
<text x="118.3" y="1041" fill="#3c6ce4" font-size="17.2" text-anchor="start" font-weight="normal"  stroke="#3c6ce4" stroke-width="0.35">L452</text>
<line x1="158" y1="1035" x2="187.8" y2="1042.4" stroke="#111" stroke-width="1.4" />
<text x="217" y="1056.7" fill="#f010e8" font-size="17.2" text-anchor="start" font-weight="normal"  stroke="#f010e8" stroke-width="0.35">I57</text>
<line x1="227" y1="1042.4" x2="231" y2="1021" stroke="#111" stroke-width="1.4" />
<text x="176.8" y="1091" fill="#f010e8" font-size="17.4" text-anchor="start" font-weight="normal"  stroke="#f010e8" stroke-width="0.35">HCDR2</text>
<line x1="235.7" y1="1076" x2="246" y2="1058.7" stroke="#111" stroke-width="1.4" />
<text x="487.3" y="933.2" fill="#1a1a1a" font-size="17.2" text-anchor="start" font-weight="normal"  stroke="#1a1a1a" stroke-width="0.35">RBD</text>
<line x1="504.6" y1="936" x2="500" y2="949" stroke="#111" stroke-width="1.4" />
<text x="376.7" y="975.2" fill="#f010e8" font-size="16.6" text-anchor="start" font-weight="normal"  stroke="#f010e8" stroke-width="0.35">HCDR1</text>
<line x1="434.6" y1="974" x2="447.5" y2="982.5" stroke="#111" stroke-width="1.4" />
<text x="359" y="1011.2" fill="#f010e8" font-size="16.8" text-anchor="start" font-weight="normal"  stroke="#f010e8" stroke-width="0.35">HCDR2</text>
<line x1="418.7" y1="1008.3" x2="433.5" y2="1013.5" stroke="#111" stroke-width="1.4" />
<text x="515" y="1016" fill="#f010e8" font-size="17.2" text-anchor="start" font-weight="normal"  stroke="#f010e8" stroke-width="0.35">HCDR3</text>
<line x1="513" y1="1015.7" x2="498.4" y2="1022" stroke="#111" stroke-width="1.4" />
<text x="539" y="1048.9" fill="#9470dc" font-size="17.5" text-anchor="start" font-weight="normal"  stroke="#9470dc" stroke-width="0.35">LCDR2</text>
<line x1="537.8" y1="1045.2" x2="521.2" y2="1041.5" stroke="#111" stroke-width="1.4" />
<text x="385.9" y="1091.7" fill="#9470dc" font-size="17.5" text-anchor="start" font-weight="normal"  stroke="#9470dc" stroke-width="0.35">LCDR3</text>
<line x1="443" y1="1081" x2="454" y2="1079" stroke="#111" stroke-width="1.4" />
<text x="427.6" y="1119" fill="#9470dc" font-size="17.3" text-anchor="start" font-weight="normal"  stroke="#9470dc" stroke-width="0.35">LCDR1</text>
<line x1="473.3" y1="1105" x2="481.4" y2="1095.7" stroke="#111" stroke-width="1.4" />
<line x1="376" y1="1136.3" x2="376" y2="1106.5" stroke="#f01818" stroke-width="2.2" />
<polygon points="376,1099.3 381.2,1106.5 370.8,1106.5" fill="#f01818" />
<line x1="376" y1="1136.3" x2="344.2" y2="1136.3" stroke="#78a800" stroke-width="2.2" />
<polygon points="337,1136.3 344.2,1131.1 344.2,1141.5" fill="#78a800" />
<circle cx="376" cy="1136.3" r="5.4" fill="url(#sp_b)"/>
<text x="376.4" y="1093.7" fill="#f01818" font-size="17" text-anchor="middle" font-weight="normal"  stroke="#f01818" stroke-width="0.35">y</text>
<text x="385.9" y="1144.7" fill="#1450f0" font-size="17" text-anchor="start" font-weight="normal"  stroke="#1450f0" stroke-width="0.35">x</text>
<text x="326.4" y="1140.9" fill="#78a800" font-size="17" text-anchor="start" font-weight="normal"  stroke="#78a800" stroke-width="0.35">z</text>
<text x="690.3" y="1004.7" fill="#3c6ce4" font-size="17.2" text-anchor="start" font-weight="normal"  stroke="#3c6ce4" stroke-width="0.35">T470</text>
<line x1="702" y1="1007" x2="690" y2="1023" stroke="#111" stroke-width="1.4" />
<text x="713.1" y="1028.5" fill="#3c6ce4" font-size="17.2" text-anchor="start" font-weight="normal"  stroke="#3c6ce4" stroke-width="0.35">S469</text>
<line x1="713.8" y1="1030" x2="702.8" y2="1048.7" stroke="#111" stroke-width="1.4" />
<text x="731.3" y="1044.2" fill="#3c6ce4" font-size="17.2" text-anchor="start" font-weight="normal"  stroke="#3c6ce4" stroke-width="0.35">I468</text>
<line x1="730.5" y1="1039.3" x2="715.4" y2="1057.5" stroke="#111" stroke-width="1.4" />
<text x="760.3" y="1069.4" fill="#3c6ce4" font-size="17.2" text-anchor="start" font-weight="normal"  stroke="#3c6ce4" stroke-width="0.35">R466</text>
<line x1="759.4" y1="1067.6" x2="737.4" y2="1073.3" stroke="#111" stroke-width="1.4" />
<line x1="762.6" y1="1072.3" x2="742" y2="1082.7" stroke="#111" stroke-width="1.4" />
<text x="825.7" y="1005.7" fill="#1a1a1a" font-size="17.2" text-anchor="start" font-weight="normal"  stroke="#1a1a1a" stroke-width="0.35">RBD</text>
<line x1="824.8" y1="1003" x2="812.9" y2="1009.4" stroke="#111" stroke-width="1.4" />
<text x="624.3" y="1067.7" fill="#f010e8" font-size="17.2" text-anchor="start" font-weight="normal"  stroke="#f010e8" stroke-width="0.35">E99</text>
<line x1="643" y1="1052" x2="646" y2="1044" stroke="#111" stroke-width="1.4" />
<text x="653.3" y="1078.7" fill="#f010e8" font-size="17.2" text-anchor="start" font-weight="normal"  stroke="#f010e8" stroke-width="0.35">Y102</text>
<line x1="694.3" y1="1067.6" x2="705.3" y2="1065" stroke="#111" stroke-width="1.4" />
<text x="661.3" y="1095.1" fill="#f010e8" font-size="17.2" text-anchor="start" font-weight="normal"  stroke="#f010e8" stroke-width="0.35">G104</text>
<line x1="703.7" y1="1083.3" x2="720" y2="1081" stroke="#111" stroke-width="1.4" />
<line x1="703.7" y1="1088" x2="725.7" y2="1089.6" stroke="#111" stroke-width="1.4" />
<text x="637.6" y="1129.1" fill="#f010e8" font-size="17.2" text-anchor="start" font-weight="normal"  stroke="#f010e8" stroke-width="0.35">G106</text>
<line x1="679.8" y1="1119.5" x2="704.4" y2="1110.7" stroke="#111" stroke-width="1.4" />
<text x="761.3" y="1122.2" fill="#f010e8" font-size="17.2" text-anchor="start" font-weight="normal"  stroke="#f010e8" stroke-width="0.35">HCDR3</text>
<line x1="759.4" y1="1112.6" x2="739" y2="1109.4" stroke="#111" stroke-width="1.4" />
<line x1="870.5" y1="931.7" x2="846.9" y2="941.8" stroke="#2050e0" stroke-width="1.8" />
<polygon points="839.6,945 845.4,938.2 848.5,945.5" fill="#2050e0" />
<line x1="870.5" y1="931.7" x2="854.7" y2="915.9" stroke="#6a9a00" stroke-width="1.8" />
<polygon points="849,910.3 857.5,913.1 851.8,918.8" fill="#6a9a00" />
<line x1="870.5" y1="931.7" x2="870.5" y2="912" stroke="#201010" stroke-width="1.6" />
<circle cx="870.5" cy="908" r="4.2" fill="#b01010"/>
<circle cx="870.5" cy="931.7" r="2.4" fill="#c8c8c8"/>
<text x="868.8" y="894.7" fill="#f01818" font-size="17.2" text-anchor="middle" font-weight="normal"  stroke="#f01818" stroke-width="0.35">y</text>
<text x="841.3" y="904.2" fill="#78a800" font-size="17.2" text-anchor="middle" font-weight="normal"  stroke="#78a800" stroke-width="0.35">z</text>
<text x="830.3" y="952.7" fill="#1450f0" font-size="17.2" text-anchor="middle" font-weight="normal"  stroke="#1450f0" stroke-width="0.35">x</text>
<g filter="url(#bump2)">
<path d="M236.1,1208.7 C239.4,1203.5 236.9,1203 241,1200 C245.2,1197 244.2,1197.6 249.8,1198.7 C255.4,1199.8 254.5,1203.7 259.8,1203.7 C265,1203.7 262,1200.6 267.2,1198.7 C272.5,1196.8 270.5,1196 277.2,1197.5 C283.9,1199 284.4,1199.2 289.7,1203.7 C294.9,1208.2 293.9,1206.8 294.7,1212.4 C295.4,1218.1 294.8,1215.7 292.2,1222.4 C289.6,1229.2 287.4,1227.4 285.9,1234.9 C284.4,1242.4 284.2,1242.9 287.2,1247.4 C290.2,1251.8 292.9,1246.9 295.9,1249.9 C298.9,1252.8 294.5,1251.4 297.2,1257.3 C299.8,1263.3 300.9,1263.1 304.7,1269.8 C308.4,1276.5 308.9,1273.1 309.6,1279.8 C310.4,1286.5 303.4,1287.4 307.1,1292.3 C310.9,1297.1 316,1293.4 322.1,1296 C328.2,1298.6 327.6,1297.2 327.6,1301 C327.6,1304.7 326.8,1304.4 322.1,1308.5 C317.5,1312.6 314.4,1309.8 312.1,1314.7 C309.9,1319.6 310.9,1320.9 314.6,1324.7 C318.4,1328.4 320.1,1324.2 324.6,1327.2 C329.1,1330.2 330.3,1328.7 329.6,1334.7 C328.8,1340.6 328.1,1341.9 322.1,1347.1 C316.1,1352.4 315.6,1349.1 309.6,1352.1 C303.7,1355.1 302.2,1353.4 302.2,1357.1 C302.2,1360.9 302.9,1362.7 309.6,1364.6 C316.4,1366.5 317.1,1361.9 324.6,1363.3 C332.1,1364.8 327.8,1365.5 334.6,1369.6 C341.3,1373.7 339.9,1373.3 347.1,1377.1 C354.2,1380.8 355.3,1377.6 358.3,1382.1 C361.3,1386.5 361.1,1387.5 357,1392 C352.9,1396.5 351.3,1393.3 344.6,1397 C337.8,1400.8 340.6,1402.3 334.6,1404.5 C328.6,1406.8 330.6,1402.3 324.6,1404.5 C318.6,1406.8 320.6,1409 314.6,1412 C308.6,1415 310.6,1410.7 304.7,1414.5 C298.7,1418.2 300.7,1418.5 294.7,1424.5 C288.7,1430.4 292.2,1431.1 284.7,1434.4 C277.2,1437.8 278,1434.9 269.7,1435.7 C261.5,1436.4 264,1438.1 257.3,1436.9 C250.5,1435.8 251.8,1436.4 247.3,1431.9 C242.8,1427.5 243,1428.7 242.3,1422 C241.5,1415.2 245.5,1416.2 244.8,1409.5 C244,1402.8 245.8,1404.8 239.8,1399.5 C233.8,1394.3 231.6,1397.3 224.8,1392 C218.1,1386.8 221.1,1388 217.3,1382.1 C213.6,1376.1 217.6,1376.6 212.4,1372.1 C207.1,1367.6 204.8,1371.6 199.9,1367.1 C195,1362.6 199.9,1362.4 196.1,1357.1 C192.4,1351.9 190,1355.6 187.4,1349.6 C184.8,1343.6 189.7,1343.9 187.4,1337.2 C185.2,1330.4 185.5,1330.9 179.9,1327.2 C174.3,1323.4 174.3,1328.4 168.7,1324.7 C163.1,1320.9 161.6,1321.4 161.2,1314.7 C160.9,1308 162.6,1308.2 167.5,1302.2 C172.3,1296.2 170.7,1299.2 177.4,1294.8 C184.2,1290.3 183.2,1291 189.9,1287.3 C196.6,1283.5 194.6,1286.8 199.9,1282.3 C205.1,1277.8 201.4,1279 207.4,1272.3 C213.4,1265.6 214.6,1267.3 219.8,1259.8 C225.1,1252.3 224.1,1254.8 224.8,1247.4 C225.6,1239.9 223.1,1241.6 222.3,1234.9 C221.6,1228.2 220.1,1230.1 222.3,1224.9 C224.6,1219.7 225.7,1222.3 229.8,1217.4 C233.9,1212.6 232.7,1213.9 236.1,1208.7Z" fill="#ececec" />
<path d="M236.1,1208.7 C238.7,1203.1 236.9,1203 241,1200 C245.2,1197 244.2,1197.6 249.8,1198.7 C255.4,1199.8 254.5,1203.7 259.8,1203.7 C265,1203.7 262,1200.6 267.2,1198.7 C272.5,1196.8 270.5,1196 277.2,1197.5 C283.9,1199 284.4,1199.2 289.7,1203.7 C294.9,1208.2 293.9,1206.8 294.7,1212.4 C295.4,1218.1 294.8,1215.7 292.2,1222.4 C289.6,1229.2 287.4,1227.4 285.9,1234.9 C284.4,1242.4 284.2,1242.9 287.2,1247.4 C290.2,1251.8 292.9,1246.9 295.9,1249.9 C298.9,1252.8 294.5,1251.4 297.2,1257.3 C299.8,1263.3 300.9,1263.1 304.7,1269.8 C308.4,1276.5 311.1,1275.3 309.6,1279.8 C308.1,1284.3 308.6,1287 299.7,1284.8 C290.7,1282.5 288.7,1283.5 279.7,1272.3 C270.7,1261.1 277.2,1256.3 269.7,1247.4 C262.2,1238.4 266,1251 254.8,1242.4 C243.5,1233.8 237.9,1228.8 232.3,1218.7 C226.7,1208.6 233.4,1214.3 236.1,1208.7Z" fill="url(#gS2)" />
<path d="M302.2,1357.1 C305.2,1355.6 302.9,1362.7 309.6,1364.6 C316.4,1366.5 317.1,1361.9 324.6,1363.3 C332.1,1364.8 327.8,1365.5 334.6,1369.6 C341.3,1373.7 339.9,1373.3 347.1,1377.1 C354.2,1380.8 355.3,1377.6 358.3,1382.1 C361.3,1386.5 361.1,1387.5 357,1392 C352.9,1396.5 351.3,1393.3 344.6,1397 C337.8,1400.8 340.6,1402.3 334.6,1404.5 C328.6,1406.8 330.6,1402.3 324.6,1404.5 C318.6,1406.8 320.6,1409 314.6,1412 C308.6,1415 310.6,1410.7 304.7,1414.5 C298.7,1418.2 300.7,1418.5 294.7,1424.5 C288.7,1430.4 292.2,1431.1 284.7,1434.4 C277.2,1437.8 278,1434.9 269.7,1435.7 C261.5,1436.4 264,1438.1 257.3,1436.9 C250.5,1435.8 251.8,1436.4 247.3,1431.9 C242.8,1427.5 243,1428.7 242.3,1422 C241.5,1415.2 245.5,1416.2 244.8,1409.5 C244,1402.8 245.8,1404.8 239.8,1399.5 C233.8,1394.3 231.6,1397.3 224.8,1392 C218.1,1386.8 217.3,1388.8 217.3,1382.1 C217.3,1375.3 216.6,1370.3 224.8,1369.6 C233.1,1368.8 231.3,1373.6 244.8,1379.6 C258.3,1385.5 256.3,1389.5 269.7,1389.5 C283.2,1389.5 280.7,1385.5 289.7,1379.6 C298.7,1373.6 295.9,1376.3 299.7,1369.6 C303.4,1362.8 299.2,1358.6 302.2,1357.1Z" fill="url(#gS2)" />
<path d="M203.6,1284.8 C207.4,1277.3 208.5,1284.3 214.9,1279.8 C221.2,1275.3 218.8,1273.6 224.8,1269.8 C230.8,1266.1 227.3,1262.8 234.8,1267.3 C242.3,1271.8 243.8,1274.3 249.8,1284.8 C255.8,1295.3 254.8,1293.3 254.8,1302.2 C254.8,1311.2 257.3,1311 249.8,1314.7 C242.3,1318.4 238.1,1313.2 229.8,1314.7 C221.6,1316.2 225.3,1315.2 222.3,1319.7 C219.3,1324.2 219.8,1323.7 219.8,1329.7 C219.8,1335.7 223.1,1332.2 222.3,1339.7 C221.6,1347.1 221.1,1346.4 217.3,1354.6 C213.6,1362.8 215.1,1363 209.9,1367.1 C204.6,1371.2 203.6,1371.3 199.9,1368.3 C196.1,1365.3 195.9,1363.5 197.4,1357.1 C198.9,1350.8 203,1356.9 204.9,1347.1 C206.7,1337.4 204.4,1337.4 203.6,1324.7 C202.9,1312 202.4,1316.7 202.4,1304.7 C202.4,1292.8 199.9,1292.3 203.6,1284.8Z" fill="#14ecec" />
<path d="M284.7,1284.8 C289.2,1282.5 292.2,1292 299.7,1297.2 C307.1,1302.5 302.9,1302.6 309.6,1302.2 C316.4,1301.9 316.7,1296.4 322.1,1296 C327.5,1295.6 327.6,1297.2 327.6,1301 C327.6,1304.7 326.8,1304.4 322.1,1308.5 C317.5,1312.6 316.6,1309.8 312.1,1314.7 C307.6,1319.6 310.9,1317.2 307.1,1324.7 C303.4,1332.2 304.9,1332.9 299.7,1339.7 C294.4,1346.4 294.2,1348.6 289.7,1347.1 C285.2,1345.6 284.7,1342.1 284.7,1334.7 C284.7,1327.2 289.7,1331.2 289.7,1322.2 C289.7,1313.2 286.2,1316 284.7,1304.7 C283.2,1293.5 280.2,1287 284.7,1284.8Z" fill="#14ecec" />
<path d="M222.3,1224.9 C224.6,1218.5 225.6,1219.4 232.3,1218.7 C239,1217.9 237.3,1225 244.8,1222.4 C252.3,1219.8 250.5,1212.9 257.3,1209.9 C264,1207 262.7,1208.7 267.2,1212.4 C271.7,1216.2 273,1215.7 272.2,1222.4 C271.5,1229.2 270,1228.9 264.7,1234.9 C259.5,1240.9 253.3,1239.4 254.8,1242.4 C256.3,1245.4 264.5,1240.4 269.7,1244.9 C275,1249.4 268.5,1252.1 272.2,1257.3 C276,1262.6 280,1257.8 282.2,1262.3 C284.4,1266.8 277.5,1268.6 279.7,1272.3 C282,1276 286.7,1271.1 289.7,1274.8 C292.7,1278.5 291.9,1280.3 289.7,1284.8 C287.4,1289.3 288.2,1291.3 282.2,1289.8 C276.2,1288.3 278,1284.3 269.7,1279.8 C261.5,1275.3 264.5,1280.8 254.8,1274.8 C245,1268.8 243.3,1268.1 237.3,1259.8 C231.3,1251.6 238.6,1253.3 234.8,1247.4 C231.1,1241.4 228.6,1246.6 224.8,1239.9 C221.1,1233.1 220.1,1231.3 222.3,1224.9Z" fill="#14ecec" />
<path d="M222.3,1329.7 C225.3,1323.7 225.6,1324.9 232.3,1319.7 C239,1314.5 238.1,1313 244.8,1312.2 C251.5,1311.5 250.3,1311.2 254.8,1317.2 C259.3,1323.2 256,1325.4 259.8,1332.2 C263.5,1338.9 262,1338.9 267.2,1339.7 C272.5,1340.4 272,1338.4 277.2,1334.7 C282.5,1330.9 280.2,1327.2 284.7,1327.2 C289.2,1327.2 288.4,1327.9 292.2,1334.7 C295.9,1341.4 294.2,1342.1 297.2,1349.6 C300.2,1357.1 301.4,1352.1 302.2,1359.6 C302.9,1367.1 303.4,1367.8 299.7,1374.6 C295.9,1381.3 294.5,1377.4 289.7,1382.1 C284.8,1386.7 287.9,1385.7 283.4,1390 C279,1394.4 278.8,1397 274.7,1396.5 C270.6,1396 274.2,1391.9 269.7,1388.3 C265.2,1384.7 267.2,1385.7 259.8,1384.6 C252.3,1383.4 253,1383.8 244.8,1384.6 C236.6,1385.3 239,1388.5 232.3,1387 C225.6,1385.5 224.6,1385.5 222.3,1379.6 C220.1,1373.6 221.1,1373.1 224.8,1367.1 C228.6,1361.1 232.6,1365.6 234.8,1359.6 C237.1,1353.6 236.1,1353.1 232.3,1347.1 C228.6,1341.1 225.3,1344.9 222.3,1339.7 C219.3,1334.4 219.3,1335.7 222.3,1329.7Z" fill="#12e612" />
<path d="M234.8,1262.3 C238.6,1257.8 238.1,1255.8 244.8,1257.3 C251.5,1258.8 249.8,1262.8 257.3,1267.3 C264.7,1271.8 263.7,1268.6 269.7,1272.3 C275.7,1276 274.2,1273.8 277.2,1279.8 C280.2,1285.8 276,1287.8 279.7,1292.3 C283.4,1296.7 283.7,1292.9 289.7,1294.8 C295.7,1296.6 295.2,1294.8 299.7,1298.5 C304.2,1302.2 305.4,1301.6 304.7,1307.2 C303.9,1312.8 301.7,1312.7 297.2,1317.2 C292.7,1321.7 294.2,1319.9 289.7,1322.2 C285.2,1324.4 286.7,1320.2 282.2,1324.7 C277.7,1329.2 280,1332.7 274.7,1337.2 C269.5,1341.6 270,1341.9 264.7,1339.7 C259.5,1337.4 260.3,1337.2 257.3,1329.7 C254.3,1322.2 257.8,1321.4 254.8,1314.7 C251.8,1308 248.8,1313.2 247.3,1307.2 C245.8,1301.2 252.8,1301.5 249.8,1294.8 C246.8,1288 242.5,1291.5 237.3,1284.8 C232.1,1278 233.1,1279 232.3,1272.3 C231.6,1265.6 231.1,1266.8 234.8,1262.3Z" fill="#2626b4" />
<path d="M215.4,1289.8 C218.3,1285.6 218.3,1286 224.8,1286 C231.3,1286 231.9,1285.2 234.8,1289.8 C237.7,1294.3 237.3,1295.2 233.6,1299.7 C229.8,1304.3 229.4,1303.9 223.6,1303.5 C217.8,1303.1 218.8,1303.1 216.1,1298.5 C213.4,1293.9 212.4,1293.9 215.4,1289.8Z" fill="#4848c0" opacity="0.75"/>
</g>
<path d="M223.6,1228.7 C224,1232 225.7,1231.6 224.8,1238.6 C224,1245.7 218.6,1245.7 221.1,1249.9 C223.6,1254 226.9,1247.8 232.3,1251.1 C237.7,1254.4 237.3,1252.8 237.3,1259.8 C237.3,1266.9 237.3,1264.8 232.3,1272.3 C227.3,1279.8 229,1279.8 222.3,1282.3 C215.7,1284.8 214.9,1284.8 212.4,1279.8 C209.9,1274.8 211.5,1272.3 214.9,1267.3 C218.2,1262.3 219,1263.6 222.3,1264.8 C225.7,1266.1 224,1269 224.8,1271.1" fill="none" stroke="#d810d0" stroke-width="2.7" stroke-linecap="round" stroke-linejoin="round" />
<path d="M212.4,1279.8 C209.4,1283.1 206.5,1279.8 203.6,1289.8 C200.7,1299.7 202,1294.8 203.6,1309.7 C205.3,1324.7 207.5,1320.9 208.6,1334.7 C209.7,1348.4 207.5,1345.5 206.9,1350.9" fill="none" stroke="#d810d0" stroke-width="2.7" stroke-linecap="round" stroke-linejoin="round" />
<path d="M207.9,1284.8 C208.5,1288.1 208.4,1292.3 209.9,1294.8 C211.4,1297.2 211.5,1293.1 212.4,1292.3" fill="none" stroke="#d810d0" stroke-width="3.2" stroke-linecap="round" stroke-linejoin="round" />
<path d="M222.3,1284.8 C227.3,1283.1 225.7,1279.8 237.3,1279.8 C248.9,1279.8 244,1281 257.3,1284.8 C270.6,1288.5 266.4,1284.4 277.2,1291 C288,1297.7 283.4,1296 289.7,1304.7 C295.9,1313.5 295.1,1311 295.9,1317.2 C296.8,1323.4 299.2,1324.3 292.2,1323.4 C285.1,1322.6 285.5,1320.9 274.7,1314.7 C263.9,1308.5 268.1,1312.2 259.8,1304.7 C251.4,1297.2 254.8,1298.9 249.8,1292.3 C244.8,1285.6 246.4,1287.3 244.8,1284.8" fill="none" stroke="#d810d0" stroke-width="2.7" stroke-linecap="round" stroke-linejoin="round" />
<path d="M231.1,1334.7 C233.1,1333.8 232.7,1330.5 237.3,1332.2 C241.9,1333.8 241.9,1333.8 244.8,1339.7 C247.7,1345.5 247.7,1343 246,1349.6 C244.4,1356.3 244.4,1355.9 239.8,1359.6 C235.2,1363.3 235.6,1365 232.3,1360.9 C229,1356.7 230.2,1355.9 229.8,1347.1 C229.4,1338.4 230.7,1338.8 231.1,1334.7" fill="none" stroke="#7058b8" stroke-width="2.6" stroke-linecap="round" stroke-linejoin="round" />
<path d="M244.8,1340.9 C246.9,1339.7 246.7,1340.1 251,1337.2 C255.3,1334.2 255.5,1333.8 257.8,1332.2" fill="none" stroke="#4a3898" stroke-width="3.4" stroke-linecap="round" stroke-linejoin="round" />
<path d="M256,1359.6 C257.7,1357.9 256.4,1356.7 261,1354.6 C265.6,1352.5 264.3,1352.5 269.7,1353.4 C275.1,1354.2 273.9,1354.2 277.2,1357.1 C280.5,1360 278.9,1360.4 279.7,1362.1" fill="none" stroke="#7058b8" stroke-width="2.6" stroke-linecap="round" stroke-linejoin="round" />
<path d="M256,1359.6 C258.1,1362.9 258.5,1364.4 262.2,1369.6 C266,1374.7 265.6,1373.2 267.2,1375.1" fill="none" stroke="#7058b8" stroke-width="2.6" stroke-linecap="round" stroke-linejoin="round" />
<path d="M278.5,1330.9 C278.9,1333.8 280.1,1330.9 279.7,1339.7 C279.3,1348.4 278,1351.3 277.2,1357.1" fill="none" stroke="#7058b8" stroke-width="2.6" stroke-linecap="round" stroke-linejoin="round" />
<path d="M285.9,1309.7 C288.9,1310.6 289.3,1312.2 294.7,1312.2 C300.1,1312.2 298.4,1312.2 302.2,1309.7 C305.9,1307.2 304.7,1306.4 305.9,1304.7" fill="none" stroke="#8a70d0" stroke-width="2.6" stroke-linecap="round" stroke-linejoin="round" />
<g filter="url(#bump2)">
<path d="M724.1,1208.7 C727.4,1203.5 724.9,1203 729,1200 C733.2,1197 732.2,1197.6 737.8,1198.7 C743.4,1199.8 742.5,1203.7 747.8,1203.7 C753,1203.7 750,1200.6 755.2,1198.7 C760.5,1196.8 758.5,1196 765.2,1197.5 C771.9,1199 772.4,1199.2 777.7,1203.7 C782.9,1208.2 781.9,1206.8 782.7,1212.4 C783.4,1218.1 782.8,1215.7 780.2,1222.4 C777.6,1229.2 775.4,1227.4 773.9,1234.9 C772.4,1242.4 772.2,1242.9 775.2,1247.4 C778.2,1251.8 780.9,1246.9 783.9,1249.9 C786.9,1252.8 782.5,1251.4 785.2,1257.3 C787.8,1263.3 788.9,1263.1 792.7,1269.8 C796.4,1276.5 796.9,1273.1 797.6,1279.8 C798.4,1286.5 791.4,1287.4 795.1,1292.3 C798.9,1297.1 804,1293.4 810.1,1296 C816.2,1298.6 815.6,1297.2 815.6,1301 C815.6,1304.7 814.8,1304.4 810.1,1308.5 C805.5,1312.6 802.4,1309.8 800.1,1314.7 C797.9,1319.6 798.9,1320.9 802.6,1324.7 C806.4,1328.4 808.1,1324.2 812.6,1327.2 C817.1,1330.2 818.3,1328.7 817.6,1334.7 C816.8,1340.6 816.1,1341.9 810.1,1347.1 C804.1,1352.4 803.6,1349.1 797.6,1352.1 C791.7,1355.1 790.2,1353.4 790.2,1357.1 C790.2,1360.9 790.9,1362.7 797.6,1364.6 C804.4,1366.5 805.1,1361.9 812.6,1363.3 C820.1,1364.8 815.8,1365.5 822.6,1369.6 C829.3,1373.7 827.9,1373.3 835.1,1377.1 C842.2,1380.8 843.3,1377.6 846.3,1382.1 C849.3,1386.5 849.1,1387.5 845,1392 C840.9,1396.5 839.3,1393.3 832.6,1397 C825.8,1400.8 828.6,1402.3 822.6,1404.5 C816.6,1406.8 818.6,1402.3 812.6,1404.5 C806.6,1406.8 808.6,1409 802.6,1412 C796.6,1415 798.6,1410.7 792.7,1414.5 C786.7,1418.2 788.7,1418.5 782.7,1424.5 C776.7,1430.4 780.2,1431.1 772.7,1434.4 C765.2,1437.8 766,1434.9 757.7,1435.7 C749.5,1436.4 752,1438.1 745.3,1436.9 C738.5,1435.8 739.8,1436.4 735.3,1431.9 C730.8,1427.5 731,1428.7 730.3,1422 C729.5,1415.2 733.5,1416.2 732.8,1409.5 C732,1402.8 733.8,1404.8 727.8,1399.5 C721.8,1394.3 719.6,1397.3 712.8,1392 C706.1,1386.8 709.1,1388 705.3,1382.1 C701.6,1376.1 705.6,1376.6 700.4,1372.1 C695.1,1367.6 692.8,1371.6 687.9,1367.1 C683,1362.6 687.9,1362.4 684.1,1357.1 C680.4,1351.9 678,1355.6 675.4,1349.6 C672.8,1343.6 677.7,1343.9 675.4,1337.2 C673.2,1330.4 673.5,1330.9 667.9,1327.2 C662.3,1323.4 662.3,1328.4 656.7,1324.7 C651.1,1320.9 649.6,1321.4 649.2,1314.7 C648.9,1308 650.6,1308.2 655.5,1302.2 C660.3,1296.2 658.7,1299.2 665.4,1294.8 C672.2,1290.3 671.2,1291 677.9,1287.3 C684.6,1283.5 682.6,1286.8 687.9,1282.3 C693.1,1277.8 689.4,1279 695.4,1272.3 C701.4,1265.6 702.6,1267.3 707.8,1259.8 C713.1,1252.3 712.1,1254.8 712.8,1247.4 C713.6,1239.9 711.1,1241.6 710.3,1234.9 C709.6,1228.2 708.1,1230.1 710.3,1224.9 C712.6,1219.7 713.7,1222.3 717.8,1217.4 C721.9,1212.6 720.7,1213.9 724.1,1208.7Z" fill="#dedede" />
<path d="M724.1,1208.7 C726.7,1203.1 724.9,1203 729,1200 C733.2,1197 732.2,1197.6 737.8,1198.7 C743.4,1199.8 742.5,1203.7 747.8,1203.7 C753,1203.7 750,1200.6 755.2,1198.7 C760.5,1196.8 758.5,1196 765.2,1197.5 C771.9,1199 772.4,1199.2 777.7,1203.7 C782.9,1208.2 781.9,1206.8 782.7,1212.4 C783.4,1218.1 782.8,1215.7 780.2,1222.4 C777.6,1229.2 775.4,1227.4 773.9,1234.9 C772.4,1242.4 772.2,1242.9 775.2,1247.4 C778.2,1251.8 780.9,1246.9 783.9,1249.9 C786.9,1252.8 782.5,1251.4 785.2,1257.3 C787.8,1263.3 788.9,1263.1 792.7,1269.8 C796.4,1276.5 799.1,1275.3 797.6,1279.8 C796.1,1284.3 796.6,1287 787.7,1284.8 C778.7,1282.5 776.7,1283.5 767.7,1272.3 C758.7,1261.1 765.2,1256.3 757.7,1247.4 C750.2,1238.4 754,1251 742.8,1242.4 C731.5,1233.8 725.9,1228.8 720.3,1218.7 C714.7,1208.6 721.4,1214.3 724.1,1208.7Z" fill="url(#gS2)" />
<path d="M790.2,1357.1 C793.2,1355.6 790.9,1362.7 797.6,1364.6 C804.4,1366.5 805.1,1361.9 812.6,1363.3 C820.1,1364.8 815.8,1365.5 822.6,1369.6 C829.3,1373.7 827.9,1373.3 835.1,1377.1 C842.2,1380.8 843.3,1377.6 846.3,1382.1 C849.3,1386.5 849.1,1387.5 845,1392 C840.9,1396.5 839.3,1393.3 832.6,1397 C825.8,1400.8 828.6,1402.3 822.6,1404.5 C816.6,1406.8 818.6,1402.3 812.6,1404.5 C806.6,1406.8 808.6,1409 802.6,1412 C796.6,1415 798.6,1410.7 792.7,1414.5 C786.7,1418.2 788.7,1418.5 782.7,1424.5 C776.7,1430.4 780.2,1431.1 772.7,1434.4 C765.2,1437.8 766,1434.9 757.7,1435.7 C749.5,1436.4 752,1438.1 745.3,1436.9 C738.5,1435.8 739.8,1436.4 735.3,1431.9 C730.8,1427.5 731,1428.7 730.3,1422 C729.5,1415.2 733.5,1416.2 732.8,1409.5 C732,1402.8 733.8,1404.8 727.8,1399.5 C721.8,1394.3 719.6,1397.3 712.8,1392 C706.1,1386.8 705.3,1388.8 705.3,1382.1 C705.3,1375.3 704.6,1370.3 712.8,1369.6 C721.1,1368.8 719.3,1373.6 732.8,1379.6 C746.3,1385.5 744.3,1389.5 757.7,1389.5 C771.2,1389.5 768.7,1385.5 777.7,1379.6 C786.7,1373.6 783.9,1376.3 787.7,1369.6 C791.4,1362.8 787.2,1358.6 790.2,1357.1Z" fill="url(#gS2)" />
<path d="M675.9,1286 C680.8,1279.3 685.4,1274.2 691.6,1279.8 C697.8,1285.4 696.1,1288.3 696.6,1304.7 C697.1,1321.2 696,1318.9 693.4,1334.7 C690.8,1350.4 691.6,1354.1 687.9,1357.1 C684.1,1360.1 683.9,1355.9 680.9,1344.6 C677.9,1333.4 679.6,1332.4 677.9,1319.7 C676.3,1307 676,1312.3 675.4,1302.2 C674.8,1292.1 671.1,1292.8 675.9,1286Z" fill="#14ecec" />
<path d="M691.6,1284.8 C695.4,1277.3 696.5,1284.3 702.9,1279.8 C709.2,1275.3 706.8,1273.6 712.8,1269.8 C718.8,1266.1 715.3,1262.8 722.8,1267.3 C730.3,1271.8 731.8,1274.3 737.8,1284.8 C743.8,1295.3 742.8,1293.3 742.8,1302.2 C742.8,1311.2 745.3,1311 737.8,1314.7 C730.3,1318.4 726.1,1313.2 717.8,1314.7 C709.6,1316.2 713.3,1315.2 710.3,1319.7 C707.3,1324.2 707.8,1323.7 707.8,1329.7 C707.8,1335.7 711.1,1332.2 710.3,1339.7 C709.6,1347.1 709.1,1346.4 705.3,1354.6 C701.6,1362.8 703.1,1363 697.9,1367.1 C692.6,1371.2 691.6,1371.3 687.9,1368.3 C684.1,1365.3 683.9,1363.5 685.4,1357.1 C686.9,1350.8 691,1356.9 692.9,1347.1 C694.7,1337.4 692.4,1337.4 691.6,1324.7 C690.9,1312 690.4,1316.7 690.4,1304.7 C690.4,1292.8 687.9,1292.3 691.6,1284.8Z" fill="#14ecec" />
<path d="M772.7,1284.8 C777.2,1282.5 780.2,1292 787.7,1297.2 C795.1,1302.5 790.9,1302.6 797.6,1302.2 C804.4,1301.9 804.7,1296.4 810.1,1296 C815.5,1295.6 815.6,1297.2 815.6,1301 C815.6,1304.7 814.8,1304.4 810.1,1308.5 C805.5,1312.6 804.6,1309.8 800.1,1314.7 C795.6,1319.6 798.9,1317.2 795.1,1324.7 C791.4,1332.2 792.9,1332.9 787.7,1339.7 C782.4,1346.4 782.2,1348.6 777.7,1347.1 C773.2,1345.6 772.7,1342.1 772.7,1334.7 C772.7,1327.2 777.7,1331.2 777.7,1322.2 C777.7,1313.2 774.2,1316 772.7,1304.7 C771.2,1293.5 768.2,1287 772.7,1284.8Z" fill="#14ecec" />
<path d="M710.3,1224.9 C712.6,1218.5 713.6,1219.4 720.3,1218.7 C727,1217.9 725.3,1225 732.8,1222.4 C740.3,1219.8 738.5,1212.9 745.3,1209.9 C752,1207 750.7,1208.7 755.2,1212.4 C759.7,1216.2 761,1215.7 760.2,1222.4 C759.5,1229.2 758,1228.9 752.7,1234.9 C747.5,1240.9 741.3,1239.4 742.8,1242.4 C744.3,1245.4 752.5,1240.4 757.7,1244.9 C763,1249.4 756.5,1252.1 760.2,1257.3 C764,1262.6 768,1257.8 770.2,1262.3 C772.4,1266.8 765.5,1268.6 767.7,1272.3 C770,1276 774.7,1271.1 777.7,1274.8 C780.7,1278.5 779.9,1280.3 777.7,1284.8 C775.4,1289.3 776.2,1291.3 770.2,1289.8 C764.2,1288.3 766,1284.3 757.7,1279.8 C749.5,1275.3 752.5,1280.8 742.8,1274.8 C733,1268.8 731.3,1268.1 725.3,1259.8 C719.3,1251.6 726.6,1253.3 722.8,1247.4 C719.1,1241.4 716.6,1246.6 712.8,1239.9 C709.1,1233.1 708.1,1231.3 710.3,1224.9Z" fill="#14ecec" />
<path d="M710.3,1329.7 C713.3,1323.7 713.6,1324.9 720.3,1319.7 C727,1314.5 726.1,1313 732.8,1312.2 C739.5,1311.5 738.3,1311.2 742.8,1317.2 C747.3,1323.2 744,1325.4 747.8,1332.2 C751.5,1338.9 750,1338.9 755.2,1339.7 C760.5,1340.4 760,1338.4 765.2,1334.7 C770.5,1330.9 768.2,1327.2 772.7,1327.2 C777.2,1327.2 776.4,1327.9 780.2,1334.7 C783.9,1341.4 782.2,1342.1 785.2,1349.6 C788.2,1357.1 789.4,1352.1 790.2,1359.6 C790.9,1367.1 791.4,1367.8 787.7,1374.6 C783.9,1381.3 782.5,1377.4 777.7,1382.1 C772.8,1386.7 775.9,1385.7 771.4,1390 C767,1394.4 766.8,1397 762.7,1396.5 C758.6,1396 762.2,1391.9 757.7,1388.3 C753.2,1384.7 755.2,1385.7 747.8,1384.6 C740.3,1383.4 741,1383.8 732.8,1384.6 C724.6,1385.3 727,1388.5 720.3,1387 C713.6,1385.5 712.6,1385.5 710.3,1379.6 C708.1,1373.6 709.1,1373.1 712.8,1367.1 C716.6,1361.1 720.6,1365.6 722.8,1359.6 C725.1,1353.6 724.1,1353.1 720.3,1347.1 C716.6,1341.1 713.3,1344.9 710.3,1339.7 C707.3,1334.4 707.3,1335.7 710.3,1329.7Z" fill="#12e612" />
<path d="M722.8,1262.3 C726.6,1257.8 726.1,1255.8 732.8,1257.3 C739.5,1258.8 737.8,1262.8 745.3,1267.3 C752.7,1271.8 751.7,1268.6 757.7,1272.3 C763.7,1276 762.2,1273.8 765.2,1279.8 C768.2,1285.8 764,1287.8 767.7,1292.3 C771.4,1296.7 771.7,1292.9 777.7,1294.8 C783.7,1296.6 783.2,1294.8 787.7,1298.5 C792.2,1302.2 793.4,1301.6 792.7,1307.2 C791.9,1312.8 789.7,1312.7 785.2,1317.2 C780.7,1321.7 782.2,1319.9 777.7,1322.2 C773.2,1324.4 774.7,1320.2 770.2,1324.7 C765.7,1329.2 768,1332.7 762.7,1337.2 C757.5,1341.6 758,1341.9 752.7,1339.7 C747.5,1337.4 748.3,1337.2 745.3,1329.7 C742.3,1322.2 745.8,1321.4 742.8,1314.7 C739.8,1308 736.8,1313.2 735.3,1307.2 C733.8,1301.2 740.8,1301.5 737.8,1294.8 C734.8,1288 730.5,1291.5 725.3,1284.8 C720.1,1278 721.1,1279 720.3,1272.3 C719.6,1265.6 719.1,1266.8 722.8,1262.3Z" fill="#2626b4" />
<path d="M702.4,1298.5 C704.7,1293.9 703.5,1293.9 710.3,1291 C717.2,1288.1 713.7,1288.1 722.8,1289.8 C732,1291.4 734.4,1291 737.8,1296 C741.1,1301 738.6,1301 732.8,1304.7 C727,1308.5 727.8,1305.6 720.3,1307.2 C712.8,1308.9 716,1310.6 710.3,1309.7 C704.7,1308.9 706,1308.5 703.4,1304.7 C700.7,1301 700,1303.1 702.4,1298.5Z" fill="#2626b4" />
</g>
<path d="M731.6,1264.4 C737.2,1255.7 736.9,1258.4 747.3,1257.4 C757.7,1256.5 756.7,1255.4 766.2,1261.2 C775.6,1267.1 771.2,1266.6 778.7,1277 C786.3,1287.3 781.9,1290.4 791.3,1295.8 C800.8,1301.3 803.1,1293.3 810.2,1295.2 C817.3,1297.1 816.8,1295.3 814.9,1302.1 C813,1308.9 803.4,1311.2 803.9,1317.8 C804.4,1324.5 811.8,1315.6 816.5,1324.1 C821.2,1332.6 821.5,1335.8 819.6,1346.2 C817.7,1356.5 809.3,1351.2 810.2,1358.7 C811.1,1366.3 813.3,1366.1 822.8,1371.3 C832.2,1376.5 834.1,1371.3 841.7,1376 C849.2,1380.8 849.8,1380.9 847.9,1387 C846.1,1393.2 842.9,1391.8 835.4,1396.5 C827.8,1401.2 828.4,1396.2 822.8,1402.8 C817.1,1409.4 822.1,1414.7 816.5,1418.5 C810.8,1422.3 809.6,1420.1 803.9,1415.4 C798.2,1410.6 796.7,1411.3 797.6,1402.8 C798.6,1394.3 808,1392.7 807,1387 C806.1,1381.4 801.1,1382 794.5,1383.9 C787.9,1385.8 792.6,1394.3 785,1393.3 C777.5,1392.4 779.7,1383.6 769.3,1380.8 C758.9,1377.9 756.1,1386.7 750.4,1383.9 C744.8,1381.1 746.7,1378.9 750.4,1371.3 C754.2,1363.8 764,1363.5 763,1358.7 C762.1,1354 753.9,1359.4 747.3,1355.6 C740.7,1351.8 741,1352.8 741,1346.2 C741,1339.6 746.3,1342.1 747.3,1333.6 C748.2,1325.1 747.9,1327.3 744.1,1317.8 C740.4,1308.4 739.4,1311.6 734.7,1302.1 C730,1292.7 729.4,1297.7 728.4,1286.4 C727.5,1275.1 725.9,1273.1 731.6,1264.4Z" fill="none" stroke="#ff8c1a" stroke-width="1.4" stroke-linecap="round" stroke-linejoin="round" />
<polygon points="410,1172 381,1203 388,1210 357.5,1218 365,1187.5 373,1195" fill="url(#arC)"/>
<polygon points="466,1320.5 517,1314 517,1306.5 536,1318.5 517,1331 517,1323.5" fill="url(#arD)"/>
<text x="18.4" y="1180.4" fill="#111" font-size="19.6" text-anchor="start" font-weight="bold" >d</text>
<text x="199.2" y="1189.7" fill="#1a1a1a" font-size="19.2" text-anchor="start" font-weight="normal"  stroke="#1a1a1a" stroke-width="0.35">RBD</text>
<line x1="240" y1="1191.5" x2="247" y2="1201" stroke="#111" stroke-width="1.4" />
<text x="137.4" y="1233.4" fill="#f010e8" font-size="18.5" text-anchor="start" font-weight="normal"  stroke="#f010e8" stroke-width="0.35">HCDR1</text>
<line x1="204.9" y1="1233" x2="222.2" y2="1246.5" stroke="#111" stroke-width="1.4" />
<text x="115.4" y="1278.4" fill="#f010e8" font-size="19" text-anchor="start" font-weight="normal"  stroke="#f010e8" stroke-width="0.35">HCDR2</text>
<line x1="183.5" y1="1276.4" x2="205.5" y2="1283.3" stroke="#111" stroke-width="1.4" />
<text x="321.4" y="1281.9" fill="#f010e8" font-size="19.2" text-anchor="start" font-weight="normal"  stroke="#f010e8" stroke-width="0.35">HCDR3</text>
<line x1="318.7" y1="1279.5" x2="281" y2="1290.5" stroke="#111" stroke-width="1.4" />
<text x="346.4" y="1333.2" fill="#9470dc" font-size="19.4" text-anchor="start" font-weight="normal"  stroke="#9470dc" stroke-width="0.35">LCDR2</text>
<line x1="344" y1="1322" x2="306" y2="1312.6" stroke="#111" stroke-width="1.4" />
<text x="135.1" y="1397.4" fill="#9470dc" font-size="19.3" text-anchor="start" font-weight="normal"  stroke="#9470dc" stroke-width="0.35">LCDR3</text>
<line x1="198.6" y1="1381.8" x2="231.3" y2="1361.3" stroke="#111" stroke-width="1.4" />
<text x="178.2" y="1423.4" fill="#9470dc" font-size="19.1" text-anchor="start" font-weight="normal"  stroke="#9470dc" stroke-width="0.35">LCDR1</text>
<line x1="230.7" y1="1408.5" x2="259" y2="1371.4" stroke="#111" stroke-width="1.4" />
<line x1="107.5" y1="1436" x2="107.5" y2="1404.2" stroke="#f01818" stroke-width="2.2" />
<polygon points="107.5,1397 112.7,1404.2 102.3,1404.2" fill="#f01818" />
<line x1="107.5" y1="1436" x2="75.7" y2="1436" stroke="#78a800" stroke-width="2.2" />
<polygon points="68.5,1436 75.7,1430.8 75.7,1441.2" fill="#78a800" />
<circle cx="107.5" cy="1436" r="5.4" fill="url(#sp_b)"/>
<text x="107.9" y="1391.4" fill="#f01818" font-size="17" text-anchor="middle" font-weight="normal"  stroke="#f01818" stroke-width="0.35">y</text>
<text x="117.4" y="1444.4" fill="#1450f0" font-size="17" text-anchor="start" font-weight="normal"  stroke="#1450f0" stroke-width="0.35">x</text>
<text x="57.9" y="1440.6" fill="#78a800" font-size="17" text-anchor="start" font-weight="normal"  stroke="#78a800" stroke-width="0.35">z</text>
<text x="786" y="1230" fill="#3c6ce4" font-size="17" text-anchor="start" font-weight="normal"  stroke="#3c6ce4" stroke-width="0.35">T470</text>
<line x1="785" y1="1228" x2="736" y2="1275.4" stroke="#111" stroke-width="1.4" />
<text x="662.4" y="1248.9" fill="#3c6ce4" font-size="19.1" text-anchor="start" font-weight="normal"  stroke="#3c6ce4" stroke-width="0.35">F490</text>
<line x1="705.8" y1="1248.6" x2="724.6" y2="1261" stroke="#111" stroke-width="1.4" />
<text x="650.4" y="1269.4" fill="#3c6ce4" font-size="19.1" text-anchor="start" font-weight="normal"  stroke="#3c6ce4" stroke-width="0.35">L492</text>
<line x1="695.4" y1="1266" x2="720.5" y2="1274.4" stroke="#111" stroke-width="1.4" />
<text x="619.4" y="1288.8" fill="#3c6ce4" font-size="19.1" text-anchor="start" font-weight="normal"  stroke="#3c6ce4" stroke-width="0.35">L452</text>
<line x1="664" y1="1283" x2="709" y2="1295" stroke="#111" stroke-width="1.4" />
<text x="600.4" y="1317.4" fill="#1a1a1a" font-size="17" text-anchor="start" font-weight="normal"  stroke="#1a1a1a" stroke-width="0.35">RBD</text>
<line x1="637" y1="1313" x2="650" y2="1316" stroke="#111" stroke-width="1.4" />
<text x="811.2" y="1262.7" fill="#ff8c1a" font-size="19.1" text-anchor="start" font-weight="normal"  stroke="#ff8c1a" stroke-width="0.35">Closed</text>
<line x1="810" y1="1264.4" x2="796" y2="1281.7" stroke="#111" stroke-width="1.4" />
<text x="831.4" y="1348" fill="#22cc22" font-size="17.7" text-anchor="start" font-weight="normal"  stroke="#22cc22" stroke-width="0.35">R357</text>
<line x1="829" y1="1346" x2="778.7" y2="1369.7" stroke="#111" stroke-width="1.4" />
<line x1="652" y1="1435" x2="652" y2="1405.2" stroke="#f01818" stroke-width="2.2" />
<polygon points="652,1398 657.2,1405.2 646.8,1405.2" fill="#f01818" />
<line x1="652" y1="1435" x2="620.2" y2="1435" stroke="#78a800" stroke-width="2.2" />
<polygon points="613,1435 620.2,1429.8 620.2,1440.2" fill="#78a800" />
<circle cx="652" cy="1435" r="5.4" fill="url(#sp_b)"/>
<text x="652.4" y="1392.4" fill="#f01818" font-size="17" text-anchor="middle" font-weight="normal"  stroke="#f01818" stroke-width="0.35">y</text>
<text x="661.9" y="1443.4" fill="#1450f0" font-size="17" text-anchor="start" font-weight="normal"  stroke="#1450f0" stroke-width="0.35">x</text>
<text x="602.4" y="1439.6" fill="#78a800" font-size="17" text-anchor="start" font-weight="normal"  stroke="#78a800" stroke-width="0.35">z</text>
<g filter="url(#bump2)">
<path d="M254.1,1553.7 C257.4,1548.5 254.9,1548 259,1545 C263.2,1542 262.2,1542.6 267.8,1543.7 C273.4,1544.8 272.5,1548.7 277.8,1548.7 C283,1548.7 280,1545.6 285.2,1543.7 C290.5,1541.8 288.5,1541 295.2,1542.5 C301.9,1544 302.4,1544.2 307.7,1548.7 C312.9,1553.2 311.9,1551.8 312.7,1557.4 C313.4,1563.1 312.8,1560.7 310.2,1567.4 C307.6,1574.2 305.4,1572.4 303.9,1579.9 C302.4,1587.4 302.2,1587.9 305.2,1592.4 C308.2,1596.8 310.9,1591.9 313.9,1594.9 C316.9,1597.8 312.5,1596.4 315.2,1602.3 C317.8,1608.3 318.9,1608.1 322.7,1614.8 C326.4,1621.5 326.9,1618.1 327.6,1624.8 C328.4,1631.5 321.4,1632.4 325.1,1637.3 C328.9,1642.1 334,1638.4 340.1,1641 C346.2,1643.6 345.6,1642.2 345.6,1646 C345.6,1649.7 344.8,1649.4 340.1,1653.5 C335.5,1657.6 332.4,1654.8 330.1,1659.7 C327.9,1664.6 328.9,1665.9 332.6,1669.7 C336.4,1673.4 338.1,1669.2 342.6,1672.2 C347.1,1675.2 348.3,1673.7 347.6,1679.7 C346.8,1685.6 346.1,1686.9 340.1,1692.1 C334.1,1697.4 333.6,1694.1 327.6,1697.1 C321.7,1700.1 320.2,1698.4 320.2,1702.1 C320.2,1705.9 320.9,1707.7 327.6,1709.6 C334.4,1711.5 335.1,1706.9 342.6,1708.3 C350.1,1709.8 345.8,1710.5 352.6,1714.6 C359.3,1718.7 357.9,1718.3 365.1,1722.1 C372.2,1725.8 373.3,1722.6 376.3,1727.1 C379.3,1731.5 379.1,1732.5 375,1737 C370.9,1741.5 369.3,1738.3 362.6,1742 C355.8,1745.8 358.6,1747.3 352.6,1749.5 C346.6,1751.8 348.6,1747.3 342.6,1749.5 C336.6,1751.8 338.6,1754 332.6,1757 C326.6,1760 328.6,1755.7 322.7,1759.5 C316.7,1763.2 318.7,1763.5 312.7,1769.5 C306.7,1775.4 310.2,1776.1 302.7,1779.4 C295.2,1782.8 296,1779.9 287.7,1780.7 C279.5,1781.4 282,1783.1 275.3,1781.9 C268.5,1780.8 269.8,1781.4 265.3,1776.9 C260.8,1772.5 261,1773.7 260.3,1767 C259.5,1760.2 263.5,1761.2 262.8,1754.5 C262,1747.8 263.8,1749.8 257.8,1744.5 C251.8,1739.3 249.6,1742.3 242.8,1737 C236.1,1731.8 239.1,1733 235.3,1727.1 C231.6,1721.1 235.6,1721.6 230.4,1717.1 C225.1,1712.6 222.8,1716.6 217.9,1712.1 C213,1707.6 217.9,1707.4 214.1,1702.1 C210.4,1696.9 208,1700.6 205.4,1694.6 C202.8,1688.6 207.7,1688.9 205.4,1682.2 C203.2,1675.4 203.5,1675.9 197.9,1672.2 C192.3,1668.4 192.3,1673.4 186.7,1669.7 C181.1,1665.9 179.6,1666.4 179.2,1659.7 C178.9,1653 180.6,1653.2 185.5,1647.2 C190.3,1641.2 188.7,1644.2 195.4,1639.8 C202.2,1635.3 201.2,1636 207.9,1632.3 C214.6,1628.5 212.6,1631.8 217.9,1627.3 C223.1,1622.8 219.4,1624 225.4,1617.3 C231.4,1610.6 232.6,1612.3 237.8,1604.8 C243.1,1597.3 242.1,1599.8 242.8,1592.4 C243.6,1584.9 241.1,1586.6 240.3,1579.9 C239.6,1573.2 238.1,1575.1 240.3,1569.9 C242.6,1564.7 243.7,1567.3 247.8,1562.4 C251.9,1557.6 250.7,1558.9 254.1,1553.7Z" fill="url(#gS3)" />
<path d="M205.9,1631 C210.8,1624.3 215.4,1619.2 221.6,1624.8 C227.8,1630.4 226.1,1633.3 226.6,1649.7 C227.1,1666.2 226,1663.9 223.4,1679.7 C220.8,1695.4 221.6,1699.1 217.9,1702.1 C214.1,1705.1 213.9,1700.9 210.9,1689.6 C207.9,1678.4 209.6,1677.4 207.9,1664.7 C206.3,1652 206,1657.3 205.4,1647.2 C204.8,1637.1 201.1,1637.8 205.9,1631Z" fill="#14ecec" />
<path d="M221.6,1629.8 C225.4,1622.3 226.5,1629.3 232.9,1624.8 C239.2,1620.3 236.8,1618.6 242.8,1614.8 C248.8,1611.1 245.3,1607.8 252.8,1612.3 C260.3,1616.8 261.8,1619.3 267.8,1629.8 C273.8,1640.3 272.8,1638.3 272.8,1647.2 C272.8,1656.2 275.3,1656 267.8,1659.7 C260.3,1663.4 256.1,1658.2 247.8,1659.7 C239.6,1661.2 243.3,1660.2 240.3,1664.7 C237.3,1669.2 237.8,1668.7 237.8,1674.7 C237.8,1680.7 241.1,1677.2 240.3,1684.7 C239.6,1692.1 239.1,1691.4 235.3,1699.6 C231.6,1707.8 233.1,1708 227.9,1712.1 C222.6,1716.2 221.6,1716.3 217.9,1713.3 C214.1,1710.3 213.9,1708.5 215.4,1702.1 C216.9,1695.8 221,1701.9 222.9,1692.1 C224.7,1682.4 222.4,1682.4 221.6,1669.7 C220.9,1657 220.4,1661.7 220.4,1649.7 C220.4,1637.8 217.9,1637.3 221.6,1629.8Z" fill="#14ecec" />
<path d="M302.7,1629.8 C307.2,1627.5 310.2,1637 317.7,1642.2 C325.1,1647.5 320.9,1647.6 327.6,1647.2 C334.4,1646.9 334.7,1641.4 340.1,1641 C345.5,1640.6 345.6,1642.2 345.6,1646 C345.6,1649.7 344.8,1649.4 340.1,1653.5 C335.5,1657.6 334.6,1654.8 330.1,1659.7 C325.6,1664.6 328.9,1662.2 325.1,1669.7 C321.4,1677.2 322.9,1677.9 317.7,1684.7 C312.4,1691.4 312.2,1693.6 307.7,1692.1 C303.2,1690.6 302.7,1687.1 302.7,1679.7 C302.7,1672.2 307.7,1676.2 307.7,1667.2 C307.7,1658.2 304.2,1661 302.7,1649.7 C301.2,1638.5 298.2,1632 302.7,1629.8Z" fill="#14ecec" />
<path d="M240.3,1569.9 C242.6,1563.5 243.6,1564.4 250.3,1563.7 C257,1562.9 255.3,1570 262.8,1567.4 C270.3,1564.8 268.5,1557.9 275.3,1554.9 C282,1552 280.7,1553.7 285.2,1557.4 C289.7,1561.2 291,1560.7 290.2,1567.4 C289.5,1574.2 288,1573.9 282.7,1579.9 C277.5,1585.9 271.3,1584.4 272.8,1587.4 C274.3,1590.4 282.5,1585.4 287.7,1589.9 C293,1594.4 286.5,1597.1 290.2,1602.3 C294,1607.6 298,1602.8 300.2,1607.3 C302.4,1611.8 295.5,1613.6 297.7,1617.3 C300,1621 304.7,1616.1 307.7,1619.8 C310.7,1623.5 309.9,1625.3 307.7,1629.8 C305.4,1634.3 306.2,1636.3 300.2,1634.8 C294.2,1633.3 296,1629.3 287.7,1624.8 C279.5,1620.3 282.5,1625.8 272.8,1619.8 C263,1613.8 261.3,1613.1 255.3,1604.8 C249.3,1596.6 256.6,1598.3 252.8,1592.4 C249.1,1586.4 246.6,1591.6 242.8,1584.9 C239.1,1578.1 238.1,1576.3 240.3,1569.9Z" fill="#14ecec" />
<path d="M240.3,1674.7 C243.3,1668.7 243.6,1669.9 250.3,1664.7 C257,1659.5 256.1,1658 262.8,1657.2 C269.5,1656.5 268.3,1656.2 272.8,1662.2 C277.3,1668.2 274,1670.4 277.8,1677.2 C281.5,1683.9 280,1683.9 285.2,1684.7 C290.5,1685.4 290,1683.4 295.2,1679.7 C300.5,1675.9 298.2,1672.2 302.7,1672.2 C307.2,1672.2 306.4,1672.9 310.2,1679.7 C313.9,1686.4 312.2,1687.1 315.2,1694.6 C318.2,1702.1 319.4,1697.1 320.2,1704.6 C320.9,1712.1 321.4,1712.8 317.7,1719.6 C313.9,1726.3 312.5,1722.4 307.7,1727.1 C302.8,1731.7 305.9,1730.7 301.4,1735 C297,1739.4 296.8,1742 292.7,1741.5 C288.6,1741 292.2,1736.9 287.7,1733.3 C283.2,1729.7 285.2,1730.7 277.8,1729.6 C270.3,1728.4 271,1728.8 262.8,1729.6 C254.6,1730.3 257,1733.5 250.3,1732 C243.6,1730.5 242.6,1730.5 240.3,1724.6 C238.1,1718.6 239.1,1718.1 242.8,1712.1 C246.6,1706.1 250.6,1710.6 252.8,1704.6 C255.1,1698.6 254.1,1698.1 250.3,1692.1 C246.6,1686.1 243.3,1689.9 240.3,1684.7 C237.3,1679.4 237.3,1680.7 240.3,1674.7Z" fill="#12e612" />
<path d="M252.8,1607.3 C256.6,1602.8 256.1,1600.8 262.8,1602.3 C269.5,1603.8 267.8,1607.8 275.3,1612.3 C282.7,1616.8 281.7,1613.6 287.7,1617.3 C293.7,1621 292.2,1618.8 295.2,1624.8 C298.2,1630.8 294,1632.8 297.7,1637.3 C301.4,1641.7 301.7,1637.9 307.7,1639.8 C313.7,1641.6 313.2,1639.8 317.7,1643.5 C322.2,1647.2 323.4,1646.6 322.7,1652.2 C321.9,1657.8 319.7,1657.7 315.2,1662.2 C310.7,1666.7 312.2,1664.9 307.7,1667.2 C303.2,1669.4 304.7,1665.2 300.2,1669.7 C295.7,1674.2 298,1677.7 292.7,1682.2 C287.5,1686.6 288,1686.9 282.7,1684.7 C277.5,1682.4 278.3,1682.2 275.3,1674.7 C272.3,1667.2 275.8,1666.4 272.8,1659.7 C269.8,1653 266.8,1658.2 265.3,1652.2 C263.8,1646.2 270.8,1646.5 267.8,1639.8 C264.8,1633 260.5,1636.5 255.3,1629.8 C250.1,1623 251.1,1624 250.3,1617.3 C249.6,1610.6 249.1,1611.8 252.8,1607.3Z" fill="#2626b4" />
<path d="M232.4,1643.5 C234.7,1638.9 233.5,1638.9 240.3,1636 C247.2,1633.1 243.7,1633.1 252.8,1634.8 C262,1636.4 264.4,1636 267.8,1641 C271.1,1646 268.6,1646 262.8,1649.7 C257,1653.5 257.8,1650.6 250.3,1652.2 C242.8,1653.9 246,1655.6 240.3,1654.7 C234.7,1653.9 236,1653.5 233.4,1649.7 C230.7,1646 230,1648.1 232.4,1643.5Z" fill="#2626b4" />
<ellipse cx="288.6" cy="1552.6" rx="10.7" ry="8.6" fill="#f41414"/>
<ellipse cx="305.8" cy="1557.3" rx="7.9" ry="8.6" fill="#f41414"/>
<ellipse cx="246.4" cy="1583" rx="8.9" ry="14.3" fill="#f41414"/>
<ellipse cx="246.4" cy="1623.5" rx="6.1" ry="14.3" fill="#f41414"/>
<ellipse cx="194.5" cy="1643.9" rx="10" ry="7.9" fill="#f41414"/>
<ellipse cx="207.4" cy="1693.3" rx="3.9" ry="7.2" fill="#f41414"/>
<ellipse cx="250.3" cy="1740.5" rx="9.7" ry="10" fill="#f41414"/>
</g>
<g filter="url(#bump2)">
<path d="M674.3,1566.4 C672.6,1559.7 672.5,1560 678,1555.3 C683.5,1550.7 683.9,1550.9 692.7,1550.9 C701.6,1550.9 698.6,1555.1 707.5,1555.3 C716.3,1555.5 715.1,1550.5 722.2,1551.6 C729.4,1552.7 728.1,1552.4 731.5,1559 C734.8,1565.6 729.4,1567.7 733.3,1573.7 C737.2,1579.8 740.5,1572.6 744.4,1579.3 C748.2,1585.9 746.8,1587.6 746.2,1595.9 C745.7,1604.2 746.4,1602.5 742.5,1606.9 C738.7,1611.4 733.9,1605.1 733.3,1610.6 C732.8,1616.2 735.1,1618.7 740.7,1625.4 C746.2,1632 744,1629.4 751.7,1632.7 C759.5,1636.1 757.6,1634.2 766.5,1636.4 C775.3,1638.6 771.3,1637.4 781.2,1640.1 C791.2,1642.9 790.8,1640.1 799.7,1645.6 C808.5,1651.2 808.5,1650.3 810.7,1658.6 C812.9,1666.9 811.5,1665.6 807.1,1673.3 C802.6,1681 802.6,1678.8 796,1684.4 C789.4,1689.9 788.8,1685.1 784.9,1691.7 C781.1,1698.4 785.3,1698.7 783.1,1706.5 C780.9,1714.2 784.7,1713.1 777.6,1717.6 C770.4,1722 766.9,1715.7 759.1,1721.2 C751.4,1726.8 756.2,1726 751.7,1736 C747.3,1745.9 749.9,1744.5 744.4,1754.4 C738.8,1764.4 739.9,1760.3 733.3,1769.2 C726.7,1778 730,1777.8 722.2,1783.9 C714.5,1790 717.4,1788.3 707.5,1789.5 C697.5,1790.6 700.1,1789.3 689.1,1787.6 C678,1786 681.7,1786.1 670.6,1783.9 C659.6,1781.7 663.2,1785.8 652.2,1780.2 C641.1,1774.7 644.8,1773.2 633.7,1765.5 C622.7,1757.7 623.1,1762.2 615.3,1754.4 C607.6,1746.7 607.9,1748 607.9,1739.7 C607.9,1731.4 607.6,1732.3 615.3,1726.8 C623.1,1721.2 628.2,1729.5 633.7,1721.2 C639.3,1712.9 632.6,1712.4 633.7,1699.1 C634.9,1685.8 631.9,1686.9 637.4,1677 C643,1667 651.6,1672.6 652.2,1665.9 C652.7,1659.3 638.2,1660.4 639.3,1654.9 C640.4,1649.3 649.8,1656.3 655.9,1647.5 C662,1638.6 655.1,1637.5 659.6,1625.4 C664,1613.2 664,1616.9 670.6,1606.9 C677.3,1597 677.8,1601 681.7,1592.2 C685.6,1583.3 685.7,1585.2 683.5,1577.4 C681.3,1569.7 676,1573 674.3,1566.4Z" fill="url(#gS3)" />
<path d="M674.3,1612.5 C678,1607.9 682.7,1607.4 689.1,1609.9 C695.4,1612.3 697.2,1615.3 693.5,1619.8 C689.8,1624.4 684.4,1626 678,1623.5 C671.6,1621.1 670.6,1617 674.3,1612.5Z" fill="#14ecec" />
<path d="M639.3,1649.3 C644.2,1644.4 650.7,1642 657.7,1647.5 C664.7,1653 662.1,1657.9 660.3,1665.9 C658.5,1673.9 658,1672.7 652.2,1671.5 C646.4,1670.2 647.3,1669.6 643,1662.2 C638.7,1654.9 634.4,1654.3 639.3,1649.3Z" fill="#14ecec" />
<path d="M737,1633.5 C740.7,1628.6 741.9,1629.3 755.4,1630.9 C768.9,1632.5 773.9,1632.7 777.6,1638.3 C781.2,1643.8 777.6,1645 766.5,1647.5 C755.4,1650 754.2,1650.3 744.4,1645.6 C734.5,1641 733.3,1638.4 737,1633.5Z" fill="#14ecec" />
<path d="M748.1,1714.6 C751.7,1711.2 756.3,1709.8 761,1712 C765.6,1714.2 765.8,1717.8 762.1,1721.2 C758.4,1724.7 754.6,1724.6 749.9,1722.3 C745.2,1720.1 744.4,1718 748.1,1714.6Z" fill="#14ecec" />
<path d="M720.4,1605.1 C722.7,1601.8 723.8,1600.7 727.8,1602.5 C731.7,1604.4 732.8,1605.7 732.2,1610.6 C731.6,1615.5 729.7,1616.6 725.9,1617.3 C722.1,1617.9 722.6,1616.5 720.8,1612.5 C718.9,1608.4 718.1,1608.4 720.4,1605.1Z" fill="#2828c0" />
<ellipse cx="687.9" cy="1561.9" rx="14" ry="10.3" fill="#f41414"/>
<ellipse cx="736.3" cy="1591.1" rx="8.1" ry="14" fill="#f41414"/>
<ellipse cx="734" cy="1622.4" rx="8.1" ry="10.3" fill="#f41414"/>
<ellipse cx="700.1" cy="1631.6" rx="11.1" ry="14" fill="#f41414"/>
<ellipse cx="744.4" cy="1651.2" rx="13.3" ry="11.1" fill="#f41414"/>
<ellipse cx="766.5" cy="1651.9" rx="14.7" ry="9.6" fill="#f41414"/>
<ellipse cx="788.6" cy="1649.3" rx="11.8" ry="9.6" fill="#f41414"/>
<ellipse cx="770.2" cy="1672.6" rx="5.2" ry="8.8" fill="#f41414"/>
<ellipse cx="775" cy="1706.5" rx="8.1" ry="11.1" fill="#f41414"/>
<ellipse cx="727.8" cy="1708.3" rx="12.5" ry="11.1" fill="#f41414"/>
<ellipse cx="742.5" cy="1732.3" rx="7.4" ry="9.6" fill="#f41414"/>
<ellipse cx="739.6" cy="1753.7" rx="4.4" ry="4.8" fill="#f41414"/>
<ellipse cx="784.9" cy="1662.2" rx="4.4" ry="5.2" fill="#f41414"/>
</g>
<text x="18.7" y="1516.3" fill="#111" font-size="19.6" text-anchor="start" font-weight="bold" >e</text>
<text x="201.7" y="1531.6" fill="#1a1a1a" font-size="19.4" text-anchor="start" font-weight="normal"  stroke="#1a1a1a" stroke-width="0.35">RBD</text>
<line x1="240" y1="1533" x2="259" y2="1548" stroke="#111" stroke-width="1.4" />
<text x="275.7" y="1527.3" fill="#f41414" font-size="19.6" text-anchor="start" font-weight="normal"  stroke="#f41414" stroke-width="0.35">T478K</text>
<line x1="301" y1="1530.4" x2="293" y2="1545.8" stroke="#111" stroke-width="1.4" />
<text x="339.2" y="1559.5" fill="#f41414" font-size="19.6" text-anchor="start" font-weight="normal"  stroke="#f41414" stroke-width="0.35">S477N</text>
<line x1="337.7" y1="1550.8" x2="313.7" y2="1557.3" stroke="#111" stroke-width="1.4" />
<text x="148" y="1573.1" fill="#f41414" font-size="19.6" text-anchor="start" font-weight="normal"  stroke="#f41414" stroke-width="0.35">E484A</text>
<line x1="208" y1="1569.8" x2="242" y2="1587" stroke="#111" stroke-width="1.4" />
<text x="136.2" y="1603.2" fill="#f41414" font-size="19.6" text-anchor="start" font-weight="normal"  stroke="#f41414" stroke-width="0.35">Q493R</text>
<line x1="197.4" y1="1597.4" x2="243.2" y2="1613.8" stroke="#111" stroke-width="1.4" />
<text x="98.7" y="1631.1" fill="#f41414" font-size="19.6" text-anchor="start" font-weight="normal"  stroke="#f41414" stroke-width="0.35">G446S</text>
<line x1="159.8" y1="1629.6" x2="189.5" y2="1645" stroke="#111" stroke-width="1.4" />
<text x="111.2" y="1698.4" fill="#f41414" font-size="19.6" text-anchor="start" font-weight="normal"  stroke="#f41414" stroke-width="0.35">N440K</text>
<line x1="171.6" y1="1689.7" x2="205.2" y2="1694.3" stroke="#111" stroke-width="1.4" />
<text x="148" y="1749.2" fill="#f41414" font-size="19.6" text-anchor="start" font-weight="normal"  stroke="#f41414" stroke-width="0.35">G339D</text>
<line x1="210" y1="1742.7" x2="247.5" y2="1743.4" stroke="#111" stroke-width="1.4" />
<line x1="107.5" y1="1783" x2="107.5" y2="1752.2" stroke="#f01818" stroke-width="2.2" />
<polygon points="107.5,1745 112.7,1752.2 102.3,1752.2" fill="#f01818" />
<line x1="107.5" y1="1783" x2="75.7" y2="1783" stroke="#78a800" stroke-width="2.2" />
<polygon points="68.5,1783 75.7,1777.8 75.7,1788.2" fill="#78a800" />
<circle cx="107.5" cy="1783" r="5.4" fill="url(#sp_b)"/>
<text x="107.9" y="1739.4" fill="#f01818" font-size="17" text-anchor="middle" font-weight="normal"  stroke="#f01818" stroke-width="0.35">y</text>
<text x="117.4" y="1791.4" fill="#1450f0" font-size="17" text-anchor="start" font-weight="normal"  stroke="#1450f0" stroke-width="0.35">x</text>
<text x="57.9" y="1787.6" fill="#78a800" font-size="17" text-anchor="start" font-weight="normal"  stroke="#78a800" stroke-width="0.35">z</text>
<text x="626.1" y="1537.4" fill="#f41414" font-size="19.1" text-anchor="start" font-weight="normal"  stroke="#f41414" stroke-width="0.35">T478K</text>
<line x1="674.3" y1="1538" x2="692" y2="1555.3" stroke="#111" stroke-width="1.4" />
<text x="589.7" y="1566.8" fill="#f41414" font-size="19.6" text-anchor="start" font-weight="normal"  stroke="#f41414" stroke-width="0.35">S477N</text>
<line x1="650.3" y1="1559" x2="677.3" y2="1563.4" stroke="#111" stroke-width="1.4" />
<text x="777.3" y="1570.6" fill="#f41414" font-size="19.3" text-anchor="start" font-weight="normal"  stroke="#f41414" stroke-width="0.35">E484A</text>
<line x1="773.9" y1="1567" x2="740.7" y2="1590.3" stroke="#111" stroke-width="1.4" />
<text x="772.7" y="1600.6" fill="#f41414" font-size="19.6" text-anchor="start" font-weight="normal"  stroke="#f41414" stroke-width="0.35">Q493R</text>
<line x1="771" y1="1597.7" x2="737.7" y2="1621" stroke="#111" stroke-width="1.4" />
<text x="573.7" y="1623.3" fill="#f41414" font-size="19.3" text-anchor="start" font-weight="normal"  stroke="#f41414" stroke-width="0.35">K417N</text>
<line x1="633.7" y1="1616" x2="697" y2="1627" stroke="#111" stroke-width="1.4" />
<text x="794.7" y="1628.4" fill="#f41414" font-size="19.3" text-anchor="start" font-weight="normal"  stroke="#f41414" stroke-width="0.35">G496S</text>
<line x1="793" y1="1627" x2="757" y2="1647.5" stroke="#111" stroke-width="1.4" />
<text x="832.6" y="1652.4" fill="#f41414" font-size="19.3" text-anchor="start" font-weight="normal"  stroke="#f41414" stroke-width="0.35">G446S</text>
<line x1="831" y1="1645.7" x2="792.3" y2="1648.6" stroke="#111" stroke-width="1.4" />
<text x="565.2" y="1660.2" fill="#f41414" font-size="19.3" text-anchor="start" font-weight="normal"  stroke="#f41414" stroke-width="0.35">Y505H</text>
<line x1="624.5" y1="1652" x2="744.4" y2="1652" stroke="#111" stroke-width="1.4" />
<text x="832.6" y="1679.3" fill="#f41414" font-size="19.6" text-anchor="start" font-weight="normal"  stroke="#f41414" stroke-width="0.35">Q498R</text>
<line x1="831" y1="1666.7" x2="777.6" y2="1654" stroke="#111" stroke-width="1.4" />
<text x="827" y="1703.3" fill="#f41414" font-size="19.6" text-anchor="start" font-weight="normal"  stroke="#f41414" stroke-width="0.35">N501Y</text>
<line x1="823.6" y1="1691.7" x2="770" y2="1667.8" stroke="#111" stroke-width="1.4" />
<text x="819.7" y="1725.5" fill="#f41414" font-size="19.3" text-anchor="start" font-weight="normal"  stroke="#f41414" stroke-width="0.35">N440K</text>
<line x1="817.4" y1="1715.7" x2="781" y2="1709" stroke="#111" stroke-width="1.4" />
<text x="795.7" y="1746.4" fill="#f41414" font-size="19.3" text-anchor="start" font-weight="normal"  stroke="#f41414" stroke-width="0.35">S375F</text>
<line x1="793" y1="1734" x2="726" y2="1717.5" stroke="#111" stroke-width="1.4" />
<text x="779.1" y="1769" fill="#f41414" font-size="19.3" text-anchor="start" font-weight="normal"  stroke="#f41414" stroke-width="0.35">S373P</text>
<line x1="777.6" y1="1754.4" x2="742.5" y2="1730.5" stroke="#111" stroke-width="1.4" />
<text x="766.2" y="1792.6" fill="#f41414" font-size="19.5" text-anchor="start" font-weight="normal"  stroke="#f41414" stroke-width="0.35">S371L</text>
<line x1="766.5" y1="1779" x2="740.7" y2="1753.7" stroke="#111" stroke-width="1.4" />
<line x1="585" y1="1784.7" x2="585" y2="1754" stroke="#b01818" stroke-width="1.8" />
<polygon points="585,1745 589.5,1754 580.5,1754" fill="#b01818" />
<line x1="585" y1="1784.7" x2="615" y2="1784.7" stroke="#6a9a00" stroke-width="1.8" />
<polygon points="624,1784.7 615,1789.2 615,1780.2" fill="#6a9a00" />
<circle cx="585" cy="1784.7" r="4.6" fill="#e8e8f8" stroke="#1040e0" stroke-width="2.2"/>
<text x="584.7" y="1737.8" fill="#f01818" font-size="17" text-anchor="middle" font-weight="normal"  stroke="#f01818" stroke-width="0.35">y</text>
<text x="625.7" y="1788.3" fill="#78a800" font-size="17" text-anchor="start" font-weight="normal"  stroke="#78a800" stroke-width="0.35">z</text>
<text x="566.7" y="1788.3" fill="#1450f0" font-size="17" text-anchor="start" font-weight="normal"  stroke="#1450f0" stroke-width="0.35">x</text>
</svg>
</body></html>
